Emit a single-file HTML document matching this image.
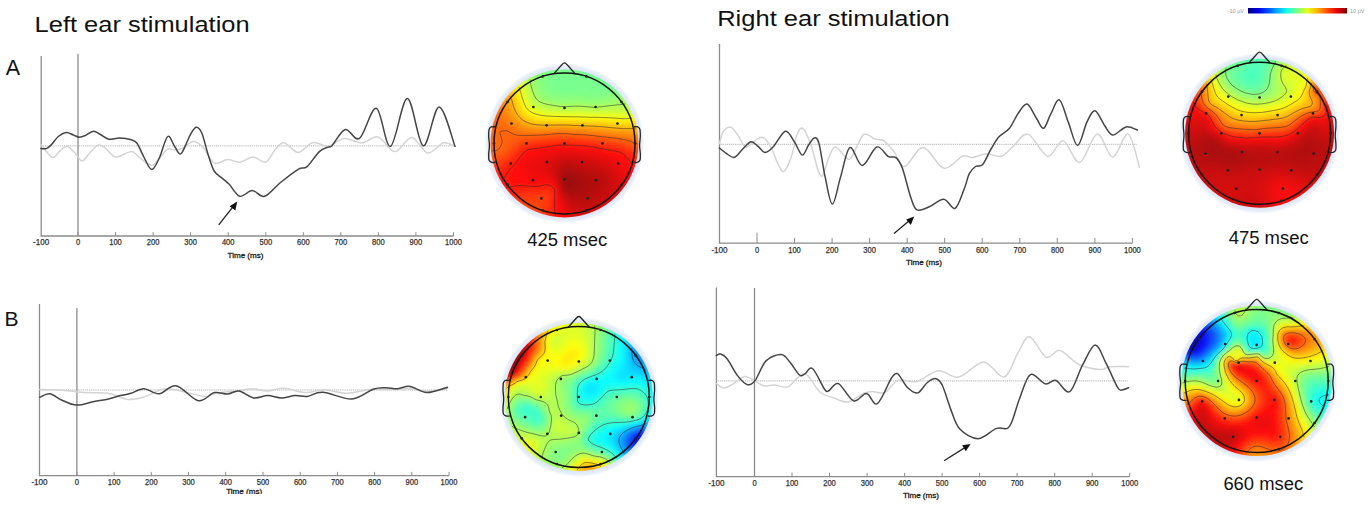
<!DOCTYPE html><html><head><meta charset="utf-8"><style>html,body{margin:0;padding:0;background:#fff;width:1371px;height:509px;overflow:hidden}svg{display:block}.c rect{width:4.6px;height:4.6px}</style></head><body>
<svg width="1371" height="509" viewBox="0 0 1371 509">
<defs><filter id="bl" x="-10%" y="-10%" width="120%" height="120%"><feGaussianBlur stdDeviation="2.2"/></filter>
<radialGradient id="halo"><stop offset="0.9" stop-color="#d9e3f6"/><stop offset="0.96" stop-color="#eaf0fa"/><stop offset="1" stop-color="#fff" stop-opacity="0"/></radialGradient>
<linearGradient id="jet" x1="0" x2="1">
<stop offset="0.00" stop-color="#00007f"/>
<stop offset="0.10" stop-color="#0000e5"/>
<stop offset="0.20" stop-color="#004cff"/>
<stop offset="0.30" stop-color="#00b2ff"/>
<stop offset="0.40" stop-color="#19ffe5"/>
<stop offset="0.50" stop-color="#7fff7f"/>
<stop offset="0.60" stop-color="#e5ff19"/>
<stop offset="0.70" stop-color="#ffb200"/>
<stop offset="0.80" stop-color="#ff4c00"/>
<stop offset="0.90" stop-color="#e50000"/>
<stop offset="1.00" stop-color="#7f0000"/>
</linearGradient>
<clipPath id="cp0"><circle cx="564.5" cy="143.4" r="74"/></clipPath>
<clipPath id="cp1"><circle cx="1259.6" cy="133.3" r="74.5"/></clipPath>
<clipPath id="cp2"><circle cx="578.8" cy="397" r="74"/></clipPath>
<clipPath id="cp3"><circle cx="1256.7" cy="381" r="75.1"/></clipPath>
</defs>
<text x="34.6" y="32.4" font-family="Liberation Sans, sans-serif" font-size="22" fill="#111" textLength="215" lengthAdjust="spacingAndGlyphs">Left ear stimulation</text>
<text x="717.2" y="25.6" font-family="Liberation Sans, sans-serif" font-size="22" fill="#111" textLength="232.5" lengthAdjust="spacingAndGlyphs">Right ear stimulation</text>
<text x="5.8" y="75.4" font-family="Liberation Sans, sans-serif" font-size="21.5" fill="#111">A</text>
<text x="4.4" y="325.6" font-family="Liberation Sans, sans-serif" font-size="21" fill="#111">B</text>
<text x="527.2" y="245.6" font-family="Liberation Sans, sans-serif" font-size="18" fill="#111" textLength="80" lengthAdjust="spacingAndGlyphs">425 msec</text>
<text x="1228.7" y="244" font-family="Liberation Sans, sans-serif" font-size="18" fill="#111" textLength="80" lengthAdjust="spacingAndGlyphs">475 msec</text>
<text x="1223.4" y="490.2" font-family="Liberation Sans, sans-serif" font-size="18" fill="#111" textLength="79.7" lengthAdjust="spacingAndGlyphs">660 msec</text>
<clipPath id="tclip"><rect x="0" y="0" width="1371" height="494"/></clipPath>
<path d="M41.2 56.0V236.0H453.5" fill="none" stroke="#8c8c8c" stroke-width="1.3"/>
<path d="M78.0 54.0V236.0" fill="none" stroke="#8c8c8c" stroke-width="1.3"/>
<path d="M78.0 236.0v-3.8M115.5 236.0v-3.8M153.1 236.0v-3.8M190.6 236.0v-3.8M228.2 236.0v-3.8M265.8 236.0v-3.8M303.3 236.0v-3.8M340.8 236.0v-3.8M378.4 236.0v-3.8M415.9 236.0v-3.8M453.5 236.0v-3.8" fill="none" stroke="#8c8c8c" stroke-width="1"/>
<path d="M41.2 145.9H455.0" fill="none" stroke="#a8a8a8" stroke-width="1" stroke-dasharray="1 0.9"/>
<text x="41.2" y="245.4" font-family="Liberation Sans, sans-serif" font-size="8.3" fill="#333" stroke="#333" stroke-width="0.25" text-anchor="middle" textLength="16.2" lengthAdjust="spacingAndGlyphs">-100</text>
<text x="78.0" y="245.4" font-family="Liberation Sans, sans-serif" font-size="8.3" fill="#333" stroke="#333" stroke-width="0.25" text-anchor="middle" textLength="4.2" lengthAdjust="spacingAndGlyphs">0</text>
<text x="115.5" y="245.4" font-family="Liberation Sans, sans-serif" font-size="8.3" fill="#333" stroke="#333" stroke-width="0.25" text-anchor="middle" textLength="12.6" lengthAdjust="spacingAndGlyphs">100</text>
<text x="153.1" y="245.4" font-family="Liberation Sans, sans-serif" font-size="8.3" fill="#333" stroke="#333" stroke-width="0.25" text-anchor="middle" textLength="12.6" lengthAdjust="spacingAndGlyphs">200</text>
<text x="190.6" y="245.4" font-family="Liberation Sans, sans-serif" font-size="8.3" fill="#333" stroke="#333" stroke-width="0.25" text-anchor="middle" textLength="12.6" lengthAdjust="spacingAndGlyphs">300</text>
<text x="228.2" y="245.4" font-family="Liberation Sans, sans-serif" font-size="8.3" fill="#333" stroke="#333" stroke-width="0.25" text-anchor="middle" textLength="12.6" lengthAdjust="spacingAndGlyphs">400</text>
<text x="265.8" y="245.4" font-family="Liberation Sans, sans-serif" font-size="8.3" fill="#333" stroke="#333" stroke-width="0.25" text-anchor="middle" textLength="12.6" lengthAdjust="spacingAndGlyphs">500</text>
<text x="303.3" y="245.4" font-family="Liberation Sans, sans-serif" font-size="8.3" fill="#333" stroke="#333" stroke-width="0.25" text-anchor="middle" textLength="12.6" lengthAdjust="spacingAndGlyphs">600</text>
<text x="340.8" y="245.4" font-family="Liberation Sans, sans-serif" font-size="8.3" fill="#333" stroke="#333" stroke-width="0.25" text-anchor="middle" textLength="12.6" lengthAdjust="spacingAndGlyphs">700</text>
<text x="378.4" y="245.4" font-family="Liberation Sans, sans-serif" font-size="8.3" fill="#333" stroke="#333" stroke-width="0.25" text-anchor="middle" textLength="12.6" lengthAdjust="spacingAndGlyphs">800</text>
<text x="415.9" y="245.4" font-family="Liberation Sans, sans-serif" font-size="8.3" fill="#333" stroke="#333" stroke-width="0.25" text-anchor="middle" textLength="12.6" lengthAdjust="spacingAndGlyphs">900</text>
<text x="453.5" y="245.4" font-family="Liberation Sans, sans-serif" font-size="8.3" fill="#333" stroke="#333" stroke-width="0.25" text-anchor="middle" textLength="16.8" lengthAdjust="spacingAndGlyphs">1000</text>
<text x="245.5" y="257.6" font-family="Liberation Sans, sans-serif" font-size="7.8" fill="#222" stroke="#222" stroke-width="0.3" text-anchor="middle" textLength="36" lengthAdjust="spacingAndGlyphs">Time (ms)</text>
<path d="M719.5 44.0V243.1H1132.4" fill="none" stroke="#8c8c8c" stroke-width="1.3"/>
<path d="M757.0 243.1v-10.5M794.5 243.1v-5.2M832.1 243.1v-5.2M869.6 243.1v-5.2M907.2 243.1v-5.2M944.7 243.1v-5.2M982.2 243.1v-5.2M1019.8 243.1v-5.2M1057.3 243.1v-5.2M1094.9 243.1v-5.2M1132.4 243.1v-5.2" fill="none" stroke="#8c8c8c" stroke-width="1"/>
<path d="M719.5 144.3H1137.5" fill="none" stroke="#a8a8a8" stroke-width="1" stroke-dasharray="1 0.9"/>
<text x="719.5" y="252.8" font-family="Liberation Sans, sans-serif" font-size="8.3" fill="#333" stroke="#333" stroke-width="0.25" text-anchor="middle" textLength="16.2" lengthAdjust="spacingAndGlyphs">-100</text>
<text x="757.0" y="252.8" font-family="Liberation Sans, sans-serif" font-size="8.3" fill="#333" stroke="#333" stroke-width="0.25" text-anchor="middle" textLength="4.2" lengthAdjust="spacingAndGlyphs">0</text>
<text x="794.5" y="252.8" font-family="Liberation Sans, sans-serif" font-size="8.3" fill="#333" stroke="#333" stroke-width="0.25" text-anchor="middle" textLength="12.6" lengthAdjust="spacingAndGlyphs">100</text>
<text x="832.1" y="252.8" font-family="Liberation Sans, sans-serif" font-size="8.3" fill="#333" stroke="#333" stroke-width="0.25" text-anchor="middle" textLength="12.6" lengthAdjust="spacingAndGlyphs">200</text>
<text x="869.6" y="252.8" font-family="Liberation Sans, sans-serif" font-size="8.3" fill="#333" stroke="#333" stroke-width="0.25" text-anchor="middle" textLength="12.6" lengthAdjust="spacingAndGlyphs">300</text>
<text x="907.2" y="252.8" font-family="Liberation Sans, sans-serif" font-size="8.3" fill="#333" stroke="#333" stroke-width="0.25" text-anchor="middle" textLength="12.6" lengthAdjust="spacingAndGlyphs">400</text>
<text x="944.7" y="252.8" font-family="Liberation Sans, sans-serif" font-size="8.3" fill="#333" stroke="#333" stroke-width="0.25" text-anchor="middle" textLength="12.6" lengthAdjust="spacingAndGlyphs">500</text>
<text x="982.2" y="252.8" font-family="Liberation Sans, sans-serif" font-size="8.3" fill="#333" stroke="#333" stroke-width="0.25" text-anchor="middle" textLength="12.6" lengthAdjust="spacingAndGlyphs">600</text>
<text x="1019.8" y="252.8" font-family="Liberation Sans, sans-serif" font-size="8.3" fill="#333" stroke="#333" stroke-width="0.25" text-anchor="middle" textLength="12.6" lengthAdjust="spacingAndGlyphs">700</text>
<text x="1057.3" y="252.8" font-family="Liberation Sans, sans-serif" font-size="8.3" fill="#333" stroke="#333" stroke-width="0.25" text-anchor="middle" textLength="12.6" lengthAdjust="spacingAndGlyphs">800</text>
<text x="1094.9" y="252.8" font-family="Liberation Sans, sans-serif" font-size="8.3" fill="#333" stroke="#333" stroke-width="0.25" text-anchor="middle" textLength="12.6" lengthAdjust="spacingAndGlyphs">900</text>
<text x="1132.4" y="252.8" font-family="Liberation Sans, sans-serif" font-size="8.3" fill="#333" stroke="#333" stroke-width="0.25" text-anchor="middle" textLength="16.8" lengthAdjust="spacingAndGlyphs">1000</text>
<text x="924.0" y="264.6" font-family="Liberation Sans, sans-serif" font-size="7.8" fill="#222" stroke="#222" stroke-width="0.3" text-anchor="middle" textLength="36" lengthAdjust="spacingAndGlyphs">Time (ms)</text>
<path d="M39.5 304.0V475.7H449.0" fill="none" stroke="#8c8c8c" stroke-width="1.3"/>
<path d="M76.9 308.3V475.7" fill="none" stroke="#8c8c8c" stroke-width="1.3"/>
<path d="M76.9 475.7v-3.8M114.1 475.7v-3.8M151.3 475.7v-3.8M188.5 475.7v-3.8M225.7 475.7v-3.8M263.0 475.7v-3.8M300.2 475.7v-3.8M337.4 475.7v-3.8M374.6 475.7v-3.8M411.8 475.7v-3.8M449.0 475.7v-3.8" fill="none" stroke="#8c8c8c" stroke-width="1"/>
<path d="M39.5 390.0H447.5" fill="none" stroke="#a8a8a8" stroke-width="1" stroke-dasharray="1 0.9"/>
<text x="39.5" y="484.7" font-family="Liberation Sans, sans-serif" font-size="8.3" fill="#333" stroke="#333" stroke-width="0.25" text-anchor="middle" textLength="16.2" lengthAdjust="spacingAndGlyphs">-100</text>
<text x="76.9" y="484.7" font-family="Liberation Sans, sans-serif" font-size="8.3" fill="#333" stroke="#333" stroke-width="0.25" text-anchor="middle" textLength="4.2" lengthAdjust="spacingAndGlyphs">0</text>
<text x="114.1" y="484.7" font-family="Liberation Sans, sans-serif" font-size="8.3" fill="#333" stroke="#333" stroke-width="0.25" text-anchor="middle" textLength="12.6" lengthAdjust="spacingAndGlyphs">100</text>
<text x="151.3" y="484.7" font-family="Liberation Sans, sans-serif" font-size="8.3" fill="#333" stroke="#333" stroke-width="0.25" text-anchor="middle" textLength="12.6" lengthAdjust="spacingAndGlyphs">200</text>
<text x="188.5" y="484.7" font-family="Liberation Sans, sans-serif" font-size="8.3" fill="#333" stroke="#333" stroke-width="0.25" text-anchor="middle" textLength="12.6" lengthAdjust="spacingAndGlyphs">300</text>
<text x="225.7" y="484.7" font-family="Liberation Sans, sans-serif" font-size="8.3" fill="#333" stroke="#333" stroke-width="0.25" text-anchor="middle" textLength="12.6" lengthAdjust="spacingAndGlyphs">400</text>
<text x="263.0" y="484.7" font-family="Liberation Sans, sans-serif" font-size="8.3" fill="#333" stroke="#333" stroke-width="0.25" text-anchor="middle" textLength="12.6" lengthAdjust="spacingAndGlyphs">500</text>
<text x="300.2" y="484.7" font-family="Liberation Sans, sans-serif" font-size="8.3" fill="#333" stroke="#333" stroke-width="0.25" text-anchor="middle" textLength="12.6" lengthAdjust="spacingAndGlyphs">600</text>
<text x="337.4" y="484.7" font-family="Liberation Sans, sans-serif" font-size="8.3" fill="#333" stroke="#333" stroke-width="0.25" text-anchor="middle" textLength="12.6" lengthAdjust="spacingAndGlyphs">700</text>
<text x="374.6" y="484.7" font-family="Liberation Sans, sans-serif" font-size="8.3" fill="#333" stroke="#333" stroke-width="0.25" text-anchor="middle" textLength="12.6" lengthAdjust="spacingAndGlyphs">800</text>
<text x="411.8" y="484.7" font-family="Liberation Sans, sans-serif" font-size="8.3" fill="#333" stroke="#333" stroke-width="0.25" text-anchor="middle" textLength="12.6" lengthAdjust="spacingAndGlyphs">900</text>
<text x="449.0" y="484.7" font-family="Liberation Sans, sans-serif" font-size="8.3" fill="#333" stroke="#333" stroke-width="0.25" text-anchor="middle" textLength="16.8" lengthAdjust="spacingAndGlyphs">1000</text>
<text x="244.2" y="494.4" font-family="Liberation Sans, sans-serif" font-size="7.8" fill="#222" stroke="#222" stroke-width="0.3" text-anchor="middle" textLength="36" lengthAdjust="spacingAndGlyphs" clip-path="url(#tclip)">Time (ms)</text>
<path d="M716.4 287.5V476.6H1129.7" fill="none" stroke="#8c8c8c" stroke-width="1.3"/>
<path d="M754.5 288.0V476.6" fill="none" stroke="#8c8c8c" stroke-width="1.3"/>
<path d="M754.5 476.6v-3.8M792.0 476.6v-3.8M829.5 476.6v-3.8M867.1 476.6v-3.8M904.6 476.6v-3.8M942.1 476.6v-3.8M979.6 476.6v-3.8M1017.1 476.6v-3.8M1054.7 476.6v-3.8M1092.2 476.6v-3.8M1129.7 476.6v-3.8" fill="none" stroke="#8c8c8c" stroke-width="1"/>
<path d="M716.4 380.9H1127.6" fill="none" stroke="#a8a8a8" stroke-width="1" stroke-dasharray="1 0.9"/>
<text x="716.4" y="486.0" font-family="Liberation Sans, sans-serif" font-size="8.3" fill="#333" stroke="#333" stroke-width="0.25" text-anchor="middle" textLength="16.2" lengthAdjust="spacingAndGlyphs">-100</text>
<text x="754.5" y="486.0" font-family="Liberation Sans, sans-serif" font-size="8.3" fill="#333" stroke="#333" stroke-width="0.25" text-anchor="middle" textLength="4.2" lengthAdjust="spacingAndGlyphs">0</text>
<text x="792.0" y="486.0" font-family="Liberation Sans, sans-serif" font-size="8.3" fill="#333" stroke="#333" stroke-width="0.25" text-anchor="middle" textLength="12.6" lengthAdjust="spacingAndGlyphs">100</text>
<text x="829.5" y="486.0" font-family="Liberation Sans, sans-serif" font-size="8.3" fill="#333" stroke="#333" stroke-width="0.25" text-anchor="middle" textLength="12.6" lengthAdjust="spacingAndGlyphs">200</text>
<text x="867.1" y="486.0" font-family="Liberation Sans, sans-serif" font-size="8.3" fill="#333" stroke="#333" stroke-width="0.25" text-anchor="middle" textLength="12.6" lengthAdjust="spacingAndGlyphs">300</text>
<text x="904.6" y="486.0" font-family="Liberation Sans, sans-serif" font-size="8.3" fill="#333" stroke="#333" stroke-width="0.25" text-anchor="middle" textLength="12.6" lengthAdjust="spacingAndGlyphs">400</text>
<text x="942.1" y="486.0" font-family="Liberation Sans, sans-serif" font-size="8.3" fill="#333" stroke="#333" stroke-width="0.25" text-anchor="middle" textLength="12.6" lengthAdjust="spacingAndGlyphs">500</text>
<text x="979.6" y="486.0" font-family="Liberation Sans, sans-serif" font-size="8.3" fill="#333" stroke="#333" stroke-width="0.25" text-anchor="middle" textLength="12.6" lengthAdjust="spacingAndGlyphs">600</text>
<text x="1017.1" y="486.0" font-family="Liberation Sans, sans-serif" font-size="8.3" fill="#333" stroke="#333" stroke-width="0.25" text-anchor="middle" textLength="12.6" lengthAdjust="spacingAndGlyphs">700</text>
<text x="1054.7" y="486.0" font-family="Liberation Sans, sans-serif" font-size="8.3" fill="#333" stroke="#333" stroke-width="0.25" text-anchor="middle" textLength="12.6" lengthAdjust="spacingAndGlyphs">800</text>
<text x="1092.2" y="486.0" font-family="Liberation Sans, sans-serif" font-size="8.3" fill="#333" stroke="#333" stroke-width="0.25" text-anchor="middle" textLength="12.6" lengthAdjust="spacingAndGlyphs">900</text>
<text x="1129.7" y="486.0" font-family="Liberation Sans, sans-serif" font-size="8.3" fill="#333" stroke="#333" stroke-width="0.25" text-anchor="middle" textLength="16.8" lengthAdjust="spacingAndGlyphs">1000</text>
<text x="921.0" y="498.0" font-family="Liberation Sans, sans-serif" font-size="7.8" fill="#222" stroke="#222" stroke-width="0.3" text-anchor="middle" textLength="36" lengthAdjust="spacingAndGlyphs">Time (ms)</text>
<path d="M218.7 224.9L234.5 204.8" stroke="#222" stroke-width="1.3"/><path d="M237.2 201.5L229.6 206.2L235.4 210.5Z" fill="#111"/>
<path d="M894 233.6L911 219.2" stroke="#222" stroke-width="1.3"/><path d="M914.2 216.4L906.2 219.6L910.8 224.9Z" fill="#111"/>
<path d="M944.1 460.8L966.8 446.4" stroke="#222" stroke-width="1.3"/><path d="M970.6 444L962.2 445.2L965.8 451.3Z" fill="#111"/>
<path d="M41 144.5C42.1 145.9 45.4 150.5 47.4 152.7C49.4 154.9 51.1 157.9 53.3 157.5C55.5 157.1 58 152.3 60.4 150.4C62.8 148.5 65 145.6 67.5 146.2C70 146.8 73.2 151.4 75.7 153.9C78.2 156.4 79.8 161.2 82.2 161C84.6 160.8 87.2 155.3 89.9 152.7C92.6 150 95.5 145.9 98.1 145.1C100.6 144.3 102.2 146 105.2 148C108.2 150 111.5 156.3 115.8 156.9C120.1 157.5 127.5 151.7 131.2 151.6C134.9 151.5 135.6 154.4 138.2 156.3C140.8 158.2 144 161.6 146.5 163C149 164.4 150.8 165.8 153 165C155.2 164.2 157.6 160.6 160 158C162.4 155.4 165.2 150.5 167.7 149.2C170.2 147.9 172.4 150.2 175 150C177.6 149.8 180 149.4 183 148C186 146.6 189.7 141.7 193 141.5C196.3 141.3 199.2 143.5 202.7 147.1C206.2 150.7 210.1 161 214.2 163.1C218.3 165.2 223.2 159.7 227.5 159.5C231.8 159.3 235.5 162.6 239.8 162.2C244.1 161.8 248.8 156.9 253.1 156.9C257.4 156.9 261.8 163.4 265.5 162.2C269.2 161 272.1 153.1 275.2 149.8C278.3 146.6 280.2 142.2 284 142.7C287.8 143.1 293.5 152.5 298.2 152.5C302.9 152.5 307.7 143.7 312.4 142.7C317.1 141.7 323.2 146 326.5 146.3C329.8 146.6 329 145.9 332 144.6C335 143.3 339.5 138.7 344.5 138.4C349.5 138.1 356.5 143 362.1 142.8C367.7 142.6 372.6 135.5 378.1 137C383.6 138.5 389.3 151.5 394.9 151.6C400.5 151.7 406.2 137.3 411.7 137.5C417.1 137.7 422.3 152 427.6 152.9C432.9 153.8 438.9 143.9 443.5 142.8C448.1 141.7 453.1 145.7 455 146.3" fill="none" stroke="#d4d4d4" stroke-width="1.5" stroke-linejoin="round" stroke-linecap="round"/>
<path d="M40.9 148.6C41.8 148.6 44.6 149.2 46.3 148.6C48 148 49 147.1 51 145.1C53 143.1 55.5 138.9 58 136.8C60.5 134.7 63.7 132.8 66.3 132.5C68.9 132.2 71.2 134.2 73.4 135C75.6 135.8 77.3 137.1 79.3 137.2C81.3 137.3 82.8 136.6 85.2 135.6C87.6 134.6 90.9 131.4 93.4 131.2C96 131 97.9 133.2 100.5 134.5C103.1 135.8 105.6 138.6 108.8 139.2C112 139.8 115.7 137.9 119.4 138C123.1 138.1 128.3 138.9 131.2 139.8C134.1 140.7 134.8 140.4 137 143.3C139.2 146.2 141.6 153.1 144.1 157.5C146.6 161.9 149.2 169.5 151.8 169.5C154.4 169.5 156.8 163 159.5 157.5C162.2 152 165.1 138.3 167.7 136.5C170.2 134.7 172.6 143.9 174.8 146.8C177 149.7 178.6 154.8 180.7 153.9C182.8 153 185.6 144.7 187.2 141.5C188.8 138.3 188.8 137.2 190.3 134.8C191.8 132.4 194.1 127.5 196 127.2C197.9 126.9 199.8 128.5 201.8 133C203.8 137.5 205.9 147.9 208 154.2C210.1 160.5 211.8 167 214.2 171C216.5 175 219.6 175.9 222.1 178.1C224.6 180.3 226.2 181.3 229.2 184.3C232.1 187.3 236 195.3 239.8 196.3C243.6 197.3 248.1 190.5 252.2 190.5C256.3 190.5 259.9 197.6 264.6 196.3C269.3 195 274.9 187 280.5 182.5C286.1 178 293.8 172 298.2 169.3C302.6 166.7 303.6 169.6 307.1 166.6C310.6 163.6 315.9 154.8 319.4 151.6C322.9 148.3 326.2 148.1 328.3 147.1C330.4 146.1 329.3 148.4 332.1 145.5C334.9 142.6 340.7 130.7 345.3 129.5C349.9 128.3 354.3 141.9 359.5 138.4C364.7 134.9 371.1 107 376.3 108.3C381.5 109.6 385.3 147.9 390.5 146.3C395.7 144.7 401.9 98.7 407.3 98.6C412.8 98.5 417.9 144.4 423.2 145.8C428.5 147.2 433.8 106.8 439.1 106.9C444.4 107 452.4 139.7 455 146.3" fill="none" stroke="#454545" stroke-width="1.5" stroke-linejoin="round" stroke-linecap="round"/>
<path d="M719.4 143.6C720.1 141.5 721.6 133.9 723.5 131.2C725.4 128.5 728.2 126.7 730.6 127.3C733 127.9 735.1 131.5 737.6 134.8C740.1 138.1 742.8 146.1 745.6 147.1C748.4 148.1 751.5 142.6 754.5 141C757.5 139.4 760.5 136.2 763.3 137.4C766.1 138.6 768.6 143.1 771.3 148C773.9 152.9 777 162.8 779.2 166.6C781.4 170.4 782.4 172.8 784.5 171C786.6 169.2 789.5 162 791.6 156C793.7 150 795 139.4 796.9 134.8C798.8 130.2 800.7 126.8 803.1 128.6C805.5 130.4 808.6 138.5 811.1 145.4C813.6 152.3 816.2 165.1 818.1 170.1C820 175.1 820.8 177.6 822.6 175.5C824.4 173.4 826.6 162.6 828.8 157.8C830.9 153.1 832.1 146.7 835.5 147C838.9 147.3 845.3 159.6 848.9 159.4C852.5 159.2 854.5 150.2 857.1 146C859.7 141.8 861.3 135.1 864.4 134C867.5 132.9 872.4 138.2 875.7 139.3C879 140.4 880.9 138.7 884 140.8C887.1 142.9 890.9 147.8 894.3 152.1C897.7 156.4 899.8 167.3 904.6 166.6C909.4 165.8 916.7 147.3 923.2 147.6C929.7 147.9 937.3 166.8 943.8 168.2C950.3 169.6 957.6 158.1 962.4 156.3C967.2 154.5 968.3 158 972.4 157.6C976.5 157.2 982 153.9 986.8 153.7C991.6 153.5 996.8 157.5 1001.3 156.2C1005.8 154.9 1009.1 149.6 1013.6 145.9C1018.1 142.2 1022.4 132.4 1028.1 134.1C1033.8 135.8 1041.8 155.1 1047.7 156.2C1053.6 157.3 1057.9 139.7 1063.2 140.7C1068.5 141.7 1074 163.5 1079.7 162.4C1085.4 161.3 1091.7 135 1097.2 134.1C1102.7 133.2 1107.6 157.2 1112.7 157.2C1117.8 157.2 1123.6 132.4 1128.1 134.1C1132.6 135.8 1137.6 161.9 1139.5 167.5" fill="none" stroke="#d4d4d4" stroke-width="1.5" stroke-linejoin="round" stroke-linecap="round"/>
<path d="M719.4 148C720.5 148.9 723.8 151.7 726.2 153.3C728.7 154.9 731.5 158 734.1 157.4C736.8 156.8 739.3 152.4 742.1 149.8C744.9 147.2 748.2 142.4 750.9 141.8C753.5 141.2 755.6 144.5 758 146.3C760.4 148.1 762.6 152.4 765.1 152.5C767.6 152.6 769.6 150.7 773 147.1C776.4 143.5 781.9 132.1 785.4 131.2C788.9 130.3 791.5 137.8 794.3 141.8C797.1 145.8 799.9 154.5 802.2 155.1C804.6 155.7 806.4 148.2 808.4 145.4C810.4 142.6 812.4 138.3 814.2 138C816 137.7 817.2 137.1 819 143.6C820.8 150.1 823 167.1 825.2 177.2C827.4 187.3 829.8 204.1 832.4 204.1C835 204.1 837.7 186.3 840.6 176.9C843.5 167.5 846.3 149.5 849.9 147.6C853.5 145.7 857.8 165.6 862.3 165.5C866.8 165.4 872.4 148.5 876.7 147C881 145.5 884.8 154.5 888.1 156.3C891.4 158.1 893.9 155.9 896.3 157.9C898.7 159.9 900.1 162 902.5 168.6C904.9 175.2 908.4 190.6 910.8 197.5C913.2 204.4 913.9 208.3 917 209.9C920.1 211.5 924.8 208.6 929.3 206.8C933.8 205 939.5 198.9 943.8 199.2C948.1 199.4 951.7 210 955.1 208.3C958.5 206.6 961.7 195 964.1 189.2C966.5 183.4 967.4 177.5 969.3 173.7C971.2 169.9 973.3 168.1 975.5 166.5C977.7 164.9 980.1 167.3 982.7 164.4C985.3 161.5 988.2 153.6 991 149C993.8 144.4 996.1 140 999.2 136.6C1002.3 133.2 1006.4 132.1 1009.5 128.3C1012.6 124.5 1014.9 118 1017.8 113.9C1020.7 109.9 1024 103.3 1027.1 104C1030.2 104.7 1033.5 114 1036.3 118C1039 122 1041.2 129 1043.6 128.3C1046 127.6 1048.2 118.6 1050.8 113.9C1053.4 109.2 1056.5 98.5 1059.4 99.9C1062.3 101.3 1065.3 114.5 1068.3 122.1C1071.3 129.7 1074.5 145.5 1077.6 145.5C1080.7 145.5 1084 127.9 1086.9 122.1C1089.8 116.3 1092.2 110.3 1095.1 110.8C1098 111.3 1101.5 121.2 1104.4 125.2C1107.3 129.2 1109.1 134.8 1112.7 135.1C1116.3 135.4 1122 127.8 1126.1 126.9C1130.2 126.1 1135.5 129.5 1137.4 130" fill="none" stroke="#454545" stroke-width="1.5" stroke-linejoin="round" stroke-linecap="round"/>
<path d="M39.8 389.5C43.5 389.6 54.2 389.8 62 390.3C69.8 390.8 78.8 392.1 86.5 392.6C94.2 393.1 101.1 392.2 108 393.3C114.9 394.4 122 398.9 127.9 399.5C133.8 400.1 137.6 398.9 143.2 397.2C148.8 395.5 156.5 390.8 161.6 389.5C166.7 388.2 166.7 388.4 173.8 389.5C181 390.6 197.6 395.8 204.5 396.4C211.4 397 209.3 394.3 215.2 393.3C221.1 392.3 233.8 391.1 240 390.3C246.2 389.5 247.7 388.6 252.3 388.7C256.9 388.8 262.2 391.1 267.6 391C273 390.9 278 388 284.4 388.3C290.8 388.6 299.2 392.4 305.8 392.6C312.4 392.9 317.3 389.7 324.2 389.8C331.1 389.9 339.5 393.4 347.2 393.3C354.9 393.2 362.5 390.1 370.2 389.5C377.9 388.9 386.2 389.6 393.1 389.5C400 389.4 405.6 388.4 411.5 388.7C417.4 389 422.4 391.3 428.4 391.3C434.4 391.3 444.3 389.1 447.5 388.7" fill="none" stroke="#d4d4d4" stroke-width="1.5" stroke-linejoin="round" stroke-linecap="round"/>
<path d="M39.8 397.2C41.5 396.6 46.1 393.3 49.8 393.8C53.5 394.3 57.5 398.3 62 400.2C66.5 402.1 71.2 404.9 76.6 405.1C82 405.3 89.2 402.3 94.2 401.4C99.2 400.5 102.1 400.5 106.4 399.5C110.7 398.5 116.1 396.6 120.2 395.6C124.3 394.6 127 394.5 131 393.3C135 392.1 139.3 388.6 144 388.7C148.7 388.8 154 394.3 159.3 393.8C164.7 393.3 169.6 384.6 176.1 385.7C182.6 386.8 191.9 399.5 198.3 400.7C204.7 401.9 209.6 393.7 214.4 392.6C219.2 391.5 223.3 394.4 227.4 394.1C231.5 393.8 234.5 390.4 238.9 391C243.3 391.6 249 397.1 253.8 397.9C258.6 398.7 263 395.6 267.6 395.6C272.2 395.6 276.7 397.9 281.3 397.9C285.9 397.9 290.8 395.9 295.1 395.6C299.5 395.4 302.8 396.9 307.4 396.4C312 395.8 315.3 391.9 322.7 392.3C330.1 392.7 343.4 399.5 351.8 399C360.2 398.5 367.6 391.1 373.2 389.2C378.8 387.3 381.4 387.8 385.5 387.7C389.6 387.6 393.6 388.9 397.7 388.7C401.8 388.5 405.1 385.8 410 386.4C414.9 387 420.6 392.5 426.8 392.6C433.1 392.7 444.1 388.1 447.5 387.2" fill="none" stroke="#454545" stroke-width="1.5" stroke-linejoin="round" stroke-linecap="round"/>
<path d="M716.3 383.6C717.6 384.3 721 388 723.9 388C726.8 388 730.2 385.5 733.6 383.6C737 381.7 741 377 744.4 376.5C747.8 376 750.9 378.8 754.1 380.4C757.4 381.9 760.5 385 763.9 385.8C767.3 386.6 770.8 384.9 774.7 385.1C778.7 385.3 783.7 388.2 787.6 386.9C791.5 385.6 795.1 379.1 798.4 377.1C801.6 375.1 803.5 372.5 807.1 375C810.7 377.5 815.8 388.5 820.1 392.3C824.4 396.1 828.3 396.1 833 397.7C837.7 399.3 843.2 402.7 848.2 402C853.2 401.3 859.3 395.1 863.3 393.4C867.2 391.7 868.3 391.8 871.9 391.6C875.5 391.4 880.6 394.2 884.9 392.3C889.2 390.4 892.6 382.2 897.9 380.4C903.2 378.6 909.9 383.1 916.6 381.5C923.3 379.9 931.2 371.4 938.2 370.7C945.2 370 951.2 378.6 958.8 377.1C966.4 375.7 976 362 983.6 362C991.2 362 998.4 378.5 1004.1 377.1C1009.8 375.7 1013.5 360.1 1017.7 353.4C1021.9 346.7 1024.8 336 1029.5 336.7C1034.2 337.4 1041 355 1046.1 357.3C1051.2 359.6 1054.5 349.2 1059.9 350.4C1065.3 351.5 1071.8 361 1078.5 364.2C1085.2 367.4 1094.8 369.1 1100.1 369.5C1105.3 369.9 1105.2 367.2 1110 366.7C1114.8 366.2 1125.5 366.7 1128.6 366.7" fill="none" stroke="#d4d4d4" stroke-width="1.5" stroke-linejoin="round" stroke-linecap="round"/>
<path d="M716.3 355.5C717 355.2 718.8 353.4 720.6 354C722.4 354.6 724.2 355.1 727.1 358.8C730 362.5 734.5 371.8 737.9 376.1C741.3 380.4 744.8 384 747.7 384.7C750.6 385.4 752.2 384.4 755.2 380.4C758.2 376.4 761.7 365.2 766 360.9C770.3 356.6 777.2 354.3 781.2 354.5C785.2 354.7 786.8 358.6 789.8 362C792.8 365.4 797 373 799.5 375C802 377 802.7 375 804.9 373.9C807.1 372.8 809.2 366 812.5 368.5C815.8 371 821.7 385.3 824.4 389C827.1 392.7 826.4 391.7 828.7 390.8C831 389.9 834.2 381.9 838.4 383.6C842.5 385.3 848.9 399.3 853.6 400.9C858.3 402.5 862.5 392.9 866.5 393.4C870.5 393.9 873.1 406.2 877.3 403.7C881.4 401.2 888.1 383.2 891.4 378.2C894.6 373.2 895.3 373.7 896.8 373.5C898.3 373.3 898.5 374.7 900.4 377.1C902.3 379.5 905.1 385.4 908 388C910.9 390.6 914.5 393.8 917.7 392.9C920.9 392 924.3 384.9 927.4 382.5C930.5 380.1 933.6 378.1 936.1 378.7C938.6 379.2 940 380.5 942.5 385.8C945 391.1 948.3 403.4 951.2 410.6C954.1 417.8 955.3 424.3 959.8 429C964.3 433.7 972.1 438.8 978.2 438.7C984.3 438.6 991.7 430.1 996.6 428.4C1001.5 426.7 1004.7 429.9 1007.4 428.4C1010.1 426.9 1010.8 424.2 1012.8 419.2C1014.8 414.2 1016.7 405.9 1019.6 398.5C1022.5 391.1 1026.1 377.1 1030.4 374.6C1034.7 372.2 1040.9 382.8 1045.2 383.8C1049.5 384.8 1051.9 379.2 1056 380.5C1060.1 381.8 1065.3 394.2 1069.7 391.7C1074.1 389.1 1078.2 373 1082.5 365.2C1086.8 357.4 1091.3 345.4 1095.2 345.1C1099.1 344.8 1102.2 356.1 1106 363.2C1109.8 370.3 1115 383.3 1117.8 387.7C1120.6 392.1 1120.9 389.7 1122.7 389.7C1124.5 389.7 1127.6 388 1128.6 387.7" fill="none" stroke="#454545" stroke-width="1.5" stroke-linejoin="round" stroke-linecap="round"/>
<circle cx="564.5" cy="143.4" r="81.1" fill="url(#halo)"/>
<g clip-path="url(#cp0)"><g filter="url(#bl)" class="c">
<path fill="#7fff89" d="M548.5 63.4h4.6v4.6h-4.6z"/>
<path fill="#7cff8c" d="M552.5 63.4h4.6v4.6h-4.6z"/>
<path fill="#7bff8d" d="M556.5 63.4h4.6v4.6h-4.6z"/>
<path fill="#7aff8f" d="M560.5 63.4h4.6v4.6h-4.6z"/>
<path fill="#79ff8f" d="M564.5 63.4h4.6v4.6h-4.6z"/>
<path fill="#78ff90" d="M568.5 63.4h4.6v4.6h-4.6z"/>
<path fill="#77ff91" d="M572.5 63.4h4.6v4.6h-4.6z"/>
<path fill="#76ff92" d="M576.5 63.4h4.6v4.6h-4.6z"/>
<path fill="#90ff78" d="M536.5 67.4h4.6v4.6h-4.6z"/>
<path fill="#88ff80" d="M540.5 67.4h4.6v4.6h-4.6z"/>
<path fill="#82ff86" d="M544.5 67.4h4.6v4.6h-4.6z"/>
<path fill="#7eff8a" d="M548.5 67.4h4.6v4.6h-4.6z"/>
<path fill="#7cff8c" d="M552.5 67.4h4.6v4.6h-4.6z"/>
<path fill="#7bff8e" d="M556.5 67.4h4.6v4.6h-4.6z"/>
<path fill="#7aff8e" d="M560.5 67.4h4.6v4.6h-4.6z"/>
<path fill="#7aff8f" d="M564.5 67.4h4.6v4.6h-4.6z"/>
<path fill="#79ff8f" d="M568.5 67.4h4.6v4.6h-4.6z"/>
<path fill="#78ff90" d="M572.5 67.4h4.6v4.6h-4.6z"/>
<path fill="#78ff91" d="M576.5 67.4h4.6v4.6h-4.6z"/>
<path fill="#77ff91" d="M580.5 67.4h4.6v4.6h-4.6z"/>
<path fill="#77ff92" d="M584.5 67.4h4.6v4.6h-4.6z"/>
<path fill="#75ff93" d="M588.5 67.4h4.6v4.6h-4.6z"/>
<path fill="#b9ff4f" d="M524.5 71.4h4.6v4.6h-4.6z"/>
<path fill="#a8ff60" d="M528.5 71.4h4.6v4.6h-4.6z"/>
<path fill="#9aff6e" d="M532.5 71.4h4.6v4.6h-4.6z"/>
<path fill="#8fff79" d="M536.5 71.4h4.6v4.6h-4.6z"/>
<path fill="#86ff82" d="M540.5 71.4h4.6v4.6h-4.6z"/>
<path fill="#81ff88" d="M544.5 71.4h4.6v4.6h-4.6z"/>
<path fill="#7dff8b" d="M548.5 71.4h4.6v4.6h-4.6z"/>
<path fill="#7bff8d" d="M552.5 71.4h4.6v4.6h-4.6z"/>
<path fill="#7aff8e" d="M556.5 71.4h4.6v4.6h-4.6z"/>
<path fill="#7aff8e" d="M560.5 71.4h4.6v4.6h-4.6z"/>
<path fill="#7aff8e" d="M564.5 71.4h4.6v4.6h-4.6z"/>
<path fill="#79ff8f" d="M568.5 71.4h4.6v4.6h-4.6z"/>
<path fill="#79ff8f" d="M572.5 71.4h4.6v4.6h-4.6z"/>
<path fill="#79ff90" d="M576.5 71.4h4.6v4.6h-4.6z"/>
<path fill="#79ff90" d="M580.5 71.4h4.6v4.6h-4.6z"/>
<path fill="#79ff90" d="M584.5 71.4h4.6v4.6h-4.6z"/>
<path fill="#78ff90" d="M588.5 71.4h4.6v4.6h-4.6z"/>
<path fill="#77ff92" d="M592.5 71.4h4.6v4.6h-4.6z"/>
<path fill="#74ff94" d="M596.5 71.4h4.6v4.6h-4.6z"/>
<path fill="#71ff98" d="M600.5 71.4h4.6v4.6h-4.6z"/>
<path fill="#d1ff37" d="M520.5 75.4h4.6v4.6h-4.6z"/>
<path fill="#bcff4c" d="M524.5 75.4h4.6v4.6h-4.6z"/>
<path fill="#a9ff5f" d="M528.5 75.4h4.6v4.6h-4.6z"/>
<path fill="#9aff6f" d="M532.5 75.4h4.6v4.6h-4.6z"/>
<path fill="#8eff7a" d="M536.5 75.4h4.6v4.6h-4.6z"/>
<path fill="#85ff83" d="M540.5 75.4h4.6v4.6h-4.6z"/>
<path fill="#7fff89" d="M544.5 75.4h4.6v4.6h-4.6z"/>
<path fill="#7cff8c" d="M548.5 75.4h4.6v4.6h-4.6z"/>
<path fill="#7aff8e" d="M552.5 75.4h4.6v4.6h-4.6z"/>
<path fill="#79ff8f" d="M556.5 75.4h4.6v4.6h-4.6z"/>
<path fill="#79ff8f" d="M560.5 75.4h4.6v4.6h-4.6z"/>
<path fill="#79ff8f" d="M564.5 75.4h4.6v4.6h-4.6z"/>
<path fill="#79ff8f" d="M568.5 75.4h4.6v4.6h-4.6z"/>
<path fill="#79ff8f" d="M572.5 75.4h4.6v4.6h-4.6z"/>
<path fill="#79ff8f" d="M576.5 75.4h4.6v4.6h-4.6z"/>
<path fill="#79ff8f" d="M580.5 75.4h4.6v4.6h-4.6z"/>
<path fill="#7aff8e" d="M584.5 75.4h4.6v4.6h-4.6z"/>
<path fill="#7aff8e" d="M588.5 75.4h4.6v4.6h-4.6z"/>
<path fill="#79ff8f" d="M592.5 75.4h4.6v4.6h-4.6z"/>
<path fill="#76ff92" d="M596.5 75.4h4.6v4.6h-4.6z"/>
<path fill="#73ff95" d="M600.5 75.4h4.6v4.6h-4.6z"/>
<path fill="#70ff98" d="M604.5 75.4h4.6v4.6h-4.6z"/>
<path fill="#fff80a" d="M512.5 79.4h4.6v4.6h-4.6z"/>
<path fill="#eeff1a" d="M516.5 79.4h4.6v4.6h-4.6z"/>
<path fill="#d7ff31" d="M520.5 79.4h4.6v4.6h-4.6z"/>
<path fill="#bfff49" d="M524.5 79.4h4.6v4.6h-4.6z"/>
<path fill="#aaff5e" d="M528.5 79.4h4.6v4.6h-4.6z"/>
<path fill="#9aff6e" d="M532.5 79.4h4.6v4.6h-4.6z"/>
<path fill="#8eff7a" d="M536.5 79.4h4.6v4.6h-4.6z"/>
<path fill="#85ff83" d="M540.5 79.4h4.6v4.6h-4.6z"/>
<path fill="#7fff89" d="M544.5 79.4h4.6v4.6h-4.6z"/>
<path fill="#7cff8d" d="M548.5 79.4h4.6v4.6h-4.6z"/>
<path fill="#7aff8f" d="M552.5 79.4h4.6v4.6h-4.6z"/>
<path fill="#79ff8f" d="M556.5 79.4h4.6v4.6h-4.6z"/>
<path fill="#79ff90" d="M560.5 79.4h4.6v4.6h-4.6z"/>
<path fill="#79ff90" d="M564.5 79.4h4.6v4.6h-4.6z"/>
<path fill="#79ff90" d="M568.5 79.4h4.6v4.6h-4.6z"/>
<path fill="#79ff90" d="M572.5 79.4h4.6v4.6h-4.6z"/>
<path fill="#79ff8f" d="M576.5 79.4h4.6v4.6h-4.6z"/>
<path fill="#79ff8f" d="M580.5 79.4h4.6v4.6h-4.6z"/>
<path fill="#7aff8e" d="M584.5 79.4h4.6v4.6h-4.6z"/>
<path fill="#7aff8e" d="M588.5 79.4h4.6v4.6h-4.6z"/>
<path fill="#79ff8f" d="M592.5 79.4h4.6v4.6h-4.6z"/>
<path fill="#77ff91" d="M596.5 79.4h4.6v4.6h-4.6z"/>
<path fill="#75ff93" d="M600.5 79.4h4.6v4.6h-4.6z"/>
<path fill="#73ff95" d="M604.5 79.4h4.6v4.6h-4.6z"/>
<path fill="#71ff97" d="M608.5 79.4h4.6v4.6h-4.6z"/>
<path fill="#70ff98" d="M612.5 79.4h4.6v4.6h-4.6z"/>
<path fill="#ffd80a" d="M508.5 83.4h4.6v4.6h-4.6z"/>
<path fill="#ffee0a" d="M512.5 83.4h4.6v4.6h-4.6z"/>
<path fill="#f8ff10" d="M516.5 83.4h4.6v4.6h-4.6z"/>
<path fill="#deff2a" d="M520.5 83.4h4.6v4.6h-4.6z"/>
<path fill="#c5ff44" d="M524.5 83.4h4.6v4.6h-4.6z"/>
<path fill="#aeff5b" d="M528.5 83.4h4.6v4.6h-4.6z"/>
<path fill="#9cff6c" d="M532.5 83.4h4.6v4.6h-4.6z"/>
<path fill="#8fff79" d="M536.5 83.4h4.6v4.6h-4.6z"/>
<path fill="#86ff82" d="M540.5 83.4h4.6v4.6h-4.6z"/>
<path fill="#80ff88" d="M544.5 83.4h4.6v4.6h-4.6z"/>
<path fill="#7cff8c" d="M548.5 83.4h4.6v4.6h-4.6z"/>
<path fill="#7aff8e" d="M552.5 83.4h4.6v4.6h-4.6z"/>
<path fill="#79ff8f" d="M556.5 83.4h4.6v4.6h-4.6z"/>
<path fill="#79ff8f" d="M560.5 83.4h4.6v4.6h-4.6z"/>
<path fill="#79ff8f" d="M564.5 83.4h4.6v4.6h-4.6z"/>
<path fill="#79ff8f" d="M568.5 83.4h4.6v4.6h-4.6z"/>
<path fill="#79ff8f" d="M572.5 83.4h4.6v4.6h-4.6z"/>
<path fill="#79ff8f" d="M576.5 83.4h4.6v4.6h-4.6z"/>
<path fill="#7aff8f" d="M580.5 83.4h4.6v4.6h-4.6z"/>
<path fill="#7aff8e" d="M584.5 83.4h4.6v4.6h-4.6z"/>
<path fill="#7aff8f" d="M588.5 83.4h4.6v4.6h-4.6z"/>
<path fill="#79ff8f" d="M592.5 83.4h4.6v4.6h-4.6z"/>
<path fill="#78ff90" d="M596.5 83.4h4.6v4.6h-4.6z"/>
<path fill="#77ff92" d="M600.5 83.4h4.6v4.6h-4.6z"/>
<path fill="#76ff92" d="M604.5 83.4h4.6v4.6h-4.6z"/>
<path fill="#75ff93" d="M608.5 83.4h4.6v4.6h-4.6z"/>
<path fill="#75ff93" d="M612.5 83.4h4.6v4.6h-4.6z"/>
<path fill="#76ff93" d="M616.5 83.4h4.6v4.6h-4.6z"/>
<path fill="#ffba0a" d="M504.5 87.4h4.6v4.6h-4.6z"/>
<path fill="#ffcd0a" d="M508.5 87.4h4.6v4.6h-4.6z"/>
<path fill="#ffe20a" d="M512.5 87.4h4.6v4.6h-4.6z"/>
<path fill="#fffb0a" d="M516.5 87.4h4.6v4.6h-4.6z"/>
<path fill="#e6ff22" d="M520.5 87.4h4.6v4.6h-4.6z"/>
<path fill="#cbff3d" d="M524.5 87.4h4.6v4.6h-4.6z"/>
<path fill="#b4ff55" d="M528.5 87.4h4.6v4.6h-4.6z"/>
<path fill="#a1ff68" d="M532.5 87.4h4.6v4.6h-4.6z"/>
<path fill="#93ff75" d="M536.5 87.4h4.6v4.6h-4.6z"/>
<path fill="#89ff7f" d="M540.5 87.4h4.6v4.6h-4.6z"/>
<path fill="#83ff85" d="M544.5 87.4h4.6v4.6h-4.6z"/>
<path fill="#7fff89" d="M548.5 87.4h4.6v4.6h-4.6z"/>
<path fill="#7dff8c" d="M552.5 87.4h4.6v4.6h-4.6z"/>
<path fill="#7bff8d" d="M556.5 87.4h4.6v4.6h-4.6z"/>
<path fill="#7bff8d" d="M560.5 87.4h4.6v4.6h-4.6z"/>
<path fill="#7bff8d" d="M564.5 87.4h4.6v4.6h-4.6z"/>
<path fill="#7bff8d" d="M568.5 87.4h4.6v4.6h-4.6z"/>
<path fill="#7bff8d" d="M572.5 87.4h4.6v4.6h-4.6z"/>
<path fill="#7bff8d" d="M576.5 87.4h4.6v4.6h-4.6z"/>
<path fill="#7bff8d" d="M580.5 87.4h4.6v4.6h-4.6z"/>
<path fill="#7bff8d" d="M584.5 87.4h4.6v4.6h-4.6z"/>
<path fill="#7aff8e" d="M588.5 87.4h4.6v4.6h-4.6z"/>
<path fill="#7aff8e" d="M592.5 87.4h4.6v4.6h-4.6z"/>
<path fill="#7aff8f" d="M596.5 87.4h4.6v4.6h-4.6z"/>
<path fill="#7aff8f" d="M600.5 87.4h4.6v4.6h-4.6z"/>
<path fill="#7aff8e" d="M604.5 87.4h4.6v4.6h-4.6z"/>
<path fill="#7bff8e" d="M608.5 87.4h4.6v4.6h-4.6z"/>
<path fill="#7bff8d" d="M612.5 87.4h4.6v4.6h-4.6z"/>
<path fill="#7cff8c" d="M616.5 87.4h4.6v4.6h-4.6z"/>
<path fill="#7eff8a" d="M620.5 87.4h4.6v4.6h-4.6z"/>
<path fill="#ffa00a" d="M500.5 91.4h4.6v4.6h-4.6z"/>
<path fill="#ffaf0a" d="M504.5 91.4h4.6v4.6h-4.6z"/>
<path fill="#ffc10a" d="M508.5 91.4h4.6v4.6h-4.6z"/>
<path fill="#ffd70a" d="M512.5 91.4h4.6v4.6h-4.6z"/>
<path fill="#fff20a" d="M516.5 91.4h4.6v4.6h-4.6z"/>
<path fill="#efff19" d="M520.5 91.4h4.6v4.6h-4.6z"/>
<path fill="#d3ff35" d="M524.5 91.4h4.6v4.6h-4.6z"/>
<path fill="#bbff4e" d="M528.5 91.4h4.6v4.6h-4.6z"/>
<path fill="#a7ff61" d="M532.5 91.4h4.6v4.6h-4.6z"/>
<path fill="#98ff70" d="M536.5 91.4h4.6v4.6h-4.6z"/>
<path fill="#8fff79" d="M540.5 91.4h4.6v4.6h-4.6z"/>
<path fill="#89ff80" d="M544.5 91.4h4.6v4.6h-4.6z"/>
<path fill="#84ff84" d="M548.5 91.4h4.6v4.6h-4.6z"/>
<path fill="#82ff87" d="M552.5 91.4h4.6v4.6h-4.6z"/>
<path fill="#80ff88" d="M556.5 91.4h4.6v4.6h-4.6z"/>
<path fill="#7fff89" d="M560.5 91.4h4.6v4.6h-4.6z"/>
<path fill="#7fff89" d="M564.5 91.4h4.6v4.6h-4.6z"/>
<path fill="#7fff89" d="M568.5 91.4h4.6v4.6h-4.6z"/>
<path fill="#7fff89" d="M572.5 91.4h4.6v4.6h-4.6z"/>
<path fill="#80ff89" d="M576.5 91.4h4.6v4.6h-4.6z"/>
<path fill="#7fff89" d="M580.5 91.4h4.6v4.6h-4.6z"/>
<path fill="#7fff8a" d="M584.5 91.4h4.6v4.6h-4.6z"/>
<path fill="#7eff8a" d="M588.5 91.4h4.6v4.6h-4.6z"/>
<path fill="#7dff8b" d="M592.5 91.4h4.6v4.6h-4.6z"/>
<path fill="#7eff8a" d="M596.5 91.4h4.6v4.6h-4.6z"/>
<path fill="#7fff89" d="M600.5 91.4h4.6v4.6h-4.6z"/>
<path fill="#80ff88" d="M604.5 91.4h4.6v4.6h-4.6z"/>
<path fill="#82ff86" d="M608.5 91.4h4.6v4.6h-4.6z"/>
<path fill="#83ff85" d="M612.5 91.4h4.6v4.6h-4.6z"/>
<path fill="#85ff83" d="M616.5 91.4h4.6v4.6h-4.6z"/>
<path fill="#87ff81" d="M620.5 91.4h4.6v4.6h-4.6z"/>
<path fill="#89ff7f" d="M624.5 91.4h4.6v4.6h-4.6z"/>
<path fill="#ff970a" d="M500.5 95.4h4.6v4.6h-4.6z"/>
<path fill="#ffa40a" d="M504.5 95.4h4.6v4.6h-4.6z"/>
<path fill="#ffb50a" d="M508.5 95.4h4.6v4.6h-4.6z"/>
<path fill="#ffcd0a" d="M512.5 95.4h4.6v4.6h-4.6z"/>
<path fill="#ffe80a" d="M516.5 95.4h4.6v4.6h-4.6z"/>
<path fill="#f8ff11" d="M520.5 95.4h4.6v4.6h-4.6z"/>
<path fill="#dcff2d" d="M524.5 95.4h4.6v4.6h-4.6z"/>
<path fill="#c3ff45" d="M528.5 95.4h4.6v4.6h-4.6z"/>
<path fill="#afff59" d="M532.5 95.4h4.6v4.6h-4.6z"/>
<path fill="#a1ff68" d="M536.5 95.4h4.6v4.6h-4.6z"/>
<path fill="#97ff71" d="M540.5 95.4h4.6v4.6h-4.6z"/>
<path fill="#91ff77" d="M544.5 95.4h4.6v4.6h-4.6z"/>
<path fill="#8dff7b" d="M548.5 95.4h4.6v4.6h-4.6z"/>
<path fill="#8aff7e" d="M552.5 95.4h4.6v4.6h-4.6z"/>
<path fill="#88ff80" d="M556.5 95.4h4.6v4.6h-4.6z"/>
<path fill="#87ff81" d="M560.5 95.4h4.6v4.6h-4.6z"/>
<path fill="#87ff82" d="M564.5 95.4h4.6v4.6h-4.6z"/>
<path fill="#87ff81" d="M568.5 95.4h4.6v4.6h-4.6z"/>
<path fill="#88ff81" d="M572.5 95.4h4.6v4.6h-4.6z"/>
<path fill="#88ff81" d="M576.5 95.4h4.6v4.6h-4.6z"/>
<path fill="#87ff81" d="M580.5 95.4h4.6v4.6h-4.6z"/>
<path fill="#86ff82" d="M584.5 95.4h4.6v4.6h-4.6z"/>
<path fill="#85ff83" d="M588.5 95.4h4.6v4.6h-4.6z"/>
<path fill="#85ff84" d="M592.5 95.4h4.6v4.6h-4.6z"/>
<path fill="#85ff83" d="M596.5 95.4h4.6v4.6h-4.6z"/>
<path fill="#87ff81" d="M600.5 95.4h4.6v4.6h-4.6z"/>
<path fill="#8aff7f" d="M604.5 95.4h4.6v4.6h-4.6z"/>
<path fill="#8cff7c" d="M608.5 95.4h4.6v4.6h-4.6z"/>
<path fill="#8eff7a" d="M612.5 95.4h4.6v4.6h-4.6z"/>
<path fill="#90ff78" d="M616.5 95.4h4.6v4.6h-4.6z"/>
<path fill="#92ff76" d="M620.5 95.4h4.6v4.6h-4.6z"/>
<path fill="#95ff73" d="M624.5 95.4h4.6v4.6h-4.6z"/>
<path fill="#ff840a" d="M496.5 99.4h4.6v4.6h-4.6z"/>
<path fill="#ff8f0a" d="M500.5 99.4h4.6v4.6h-4.6z"/>
<path fill="#ff9b0a" d="M504.5 99.4h4.6v4.6h-4.6z"/>
<path fill="#ffac0a" d="M508.5 99.4h4.6v4.6h-4.6z"/>
<path fill="#ffc40a" d="M512.5 99.4h4.6v4.6h-4.6z"/>
<path fill="#ffe00a" d="M516.5 99.4h4.6v4.6h-4.6z"/>
<path fill="#fffc0a" d="M520.5 99.4h4.6v4.6h-4.6z"/>
<path fill="#e5ff23" d="M524.5 99.4h4.6v4.6h-4.6z"/>
<path fill="#ceff3b" d="M528.5 99.4h4.6v4.6h-4.6z"/>
<path fill="#bbff4e" d="M532.5 99.4h4.6v4.6h-4.6z"/>
<path fill="#adff5b" d="M536.5 99.4h4.6v4.6h-4.6z"/>
<path fill="#a5ff64" d="M540.5 99.4h4.6v4.6h-4.6z"/>
<path fill="#9fff69" d="M544.5 99.4h4.6v4.6h-4.6z"/>
<path fill="#9bff6e" d="M548.5 99.4h4.6v4.6h-4.6z"/>
<path fill="#97ff71" d="M552.5 99.4h4.6v4.6h-4.6z"/>
<path fill="#94ff74" d="M556.5 99.4h4.6v4.6h-4.6z"/>
<path fill="#93ff75" d="M560.5 99.4h4.6v4.6h-4.6z"/>
<path fill="#93ff76" d="M564.5 99.4h4.6v4.6h-4.6z"/>
<path fill="#94ff75" d="M568.5 99.4h4.6v4.6h-4.6z"/>
<path fill="#94ff74" d="M572.5 99.4h4.6v4.6h-4.6z"/>
<path fill="#95ff74" d="M576.5 99.4h4.6v4.6h-4.6z"/>
<path fill="#94ff74" d="M580.5 99.4h4.6v4.6h-4.6z"/>
<path fill="#92ff76" d="M584.5 99.4h4.6v4.6h-4.6z"/>
<path fill="#91ff78" d="M588.5 99.4h4.6v4.6h-4.6z"/>
<path fill="#90ff78" d="M592.5 99.4h4.6v4.6h-4.6z"/>
<path fill="#91ff77" d="M596.5 99.4h4.6v4.6h-4.6z"/>
<path fill="#94ff74" d="M600.5 99.4h4.6v4.6h-4.6z"/>
<path fill="#97ff72" d="M604.5 99.4h4.6v4.6h-4.6z"/>
<path fill="#99ff6f" d="M608.5 99.4h4.6v4.6h-4.6z"/>
<path fill="#9bff6d" d="M612.5 99.4h4.6v4.6h-4.6z"/>
<path fill="#9eff6b" d="M616.5 99.4h4.6v4.6h-4.6z"/>
<path fill="#a0ff68" d="M620.5 99.4h4.6v4.6h-4.6z"/>
<path fill="#a2ff66" d="M624.5 99.4h4.6v4.6h-4.6z"/>
<path fill="#a5ff63" d="M628.5 99.4h4.6v4.6h-4.6z"/>
<path fill="#ff770a" d="M492.5 103.4h4.6v4.6h-4.6z"/>
<path fill="#ff7e0a" d="M496.5 103.4h4.6v4.6h-4.6z"/>
<path fill="#ff880a" d="M500.5 103.4h4.6v4.6h-4.6z"/>
<path fill="#ff950a" d="M504.5 103.4h4.6v4.6h-4.6z"/>
<path fill="#ffa60a" d="M508.5 103.4h4.6v4.6h-4.6z"/>
<path fill="#ffbc0a" d="M512.5 103.4h4.6v4.6h-4.6z"/>
<path fill="#ffd70a" d="M516.5 103.4h4.6v4.6h-4.6z"/>
<path fill="#fff20a" d="M520.5 103.4h4.6v4.6h-4.6z"/>
<path fill="#f1ff17" d="M524.5 103.4h4.6v4.6h-4.6z"/>
<path fill="#dbff2d" d="M528.5 103.4h4.6v4.6h-4.6z"/>
<path fill="#cbff3d" d="M532.5 103.4h4.6v4.6h-4.6z"/>
<path fill="#bfff49" d="M536.5 103.4h4.6v4.6h-4.6z"/>
<path fill="#b7ff51" d="M540.5 103.4h4.6v4.6h-4.6z"/>
<path fill="#b2ff57" d="M544.5 103.4h4.6v4.6h-4.6z"/>
<path fill="#adff5b" d="M548.5 103.4h4.6v4.6h-4.6z"/>
<path fill="#aaff5e" d="M552.5 103.4h4.6v4.6h-4.6z"/>
<path fill="#a7ff61" d="M556.5 103.4h4.6v4.6h-4.6z"/>
<path fill="#a4ff64" d="M560.5 103.4h4.6v4.6h-4.6z"/>
<path fill="#a4ff64" d="M564.5 103.4h4.6v4.6h-4.6z"/>
<path fill="#a6ff62" d="M568.5 103.4h4.6v4.6h-4.6z"/>
<path fill="#a7ff61" d="M572.5 103.4h4.6v4.6h-4.6z"/>
<path fill="#a7ff61" d="M576.5 103.4h4.6v4.6h-4.6z"/>
<path fill="#a6ff62" d="M580.5 103.4h4.6v4.6h-4.6z"/>
<path fill="#a4ff64" d="M584.5 103.4h4.6v4.6h-4.6z"/>
<path fill="#a2ff66" d="M588.5 103.4h4.6v4.6h-4.6z"/>
<path fill="#a1ff68" d="M592.5 103.4h4.6v4.6h-4.6z"/>
<path fill="#a2ff66" d="M596.5 103.4h4.6v4.6h-4.6z"/>
<path fill="#a5ff63" d="M600.5 103.4h4.6v4.6h-4.6z"/>
<path fill="#a8ff60" d="M604.5 103.4h4.6v4.6h-4.6z"/>
<path fill="#aaff5e" d="M608.5 103.4h4.6v4.6h-4.6z"/>
<path fill="#acff5c" d="M612.5 103.4h4.6v4.6h-4.6z"/>
<path fill="#aeff5a" d="M616.5 103.4h4.6v4.6h-4.6z"/>
<path fill="#b0ff59" d="M620.5 103.4h4.6v4.6h-4.6z"/>
<path fill="#b2ff56" d="M624.5 103.4h4.6v4.6h-4.6z"/>
<path fill="#b5ff53" d="M628.5 103.4h4.6v4.6h-4.6z"/>
<path fill="#b9ff50" d="M632.5 103.4h4.6v4.6h-4.6z"/>
<path fill="#ff720a" d="M492.5 107.4h4.6v4.6h-4.6z"/>
<path fill="#ff790a" d="M496.5 107.4h4.6v4.6h-4.6z"/>
<path fill="#ff820a" d="M500.5 107.4h4.6v4.6h-4.6z"/>
<path fill="#ff8f0a" d="M504.5 107.4h4.6v4.6h-4.6z"/>
<path fill="#ffa00a" d="M508.5 107.4h4.6v4.6h-4.6z"/>
<path fill="#ffb40a" d="M512.5 107.4h4.6v4.6h-4.6z"/>
<path fill="#ffcc0a" d="M516.5 107.4h4.6v4.6h-4.6z"/>
<path fill="#ffe50a" d="M520.5 107.4h4.6v4.6h-4.6z"/>
<path fill="#fffd0a" d="M524.5 107.4h4.6v4.6h-4.6z"/>
<path fill="#edff1b" d="M528.5 107.4h4.6v4.6h-4.6z"/>
<path fill="#e0ff29" d="M532.5 107.4h4.6v4.6h-4.6z"/>
<path fill="#d6ff33" d="M536.5 107.4h4.6v4.6h-4.6z"/>
<path fill="#ceff3a" d="M540.5 107.4h4.6v4.6h-4.6z"/>
<path fill="#c9ff3f" d="M544.5 107.4h4.6v4.6h-4.6z"/>
<path fill="#c6ff42" d="M548.5 107.4h4.6v4.6h-4.6z"/>
<path fill="#c3ff46" d="M552.5 107.4h4.6v4.6h-4.6z"/>
<path fill="#c0ff48" d="M556.5 107.4h4.6v4.6h-4.6z"/>
<path fill="#beff4b" d="M560.5 107.4h4.6v4.6h-4.6z"/>
<path fill="#beff4b" d="M564.5 107.4h4.6v4.6h-4.6z"/>
<path fill="#bfff4a" d="M568.5 107.4h4.6v4.6h-4.6z"/>
<path fill="#bfff49" d="M572.5 107.4h4.6v4.6h-4.6z"/>
<path fill="#bfff49" d="M576.5 107.4h4.6v4.6h-4.6z"/>
<path fill="#beff4a" d="M580.5 107.4h4.6v4.6h-4.6z"/>
<path fill="#bcff4c" d="M584.5 107.4h4.6v4.6h-4.6z"/>
<path fill="#baff4e" d="M588.5 107.4h4.6v4.6h-4.6z"/>
<path fill="#b9ff50" d="M592.5 107.4h4.6v4.6h-4.6z"/>
<path fill="#baff4e" d="M596.5 107.4h4.6v4.6h-4.6z"/>
<path fill="#bcff4c" d="M600.5 107.4h4.6v4.6h-4.6z"/>
<path fill="#beff4a" d="M604.5 107.4h4.6v4.6h-4.6z"/>
<path fill="#c0ff48" d="M608.5 107.4h4.6v4.6h-4.6z"/>
<path fill="#c1ff47" d="M612.5 107.4h4.6v4.6h-4.6z"/>
<path fill="#c1ff47" d="M616.5 107.4h4.6v4.6h-4.6z"/>
<path fill="#c2ff46" d="M620.5 107.4h4.6v4.6h-4.6z"/>
<path fill="#c4ff44" d="M624.5 107.4h4.6v4.6h-4.6z"/>
<path fill="#c7ff41" d="M628.5 107.4h4.6v4.6h-4.6z"/>
<path fill="#cbff3d" d="M632.5 107.4h4.6v4.6h-4.6z"/>
<path fill="#ff6e0a" d="M492.5 111.4h4.6v4.6h-4.6z"/>
<path fill="#ff750a" d="M496.5 111.4h4.6v4.6h-4.6z"/>
<path fill="#ff7d0a" d="M500.5 111.4h4.6v4.6h-4.6z"/>
<path fill="#ff880a" d="M504.5 111.4h4.6v4.6h-4.6z"/>
<path fill="#ff970a" d="M508.5 111.4h4.6v4.6h-4.6z"/>
<path fill="#ffaa0a" d="M512.5 111.4h4.6v4.6h-4.6z"/>
<path fill="#ffbf0a" d="M516.5 111.4h4.6v4.6h-4.6z"/>
<path fill="#ffd50a" d="M520.5 111.4h4.6v4.6h-4.6z"/>
<path fill="#ffe90a" d="M524.5 111.4h4.6v4.6h-4.6z"/>
<path fill="#fff90a" d="M528.5 111.4h4.6v4.6h-4.6z"/>
<path fill="#f8ff10" d="M532.5 111.4h4.6v4.6h-4.6z"/>
<path fill="#f0ff18" d="M536.5 111.4h4.6v4.6h-4.6z"/>
<path fill="#eaff1e" d="M540.5 111.4h4.6v4.6h-4.6z"/>
<path fill="#e6ff23" d="M544.5 111.4h4.6v4.6h-4.6z"/>
<path fill="#e3ff25" d="M548.5 111.4h4.6v4.6h-4.6z"/>
<path fill="#e0ff28" d="M552.5 111.4h4.6v4.6h-4.6z"/>
<path fill="#dfff2a" d="M556.5 111.4h4.6v4.6h-4.6z"/>
<path fill="#ddff2b" d="M560.5 111.4h4.6v4.6h-4.6z"/>
<path fill="#ddff2b" d="M564.5 111.4h4.6v4.6h-4.6z"/>
<path fill="#ddff2b" d="M568.5 111.4h4.6v4.6h-4.6z"/>
<path fill="#ddff2b" d="M572.5 111.4h4.6v4.6h-4.6z"/>
<path fill="#ddff2c" d="M576.5 111.4h4.6v4.6h-4.6z"/>
<path fill="#dcff2d" d="M580.5 111.4h4.6v4.6h-4.6z"/>
<path fill="#daff2e" d="M584.5 111.4h4.6v4.6h-4.6z"/>
<path fill="#d9ff30" d="M588.5 111.4h4.6v4.6h-4.6z"/>
<path fill="#d8ff30" d="M592.5 111.4h4.6v4.6h-4.6z"/>
<path fill="#d8ff30" d="M596.5 111.4h4.6v4.6h-4.6z"/>
<path fill="#d9ff2f" d="M600.5 111.4h4.6v4.6h-4.6z"/>
<path fill="#d9ff2f" d="M604.5 111.4h4.6v4.6h-4.6z"/>
<path fill="#d9ff2f" d="M608.5 111.4h4.6v4.6h-4.6z"/>
<path fill="#d9ff2f" d="M612.5 111.4h4.6v4.6h-4.6z"/>
<path fill="#d8ff30" d="M616.5 111.4h4.6v4.6h-4.6z"/>
<path fill="#d8ff30" d="M620.5 111.4h4.6v4.6h-4.6z"/>
<path fill="#d9ff2f" d="M624.5 111.4h4.6v4.6h-4.6z"/>
<path fill="#dcff2c" d="M628.5 111.4h4.6v4.6h-4.6z"/>
<path fill="#e0ff28" d="M632.5 111.4h4.6v4.6h-4.6z"/>
<path fill="#ff680a" d="M488.5 115.4h4.6v4.6h-4.6z"/>
<path fill="#ff6b0a" d="M492.5 115.4h4.6v4.6h-4.6z"/>
<path fill="#ff700a" d="M496.5 115.4h4.6v4.6h-4.6z"/>
<path fill="#ff770a" d="M500.5 115.4h4.6v4.6h-4.6z"/>
<path fill="#ff810a" d="M504.5 115.4h4.6v4.6h-4.6z"/>
<path fill="#ff8e0a" d="M508.5 115.4h4.6v4.6h-4.6z"/>
<path fill="#ff9e0a" d="M512.5 115.4h4.6v4.6h-4.6z"/>
<path fill="#ffaf0a" d="M516.5 115.4h4.6v4.6h-4.6z"/>
<path fill="#ffc10a" d="M520.5 115.4h4.6v4.6h-4.6z"/>
<path fill="#ffd20a" d="M524.5 115.4h4.6v4.6h-4.6z"/>
<path fill="#ffdf0a" d="M528.5 115.4h4.6v4.6h-4.6z"/>
<path fill="#ffe90a" d="M532.5 115.4h4.6v4.6h-4.6z"/>
<path fill="#fff00a" d="M536.5 115.4h4.6v4.6h-4.6z"/>
<path fill="#fff50a" d="M540.5 115.4h4.6v4.6h-4.6z"/>
<path fill="#fff80a" d="M544.5 115.4h4.6v4.6h-4.6z"/>
<path fill="#fffa0a" d="M548.5 115.4h4.6v4.6h-4.6z"/>
<path fill="#fffb0a" d="M552.5 115.4h4.6v4.6h-4.6z"/>
<path fill="#fffc0a" d="M556.5 115.4h4.6v4.6h-4.6z"/>
<path fill="#fffc0a" d="M560.5 115.4h4.6v4.6h-4.6z"/>
<path fill="#fffd0a" d="M564.5 115.4h4.6v4.6h-4.6z"/>
<path fill="#fffd0a" d="M568.5 115.4h4.6v4.6h-4.6z"/>
<path fill="#fffe0a" d="M572.5 115.4h4.6v4.6h-4.6z"/>
<path fill="#feff0a" d="M576.5 115.4h4.6v4.6h-4.6z"/>
<path fill="#fdff0b" d="M580.5 115.4h4.6v4.6h-4.6z"/>
<path fill="#fcff0d" d="M584.5 115.4h4.6v4.6h-4.6z"/>
<path fill="#fbff0d" d="M588.5 115.4h4.6v4.6h-4.6z"/>
<path fill="#faff0e" d="M592.5 115.4h4.6v4.6h-4.6z"/>
<path fill="#faff0e" d="M596.5 115.4h4.6v4.6h-4.6z"/>
<path fill="#f9ff0f" d="M600.5 115.4h4.6v4.6h-4.6z"/>
<path fill="#f8ff10" d="M604.5 115.4h4.6v4.6h-4.6z"/>
<path fill="#f6ff12" d="M608.5 115.4h4.6v4.6h-4.6z"/>
<path fill="#f5ff14" d="M612.5 115.4h4.6v4.6h-4.6z"/>
<path fill="#f3ff15" d="M616.5 115.4h4.6v4.6h-4.6z"/>
<path fill="#f1ff17" d="M620.5 115.4h4.6v4.6h-4.6z"/>
<path fill="#f1ff17" d="M624.5 115.4h4.6v4.6h-4.6z"/>
<path fill="#f4ff14" d="M628.5 115.4h4.6v4.6h-4.6z"/>
<path fill="#f8ff11" d="M632.5 115.4h4.6v4.6h-4.6z"/>
<path fill="#faff0e" d="M636.5 115.4h4.6v4.6h-4.6z"/>
<path fill="#ff660a" d="M488.5 119.4h4.6v4.6h-4.6z"/>
<path fill="#ff690a" d="M492.5 119.4h4.6v4.6h-4.6z"/>
<path fill="#ff6c0a" d="M496.5 119.4h4.6v4.6h-4.6z"/>
<path fill="#ff710a" d="M500.5 119.4h4.6v4.6h-4.6z"/>
<path fill="#ff790a" d="M504.5 119.4h4.6v4.6h-4.6z"/>
<path fill="#ff830a" d="M508.5 119.4h4.6v4.6h-4.6z"/>
<path fill="#ff900a" d="M512.5 119.4h4.6v4.6h-4.6z"/>
<path fill="#ff9e0a" d="M516.5 119.4h4.6v4.6h-4.6z"/>
<path fill="#ffad0a" d="M520.5 119.4h4.6v4.6h-4.6z"/>
<path fill="#ffba0a" d="M524.5 119.4h4.6v4.6h-4.6z"/>
<path fill="#ffc40a" d="M528.5 119.4h4.6v4.6h-4.6z"/>
<path fill="#ffcc0a" d="M532.5 119.4h4.6v4.6h-4.6z"/>
<path fill="#ffd10a" d="M536.5 119.4h4.6v4.6h-4.6z"/>
<path fill="#ffd40a" d="M540.5 119.4h4.6v4.6h-4.6z"/>
<path fill="#ffd60a" d="M544.5 119.4h4.6v4.6h-4.6z"/>
<path fill="#ffd70a" d="M548.5 119.4h4.6v4.6h-4.6z"/>
<path fill="#ffd70a" d="M552.5 119.4h4.6v4.6h-4.6z"/>
<path fill="#ffd70a" d="M556.5 119.4h4.6v4.6h-4.6z"/>
<path fill="#ffd70a" d="M560.5 119.4h4.6v4.6h-4.6z"/>
<path fill="#ffd80a" d="M564.5 119.4h4.6v4.6h-4.6z"/>
<path fill="#ffd90a" d="M568.5 119.4h4.6v4.6h-4.6z"/>
<path fill="#ffda0a" d="M572.5 119.4h4.6v4.6h-4.6z"/>
<path fill="#ffdb0a" d="M576.5 119.4h4.6v4.6h-4.6z"/>
<path fill="#ffdd0a" d="M580.5 119.4h4.6v4.6h-4.6z"/>
<path fill="#ffde0a" d="M584.5 119.4h4.6v4.6h-4.6z"/>
<path fill="#ffdf0a" d="M588.5 119.4h4.6v4.6h-4.6z"/>
<path fill="#ffdf0a" d="M592.5 119.4h4.6v4.6h-4.6z"/>
<path fill="#ffe00a" d="M596.5 119.4h4.6v4.6h-4.6z"/>
<path fill="#ffe20a" d="M600.5 119.4h4.6v4.6h-4.6z"/>
<path fill="#ffe50a" d="M604.5 119.4h4.6v4.6h-4.6z"/>
<path fill="#ffe70a" d="M608.5 119.4h4.6v4.6h-4.6z"/>
<path fill="#ffea0a" d="M612.5 119.4h4.6v4.6h-4.6z"/>
<path fill="#ffec0a" d="M616.5 119.4h4.6v4.6h-4.6z"/>
<path fill="#ffee0a" d="M620.5 119.4h4.6v4.6h-4.6z"/>
<path fill="#ffef0a" d="M624.5 119.4h4.6v4.6h-4.6z"/>
<path fill="#ffed0a" d="M628.5 119.4h4.6v4.6h-4.6z"/>
<path fill="#ffea0a" d="M632.5 119.4h4.6v4.6h-4.6z"/>
<path fill="#ffe90a" d="M636.5 119.4h4.6v4.6h-4.6z"/>
<path fill="#ff660a" d="M488.5 123.4h4.6v4.6h-4.6z"/>
<path fill="#ff670a" d="M492.5 123.4h4.6v4.6h-4.6z"/>
<path fill="#ff690a" d="M496.5 123.4h4.6v4.6h-4.6z"/>
<path fill="#ff6c0a" d="M500.5 123.4h4.6v4.6h-4.6z"/>
<path fill="#ff700a" d="M504.5 123.4h4.6v4.6h-4.6z"/>
<path fill="#ff780a" d="M508.5 123.4h4.6v4.6h-4.6z"/>
<path fill="#ff820a" d="M512.5 123.4h4.6v4.6h-4.6z"/>
<path fill="#ff8d0a" d="M516.5 123.4h4.6v4.6h-4.6z"/>
<path fill="#ff980a" d="M520.5 123.4h4.6v4.6h-4.6z"/>
<path fill="#ffa20a" d="M524.5 123.4h4.6v4.6h-4.6z"/>
<path fill="#ffa90a" d="M528.5 123.4h4.6v4.6h-4.6z"/>
<path fill="#ffae0a" d="M532.5 123.4h4.6v4.6h-4.6z"/>
<path fill="#ffb10a" d="M536.5 123.4h4.6v4.6h-4.6z"/>
<path fill="#ffb30a" d="M540.5 123.4h4.6v4.6h-4.6z"/>
<path fill="#ffb30a" d="M544.5 123.4h4.6v4.6h-4.6z"/>
<path fill="#ffb30a" d="M548.5 123.4h4.6v4.6h-4.6z"/>
<path fill="#ffb20a" d="M552.5 123.4h4.6v4.6h-4.6z"/>
<path fill="#ffb10a" d="M556.5 123.4h4.6v4.6h-4.6z"/>
<path fill="#ffb10a" d="M560.5 123.4h4.6v4.6h-4.6z"/>
<path fill="#ffb20a" d="M564.5 123.4h4.6v4.6h-4.6z"/>
<path fill="#ffb30a" d="M568.5 123.4h4.6v4.6h-4.6z"/>
<path fill="#ffb50a" d="M572.5 123.4h4.6v4.6h-4.6z"/>
<path fill="#ffb70a" d="M576.5 123.4h4.6v4.6h-4.6z"/>
<path fill="#ffb80a" d="M580.5 123.4h4.6v4.6h-4.6z"/>
<path fill="#ffba0a" d="M584.5 123.4h4.6v4.6h-4.6z"/>
<path fill="#ffbb0a" d="M588.5 123.4h4.6v4.6h-4.6z"/>
<path fill="#ffbc0a" d="M592.5 123.4h4.6v4.6h-4.6z"/>
<path fill="#ffbe0a" d="M596.5 123.4h4.6v4.6h-4.6z"/>
<path fill="#ffc00a" d="M600.5 123.4h4.6v4.6h-4.6z"/>
<path fill="#ffc30a" d="M604.5 123.4h4.6v4.6h-4.6z"/>
<path fill="#ffc70a" d="M608.5 123.4h4.6v4.6h-4.6z"/>
<path fill="#ffca0a" d="M612.5 123.4h4.6v4.6h-4.6z"/>
<path fill="#ffcc0a" d="M616.5 123.4h4.6v4.6h-4.6z"/>
<path fill="#ffce0a" d="M620.5 123.4h4.6v4.6h-4.6z"/>
<path fill="#ffce0a" d="M624.5 123.4h4.6v4.6h-4.6z"/>
<path fill="#ffcd0a" d="M628.5 123.4h4.6v4.6h-4.6z"/>
<path fill="#ffcd0a" d="M632.5 123.4h4.6v4.6h-4.6z"/>
<path fill="#ffcf0a" d="M636.5 123.4h4.6v4.6h-4.6z"/>
<path fill="#ff650a" d="M484.5 127.4h4.6v4.6h-4.6z"/>
<path fill="#ff660a" d="M488.5 127.4h4.6v4.6h-4.6z"/>
<path fill="#ff670a" d="M492.5 127.4h4.6v4.6h-4.6z"/>
<path fill="#ff670a" d="M496.5 127.4h4.6v4.6h-4.6z"/>
<path fill="#ff680a" d="M500.5 127.4h4.6v4.6h-4.6z"/>
<path fill="#ff690a" d="M504.5 127.4h4.6v4.6h-4.6z"/>
<path fill="#ff6d0a" d="M508.5 127.4h4.6v4.6h-4.6z"/>
<path fill="#ff750a" d="M512.5 127.4h4.6v4.6h-4.6z"/>
<path fill="#ff7d0a" d="M516.5 127.4h4.6v4.6h-4.6z"/>
<path fill="#ff840a" d="M520.5 127.4h4.6v4.6h-4.6z"/>
<path fill="#ff8a0a" d="M524.5 127.4h4.6v4.6h-4.6z"/>
<path fill="#ff8e0a" d="M528.5 127.4h4.6v4.6h-4.6z"/>
<path fill="#ff910a" d="M532.5 127.4h4.6v4.6h-4.6z"/>
<path fill="#ff920a" d="M536.5 127.4h4.6v4.6h-4.6z"/>
<path fill="#ff920a" d="M540.5 127.4h4.6v4.6h-4.6z"/>
<path fill="#ff910a" d="M544.5 127.4h4.6v4.6h-4.6z"/>
<path fill="#ff8f0a" d="M548.5 127.4h4.6v4.6h-4.6z"/>
<path fill="#ff8d0a" d="M552.5 127.4h4.6v4.6h-4.6z"/>
<path fill="#ff8c0a" d="M556.5 127.4h4.6v4.6h-4.6z"/>
<path fill="#ff8b0a" d="M560.5 127.4h4.6v4.6h-4.6z"/>
<path fill="#ff8d0a" d="M564.5 127.4h4.6v4.6h-4.6z"/>
<path fill="#ff8e0a" d="M568.5 127.4h4.6v4.6h-4.6z"/>
<path fill="#ff910a" d="M572.5 127.4h4.6v4.6h-4.6z"/>
<path fill="#ff920a" d="M576.5 127.4h4.6v4.6h-4.6z"/>
<path fill="#ff940a" d="M580.5 127.4h4.6v4.6h-4.6z"/>
<path fill="#ff960a" d="M584.5 127.4h4.6v4.6h-4.6z"/>
<path fill="#ff980a" d="M588.5 127.4h4.6v4.6h-4.6z"/>
<path fill="#ff9a0a" d="M592.5 127.4h4.6v4.6h-4.6z"/>
<path fill="#ff9c0a" d="M596.5 127.4h4.6v4.6h-4.6z"/>
<path fill="#ff9f0a" d="M600.5 127.4h4.6v4.6h-4.6z"/>
<path fill="#ffa30a" d="M604.5 127.4h4.6v4.6h-4.6z"/>
<path fill="#ffa60a" d="M608.5 127.4h4.6v4.6h-4.6z"/>
<path fill="#ffa90a" d="M612.5 127.4h4.6v4.6h-4.6z"/>
<path fill="#ffac0a" d="M616.5 127.4h4.6v4.6h-4.6z"/>
<path fill="#ffae0a" d="M620.5 127.4h4.6v4.6h-4.6z"/>
<path fill="#ffaf0a" d="M624.5 127.4h4.6v4.6h-4.6z"/>
<path fill="#ffaf0a" d="M628.5 127.4h4.6v4.6h-4.6z"/>
<path fill="#ffb10a" d="M632.5 127.4h4.6v4.6h-4.6z"/>
<path fill="#ffb50a" d="M636.5 127.4h4.6v4.6h-4.6z"/>
<path fill="#ffba0a" d="M640.5 127.4h4.6v4.6h-4.6z"/>
<path fill="#ff660a" d="M484.5 131.4h4.6v4.6h-4.6z"/>
<path fill="#ff680a" d="M488.5 131.4h4.6v4.6h-4.6z"/>
<path fill="#ff680a" d="M492.5 131.4h4.6v4.6h-4.6z"/>
<path fill="#ff670a" d="M496.5 131.4h4.6v4.6h-4.6z"/>
<path fill="#ff660a" d="M500.5 131.4h4.6v4.6h-4.6z"/>
<path fill="#ff650a" d="M504.5 131.4h4.6v4.6h-4.6z"/>
<path fill="#ff660a" d="M508.5 131.4h4.6v4.6h-4.6z"/>
<path fill="#ff6a0a" d="M512.5 131.4h4.6v4.6h-4.6z"/>
<path fill="#ff6e0a" d="M516.5 131.4h4.6v4.6h-4.6z"/>
<path fill="#ff710a" d="M520.5 131.4h4.6v4.6h-4.6z"/>
<path fill="#ff730a" d="M524.5 131.4h4.6v4.6h-4.6z"/>
<path fill="#ff740a" d="M528.5 131.4h4.6v4.6h-4.6z"/>
<path fill="#ff740a" d="M532.5 131.4h4.6v4.6h-4.6z"/>
<path fill="#ff730a" d="M536.5 131.4h4.6v4.6h-4.6z"/>
<path fill="#ff720a" d="M540.5 131.4h4.6v4.6h-4.6z"/>
<path fill="#ff700a" d="M544.5 131.4h4.6v4.6h-4.6z"/>
<path fill="#ff6e0a" d="M548.5 131.4h4.6v4.6h-4.6z"/>
<path fill="#ff6b0a" d="M552.5 131.4h4.6v4.6h-4.6z"/>
<path fill="#ff690a" d="M556.5 131.4h4.6v4.6h-4.6z"/>
<path fill="#ff680a" d="M560.5 131.4h4.6v4.6h-4.6z"/>
<path fill="#ff6a0a" d="M564.5 131.4h4.6v4.6h-4.6z"/>
<path fill="#ff6c0a" d="M568.5 131.4h4.6v4.6h-4.6z"/>
<path fill="#ff6e0a" d="M572.5 131.4h4.6v4.6h-4.6z"/>
<path fill="#ff700a" d="M576.5 131.4h4.6v4.6h-4.6z"/>
<path fill="#ff720a" d="M580.5 131.4h4.6v4.6h-4.6z"/>
<path fill="#ff740a" d="M584.5 131.4h4.6v4.6h-4.6z"/>
<path fill="#ff760a" d="M588.5 131.4h4.6v4.6h-4.6z"/>
<path fill="#ff790a" d="M592.5 131.4h4.6v4.6h-4.6z"/>
<path fill="#ff7d0a" d="M596.5 131.4h4.6v4.6h-4.6z"/>
<path fill="#ff800a" d="M600.5 131.4h4.6v4.6h-4.6z"/>
<path fill="#ff830a" d="M604.5 131.4h4.6v4.6h-4.6z"/>
<path fill="#ff860a" d="M608.5 131.4h4.6v4.6h-4.6z"/>
<path fill="#ff890a" d="M612.5 131.4h4.6v4.6h-4.6z"/>
<path fill="#ff8d0a" d="M616.5 131.4h4.6v4.6h-4.6z"/>
<path fill="#ff900a" d="M620.5 131.4h4.6v4.6h-4.6z"/>
<path fill="#ff920a" d="M624.5 131.4h4.6v4.6h-4.6z"/>
<path fill="#ff950a" d="M628.5 131.4h4.6v4.6h-4.6z"/>
<path fill="#ff990a" d="M632.5 131.4h4.6v4.6h-4.6z"/>
<path fill="#ff9e0a" d="M636.5 131.4h4.6v4.6h-4.6z"/>
<path fill="#ffa40a" d="M640.5 131.4h4.6v4.6h-4.6z"/>
<path fill="#ff680a" d="M484.5 135.4h4.6v4.6h-4.6z"/>
<path fill="#ff690a" d="M488.5 135.4h4.6v4.6h-4.6z"/>
<path fill="#ff690a" d="M492.5 135.4h4.6v4.6h-4.6z"/>
<path fill="#ff680a" d="M496.5 135.4h4.6v4.6h-4.6z"/>
<path fill="#ff660a" d="M500.5 135.4h4.6v4.6h-4.6z"/>
<path fill="#ff630a" d="M504.5 135.4h4.6v4.6h-4.6z"/>
<path fill="#ff610a" d="M508.5 135.4h4.6v4.6h-4.6z"/>
<path fill="#ff600a" d="M512.5 135.4h4.6v4.6h-4.6z"/>
<path fill="#ff5f0a" d="M516.5 135.4h4.6v4.6h-4.6z"/>
<path fill="#ff5e0a" d="M520.5 135.4h4.6v4.6h-4.6z"/>
<path fill="#ff5c0a" d="M524.5 135.4h4.6v4.6h-4.6z"/>
<path fill="#ff5a0a" d="M528.5 135.4h4.6v4.6h-4.6z"/>
<path fill="#ff580a" d="M532.5 135.4h4.6v4.6h-4.6z"/>
<path fill="#ff570a" d="M536.5 135.4h4.6v4.6h-4.6z"/>
<path fill="#ff550a" d="M540.5 135.4h4.6v4.6h-4.6z"/>
<path fill="#ff520a" d="M544.5 135.4h4.6v4.6h-4.6z"/>
<path fill="#ff4f0a" d="M548.5 135.4h4.6v4.6h-4.6z"/>
<path fill="#ff4c0a" d="M552.5 135.4h4.6v4.6h-4.6z"/>
<path fill="#ff4a0a" d="M556.5 135.4h4.6v4.6h-4.6z"/>
<path fill="#ff490a" d="M560.5 135.4h4.6v4.6h-4.6z"/>
<path fill="#ff4a0a" d="M564.5 135.4h4.6v4.6h-4.6z"/>
<path fill="#ff4c0a" d="M568.5 135.4h4.6v4.6h-4.6z"/>
<path fill="#ff4e0a" d="M572.5 135.4h4.6v4.6h-4.6z"/>
<path fill="#ff500a" d="M576.5 135.4h4.6v4.6h-4.6z"/>
<path fill="#ff520a" d="M580.5 135.4h4.6v4.6h-4.6z"/>
<path fill="#ff540a" d="M584.5 135.4h4.6v4.6h-4.6z"/>
<path fill="#ff570a" d="M588.5 135.4h4.6v4.6h-4.6z"/>
<path fill="#ff5a0a" d="M592.5 135.4h4.6v4.6h-4.6z"/>
<path fill="#ff5e0a" d="M596.5 135.4h4.6v4.6h-4.6z"/>
<path fill="#ff620a" d="M600.5 135.4h4.6v4.6h-4.6z"/>
<path fill="#ff650a" d="M604.5 135.4h4.6v4.6h-4.6z"/>
<path fill="#ff680a" d="M608.5 135.4h4.6v4.6h-4.6z"/>
<path fill="#ff6b0a" d="M612.5 135.4h4.6v4.6h-4.6z"/>
<path fill="#ff6f0a" d="M616.5 135.4h4.6v4.6h-4.6z"/>
<path fill="#ff730a" d="M620.5 135.4h4.6v4.6h-4.6z"/>
<path fill="#ff780a" d="M624.5 135.4h4.6v4.6h-4.6z"/>
<path fill="#ff7d0a" d="M628.5 135.4h4.6v4.6h-4.6z"/>
<path fill="#ff830a" d="M632.5 135.4h4.6v4.6h-4.6z"/>
<path fill="#ff890a" d="M636.5 135.4h4.6v4.6h-4.6z"/>
<path fill="#ff8f0a" d="M640.5 135.4h4.6v4.6h-4.6z"/>
<path fill="#ff690a" d="M484.5 139.4h4.6v4.6h-4.6z"/>
<path fill="#ff6b0a" d="M488.5 139.4h4.6v4.6h-4.6z"/>
<path fill="#ff6b0a" d="M492.5 139.4h4.6v4.6h-4.6z"/>
<path fill="#ff6a0a" d="M496.5 139.4h4.6v4.6h-4.6z"/>
<path fill="#ff660a" d="M500.5 139.4h4.6v4.6h-4.6z"/>
<path fill="#ff620a" d="M504.5 139.4h4.6v4.6h-4.6z"/>
<path fill="#ff5e0a" d="M508.5 139.4h4.6v4.6h-4.6z"/>
<path fill="#ff580a" d="M512.5 139.4h4.6v4.6h-4.6z"/>
<path fill="#ff510a" d="M516.5 139.4h4.6v4.6h-4.6z"/>
<path fill="#ff4b0a" d="M520.5 139.4h4.6v4.6h-4.6z"/>
<path fill="#ff460a" d="M524.5 139.4h4.6v4.6h-4.6z"/>
<path fill="#ff410a" d="M528.5 139.4h4.6v4.6h-4.6z"/>
<path fill="#ff3f0a" d="M532.5 139.4h4.6v4.6h-4.6z"/>
<path fill="#ff3d0a" d="M536.5 139.4h4.6v4.6h-4.6z"/>
<path fill="#ff3a0a" d="M540.5 139.4h4.6v4.6h-4.6z"/>
<path fill="#ff370a" d="M544.5 139.4h4.6v4.6h-4.6z"/>
<path fill="#ff340a" d="M548.5 139.4h4.6v4.6h-4.6z"/>
<path fill="#ff310a" d="M552.5 139.4h4.6v4.6h-4.6z"/>
<path fill="#ff2f0a" d="M556.5 139.4h4.6v4.6h-4.6z"/>
<path fill="#ff2e0a" d="M560.5 139.4h4.6v4.6h-4.6z"/>
<path fill="#ff2e0a" d="M564.5 139.4h4.6v4.6h-4.6z"/>
<path fill="#ff300a" d="M568.5 139.4h4.6v4.6h-4.6z"/>
<path fill="#ff310a" d="M572.5 139.4h4.6v4.6h-4.6z"/>
<path fill="#ff330a" d="M576.5 139.4h4.6v4.6h-4.6z"/>
<path fill="#ff340a" d="M580.5 139.4h4.6v4.6h-4.6z"/>
<path fill="#ff360a" d="M584.5 139.4h4.6v4.6h-4.6z"/>
<path fill="#ff390a" d="M588.5 139.4h4.6v4.6h-4.6z"/>
<path fill="#ff3d0a" d="M592.5 139.4h4.6v4.6h-4.6z"/>
<path fill="#ff420a" d="M596.5 139.4h4.6v4.6h-4.6z"/>
<path fill="#ff450a" d="M600.5 139.4h4.6v4.6h-4.6z"/>
<path fill="#ff490a" d="M604.5 139.4h4.6v4.6h-4.6z"/>
<path fill="#ff4c0a" d="M608.5 139.4h4.6v4.6h-4.6z"/>
<path fill="#ff4f0a" d="M612.5 139.4h4.6v4.6h-4.6z"/>
<path fill="#ff530a" d="M616.5 139.4h4.6v4.6h-4.6z"/>
<path fill="#ff590a" d="M620.5 139.4h4.6v4.6h-4.6z"/>
<path fill="#ff5f0a" d="M624.5 139.4h4.6v4.6h-4.6z"/>
<path fill="#ff670a" d="M628.5 139.4h4.6v4.6h-4.6z"/>
<path fill="#ff6e0a" d="M632.5 139.4h4.6v4.6h-4.6z"/>
<path fill="#ff750a" d="M636.5 139.4h4.6v4.6h-4.6z"/>
<path fill="#ff7c0a" d="M640.5 139.4h4.6v4.6h-4.6z"/>
<path fill="#ff680a" d="M484.5 143.4h4.6v4.6h-4.6z"/>
<path fill="#ff6b0a" d="M488.5 143.4h4.6v4.6h-4.6z"/>
<path fill="#ff6b0a" d="M492.5 143.4h4.6v4.6h-4.6z"/>
<path fill="#ff690a" d="M496.5 143.4h4.6v4.6h-4.6z"/>
<path fill="#ff650a" d="M500.5 143.4h4.6v4.6h-4.6z"/>
<path fill="#ff5f0a" d="M504.5 143.4h4.6v4.6h-4.6z"/>
<path fill="#ff580a" d="M508.5 143.4h4.6v4.6h-4.6z"/>
<path fill="#ff4f0a" d="M512.5 143.4h4.6v4.6h-4.6z"/>
<path fill="#ff430a" d="M516.5 143.4h4.6v4.6h-4.6z"/>
<path fill="#ff390a" d="M520.5 143.4h4.6v4.6h-4.6z"/>
<path fill="#ff300a" d="M524.5 143.4h4.6v4.6h-4.6z"/>
<path fill="#ff2b0a" d="M528.5 143.4h4.6v4.6h-4.6z"/>
<path fill="#ff280a" d="M532.5 143.4h4.6v4.6h-4.6z"/>
<path fill="#ff260a" d="M536.5 143.4h4.6v4.6h-4.6z"/>
<path fill="#ff230a" d="M540.5 143.4h4.6v4.6h-4.6z"/>
<path fill="#ff200a" d="M544.5 143.4h4.6v4.6h-4.6z"/>
<path fill="#ff1d0a" d="M548.5 143.4h4.6v4.6h-4.6z"/>
<path fill="#ff1a0a" d="M552.5 143.4h4.6v4.6h-4.6z"/>
<path fill="#ff170a" d="M556.5 143.4h4.6v4.6h-4.6z"/>
<path fill="#ff160a" d="M560.5 143.4h4.6v4.6h-4.6z"/>
<path fill="#ff160a" d="M564.5 143.4h4.6v4.6h-4.6z"/>
<path fill="#ff170a" d="M568.5 143.4h4.6v4.6h-4.6z"/>
<path fill="#ff180a" d="M572.5 143.4h4.6v4.6h-4.6z"/>
<path fill="#ff1a0a" d="M576.5 143.4h4.6v4.6h-4.6z"/>
<path fill="#ff1b0a" d="M580.5 143.4h4.6v4.6h-4.6z"/>
<path fill="#ff1c0a" d="M584.5 143.4h4.6v4.6h-4.6z"/>
<path fill="#ff1f0a" d="M588.5 143.4h4.6v4.6h-4.6z"/>
<path fill="#ff240a" d="M592.5 143.4h4.6v4.6h-4.6z"/>
<path fill="#ff280a" d="M596.5 143.4h4.6v4.6h-4.6z"/>
<path fill="#ff2c0a" d="M600.5 143.4h4.6v4.6h-4.6z"/>
<path fill="#ff2f0a" d="M604.5 143.4h4.6v4.6h-4.6z"/>
<path fill="#ff320a" d="M608.5 143.4h4.6v4.6h-4.6z"/>
<path fill="#ff360a" d="M612.5 143.4h4.6v4.6h-4.6z"/>
<path fill="#ff3a0a" d="M616.5 143.4h4.6v4.6h-4.6z"/>
<path fill="#ff400a" d="M620.5 143.4h4.6v4.6h-4.6z"/>
<path fill="#ff480a" d="M624.5 143.4h4.6v4.6h-4.6z"/>
<path fill="#ff510a" d="M628.5 143.4h4.6v4.6h-4.6z"/>
<path fill="#ff5a0a" d="M632.5 143.4h4.6v4.6h-4.6z"/>
<path fill="#ff620a" d="M636.5 143.4h4.6v4.6h-4.6z"/>
<path fill="#ff6b0a" d="M640.5 143.4h4.6v4.6h-4.6z"/>
<path fill="#ff650a" d="M484.5 147.4h4.6v4.6h-4.6z"/>
<path fill="#ff680a" d="M488.5 147.4h4.6v4.6h-4.6z"/>
<path fill="#ff690a" d="M492.5 147.4h4.6v4.6h-4.6z"/>
<path fill="#ff660a" d="M496.5 147.4h4.6v4.6h-4.6z"/>
<path fill="#ff600a" d="M500.5 147.4h4.6v4.6h-4.6z"/>
<path fill="#ff580a" d="M504.5 147.4h4.6v4.6h-4.6z"/>
<path fill="#ff4f0a" d="M508.5 147.4h4.6v4.6h-4.6z"/>
<path fill="#ff430a" d="M512.5 147.4h4.6v4.6h-4.6z"/>
<path fill="#ff350a" d="M516.5 147.4h4.6v4.6h-4.6z"/>
<path fill="#ff280a" d="M520.5 147.4h4.6v4.6h-4.6z"/>
<path fill="#ff1d0a" d="M524.5 147.4h4.6v4.6h-4.6z"/>
<path fill="#ff180a" d="M528.5 147.4h4.6v4.6h-4.6z"/>
<path fill="#ff150a" d="M532.5 147.4h4.6v4.6h-4.6z"/>
<path fill="#ff130a" d="M536.5 147.4h4.6v4.6h-4.6z"/>
<path fill="#ff110a" d="M540.5 147.4h4.6v4.6h-4.6z"/>
<path fill="#ff0e0a" d="M544.5 147.4h4.6v4.6h-4.6z"/>
<path fill="#ff0a0a" d="M548.5 147.4h4.6v4.6h-4.6z"/>
<path fill="#fb0a0a" d="M552.5 147.4h4.6v4.6h-4.6z"/>
<path fill="#f90a0a" d="M556.5 147.4h4.6v4.6h-4.6z"/>
<path fill="#f70a0a" d="M560.5 147.4h4.6v4.6h-4.6z"/>
<path fill="#f70a0a" d="M564.5 147.4h4.6v4.6h-4.6z"/>
<path fill="#f70a0a" d="M568.5 147.4h4.6v4.6h-4.6z"/>
<path fill="#f80a0a" d="M572.5 147.4h4.6v4.6h-4.6z"/>
<path fill="#f90a0a" d="M576.5 147.4h4.6v4.6h-4.6z"/>
<path fill="#fa0a0a" d="M580.5 147.4h4.6v4.6h-4.6z"/>
<path fill="#fc0a0a" d="M584.5 147.4h4.6v4.6h-4.6z"/>
<path fill="#ff0a0a" d="M588.5 147.4h4.6v4.6h-4.6z"/>
<path fill="#ff0e0a" d="M592.5 147.4h4.6v4.6h-4.6z"/>
<path fill="#ff120a" d="M596.5 147.4h4.6v4.6h-4.6z"/>
<path fill="#ff160a" d="M600.5 147.4h4.6v4.6h-4.6z"/>
<path fill="#ff1a0a" d="M604.5 147.4h4.6v4.6h-4.6z"/>
<path fill="#ff1d0a" d="M608.5 147.4h4.6v4.6h-4.6z"/>
<path fill="#ff200a" d="M612.5 147.4h4.6v4.6h-4.6z"/>
<path fill="#ff240a" d="M616.5 147.4h4.6v4.6h-4.6z"/>
<path fill="#ff2a0a" d="M620.5 147.4h4.6v4.6h-4.6z"/>
<path fill="#ff340a" d="M624.5 147.4h4.6v4.6h-4.6z"/>
<path fill="#ff3e0a" d="M628.5 147.4h4.6v4.6h-4.6z"/>
<path fill="#ff480a" d="M632.5 147.4h4.6v4.6h-4.6z"/>
<path fill="#ff520a" d="M636.5 147.4h4.6v4.6h-4.6z"/>
<path fill="#ff5b0a" d="M640.5 147.4h4.6v4.6h-4.6z"/>
<path fill="#ff600a" d="M484.5 151.4h4.6v4.6h-4.6z"/>
<path fill="#ff610a" d="M488.5 151.4h4.6v4.6h-4.6z"/>
<path fill="#ff610a" d="M492.5 151.4h4.6v4.6h-4.6z"/>
<path fill="#ff5d0a" d="M496.5 151.4h4.6v4.6h-4.6z"/>
<path fill="#ff560a" d="M500.5 151.4h4.6v4.6h-4.6z"/>
<path fill="#ff4d0a" d="M504.5 151.4h4.6v4.6h-4.6z"/>
<path fill="#ff420a" d="M508.5 151.4h4.6v4.6h-4.6z"/>
<path fill="#ff360a" d="M512.5 151.4h4.6v4.6h-4.6z"/>
<path fill="#ff280a" d="M516.5 151.4h4.6v4.6h-4.6z"/>
<path fill="#ff1b0a" d="M520.5 151.4h4.6v4.6h-4.6z"/>
<path fill="#ff100a" d="M524.5 151.4h4.6v4.6h-4.6z"/>
<path fill="#ff0a0a" d="M528.5 151.4h4.6v4.6h-4.6z"/>
<path fill="#fc0a0a" d="M532.5 151.4h4.6v4.6h-4.6z"/>
<path fill="#fa0a0a" d="M536.5 151.4h4.6v4.6h-4.6z"/>
<path fill="#f70a0a" d="M540.5 151.4h4.6v4.6h-4.6z"/>
<path fill="#f40a0a" d="M544.5 151.4h4.6v4.6h-4.6z"/>
<path fill="#f00a0a" d="M548.5 151.4h4.6v4.6h-4.6z"/>
<path fill="#ec0a0a" d="M552.5 151.4h4.6v4.6h-4.6z"/>
<path fill="#e90a0a" d="M556.5 151.4h4.6v4.6h-4.6z"/>
<path fill="#e60a0a" d="M560.5 151.4h4.6v4.6h-4.6z"/>
<path fill="#e50a0a" d="M564.5 151.4h4.6v4.6h-4.6z"/>
<path fill="#e60a0a" d="M568.5 151.4h4.6v4.6h-4.6z"/>
<path fill="#e70a0a" d="M572.5 151.4h4.6v4.6h-4.6z"/>
<path fill="#e80a0a" d="M576.5 151.4h4.6v4.6h-4.6z"/>
<path fill="#ea0a0a" d="M580.5 151.4h4.6v4.6h-4.6z"/>
<path fill="#eb0a0a" d="M584.5 151.4h4.6v4.6h-4.6z"/>
<path fill="#ee0a0a" d="M588.5 151.4h4.6v4.6h-4.6z"/>
<path fill="#f10a0a" d="M592.5 151.4h4.6v4.6h-4.6z"/>
<path fill="#f50a0a" d="M596.5 151.4h4.6v4.6h-4.6z"/>
<path fill="#f90a0a" d="M600.5 151.4h4.6v4.6h-4.6z"/>
<path fill="#fc0a0a" d="M604.5 151.4h4.6v4.6h-4.6z"/>
<path fill="#ff0b0a" d="M608.5 151.4h4.6v4.6h-4.6z"/>
<path fill="#ff0e0a" d="M612.5 151.4h4.6v4.6h-4.6z"/>
<path fill="#ff120a" d="M616.5 151.4h4.6v4.6h-4.6z"/>
<path fill="#ff190a" d="M620.5 151.4h4.6v4.6h-4.6z"/>
<path fill="#ff230a" d="M624.5 151.4h4.6v4.6h-4.6z"/>
<path fill="#ff2e0a" d="M628.5 151.4h4.6v4.6h-4.6z"/>
<path fill="#ff390a" d="M632.5 151.4h4.6v4.6h-4.6z"/>
<path fill="#ff430a" d="M636.5 151.4h4.6v4.6h-4.6z"/>
<path fill="#ff4d0a" d="M640.5 151.4h4.6v4.6h-4.6z"/>
<path fill="#ff580a" d="M484.5 155.4h4.6v4.6h-4.6z"/>
<path fill="#ff580a" d="M488.5 155.4h4.6v4.6h-4.6z"/>
<path fill="#ff560a" d="M492.5 155.4h4.6v4.6h-4.6z"/>
<path fill="#ff500a" d="M496.5 155.4h4.6v4.6h-4.6z"/>
<path fill="#ff490a" d="M500.5 155.4h4.6v4.6h-4.6z"/>
<path fill="#ff400a" d="M504.5 155.4h4.6v4.6h-4.6z"/>
<path fill="#ff350a" d="M508.5 155.4h4.6v4.6h-4.6z"/>
<path fill="#ff2a0a" d="M512.5 155.4h4.6v4.6h-4.6z"/>
<path fill="#ff1d0a" d="M516.5 155.4h4.6v4.6h-4.6z"/>
<path fill="#ff110a" d="M520.5 155.4h4.6v4.6h-4.6z"/>
<path fill="#fc0a0a" d="M524.5 155.4h4.6v4.6h-4.6z"/>
<path fill="#f60a0a" d="M528.5 155.4h4.6v4.6h-4.6z"/>
<path fill="#f30a0a" d="M532.5 155.4h4.6v4.6h-4.6z"/>
<path fill="#f00a0a" d="M536.5 155.4h4.6v4.6h-4.6z"/>
<path fill="#ee0a0a" d="M540.5 155.4h4.6v4.6h-4.6z"/>
<path fill="#ea0a0a" d="M544.5 155.4h4.6v4.6h-4.6z"/>
<path fill="#e60a0a" d="M548.5 155.4h4.6v4.6h-4.6z"/>
<path fill="#e00a0a" d="M552.5 155.4h4.6v4.6h-4.6z"/>
<path fill="#dc0a0a" d="M556.5 155.4h4.6v4.6h-4.6z"/>
<path fill="#d80a0a" d="M560.5 155.4h4.6v4.6h-4.6z"/>
<path fill="#d70a0a" d="M564.5 155.4h4.6v4.6h-4.6z"/>
<path fill="#d70a0a" d="M568.5 155.4h4.6v4.6h-4.6z"/>
<path fill="#d80a0a" d="M572.5 155.4h4.6v4.6h-4.6z"/>
<path fill="#da0a0a" d="M576.5 155.4h4.6v4.6h-4.6z"/>
<path fill="#dc0a0a" d="M580.5 155.4h4.6v4.6h-4.6z"/>
<path fill="#de0a0a" d="M584.5 155.4h4.6v4.6h-4.6z"/>
<path fill="#e00a0a" d="M588.5 155.4h4.6v4.6h-4.6z"/>
<path fill="#e30a0a" d="M592.5 155.4h4.6v4.6h-4.6z"/>
<path fill="#e70a0a" d="M596.5 155.4h4.6v4.6h-4.6z"/>
<path fill="#ea0a0a" d="M600.5 155.4h4.6v4.6h-4.6z"/>
<path fill="#ee0a0a" d="M604.5 155.4h4.6v4.6h-4.6z"/>
<path fill="#f20a0a" d="M608.5 155.4h4.6v4.6h-4.6z"/>
<path fill="#f60a0a" d="M612.5 155.4h4.6v4.6h-4.6z"/>
<path fill="#fb0a0a" d="M616.5 155.4h4.6v4.6h-4.6z"/>
<path fill="#ff0d0a" d="M620.5 155.4h4.6v4.6h-4.6z"/>
<path fill="#ff170a" d="M624.5 155.4h4.6v4.6h-4.6z"/>
<path fill="#ff220a" d="M628.5 155.4h4.6v4.6h-4.6z"/>
<path fill="#ff2d0a" d="M632.5 155.4h4.6v4.6h-4.6z"/>
<path fill="#ff370a" d="M636.5 155.4h4.6v4.6h-4.6z"/>
<path fill="#ff410a" d="M640.5 155.4h4.6v4.6h-4.6z"/>
<path fill="#ff4d0a" d="M488.5 159.4h4.6v4.6h-4.6z"/>
<path fill="#ff490a" d="M492.5 159.4h4.6v4.6h-4.6z"/>
<path fill="#ff430a" d="M496.5 159.4h4.6v4.6h-4.6z"/>
<path fill="#ff3c0a" d="M500.5 159.4h4.6v4.6h-4.6z"/>
<path fill="#ff330a" d="M504.5 159.4h4.6v4.6h-4.6z"/>
<path fill="#ff290a" d="M508.5 159.4h4.6v4.6h-4.6z"/>
<path fill="#ff1f0a" d="M512.5 159.4h4.6v4.6h-4.6z"/>
<path fill="#ff140a" d="M516.5 159.4h4.6v4.6h-4.6z"/>
<path fill="#ff0a0a" d="M520.5 159.4h4.6v4.6h-4.6z"/>
<path fill="#f60a0a" d="M524.5 159.4h4.6v4.6h-4.6z"/>
<path fill="#f10a0a" d="M528.5 159.4h4.6v4.6h-4.6z"/>
<path fill="#ed0a0a" d="M532.5 159.4h4.6v4.6h-4.6z"/>
<path fill="#eb0a0a" d="M536.5 159.4h4.6v4.6h-4.6z"/>
<path fill="#e90a0a" d="M540.5 159.4h4.6v4.6h-4.6z"/>
<path fill="#e40a0a" d="M544.5 159.4h4.6v4.6h-4.6z"/>
<path fill="#de0a0a" d="M548.5 159.4h4.6v4.6h-4.6z"/>
<path fill="#d80a0a" d="M552.5 159.4h4.6v4.6h-4.6z"/>
<path fill="#d10a0a" d="M556.5 159.4h4.6v4.6h-4.6z"/>
<path fill="#cc0a0a" d="M560.5 159.4h4.6v4.6h-4.6z"/>
<path fill="#ca0a0a" d="M564.5 159.4h4.6v4.6h-4.6z"/>
<path fill="#ca0a0a" d="M568.5 159.4h4.6v4.6h-4.6z"/>
<path fill="#cc0a0a" d="M572.5 159.4h4.6v4.6h-4.6z"/>
<path fill="#cf0a0a" d="M576.5 159.4h4.6v4.6h-4.6z"/>
<path fill="#d10a0a" d="M580.5 159.4h4.6v4.6h-4.6z"/>
<path fill="#d30a0a" d="M584.5 159.4h4.6v4.6h-4.6z"/>
<path fill="#d50a0a" d="M588.5 159.4h4.6v4.6h-4.6z"/>
<path fill="#d70a0a" d="M592.5 159.4h4.6v4.6h-4.6z"/>
<path fill="#db0a0a" d="M596.5 159.4h4.6v4.6h-4.6z"/>
<path fill="#df0a0a" d="M600.5 159.4h4.6v4.6h-4.6z"/>
<path fill="#e30a0a" d="M604.5 159.4h4.6v4.6h-4.6z"/>
<path fill="#e70a0a" d="M608.5 159.4h4.6v4.6h-4.6z"/>
<path fill="#ec0a0a" d="M612.5 159.4h4.6v4.6h-4.6z"/>
<path fill="#f20a0a" d="M616.5 159.4h4.6v4.6h-4.6z"/>
<path fill="#fa0a0a" d="M620.5 159.4h4.6v4.6h-4.6z"/>
<path fill="#ff0f0a" d="M624.5 159.4h4.6v4.6h-4.6z"/>
<path fill="#ff190a" d="M628.5 159.4h4.6v4.6h-4.6z"/>
<path fill="#ff230a" d="M632.5 159.4h4.6v4.6h-4.6z"/>
<path fill="#ff2d0a" d="M636.5 159.4h4.6v4.6h-4.6z"/>
<path fill="#ff430a" d="M488.5 163.4h4.6v4.6h-4.6z"/>
<path fill="#ff3e0a" d="M492.5 163.4h4.6v4.6h-4.6z"/>
<path fill="#ff380a" d="M496.5 163.4h4.6v4.6h-4.6z"/>
<path fill="#ff300a" d="M500.5 163.4h4.6v4.6h-4.6z"/>
<path fill="#ff280a" d="M504.5 163.4h4.6v4.6h-4.6z"/>
<path fill="#ff1f0a" d="M508.5 163.4h4.6v4.6h-4.6z"/>
<path fill="#ff160a" d="M512.5 163.4h4.6v4.6h-4.6z"/>
<path fill="#ff0d0a" d="M516.5 163.4h4.6v4.6h-4.6z"/>
<path fill="#fa0a0a" d="M520.5 163.4h4.6v4.6h-4.6z"/>
<path fill="#f30a0a" d="M524.5 163.4h4.6v4.6h-4.6z"/>
<path fill="#ee0a0a" d="M528.5 163.4h4.6v4.6h-4.6z"/>
<path fill="#eb0a0a" d="M532.5 163.4h4.6v4.6h-4.6z"/>
<path fill="#e90a0a" d="M536.5 163.4h4.6v4.6h-4.6z"/>
<path fill="#e60a0a" d="M540.5 163.4h4.6v4.6h-4.6z"/>
<path fill="#e20a0a" d="M544.5 163.4h4.6v4.6h-4.6z"/>
<path fill="#da0a0a" d="M548.5 163.4h4.6v4.6h-4.6z"/>
<path fill="#d20a0a" d="M552.5 163.4h4.6v4.6h-4.6z"/>
<path fill="#c90a0a" d="M556.5 163.4h4.6v4.6h-4.6z"/>
<path fill="#c20a0a" d="M560.5 163.4h4.6v4.6h-4.6z"/>
<path fill="#be0a0a" d="M564.5 163.4h4.6v4.6h-4.6z"/>
<path fill="#be0a0a" d="M568.5 163.4h4.6v4.6h-4.6z"/>
<path fill="#c10a0a" d="M572.5 163.4h4.6v4.6h-4.6z"/>
<path fill="#c50a0a" d="M576.5 163.4h4.6v4.6h-4.6z"/>
<path fill="#c70a0a" d="M580.5 163.4h4.6v4.6h-4.6z"/>
<path fill="#c90a0a" d="M584.5 163.4h4.6v4.6h-4.6z"/>
<path fill="#cb0a0a" d="M588.5 163.4h4.6v4.6h-4.6z"/>
<path fill="#cd0a0a" d="M592.5 163.4h4.6v4.6h-4.6z"/>
<path fill="#d00a0a" d="M596.5 163.4h4.6v4.6h-4.6z"/>
<path fill="#d50a0a" d="M600.5 163.4h4.6v4.6h-4.6z"/>
<path fill="#da0a0a" d="M604.5 163.4h4.6v4.6h-4.6z"/>
<path fill="#df0a0a" d="M608.5 163.4h4.6v4.6h-4.6z"/>
<path fill="#e50a0a" d="M612.5 163.4h4.6v4.6h-4.6z"/>
<path fill="#ec0a0a" d="M616.5 163.4h4.6v4.6h-4.6z"/>
<path fill="#f40a0a" d="M620.5 163.4h4.6v4.6h-4.6z"/>
<path fill="#fd0a0a" d="M624.5 163.4h4.6v4.6h-4.6z"/>
<path fill="#ff120a" d="M628.5 163.4h4.6v4.6h-4.6z"/>
<path fill="#ff1c0a" d="M632.5 163.4h4.6v4.6h-4.6z"/>
<path fill="#ff250a" d="M636.5 163.4h4.6v4.6h-4.6z"/>
<path fill="#ff390a" d="M488.5 167.4h4.6v4.6h-4.6z"/>
<path fill="#ff340a" d="M492.5 167.4h4.6v4.6h-4.6z"/>
<path fill="#ff2e0a" d="M496.5 167.4h4.6v4.6h-4.6z"/>
<path fill="#ff260a" d="M500.5 167.4h4.6v4.6h-4.6z"/>
<path fill="#ff1f0a" d="M504.5 167.4h4.6v4.6h-4.6z"/>
<path fill="#ff180a" d="M508.5 167.4h4.6v4.6h-4.6z"/>
<path fill="#ff110a" d="M512.5 167.4h4.6v4.6h-4.6z"/>
<path fill="#fe0a0a" d="M516.5 167.4h4.6v4.6h-4.6z"/>
<path fill="#f80a0a" d="M520.5 167.4h4.6v4.6h-4.6z"/>
<path fill="#f20a0a" d="M524.5 167.4h4.6v4.6h-4.6z"/>
<path fill="#ed0a0a" d="M528.5 167.4h4.6v4.6h-4.6z"/>
<path fill="#eb0a0a" d="M532.5 167.4h4.6v4.6h-4.6z"/>
<path fill="#e90a0a" d="M536.5 167.4h4.6v4.6h-4.6z"/>
<path fill="#e70a0a" d="M540.5 167.4h4.6v4.6h-4.6z"/>
<path fill="#e20a0a" d="M544.5 167.4h4.6v4.6h-4.6z"/>
<path fill="#da0a0a" d="M548.5 167.4h4.6v4.6h-4.6z"/>
<path fill="#cf0a0a" d="M552.5 167.4h4.6v4.6h-4.6z"/>
<path fill="#c30a0a" d="M556.5 167.4h4.6v4.6h-4.6z"/>
<path fill="#b80a0a" d="M560.5 167.4h4.6v4.6h-4.6z"/>
<path fill="#b20a0a" d="M564.5 167.4h4.6v4.6h-4.6z"/>
<path fill="#b20a0a" d="M568.5 167.4h4.6v4.6h-4.6z"/>
<path fill="#b60a0a" d="M572.5 167.4h4.6v4.6h-4.6z"/>
<path fill="#bb0a0a" d="M576.5 167.4h4.6v4.6h-4.6z"/>
<path fill="#be0a0a" d="M580.5 167.4h4.6v4.6h-4.6z"/>
<path fill="#c00a0a" d="M584.5 167.4h4.6v4.6h-4.6z"/>
<path fill="#c20a0a" d="M588.5 167.4h4.6v4.6h-4.6z"/>
<path fill="#c40a0a" d="M592.5 167.4h4.6v4.6h-4.6z"/>
<path fill="#c70a0a" d="M596.5 167.4h4.6v4.6h-4.6z"/>
<path fill="#cc0a0a" d="M600.5 167.4h4.6v4.6h-4.6z"/>
<path fill="#d10a0a" d="M604.5 167.4h4.6v4.6h-4.6z"/>
<path fill="#d80a0a" d="M608.5 167.4h4.6v4.6h-4.6z"/>
<path fill="#de0a0a" d="M612.5 167.4h4.6v4.6h-4.6z"/>
<path fill="#e60a0a" d="M616.5 167.4h4.6v4.6h-4.6z"/>
<path fill="#ef0a0a" d="M620.5 167.4h4.6v4.6h-4.6z"/>
<path fill="#f90a0a" d="M624.5 167.4h4.6v4.6h-4.6z"/>
<path fill="#ff0d0a" d="M628.5 167.4h4.6v4.6h-4.6z"/>
<path fill="#ff160a" d="M632.5 167.4h4.6v4.6h-4.6z"/>
<path fill="#ff1e0a" d="M636.5 167.4h4.6v4.6h-4.6z"/>
<path fill="#ff2c0a" d="M492.5 171.4h4.6v4.6h-4.6z"/>
<path fill="#ff260a" d="M496.5 171.4h4.6v4.6h-4.6z"/>
<path fill="#ff1f0a" d="M500.5 171.4h4.6v4.6h-4.6z"/>
<path fill="#ff190a" d="M504.5 171.4h4.6v4.6h-4.6z"/>
<path fill="#ff130a" d="M508.5 171.4h4.6v4.6h-4.6z"/>
<path fill="#ff0e0a" d="M512.5 171.4h4.6v4.6h-4.6z"/>
<path fill="#fd0a0a" d="M516.5 171.4h4.6v4.6h-4.6z"/>
<path fill="#f80a0a" d="M520.5 171.4h4.6v4.6h-4.6z"/>
<path fill="#f30a0a" d="M524.5 171.4h4.6v4.6h-4.6z"/>
<path fill="#ef0a0a" d="M528.5 171.4h4.6v4.6h-4.6z"/>
<path fill="#ed0a0a" d="M532.5 171.4h4.6v4.6h-4.6z"/>
<path fill="#ec0a0a" d="M536.5 171.4h4.6v4.6h-4.6z"/>
<path fill="#eb0a0a" d="M540.5 171.4h4.6v4.6h-4.6z"/>
<path fill="#e70a0a" d="M544.5 171.4h4.6v4.6h-4.6z"/>
<path fill="#de0a0a" d="M548.5 171.4h4.6v4.6h-4.6z"/>
<path fill="#d10a0a" d="M552.5 171.4h4.6v4.6h-4.6z"/>
<path fill="#c00a0a" d="M556.5 171.4h4.6v4.6h-4.6z"/>
<path fill="#b00a0a" d="M560.5 171.4h4.6v4.6h-4.6z"/>
<path fill="#a70a0a" d="M564.5 171.4h4.6v4.6h-4.6z"/>
<path fill="#a60a0a" d="M568.5 171.4h4.6v4.6h-4.6z"/>
<path fill="#ab0a0a" d="M572.5 171.4h4.6v4.6h-4.6z"/>
<path fill="#b10a0a" d="M576.5 171.4h4.6v4.6h-4.6z"/>
<path fill="#b50a0a" d="M580.5 171.4h4.6v4.6h-4.6z"/>
<path fill="#b80a0a" d="M584.5 171.4h4.6v4.6h-4.6z"/>
<path fill="#ba0a0a" d="M588.5 171.4h4.6v4.6h-4.6z"/>
<path fill="#bc0a0a" d="M592.5 171.4h4.6v4.6h-4.6z"/>
<path fill="#bf0a0a" d="M596.5 171.4h4.6v4.6h-4.6z"/>
<path fill="#c40a0a" d="M600.5 171.4h4.6v4.6h-4.6z"/>
<path fill="#ca0a0a" d="M604.5 171.4h4.6v4.6h-4.6z"/>
<path fill="#d10a0a" d="M608.5 171.4h4.6v4.6h-4.6z"/>
<path fill="#d90a0a" d="M612.5 171.4h4.6v4.6h-4.6z"/>
<path fill="#e10a0a" d="M616.5 171.4h4.6v4.6h-4.6z"/>
<path fill="#ea0a0a" d="M620.5 171.4h4.6v4.6h-4.6z"/>
<path fill="#f40a0a" d="M624.5 171.4h4.6v4.6h-4.6z"/>
<path fill="#fd0a0a" d="M628.5 171.4h4.6v4.6h-4.6z"/>
<path fill="#ff100a" d="M632.5 171.4h4.6v4.6h-4.6z"/>
<path fill="#ff260a" d="M492.5 175.4h4.6v4.6h-4.6z"/>
<path fill="#ff200a" d="M496.5 175.4h4.6v4.6h-4.6z"/>
<path fill="#ff1b0a" d="M500.5 175.4h4.6v4.6h-4.6z"/>
<path fill="#ff160a" d="M504.5 175.4h4.6v4.6h-4.6z"/>
<path fill="#ff120a" d="M508.5 175.4h4.6v4.6h-4.6z"/>
<path fill="#ff0e0a" d="M512.5 175.4h4.6v4.6h-4.6z"/>
<path fill="#ff0b0a" d="M516.5 175.4h4.6v4.6h-4.6z"/>
<path fill="#fc0a0a" d="M520.5 175.4h4.6v4.6h-4.6z"/>
<path fill="#f80a0a" d="M524.5 175.4h4.6v4.6h-4.6z"/>
<path fill="#f50a0a" d="M528.5 175.4h4.6v4.6h-4.6z"/>
<path fill="#f30a0a" d="M532.5 175.4h4.6v4.6h-4.6z"/>
<path fill="#f30a0a" d="M536.5 175.4h4.6v4.6h-4.6z"/>
<path fill="#f30a0a" d="M540.5 175.4h4.6v4.6h-4.6z"/>
<path fill="#f00a0a" d="M544.5 175.4h4.6v4.6h-4.6z"/>
<path fill="#e80a0a" d="M548.5 175.4h4.6v4.6h-4.6z"/>
<path fill="#d70a0a" d="M552.5 175.4h4.6v4.6h-4.6z"/>
<path fill="#c10a0a" d="M556.5 175.4h4.6v4.6h-4.6z"/>
<path fill="#ab0a0a" d="M560.5 175.4h4.6v4.6h-4.6z"/>
<path fill="#9d0a0a" d="M564.5 175.4h4.6v4.6h-4.6z"/>
<path fill="#9c0a0a" d="M568.5 175.4h4.6v4.6h-4.6z"/>
<path fill="#a30a0a" d="M572.5 175.4h4.6v4.6h-4.6z"/>
<path fill="#a90a0a" d="M576.5 175.4h4.6v4.6h-4.6z"/>
<path fill="#ae0a0a" d="M580.5 175.4h4.6v4.6h-4.6z"/>
<path fill="#b10a0a" d="M584.5 175.4h4.6v4.6h-4.6z"/>
<path fill="#b30a0a" d="M588.5 175.4h4.6v4.6h-4.6z"/>
<path fill="#b50a0a" d="M592.5 175.4h4.6v4.6h-4.6z"/>
<path fill="#b90a0a" d="M596.5 175.4h4.6v4.6h-4.6z"/>
<path fill="#be0a0a" d="M600.5 175.4h4.6v4.6h-4.6z"/>
<path fill="#c50a0a" d="M604.5 175.4h4.6v4.6h-4.6z"/>
<path fill="#cd0a0a" d="M608.5 175.4h4.6v4.6h-4.6z"/>
<path fill="#d50a0a" d="M612.5 175.4h4.6v4.6h-4.6z"/>
<path fill="#dd0a0a" d="M616.5 175.4h4.6v4.6h-4.6z"/>
<path fill="#e60a0a" d="M620.5 175.4h4.6v4.6h-4.6z"/>
<path fill="#ef0a0a" d="M624.5 175.4h4.6v4.6h-4.6z"/>
<path fill="#f70a0a" d="M628.5 175.4h4.6v4.6h-4.6z"/>
<path fill="#ff0b0a" d="M632.5 175.4h4.6v4.6h-4.6z"/>
<path fill="#ff220a" d="M492.5 179.4h4.6v4.6h-4.6z"/>
<path fill="#ff1d0a" d="M496.5 179.4h4.6v4.6h-4.6z"/>
<path fill="#ff180a" d="M500.5 179.4h4.6v4.6h-4.6z"/>
<path fill="#ff150a" d="M504.5 179.4h4.6v4.6h-4.6z"/>
<path fill="#ff130a" d="M508.5 179.4h4.6v4.6h-4.6z"/>
<path fill="#ff110a" d="M512.5 179.4h4.6v4.6h-4.6z"/>
<path fill="#ff100a" d="M516.5 179.4h4.6v4.6h-4.6z"/>
<path fill="#ff0e0a" d="M520.5 179.4h4.6v4.6h-4.6z"/>
<path fill="#ff0c0a" d="M524.5 179.4h4.6v4.6h-4.6z"/>
<path fill="#ff0a0a" d="M528.5 179.4h4.6v4.6h-4.6z"/>
<path fill="#fd0a0a" d="M532.5 179.4h4.6v4.6h-4.6z"/>
<path fill="#fd0a0a" d="M536.5 179.4h4.6v4.6h-4.6z"/>
<path fill="#ff0a0a" d="M540.5 179.4h4.6v4.6h-4.6z"/>
<path fill="#ff0a0a" d="M544.5 179.4h4.6v4.6h-4.6z"/>
<path fill="#f70a0a" d="M548.5 179.4h4.6v4.6h-4.6z"/>
<path fill="#e50a0a" d="M552.5 179.4h4.6v4.6h-4.6z"/>
<path fill="#c70a0a" d="M556.5 179.4h4.6v4.6h-4.6z"/>
<path fill="#aa0a0a" d="M560.5 179.4h4.6v4.6h-4.6z"/>
<path fill="#990a0a" d="M564.5 179.4h4.6v4.6h-4.6z"/>
<path fill="#990a0a" d="M568.5 179.4h4.6v4.6h-4.6z"/>
<path fill="#a00a0a" d="M572.5 179.4h4.6v4.6h-4.6z"/>
<path fill="#a60a0a" d="M576.5 179.4h4.6v4.6h-4.6z"/>
<path fill="#ab0a0a" d="M580.5 179.4h4.6v4.6h-4.6z"/>
<path fill="#ad0a0a" d="M584.5 179.4h4.6v4.6h-4.6z"/>
<path fill="#af0a0a" d="M588.5 179.4h4.6v4.6h-4.6z"/>
<path fill="#b10a0a" d="M592.5 179.4h4.6v4.6h-4.6z"/>
<path fill="#b40a0a" d="M596.5 179.4h4.6v4.6h-4.6z"/>
<path fill="#ba0a0a" d="M600.5 179.4h4.6v4.6h-4.6z"/>
<path fill="#c20a0a" d="M604.5 179.4h4.6v4.6h-4.6z"/>
<path fill="#ca0a0a" d="M608.5 179.4h4.6v4.6h-4.6z"/>
<path fill="#d20a0a" d="M612.5 179.4h4.6v4.6h-4.6z"/>
<path fill="#da0a0a" d="M616.5 179.4h4.6v4.6h-4.6z"/>
<path fill="#e20a0a" d="M620.5 179.4h4.6v4.6h-4.6z"/>
<path fill="#eb0a0a" d="M624.5 179.4h4.6v4.6h-4.6z"/>
<path fill="#f30a0a" d="M628.5 179.4h4.6v4.6h-4.6z"/>
<path fill="#fb0a0a" d="M632.5 179.4h4.6v4.6h-4.6z"/>
<path fill="#ff1c0a" d="M496.5 183.4h4.6v4.6h-4.6z"/>
<path fill="#ff180a" d="M500.5 183.4h4.6v4.6h-4.6z"/>
<path fill="#ff170a" d="M504.5 183.4h4.6v4.6h-4.6z"/>
<path fill="#ff170a" d="M508.5 183.4h4.6v4.6h-4.6z"/>
<path fill="#ff170a" d="M512.5 183.4h4.6v4.6h-4.6z"/>
<path fill="#ff180a" d="M516.5 183.4h4.6v4.6h-4.6z"/>
<path fill="#ff180a" d="M520.5 183.4h4.6v4.6h-4.6z"/>
<path fill="#ff170a" d="M524.5 183.4h4.6v4.6h-4.6z"/>
<path fill="#ff160a" d="M528.5 183.4h4.6v4.6h-4.6z"/>
<path fill="#ff150a" d="M532.5 183.4h4.6v4.6h-4.6z"/>
<path fill="#ff150a" d="M536.5 183.4h4.6v4.6h-4.6z"/>
<path fill="#ff180a" d="M540.5 183.4h4.6v4.6h-4.6z"/>
<path fill="#ff1b0a" d="M544.5 183.4h4.6v4.6h-4.6z"/>
<path fill="#ff170a" d="M548.5 183.4h4.6v4.6h-4.6z"/>
<path fill="#f80a0a" d="M552.5 183.4h4.6v4.6h-4.6z"/>
<path fill="#d20a0a" d="M556.5 183.4h4.6v4.6h-4.6z"/>
<path fill="#ae0a0a" d="M560.5 183.4h4.6v4.6h-4.6z"/>
<path fill="#9d0a0a" d="M564.5 183.4h4.6v4.6h-4.6z"/>
<path fill="#9c0a0a" d="M568.5 183.4h4.6v4.6h-4.6z"/>
<path fill="#a20a0a" d="M572.5 183.4h4.6v4.6h-4.6z"/>
<path fill="#a60a0a" d="M576.5 183.4h4.6v4.6h-4.6z"/>
<path fill="#aa0a0a" d="M580.5 183.4h4.6v4.6h-4.6z"/>
<path fill="#ac0a0a" d="M584.5 183.4h4.6v4.6h-4.6z"/>
<path fill="#ae0a0a" d="M588.5 183.4h4.6v4.6h-4.6z"/>
<path fill="#b10a0a" d="M592.5 183.4h4.6v4.6h-4.6z"/>
<path fill="#b40a0a" d="M596.5 183.4h4.6v4.6h-4.6z"/>
<path fill="#ba0a0a" d="M600.5 183.4h4.6v4.6h-4.6z"/>
<path fill="#c20a0a" d="M604.5 183.4h4.6v4.6h-4.6z"/>
<path fill="#ca0a0a" d="M608.5 183.4h4.6v4.6h-4.6z"/>
<path fill="#d10a0a" d="M612.5 183.4h4.6v4.6h-4.6z"/>
<path fill="#d80a0a" d="M616.5 183.4h4.6v4.6h-4.6z"/>
<path fill="#df0a0a" d="M620.5 183.4h4.6v4.6h-4.6z"/>
<path fill="#e70a0a" d="M624.5 183.4h4.6v4.6h-4.6z"/>
<path fill="#ef0a0a" d="M628.5 183.4h4.6v4.6h-4.6z"/>
<path fill="#ff1b0a" d="M500.5 187.4h4.6v4.6h-4.6z"/>
<path fill="#ff1a0a" d="M504.5 187.4h4.6v4.6h-4.6z"/>
<path fill="#ff1c0a" d="M508.5 187.4h4.6v4.6h-4.6z"/>
<path fill="#ff1f0a" d="M512.5 187.4h4.6v4.6h-4.6z"/>
<path fill="#ff210a" d="M516.5 187.4h4.6v4.6h-4.6z"/>
<path fill="#ff230a" d="M520.5 187.4h4.6v4.6h-4.6z"/>
<path fill="#ff230a" d="M524.5 187.4h4.6v4.6h-4.6z"/>
<path fill="#ff230a" d="M528.5 187.4h4.6v4.6h-4.6z"/>
<path fill="#ff230a" d="M532.5 187.4h4.6v4.6h-4.6z"/>
<path fill="#ff240a" d="M536.5 187.4h4.6v4.6h-4.6z"/>
<path fill="#ff280a" d="M540.5 187.4h4.6v4.6h-4.6z"/>
<path fill="#ff2b0a" d="M544.5 187.4h4.6v4.6h-4.6z"/>
<path fill="#ff280a" d="M548.5 187.4h4.6v4.6h-4.6z"/>
<path fill="#ff180a" d="M552.5 187.4h4.6v4.6h-4.6z"/>
<path fill="#de0a0a" d="M556.5 187.4h4.6v4.6h-4.6z"/>
<path fill="#b60a0a" d="M560.5 187.4h4.6v4.6h-4.6z"/>
<path fill="#a60a0a" d="M564.5 187.4h4.6v4.6h-4.6z"/>
<path fill="#a20a0a" d="M568.5 187.4h4.6v4.6h-4.6z"/>
<path fill="#a40a0a" d="M572.5 187.4h4.6v4.6h-4.6z"/>
<path fill="#a80a0a" d="M576.5 187.4h4.6v4.6h-4.6z"/>
<path fill="#ab0a0a" d="M580.5 187.4h4.6v4.6h-4.6z"/>
<path fill="#ad0a0a" d="M584.5 187.4h4.6v4.6h-4.6z"/>
<path fill="#b00a0a" d="M588.5 187.4h4.6v4.6h-4.6z"/>
<path fill="#b30a0a" d="M592.5 187.4h4.6v4.6h-4.6z"/>
<path fill="#b70a0a" d="M596.5 187.4h4.6v4.6h-4.6z"/>
<path fill="#be0a0a" d="M600.5 187.4h4.6v4.6h-4.6z"/>
<path fill="#c50a0a" d="M604.5 187.4h4.6v4.6h-4.6z"/>
<path fill="#cb0a0a" d="M608.5 187.4h4.6v4.6h-4.6z"/>
<path fill="#d20a0a" d="M612.5 187.4h4.6v4.6h-4.6z"/>
<path fill="#d80a0a" d="M616.5 187.4h4.6v4.6h-4.6z"/>
<path fill="#df0a0a" d="M620.5 187.4h4.6v4.6h-4.6z"/>
<path fill="#e60a0a" d="M624.5 187.4h4.6v4.6h-4.6z"/>
<path fill="#ff1f0a" d="M500.5 191.4h4.6v4.6h-4.6z"/>
<path fill="#ff200a" d="M504.5 191.4h4.6v4.6h-4.6z"/>
<path fill="#ff230a" d="M508.5 191.4h4.6v4.6h-4.6z"/>
<path fill="#ff270a" d="M512.5 191.4h4.6v4.6h-4.6z"/>
<path fill="#ff2b0a" d="M516.5 191.4h4.6v4.6h-4.6z"/>
<path fill="#ff2e0a" d="M520.5 191.4h4.6v4.6h-4.6z"/>
<path fill="#ff300a" d="M524.5 191.4h4.6v4.6h-4.6z"/>
<path fill="#ff300a" d="M528.5 191.4h4.6v4.6h-4.6z"/>
<path fill="#ff310a" d="M532.5 191.4h4.6v4.6h-4.6z"/>
<path fill="#ff330a" d="M536.5 191.4h4.6v4.6h-4.6z"/>
<path fill="#ff350a" d="M540.5 191.4h4.6v4.6h-4.6z"/>
<path fill="#ff350a" d="M544.5 191.4h4.6v4.6h-4.6z"/>
<path fill="#ff2e0a" d="M548.5 191.4h4.6v4.6h-4.6z"/>
<path fill="#ff1a0a" d="M552.5 191.4h4.6v4.6h-4.6z"/>
<path fill="#e90a0a" d="M556.5 191.4h4.6v4.6h-4.6z"/>
<path fill="#c60a0a" d="M560.5 191.4h4.6v4.6h-4.6z"/>
<path fill="#b30a0a" d="M564.5 191.4h4.6v4.6h-4.6z"/>
<path fill="#ac0a0a" d="M568.5 191.4h4.6v4.6h-4.6z"/>
<path fill="#aa0a0a" d="M572.5 191.4h4.6v4.6h-4.6z"/>
<path fill="#ac0a0a" d="M576.5 191.4h4.6v4.6h-4.6z"/>
<path fill="#ae0a0a" d="M580.5 191.4h4.6v4.6h-4.6z"/>
<path fill="#b00a0a" d="M584.5 191.4h4.6v4.6h-4.6z"/>
<path fill="#b30a0a" d="M588.5 191.4h4.6v4.6h-4.6z"/>
<path fill="#b70a0a" d="M592.5 191.4h4.6v4.6h-4.6z"/>
<path fill="#bc0a0a" d="M596.5 191.4h4.6v4.6h-4.6z"/>
<path fill="#c20a0a" d="M600.5 191.4h4.6v4.6h-4.6z"/>
<path fill="#c90a0a" d="M604.5 191.4h4.6v4.6h-4.6z"/>
<path fill="#ce0a0a" d="M608.5 191.4h4.6v4.6h-4.6z"/>
<path fill="#d30a0a" d="M612.5 191.4h4.6v4.6h-4.6z"/>
<path fill="#d90a0a" d="M616.5 191.4h4.6v4.6h-4.6z"/>
<path fill="#df0a0a" d="M620.5 191.4h4.6v4.6h-4.6z"/>
<path fill="#e50a0a" d="M624.5 191.4h4.6v4.6h-4.6z"/>
<path fill="#ff270a" d="M504.5 195.4h4.6v4.6h-4.6z"/>
<path fill="#ff2b0a" d="M508.5 195.4h4.6v4.6h-4.6z"/>
<path fill="#ff2f0a" d="M512.5 195.4h4.6v4.6h-4.6z"/>
<path fill="#ff340a" d="M516.5 195.4h4.6v4.6h-4.6z"/>
<path fill="#ff380a" d="M520.5 195.4h4.6v4.6h-4.6z"/>
<path fill="#ff3a0a" d="M524.5 195.4h4.6v4.6h-4.6z"/>
<path fill="#ff3b0a" d="M528.5 195.4h4.6v4.6h-4.6z"/>
<path fill="#ff3c0a" d="M532.5 195.4h4.6v4.6h-4.6z"/>
<path fill="#ff3e0a" d="M536.5 195.4h4.6v4.6h-4.6z"/>
<path fill="#ff3e0a" d="M540.5 195.4h4.6v4.6h-4.6z"/>
<path fill="#ff390a" d="M544.5 195.4h4.6v4.6h-4.6z"/>
<path fill="#ff2e0a" d="M548.5 195.4h4.6v4.6h-4.6z"/>
<path fill="#ff1a0a" d="M552.5 195.4h4.6v4.6h-4.6z"/>
<path fill="#f10a0a" d="M556.5 195.4h4.6v4.6h-4.6z"/>
<path fill="#d50a0a" d="M560.5 195.4h4.6v4.6h-4.6z"/>
<path fill="#c20a0a" d="M564.5 195.4h4.6v4.6h-4.6z"/>
<path fill="#b80a0a" d="M568.5 195.4h4.6v4.6h-4.6z"/>
<path fill="#b30a0a" d="M572.5 195.4h4.6v4.6h-4.6z"/>
<path fill="#b30a0a" d="M576.5 195.4h4.6v4.6h-4.6z"/>
<path fill="#b30a0a" d="M580.5 195.4h4.6v4.6h-4.6z"/>
<path fill="#b50a0a" d="M584.5 195.4h4.6v4.6h-4.6z"/>
<path fill="#b80a0a" d="M588.5 195.4h4.6v4.6h-4.6z"/>
<path fill="#bc0a0a" d="M592.5 195.4h4.6v4.6h-4.6z"/>
<path fill="#c10a0a" d="M596.5 195.4h4.6v4.6h-4.6z"/>
<path fill="#c70a0a" d="M600.5 195.4h4.6v4.6h-4.6z"/>
<path fill="#cc0a0a" d="M604.5 195.4h4.6v4.6h-4.6z"/>
<path fill="#d10a0a" d="M608.5 195.4h4.6v4.6h-4.6z"/>
<path fill="#d60a0a" d="M612.5 195.4h4.6v4.6h-4.6z"/>
<path fill="#da0a0a" d="M616.5 195.4h4.6v4.6h-4.6z"/>
<path fill="#df0a0a" d="M620.5 195.4h4.6v4.6h-4.6z"/>
<path fill="#ff310a" d="M508.5 199.4h4.6v4.6h-4.6z"/>
<path fill="#ff360a" d="M512.5 199.4h4.6v4.6h-4.6z"/>
<path fill="#ff3a0a" d="M516.5 199.4h4.6v4.6h-4.6z"/>
<path fill="#ff3e0a" d="M520.5 199.4h4.6v4.6h-4.6z"/>
<path fill="#ff410a" d="M524.5 199.4h4.6v4.6h-4.6z"/>
<path fill="#ff420a" d="M528.5 199.4h4.6v4.6h-4.6z"/>
<path fill="#ff430a" d="M532.5 199.4h4.6v4.6h-4.6z"/>
<path fill="#ff430a" d="M536.5 199.4h4.6v4.6h-4.6z"/>
<path fill="#ff410a" d="M540.5 199.4h4.6v4.6h-4.6z"/>
<path fill="#ff390a" d="M544.5 199.4h4.6v4.6h-4.6z"/>
<path fill="#ff2c0a" d="M548.5 199.4h4.6v4.6h-4.6z"/>
<path fill="#ff190a" d="M552.5 199.4h4.6v4.6h-4.6z"/>
<path fill="#f70a0a" d="M556.5 199.4h4.6v4.6h-4.6z"/>
<path fill="#e00a0a" d="M560.5 199.4h4.6v4.6h-4.6z"/>
<path fill="#cf0a0a" d="M564.5 199.4h4.6v4.6h-4.6z"/>
<path fill="#c40a0a" d="M568.5 199.4h4.6v4.6h-4.6z"/>
<path fill="#bd0a0a" d="M572.5 199.4h4.6v4.6h-4.6z"/>
<path fill="#bb0a0a" d="M576.5 199.4h4.6v4.6h-4.6z"/>
<path fill="#bb0a0a" d="M580.5 199.4h4.6v4.6h-4.6z"/>
<path fill="#bc0a0a" d="M584.5 199.4h4.6v4.6h-4.6z"/>
<path fill="#bf0a0a" d="M588.5 199.4h4.6v4.6h-4.6z"/>
<path fill="#c30a0a" d="M592.5 199.4h4.6v4.6h-4.6z"/>
<path fill="#c70a0a" d="M596.5 199.4h4.6v4.6h-4.6z"/>
<path fill="#cb0a0a" d="M600.5 199.4h4.6v4.6h-4.6z"/>
<path fill="#cf0a0a" d="M604.5 199.4h4.6v4.6h-4.6z"/>
<path fill="#d40a0a" d="M608.5 199.4h4.6v4.6h-4.6z"/>
<path fill="#d80a0a" d="M612.5 199.4h4.6v4.6h-4.6z"/>
<path fill="#dc0a0a" d="M616.5 199.4h4.6v4.6h-4.6z"/>
<path fill="#ff3a0a" d="M512.5 203.4h4.6v4.6h-4.6z"/>
<path fill="#ff3f0a" d="M516.5 203.4h4.6v4.6h-4.6z"/>
<path fill="#ff430a" d="M520.5 203.4h4.6v4.6h-4.6z"/>
<path fill="#ff450a" d="M524.5 203.4h4.6v4.6h-4.6z"/>
<path fill="#ff460a" d="M528.5 203.4h4.6v4.6h-4.6z"/>
<path fill="#ff460a" d="M532.5 203.4h4.6v4.6h-4.6z"/>
<path fill="#ff450a" d="M536.5 203.4h4.6v4.6h-4.6z"/>
<path fill="#ff400a" d="M540.5 203.4h4.6v4.6h-4.6z"/>
<path fill="#ff370a" d="M544.5 203.4h4.6v4.6h-4.6z"/>
<path fill="#ff2a0a" d="M548.5 203.4h4.6v4.6h-4.6z"/>
<path fill="#ff190a" d="M552.5 203.4h4.6v4.6h-4.6z"/>
<path fill="#fb0a0a" d="M556.5 203.4h4.6v4.6h-4.6z"/>
<path fill="#e90a0a" d="M560.5 203.4h4.6v4.6h-4.6z"/>
<path fill="#d90a0a" d="M564.5 203.4h4.6v4.6h-4.6z"/>
<path fill="#ce0a0a" d="M568.5 203.4h4.6v4.6h-4.6z"/>
<path fill="#c80a0a" d="M572.5 203.4h4.6v4.6h-4.6z"/>
<path fill="#c40a0a" d="M576.5 203.4h4.6v4.6h-4.6z"/>
<path fill="#c30a0a" d="M580.5 203.4h4.6v4.6h-4.6z"/>
<path fill="#c40a0a" d="M584.5 203.4h4.6v4.6h-4.6z"/>
<path fill="#c70a0a" d="M588.5 203.4h4.6v4.6h-4.6z"/>
<path fill="#ca0a0a" d="M592.5 203.4h4.6v4.6h-4.6z"/>
<path fill="#cc0a0a" d="M596.5 203.4h4.6v4.6h-4.6z"/>
<path fill="#d00a0a" d="M600.5 203.4h4.6v4.6h-4.6z"/>
<path fill="#d30a0a" d="M604.5 203.4h4.6v4.6h-4.6z"/>
<path fill="#d70a0a" d="M608.5 203.4h4.6v4.6h-4.6z"/>
<path fill="#da0a0a" d="M612.5 203.4h4.6v4.6h-4.6z"/>
<path fill="#ff450a" d="M520.5 207.4h4.6v4.6h-4.6z"/>
<path fill="#ff470a" d="M524.5 207.4h4.6v4.6h-4.6z"/>
<path fill="#ff480a" d="M528.5 207.4h4.6v4.6h-4.6z"/>
<path fill="#ff470a" d="M532.5 207.4h4.6v4.6h-4.6z"/>
<path fill="#ff440a" d="M536.5 207.4h4.6v4.6h-4.6z"/>
<path fill="#ff3e0a" d="M540.5 207.4h4.6v4.6h-4.6z"/>
<path fill="#ff350a" d="M544.5 207.4h4.6v4.6h-4.6z"/>
<path fill="#ff280a" d="M548.5 207.4h4.6v4.6h-4.6z"/>
<path fill="#ff190a" d="M552.5 207.4h4.6v4.6h-4.6z"/>
<path fill="#fe0a0a" d="M556.5 207.4h4.6v4.6h-4.6z"/>
<path fill="#ef0a0a" d="M560.5 207.4h4.6v4.6h-4.6z"/>
<path fill="#e20a0a" d="M564.5 207.4h4.6v4.6h-4.6z"/>
<path fill="#d80a0a" d="M568.5 207.4h4.6v4.6h-4.6z"/>
<path fill="#d10a0a" d="M572.5 207.4h4.6v4.6h-4.6z"/>
<path fill="#cd0a0a" d="M576.5 207.4h4.6v4.6h-4.6z"/>
<path fill="#cc0a0a" d="M580.5 207.4h4.6v4.6h-4.6z"/>
<path fill="#cc0a0a" d="M584.5 207.4h4.6v4.6h-4.6z"/>
<path fill="#cd0a0a" d="M588.5 207.4h4.6v4.6h-4.6z"/>
<path fill="#cf0a0a" d="M592.5 207.4h4.6v4.6h-4.6z"/>
<path fill="#d20a0a" d="M596.5 207.4h4.6v4.6h-4.6z"/>
<path fill="#d40a0a" d="M600.5 207.4h4.6v4.6h-4.6z"/>
<path fill="#d70a0a" d="M604.5 207.4h4.6v4.6h-4.6z"/>
<path fill="#ff470a" d="M524.5 211.4h4.6v4.6h-4.6z"/>
<path fill="#ff470a" d="M528.5 211.4h4.6v4.6h-4.6z"/>
<path fill="#ff460a" d="M532.5 211.4h4.6v4.6h-4.6z"/>
<path fill="#ff420a" d="M536.5 211.4h4.6v4.6h-4.6z"/>
<path fill="#ff3c0a" d="M540.5 211.4h4.6v4.6h-4.6z"/>
<path fill="#ff330a" d="M544.5 211.4h4.6v4.6h-4.6z"/>
<path fill="#ff270a" d="M548.5 211.4h4.6v4.6h-4.6z"/>
<path fill="#ff1a0a" d="M552.5 211.4h4.6v4.6h-4.6z"/>
<path fill="#ff0d0a" d="M556.5 211.4h4.6v4.6h-4.6z"/>
<path fill="#f50a0a" d="M560.5 211.4h4.6v4.6h-4.6z"/>
<path fill="#e90a0a" d="M564.5 211.4h4.6v4.6h-4.6z"/>
<path fill="#e00a0a" d="M568.5 211.4h4.6v4.6h-4.6z"/>
<path fill="#da0a0a" d="M572.5 211.4h4.6v4.6h-4.6z"/>
<path fill="#d50a0a" d="M576.5 211.4h4.6v4.6h-4.6z"/>
<path fill="#d30a0a" d="M580.5 211.4h4.6v4.6h-4.6z"/>
<path fill="#d30a0a" d="M584.5 211.4h4.6v4.6h-4.6z"/>
<path fill="#d30a0a" d="M588.5 211.4h4.6v4.6h-4.6z"/>
<path fill="#d50a0a" d="M592.5 211.4h4.6v4.6h-4.6z"/>
<path fill="#d60a0a" d="M596.5 211.4h4.6v4.6h-4.6z"/>
<path fill="#d80a0a" d="M600.5 211.4h4.6v4.6h-4.6z"/>
<path fill="#ff400a" d="M536.5 215.4h4.6v4.6h-4.6z"/>
<path fill="#ff3a0a" d="M540.5 215.4h4.6v4.6h-4.6z"/>
<path fill="#ff310a" d="M544.5 215.4h4.6v4.6h-4.6z"/>
<path fill="#ff270a" d="M548.5 215.4h4.6v4.6h-4.6z"/>
<path fill="#ff1b0a" d="M552.5 215.4h4.6v4.6h-4.6z"/>
<path fill="#ff100a" d="M556.5 215.4h4.6v4.6h-4.6z"/>
<path fill="#fa0a0a" d="M560.5 215.4h4.6v4.6h-4.6z"/>
<path fill="#f00a0a" d="M564.5 215.4h4.6v4.6h-4.6z"/>
<path fill="#e70a0a" d="M568.5 215.4h4.6v4.6h-4.6z"/>
<path fill="#e10a0a" d="M572.5 215.4h4.6v4.6h-4.6z"/>
<path fill="#dd0a0a" d="M576.5 215.4h4.6v4.6h-4.6z"/>
<path fill="#da0a0a" d="M580.5 215.4h4.6v4.6h-4.6z"/>
<path fill="#d90a0a" d="M584.5 215.4h4.6v4.6h-4.6z"/>
<path fill="#d90a0a" d="M588.5 215.4h4.6v4.6h-4.6z"/>
<path fill="#ff270a" d="M548.5 219.4h4.6v4.6h-4.6z"/>
<path fill="#ff1d0a" d="M552.5 219.4h4.6v4.6h-4.6z"/>
<path fill="#ff130a" d="M556.5 219.4h4.6v4.6h-4.6z"/>
<path fill="#fe0a0a" d="M560.5 219.4h4.6v4.6h-4.6z"/>
<path fill="#f50a0a" d="M564.5 219.4h4.6v4.6h-4.6z"/>
<path fill="#ed0a0a" d="M568.5 219.4h4.6v4.6h-4.6z"/>
<path fill="#e80a0a" d="M572.5 219.4h4.6v4.6h-4.6z"/>
<path fill="#e30a0a" d="M576.5 219.4h4.6v4.6h-4.6z"/>
</g></g>
<path d="M530.1 79.6 530.3 80.9 530.4 82.3 530.7 84.2 531.1 86 531.4 87 531.9 88.8 532.2 89.7 532.8 91.6 533.2 92.5 533.9 94.4 534.3 95.3 534.9 96.5 535.8 98.1 536.5 99 537.3 99.9 538.4 100.8 539.5 101.6 540.4 102.1 541.8 102.7 543.2 103.2 544.4 103.6 546 104 547.8 104.5 548.8 104.7 550.6 105 552.5 105.3 553.4 105.5 555.2 105.7 557.1 106 558.9 106.3 560 106.4 561.7 106.6 563.6 106.7 565.4 106.7 567.3 106.6 569.1 106.5 570.3 106.4 571.9 106.3 573.8 106.2 575.6 106.2 577.5 106.2 579.3 106.2 581.2 106.3 583 106.4 583.9 106.5 585.8 106.6 587.6 106.8 589.5 107 591.3 107.2 592.9 107.3 594.1 107.4 596 107.3 596.9 107.3 598.7 107 600.6 106.8 602.4 106.6 603.8 106.4 605.2 106.2 607.1 106 608.9 105.8 610.8 105.6 611.7 105.5 613.5 105.3 615.4 105.1 617.2 104.9 619.1 104.7 620.9 104.5 621.9 104.4 623.7 104.2 625.6 103.9M518.8 87 519.2 87.9 519.8 89.7 520.1 90.7 520.7 92.5 521 93.5 521.6 95.3 521.9 96.5 522.4 98.1 522.9 99.5 523.3 100.8 523.8 102.3 524.3 103.6 524.7 104.6 525.6 106.4 526.1 107.3 526.7 108.2 527.5 109.2 528.4 110.1 529.6 111 531 111.9 532.1 112.5 533 113 534.9 113.7 535.8 114.1 537.7 114.6 538.6 114.8 540.4 115.2 542.3 115.5 543.4 115.6 545.1 115.8 546.9 116 548.8 116.1 550.6 116.2 552.5 116.3 554.3 116.4 556.2 116.5 558 116.5 559.9 116.6 560.8 116.6 562.6 116.6 564.5 116.6 566.4 116.7 568.2 116.7 570.1 116.7 571.9 116.8 573.8 116.8 575.6 116.8 577.5 116.9 579.3 116.9 581.2 117 583 117 584.9 117.1 586.7 117.2 588.6 117.2 590.4 117.3 592.3 117.3 594.1 117.3 596 117.3 597.8 117.4 599.7 117.4 601.5 117.5 602.6 117.5 604.3 117.5 606.1 117.6 608 117.7 609.8 117.8 611.7 117.9 613.5 118 615.4 118.1 617.2 118.3 619.1 118.4 620 118.5 621.9 118.6 623.7 118.7 625.6 118.7 627.4 118.6 629.2 118.4 630.2 118.3 632 118M509.8 96.2 510.3 97.1 510.8 98.1 511.6 99.9 512 100.8 512.5 102.7 512.8 103.6 513.3 105.5 513.6 106.5 514.2 108.2 514.6 109.2 515.4 111 515.8 111.9 516.4 112.9 517.3 114.4 518.2 115.6 519 116.6 519.8 117.5 520.8 118.4 521.9 119.3 522.9 120.1 523.8 120.7 524.7 121.3 526.4 122.1 527.5 122.6 528.7 123 530.3 123.6 531.9 124 533 124.2 534.9 124.5 536.7 124.8 538 124.9 539.5 125 541.4 125.1 543.2 125.2 545.1 125.2 546.9 125.2 548.8 125.2 550.6 125.1 552.5 125.1 554.3 125.1 556.2 125 558 125 559.9 125 561.7 125 563.6 125 565.4 125 567.3 125.1 569.1 125.2 571 125.2 572.8 125.3 574.7 125.4 576.5 125.5 578.4 125.6 580.2 125.7 582.1 125.7 583.9 125.8 584.9 125.8 586.7 125.9 588.6 126 590.4 126.1 592.3 126.1 594.1 126.2 596 126.3 597.8 126.4 599.7 126.5 601.5 126.6 602.6 126.7 604.3 126.9 606.1 127.1 608 127.3 609.8 127.5 611.7 127.7 612.6 127.8 614.5 127.9 616.3 128.1 618.2 128.2 620 128.4 621.9 128.5 623.7 128.6 625.3 128.6 626.5 128.6 628.3 128.6 630.2 128.6 632 128.6 633.9 128.8 635.7 129M493.3 127 493.3 128.1M492.3 150.6 494.2 150.8 496 150.5 497.4 149.9 498.5 149 499.4 148 500.1 147.1 500.7 146.2 501.5 144.3 501.8 143.4 502.1 141.5 501.9 139.7 501.6 138.2 501.1 136.9 500.7 135.6 500.1 134.1 500 132.3 500.8 131.4 502.5 130.9 504.4 130.8 506.2 130.9 508.1 131.3 509 131.8 509.9 132.3 511.3 133.2 512.7 133.9 513.6 134.3 515.5 134.8 516.7 135.1 518.2 135.3 520.1 135.5 521.9 135.6 523.8 135.6 525.6 135.6 527.5 135.5 529.3 135.4 531.2 135.4 533 135.3 534.9 135.3 536.7 135.2 538.6 135.1 540 135.1 541.4 135 543.2 134.9 545.1 134.8 546.9 134.6 548.8 134.5 550.6 134.3 552.3 134.1 553.4 134 555.2 133.9 557.1 133.7 558.9 133.6 560.8 133.6 562.6 133.6 564.5 133.6 566.4 133.7 568.2 133.8 570.1 134 571.9 134.1 573 134.1 574.7 134.3 576.5 134.4 578.4 134.5 580.2 134.6 582.1 134.7 583.9 134.8 585.8 135 587.3 135.1 588.6 135.2 590.4 135.3 592.3 135.5 594.1 135.7 596 136 596.9 136.1 598.7 136.3 600.6 136.5 602.4 136.7 604.3 136.9 605.2 137 607.1 137.2 608.9 137.4 610.8 137.6 612.6 137.8 613.5 137.9 615.4 138.1 617.2 138.4 619.1 138.6 620 138.8 621.9 139.1 623.7 139.5 624.8 139.7 626.5 140.1 628.3 140.6 629.3 140.9 631 141.5 632 141.9 633.6 142.5 634.8 142.9 636 143.4 637.6 144.1M502.5 181.5 502.9 180.4 503.4 179.2 504.2 177.6 504.7 176.7 505.3 175.8 506.2 174.3 507.1 173 507.8 172.1 508.5 171.2 509.3 170.2 510.1 169.3 511 168.4 511.8 167.5 512.7 166.4 513.6 165.4 514.5 164.3 515.5 163.2 516.4 162 517.2 161 517.9 160.1 518.6 159.1 519.3 158.2 520.1 157.2 521 156 521.9 154.9 522.9 153.8 523.8 152.8 524.7 151.9 525.6 151.1 526.6 150.5 528 149.9 529.3 149.5 531.2 149.1 532.1 148.9 534 148.7 535.8 148.4 537.7 148.2 539.3 148 540.4 147.9 542.3 147.6 544.1 147.4 545.8 147.1 546.9 146.9 548.8 146.6 550.6 146.3 551.5 146.1 553.4 145.8 555.2 145.5 557.1 145.3 558 145.3 559.9 145.1 561.7 145.1 563.6 145 565.4 145 567.3 145.1 569.1 145.1 571 145.2 572 145.3 573.8 145.3 575.6 145.4 577.5 145.5 579.3 145.6 581.2 145.7 583 145.8 584.9 145.9 586.7 146.1 587.8 146.2 589.5 146.4 591.3 146.7 593.2 147.1 594.1 147.3 596 147.7 597.7 148 598.7 148.2 600.6 148.6 602.4 148.9 603.4 149.1 605.2 149.4 607.1 149.7 608.1 149.9 609.8 150.2 611.7 150.5 613.5 150.8 614.5 150.9 616.3 151.3 618.2 151.7 619.1 152 620.9 152.7 621.9 153.2 622.8 153.8 623.8 154.5 624.9 155.4 625.9 156.4 626.9 157.3 627.7 158.2 628.5 159.1 629.3 160.1 630.2 161.3 631.1 162.5 632 163.8 632.6 164.7 633.2 165.6M555.3 215.6 555.1 214.6 554.9 212.8 554.7 210.9 554.6 209.1 554.6 207.2 554.7 205.4 554.7 203.5 554.7 201.7 554.7 199.8 554.7 198 554.7 196.1 554.7 194.3 554.7 192.4 554.6 190.6 554.3 189.3 553.4 187.9 552.5 187 551.5 186.3 550.6 185.8 548.8 185.1 547.8 184.9 546 184.8 544.3 185 543.2 185.3 541.4 185.8 540.4 186.1 538.6 186.4 536.7 186.5 534.9 186.5 533 186.4 531.2 186.3 529.3 186.1 527.5 186 526.6 185.9 524.7 185.8 522.9 185.7 521 185.6 519.2 185.7 517.3 185.8 515.5 185.9 514.5 186.1 512.7 186.4 510.8 186.8 509.9 187 508.1 187.4 506.2 187.7" fill="none" stroke="rgba(50,40,40,0.6)" stroke-width="0.9" clip-path="url(#cp0)"/>
<circle cx="564.5" cy="143.4" r="70.5" fill="none" stroke="#111" stroke-width="1.5"/>
<path d="M553.9 73.6 L562.4 64.1 Q564.5 61.6 566.6 64.1 L575.1 73.6" fill="none" stroke="#222" stroke-width="1.4" stroke-linejoin="round"/>
<path d="M495.1 126.8C494.4 126.8 492.2 126.4 491.2 126.8C490.2 127.2 489.5 127.7 489.1 129.3C488.7 130.9 488.7 133.6 488.7 136.3C488.8 139.1 489.4 142.6 489.4 145.5C489.4 148.5 488.8 151.5 488.7 154C488.7 156.4 488.5 158.9 489.1 160.3C489.6 161.7 490.8 162.1 491.9 162.4C492.9 162.8 494.8 162.4 495.4 162.4" fill="none" stroke="#222" stroke-width="1.3"/>
<path d="M633.9 126.8C634.6 126.8 636.8 126.4 637.8 126.8C638.8 127.2 639.5 127.7 639.9 129.3C640.3 130.9 640.3 133.6 640.3 136.3C640.2 139.1 639.6 142.6 639.6 145.5C639.6 148.5 640.2 151.5 640.3 154C640.3 156.4 640.5 158.9 639.9 160.3C639.4 161.7 638.2 162.1 637.1 162.4C636.1 162.8 634.2 162.4 633.6 162.4" fill="none" stroke="#222" stroke-width="1.3"/>
<circle cx="542.7" cy="76.4" r="1.35" fill="#222"/>
<circle cx="586.3" cy="76.4" r="1.35" fill="#222"/>
<circle cx="507.5" cy="102" r="1.35" fill="#222"/>
<circle cx="621.5" cy="102" r="1.35" fill="#222"/>
<circle cx="494" cy="143.4" r="1.35" fill="#222"/>
<circle cx="635" cy="143.4" r="1.35" fill="#222"/>
<circle cx="507.5" cy="184.8" r="1.35" fill="#222"/>
<circle cx="621.5" cy="184.8" r="1.35" fill="#222"/>
<circle cx="542.7" cy="210.4" r="1.35" fill="#222"/>
<circle cx="586.3" cy="210.4" r="1.35" fill="#222"/>
<circle cx="595.6" cy="107" r="1.35" fill="#222"/>
<circle cx="533.4" cy="107" r="1.35" fill="#222"/>
<circle cx="617.5" cy="123.6" r="1.35" fill="#222"/>
<circle cx="511.5" cy="123.6" r="1.35" fill="#222"/>
<circle cx="582.4" cy="125.3" r="1.35" fill="#222"/>
<circle cx="546.6" cy="125.3" r="1.35" fill="#222"/>
<circle cx="602.5" cy="143.4" r="1.35" fill="#222"/>
<circle cx="526.5" cy="143.4" r="1.35" fill="#222"/>
<circle cx="618.2" cy="163.6" r="1.35" fill="#222"/>
<circle cx="510.8" cy="163.6" r="1.35" fill="#222"/>
<circle cx="582.1" cy="162.1" r="1.35" fill="#222"/>
<circle cx="546.9" cy="162.1" r="1.35" fill="#222"/>
<circle cx="596" cy="180.2" r="1.35" fill="#222"/>
<circle cx="533" cy="180.2" r="1.35" fill="#222"/>
<circle cx="587.6" cy="198.4" r="1.35" fill="#222"/>
<circle cx="541.4" cy="198.4" r="1.35" fill="#222"/>
<circle cx="564.5" cy="107.9" r="1.35" fill="#222"/>
<circle cx="564.5" cy="143.4" r="1.35" fill="#222"/>
<circle cx="564.5" cy="179.3" r="1.35" fill="#222"/>
<circle cx="1259.6" cy="133.3" r="81.6" fill="url(#halo)"/>
<g clip-path="url(#cp1)"><g filter="url(#bl)" class="c">
<path fill="#6dff9b" d="M1239.6 53.3h4.6v4.6h-4.6z"/>
<path fill="#66ffa2" d="M1243.6 53.3h4.6v4.6h-4.6z"/>
<path fill="#5fffa9" d="M1247.6 53.3h4.6v4.6h-4.6z"/>
<path fill="#5affae" d="M1251.6 53.3h4.6v4.6h-4.6z"/>
<path fill="#58ffb0" d="M1255.6 53.3h4.6v4.6h-4.6z"/>
<path fill="#59ffaf" d="M1259.6 53.3h4.6v4.6h-4.6z"/>
<path fill="#5effaa" d="M1263.6 53.3h4.6v4.6h-4.6z"/>
<path fill="#67ffa1" d="M1267.6 53.3h4.6v4.6h-4.6z"/>
<path fill="#74ff94" d="M1271.6 53.3h4.6v4.6h-4.6z"/>
<path fill="#85ff83" d="M1275.6 53.3h4.6v4.6h-4.6z"/>
<path fill="#85ff83" d="M1227.6 57.3h4.6v4.6h-4.6z"/>
<path fill="#7aff8e" d="M1231.6 57.3h4.6v4.6h-4.6z"/>
<path fill="#72ff96" d="M1235.6 57.3h4.6v4.6h-4.6z"/>
<path fill="#6bff9d" d="M1239.6 57.3h4.6v4.6h-4.6z"/>
<path fill="#64ffa5" d="M1243.6 57.3h4.6v4.6h-4.6z"/>
<path fill="#5cffac" d="M1247.6 57.3h4.6v4.6h-4.6z"/>
<path fill="#57ffb1" d="M1251.6 57.3h4.6v4.6h-4.6z"/>
<path fill="#55ffb3" d="M1255.6 57.3h4.6v4.6h-4.6z"/>
<path fill="#57ffb1" d="M1259.6 57.3h4.6v4.6h-4.6z"/>
<path fill="#5dffab" d="M1263.6 57.3h4.6v4.6h-4.6z"/>
<path fill="#68ffa0" d="M1267.6 57.3h4.6v4.6h-4.6z"/>
<path fill="#77ff91" d="M1271.6 57.3h4.6v4.6h-4.6z"/>
<path fill="#8cff7c" d="M1275.6 57.3h4.6v4.6h-4.6z"/>
<path fill="#a1ff67" d="M1279.6 57.3h4.6v4.6h-4.6z"/>
<path fill="#b1ff57" d="M1283.6 57.3h4.6v4.6h-4.6z"/>
<path fill="#bdff4b" d="M1287.6 57.3h4.6v4.6h-4.6z"/>
<path fill="#a3ff66" d="M1219.6 61.3h4.6v4.6h-4.6z"/>
<path fill="#8eff7b" d="M1223.6 61.3h4.6v4.6h-4.6z"/>
<path fill="#7fff89" d="M1227.6 61.3h4.6v4.6h-4.6z"/>
<path fill="#75ff93" d="M1231.6 61.3h4.6v4.6h-4.6z"/>
<path fill="#6fff99" d="M1235.6 61.3h4.6v4.6h-4.6z"/>
<path fill="#69ff9f" d="M1239.6 61.3h4.6v4.6h-4.6z"/>
<path fill="#61ffa7" d="M1243.6 61.3h4.6v4.6h-4.6z"/>
<path fill="#59ffb0" d="M1247.6 61.3h4.6v4.6h-4.6z"/>
<path fill="#54ffb5" d="M1251.6 61.3h4.6v4.6h-4.6z"/>
<path fill="#53ffb6" d="M1255.6 61.3h4.6v4.6h-4.6z"/>
<path fill="#56ffb2" d="M1259.6 61.3h4.6v4.6h-4.6z"/>
<path fill="#5fffaa" d="M1263.6 61.3h4.6v4.6h-4.6z"/>
<path fill="#6bff9d" d="M1267.6 61.3h4.6v4.6h-4.6z"/>
<path fill="#7dff8b" d="M1271.6 61.3h4.6v4.6h-4.6z"/>
<path fill="#97ff71" d="M1275.6 61.3h4.6v4.6h-4.6z"/>
<path fill="#afff59" d="M1279.6 61.3h4.6v4.6h-4.6z"/>
<path fill="#bfff49" d="M1283.6 61.3h4.6v4.6h-4.6z"/>
<path fill="#c8ff40" d="M1287.6 61.3h4.6v4.6h-4.6z"/>
<path fill="#cfff3a" d="M1291.6 61.3h4.6v4.6h-4.6z"/>
<path fill="#d5ff33" d="M1295.6 61.3h4.6v4.6h-4.6z"/>
<path fill="#bbff4d" d="M1215.6 65.3h4.6v4.6h-4.6z"/>
<path fill="#9eff6a" d="M1219.6 65.3h4.6v4.6h-4.6z"/>
<path fill="#88ff81" d="M1223.6 65.3h4.6v4.6h-4.6z"/>
<path fill="#79ff8f" d="M1227.6 65.3h4.6v4.6h-4.6z"/>
<path fill="#70ff98" d="M1231.6 65.3h4.6v4.6h-4.6z"/>
<path fill="#6aff9e" d="M1235.6 65.3h4.6v4.6h-4.6z"/>
<path fill="#64ffa4" d="M1239.6 65.3h4.6v4.6h-4.6z"/>
<path fill="#5cffad" d="M1243.6 65.3h4.6v4.6h-4.6z"/>
<path fill="#54ffb4" d="M1247.6 65.3h4.6v4.6h-4.6z"/>
<path fill="#50ffb9" d="M1251.6 65.3h4.6v4.6h-4.6z"/>
<path fill="#50ffb8" d="M1255.6 65.3h4.6v4.6h-4.6z"/>
<path fill="#57ffb2" d="M1259.6 65.3h4.6v4.6h-4.6z"/>
<path fill="#62ffa6" d="M1263.6 65.3h4.6v4.6h-4.6z"/>
<path fill="#73ff96" d="M1267.6 65.3h4.6v4.6h-4.6z"/>
<path fill="#8aff7e" d="M1271.6 65.3h4.6v4.6h-4.6z"/>
<path fill="#a9ff60" d="M1275.6 65.3h4.6v4.6h-4.6z"/>
<path fill="#c0ff48" d="M1279.6 65.3h4.6v4.6h-4.6z"/>
<path fill="#cdff3b" d="M1283.6 65.3h4.6v4.6h-4.6z"/>
<path fill="#d4ff34" d="M1287.6 65.3h4.6v4.6h-4.6z"/>
<path fill="#d7ff32" d="M1291.6 65.3h4.6v4.6h-4.6z"/>
<path fill="#d9ff2f" d="M1295.6 65.3h4.6v4.6h-4.6z"/>
<path fill="#e1ff28" d="M1299.6 65.3h4.6v4.6h-4.6z"/>
<path fill="#fff30a" d="M1207.6 69.3h4.6v4.6h-4.6z"/>
<path fill="#e1ff27" d="M1211.6 69.3h4.6v4.6h-4.6z"/>
<path fill="#baff4e" d="M1215.6 69.3h4.6v4.6h-4.6z"/>
<path fill="#9bff6d" d="M1219.6 69.3h4.6v4.6h-4.6z"/>
<path fill="#84ff84" d="M1223.6 69.3h4.6v4.6h-4.6z"/>
<path fill="#75ff93" d="M1227.6 69.3h4.6v4.6h-4.6z"/>
<path fill="#6bff9d" d="M1231.6 69.3h4.6v4.6h-4.6z"/>
<path fill="#64ffa5" d="M1235.6 69.3h4.6v4.6h-4.6z"/>
<path fill="#5dffab" d="M1239.6 69.3h4.6v4.6h-4.6z"/>
<path fill="#55ffb3" d="M1243.6 69.3h4.6v4.6h-4.6z"/>
<path fill="#4effba" d="M1247.6 69.3h4.6v4.6h-4.6z"/>
<path fill="#4cffbd" d="M1251.6 69.3h4.6v4.6h-4.6z"/>
<path fill="#4fffb9" d="M1255.6 69.3h4.6v4.6h-4.6z"/>
<path fill="#58ffb1" d="M1259.6 69.3h4.6v4.6h-4.6z"/>
<path fill="#66ffa2" d="M1263.6 69.3h4.6v4.6h-4.6z"/>
<path fill="#7bff8e" d="M1267.6 69.3h4.6v4.6h-4.6z"/>
<path fill="#95ff73" d="M1271.6 69.3h4.6v4.6h-4.6z"/>
<path fill="#b3ff55" d="M1275.6 69.3h4.6v4.6h-4.6z"/>
<path fill="#caff3e" d="M1279.6 69.3h4.6v4.6h-4.6z"/>
<path fill="#d8ff30" d="M1283.6 69.3h4.6v4.6h-4.6z"/>
<path fill="#deff2a" d="M1287.6 69.3h4.6v4.6h-4.6z"/>
<path fill="#deff2a" d="M1291.6 69.3h4.6v4.6h-4.6z"/>
<path fill="#ddff2b" d="M1295.6 69.3h4.6v4.6h-4.6z"/>
<path fill="#e2ff26" d="M1299.6 69.3h4.6v4.6h-4.6z"/>
<path fill="#f4ff14" d="M1303.6 69.3h4.6v4.6h-4.6z"/>
<path fill="#ffeb0a" d="M1307.6 69.3h4.6v4.6h-4.6z"/>
<path fill="#ffc10a" d="M1203.6 73.3h4.6v4.6h-4.6z"/>
<path fill="#ffeb0a" d="M1207.6 73.3h4.6v4.6h-4.6z"/>
<path fill="#e4ff24" d="M1211.6 73.3h4.6v4.6h-4.6z"/>
<path fill="#bcff4d" d="M1215.6 73.3h4.6v4.6h-4.6z"/>
<path fill="#9dff6b" d="M1219.6 73.3h4.6v4.6h-4.6z"/>
<path fill="#86ff82" d="M1223.6 73.3h4.6v4.6h-4.6z"/>
<path fill="#75ff93" d="M1227.6 73.3h4.6v4.6h-4.6z"/>
<path fill="#6aff9f" d="M1231.6 73.3h4.6v4.6h-4.6z"/>
<path fill="#61ffa8" d="M1235.6 73.3h4.6v4.6h-4.6z"/>
<path fill="#59ffb0" d="M1239.6 73.3h4.6v4.6h-4.6z"/>
<path fill="#51ffb7" d="M1243.6 73.3h4.6v4.6h-4.6z"/>
<path fill="#4bffbd" d="M1247.6 73.3h4.6v4.6h-4.6z"/>
<path fill="#4affbe" d="M1251.6 73.3h4.6v4.6h-4.6z"/>
<path fill="#4fffba" d="M1255.6 73.3h4.6v4.6h-4.6z"/>
<path fill="#59ffaf" d="M1259.6 73.3h4.6v4.6h-4.6z"/>
<path fill="#6aff9e" d="M1263.6 73.3h4.6v4.6h-4.6z"/>
<path fill="#80ff88" d="M1267.6 73.3h4.6v4.6h-4.6z"/>
<path fill="#9aff6e" d="M1271.6 73.3h4.6v4.6h-4.6z"/>
<path fill="#b6ff53" d="M1275.6 73.3h4.6v4.6h-4.6z"/>
<path fill="#cdff3b" d="M1279.6 73.3h4.6v4.6h-4.6z"/>
<path fill="#deff2a" d="M1283.6 73.3h4.6v4.6h-4.6z"/>
<path fill="#e5ff23" d="M1287.6 73.3h4.6v4.6h-4.6z"/>
<path fill="#e3ff25" d="M1291.6 73.3h4.6v4.6h-4.6z"/>
<path fill="#e1ff27" d="M1295.6 73.3h4.6v4.6h-4.6z"/>
<path fill="#e7ff21" d="M1299.6 73.3h4.6v4.6h-4.6z"/>
<path fill="#faff0e" d="M1303.6 73.3h4.6v4.6h-4.6z"/>
<path fill="#ffe20a" d="M1307.6 73.3h4.6v4.6h-4.6z"/>
<path fill="#ffba0a" d="M1311.6 73.3h4.6v4.6h-4.6z"/>
<path fill="#ff8e0a" d="M1199.6 77.3h4.6v4.6h-4.6z"/>
<path fill="#ffb40a" d="M1203.6 77.3h4.6v4.6h-4.6z"/>
<path fill="#ffe00a" d="M1207.6 77.3h4.6v4.6h-4.6z"/>
<path fill="#efff19" d="M1211.6 77.3h4.6v4.6h-4.6z"/>
<path fill="#c6ff42" d="M1215.6 77.3h4.6v4.6h-4.6z"/>
<path fill="#a6ff62" d="M1219.6 77.3h4.6v4.6h-4.6z"/>
<path fill="#8eff7a" d="M1223.6 77.3h4.6v4.6h-4.6z"/>
<path fill="#7bff8d" d="M1227.6 77.3h4.6v4.6h-4.6z"/>
<path fill="#6dff9b" d="M1231.6 77.3h4.6v4.6h-4.6z"/>
<path fill="#63ffa5" d="M1235.6 77.3h4.6v4.6h-4.6z"/>
<path fill="#5affae" d="M1239.6 77.3h4.6v4.6h-4.6z"/>
<path fill="#52ffb6" d="M1243.6 77.3h4.6v4.6h-4.6z"/>
<path fill="#4dffbb" d="M1247.6 77.3h4.6v4.6h-4.6z"/>
<path fill="#4cffbc" d="M1251.6 77.3h4.6v4.6h-4.6z"/>
<path fill="#51ffb7" d="M1255.6 77.3h4.6v4.6h-4.6z"/>
<path fill="#5dffac" d="M1259.6 77.3h4.6v4.6h-4.6z"/>
<path fill="#6eff9b" d="M1263.6 77.3h4.6v4.6h-4.6z"/>
<path fill="#83ff85" d="M1267.6 77.3h4.6v4.6h-4.6z"/>
<path fill="#9bff6d" d="M1271.6 77.3h4.6v4.6h-4.6z"/>
<path fill="#b4ff54" d="M1275.6 77.3h4.6v4.6h-4.6z"/>
<path fill="#cbff3e" d="M1279.6 77.3h4.6v4.6h-4.6z"/>
<path fill="#dcff2c" d="M1283.6 77.3h4.6v4.6h-4.6z"/>
<path fill="#e4ff24" d="M1287.6 77.3h4.6v4.6h-4.6z"/>
<path fill="#e3ff25" d="M1291.6 77.3h4.6v4.6h-4.6z"/>
<path fill="#e3ff25" d="M1295.6 77.3h4.6v4.6h-4.6z"/>
<path fill="#ebff1d" d="M1299.6 77.3h4.6v4.6h-4.6z"/>
<path fill="#fffd0a" d="M1303.6 77.3h4.6v4.6h-4.6z"/>
<path fill="#ffd70a" d="M1307.6 77.3h4.6v4.6h-4.6z"/>
<path fill="#ffa80a" d="M1311.6 77.3h4.6v4.6h-4.6z"/>
<path fill="#ff7d0a" d="M1315.6 77.3h4.6v4.6h-4.6z"/>
<path fill="#ff5e0a" d="M1195.6 81.3h4.6v4.6h-4.6z"/>
<path fill="#ff7f0a" d="M1199.6 81.3h4.6v4.6h-4.6z"/>
<path fill="#ffa60a" d="M1203.6 81.3h4.6v4.6h-4.6z"/>
<path fill="#ffd10a" d="M1207.6 81.3h4.6v4.6h-4.6z"/>
<path fill="#feff0a" d="M1211.6 81.3h4.6v4.6h-4.6z"/>
<path fill="#d6ff32" d="M1215.6 81.3h4.6v4.6h-4.6z"/>
<path fill="#b6ff52" d="M1219.6 81.3h4.6v4.6h-4.6z"/>
<path fill="#9cff6c" d="M1223.6 81.3h4.6v4.6h-4.6z"/>
<path fill="#88ff81" d="M1227.6 81.3h4.6v4.6h-4.6z"/>
<path fill="#77ff91" d="M1231.6 81.3h4.6v4.6h-4.6z"/>
<path fill="#6bff9d" d="M1235.6 81.3h4.6v4.6h-4.6z"/>
<path fill="#62ffa7" d="M1239.6 81.3h4.6v4.6h-4.6z"/>
<path fill="#5affae" d="M1243.6 81.3h4.6v4.6h-4.6z"/>
<path fill="#55ffb3" d="M1247.6 81.3h4.6v4.6h-4.6z"/>
<path fill="#54ffb4" d="M1251.6 81.3h4.6v4.6h-4.6z"/>
<path fill="#58ffb0" d="M1255.6 81.3h4.6v4.6h-4.6z"/>
<path fill="#63ffa6" d="M1259.6 81.3h4.6v4.6h-4.6z"/>
<path fill="#73ff96" d="M1263.6 81.3h4.6v4.6h-4.6z"/>
<path fill="#86ff82" d="M1267.6 81.3h4.6v4.6h-4.6z"/>
<path fill="#9bff6d" d="M1271.6 81.3h4.6v4.6h-4.6z"/>
<path fill="#b0ff58" d="M1275.6 81.3h4.6v4.6h-4.6z"/>
<path fill="#c3ff45" d="M1279.6 81.3h4.6v4.6h-4.6z"/>
<path fill="#d3ff36" d="M1283.6 81.3h4.6v4.6h-4.6z"/>
<path fill="#dcff2d" d="M1287.6 81.3h4.6v4.6h-4.6z"/>
<path fill="#e0ff29" d="M1291.6 81.3h4.6v4.6h-4.6z"/>
<path fill="#e4ff25" d="M1295.6 81.3h4.6v4.6h-4.6z"/>
<path fill="#eeff1a" d="M1299.6 81.3h4.6v4.6h-4.6z"/>
<path fill="#fff80a" d="M1303.6 81.3h4.6v4.6h-4.6z"/>
<path fill="#ffcc0a" d="M1307.6 81.3h4.6v4.6h-4.6z"/>
<path fill="#ff900a" d="M1311.6 81.3h4.6v4.6h-4.6z"/>
<path fill="#ff640a" d="M1315.6 81.3h4.6v4.6h-4.6z"/>
<path fill="#ff470a" d="M1319.6 81.3h4.6v4.6h-4.6z"/>
<path fill="#ff510a" d="M1195.6 85.3h4.6v4.6h-4.6z"/>
<path fill="#ff740a" d="M1199.6 85.3h4.6v4.6h-4.6z"/>
<path fill="#ff9c0a" d="M1203.6 85.3h4.6v4.6h-4.6z"/>
<path fill="#ffc60a" d="M1207.6 85.3h4.6v4.6h-4.6z"/>
<path fill="#fff10a" d="M1211.6 85.3h4.6v4.6h-4.6z"/>
<path fill="#e7ff21" d="M1215.6 85.3h4.6v4.6h-4.6z"/>
<path fill="#c9ff3f" d="M1219.6 85.3h4.6v4.6h-4.6z"/>
<path fill="#b0ff59" d="M1223.6 85.3h4.6v4.6h-4.6z"/>
<path fill="#9aff6e" d="M1227.6 85.3h4.6v4.6h-4.6z"/>
<path fill="#89ff80" d="M1231.6 85.3h4.6v4.6h-4.6z"/>
<path fill="#7bff8d" d="M1235.6 85.3h4.6v4.6h-4.6z"/>
<path fill="#70ff98" d="M1239.6 85.3h4.6v4.6h-4.6z"/>
<path fill="#68ffa1" d="M1243.6 85.3h4.6v4.6h-4.6z"/>
<path fill="#62ffa6" d="M1247.6 85.3h4.6v4.6h-4.6z"/>
<path fill="#61ffa7" d="M1251.6 85.3h4.6v4.6h-4.6z"/>
<path fill="#64ffa4" d="M1255.6 85.3h4.6v4.6h-4.6z"/>
<path fill="#6dff9b" d="M1259.6 85.3h4.6v4.6h-4.6z"/>
<path fill="#7bff8d" d="M1263.6 85.3h4.6v4.6h-4.6z"/>
<path fill="#8bff7d" d="M1267.6 85.3h4.6v4.6h-4.6z"/>
<path fill="#9cff6c" d="M1271.6 85.3h4.6v4.6h-4.6z"/>
<path fill="#adff5b" d="M1275.6 85.3h4.6v4.6h-4.6z"/>
<path fill="#bcff4c" d="M1279.6 85.3h4.6v4.6h-4.6z"/>
<path fill="#c9ff3f" d="M1283.6 85.3h4.6v4.6h-4.6z"/>
<path fill="#d4ff34" d="M1287.6 85.3h4.6v4.6h-4.6z"/>
<path fill="#ddff2c" d="M1291.6 85.3h4.6v4.6h-4.6z"/>
<path fill="#e6ff22" d="M1295.6 85.3h4.6v4.6h-4.6z"/>
<path fill="#f5ff14" d="M1299.6 85.3h4.6v4.6h-4.6z"/>
<path fill="#ffef0a" d="M1303.6 85.3h4.6v4.6h-4.6z"/>
<path fill="#ffbd0a" d="M1307.6 85.3h4.6v4.6h-4.6z"/>
<path fill="#ff710a" d="M1311.6 85.3h4.6v4.6h-4.6z"/>
<path fill="#ff4f0a" d="M1315.6 85.3h4.6v4.6h-4.6z"/>
<path fill="#ff3b0a" d="M1319.6 85.3h4.6v4.6h-4.6z"/>
<path fill="#ff2d0a" d="M1191.6 89.3h4.6v4.6h-4.6z"/>
<path fill="#ff490a" d="M1195.6 89.3h4.6v4.6h-4.6z"/>
<path fill="#ff6c0a" d="M1199.6 89.3h4.6v4.6h-4.6z"/>
<path fill="#ff960a" d="M1203.6 89.3h4.6v4.6h-4.6z"/>
<path fill="#ffc00a" d="M1207.6 89.3h4.6v4.6h-4.6z"/>
<path fill="#ffe60a" d="M1211.6 89.3h4.6v4.6h-4.6z"/>
<path fill="#f7ff11" d="M1215.6 89.3h4.6v4.6h-4.6z"/>
<path fill="#ddff2b" d="M1219.6 89.3h4.6v4.6h-4.6z"/>
<path fill="#c6ff42" d="M1223.6 89.3h4.6v4.6h-4.6z"/>
<path fill="#b2ff57" d="M1227.6 89.3h4.6v4.6h-4.6z"/>
<path fill="#9fff69" d="M1231.6 89.3h4.6v4.6h-4.6z"/>
<path fill="#91ff78" d="M1235.6 89.3h4.6v4.6h-4.6z"/>
<path fill="#84ff84" d="M1239.6 89.3h4.6v4.6h-4.6z"/>
<path fill="#7bff8d" d="M1243.6 89.3h4.6v4.6h-4.6z"/>
<path fill="#75ff93" d="M1247.6 89.3h4.6v4.6h-4.6z"/>
<path fill="#73ff95" d="M1251.6 89.3h4.6v4.6h-4.6z"/>
<path fill="#75ff93" d="M1255.6 89.3h4.6v4.6h-4.6z"/>
<path fill="#7cff8c" d="M1259.6 89.3h4.6v4.6h-4.6z"/>
<path fill="#87ff81" d="M1263.6 89.3h4.6v4.6h-4.6z"/>
<path fill="#94ff75" d="M1267.6 89.3h4.6v4.6h-4.6z"/>
<path fill="#a1ff67" d="M1271.6 89.3h4.6v4.6h-4.6z"/>
<path fill="#afff5a" d="M1275.6 89.3h4.6v4.6h-4.6z"/>
<path fill="#bbff4d" d="M1279.6 89.3h4.6v4.6h-4.6z"/>
<path fill="#c6ff42" d="M1283.6 89.3h4.6v4.6h-4.6z"/>
<path fill="#d2ff36" d="M1287.6 89.3h4.6v4.6h-4.6z"/>
<path fill="#dfff29" d="M1291.6 89.3h4.6v4.6h-4.6z"/>
<path fill="#edff1b" d="M1295.6 89.3h4.6v4.6h-4.6z"/>
<path fill="#fffd0a" d="M1299.6 89.3h4.6v4.6h-4.6z"/>
<path fill="#ffdd0a" d="M1303.6 89.3h4.6v4.6h-4.6z"/>
<path fill="#ffa60a" d="M1307.6 89.3h4.6v4.6h-4.6z"/>
<path fill="#ff6a0a" d="M1311.6 89.3h4.6v4.6h-4.6z"/>
<path fill="#ff520a" d="M1315.6 89.3h4.6v4.6h-4.6z"/>
<path fill="#ff3f0a" d="M1319.6 89.3h4.6v4.6h-4.6z"/>
<path fill="#ff270a" d="M1323.6 89.3h4.6v4.6h-4.6z"/>
<path fill="#ff110a" d="M1187.6 93.3h4.6v4.6h-4.6z"/>
<path fill="#ff270a" d="M1191.6 93.3h4.6v4.6h-4.6z"/>
<path fill="#ff430a" d="M1195.6 93.3h4.6v4.6h-4.6z"/>
<path fill="#ff680a" d="M1199.6 93.3h4.6v4.6h-4.6z"/>
<path fill="#ff930a" d="M1203.6 93.3h4.6v4.6h-4.6z"/>
<path fill="#ffbc0a" d="M1207.6 93.3h4.6v4.6h-4.6z"/>
<path fill="#ffdd0a" d="M1211.6 93.3h4.6v4.6h-4.6z"/>
<path fill="#fff60a" d="M1215.6 93.3h4.6v4.6h-4.6z"/>
<path fill="#f2ff17" d="M1219.6 93.3h4.6v4.6h-4.6z"/>
<path fill="#deff2a" d="M1223.6 93.3h4.6v4.6h-4.6z"/>
<path fill="#cbff3e" d="M1227.6 93.3h4.6v4.6h-4.6z"/>
<path fill="#b9ff4f" d="M1231.6 93.3h4.6v4.6h-4.6z"/>
<path fill="#aaff5e" d="M1235.6 93.3h4.6v4.6h-4.6z"/>
<path fill="#9eff6a" d="M1239.6 93.3h4.6v4.6h-4.6z"/>
<path fill="#94ff74" d="M1243.6 93.3h4.6v4.6h-4.6z"/>
<path fill="#8dff7b" d="M1247.6 93.3h4.6v4.6h-4.6z"/>
<path fill="#8aff7e" d="M1251.6 93.3h4.6v4.6h-4.6z"/>
<path fill="#8bff7d" d="M1255.6 93.3h4.6v4.6h-4.6z"/>
<path fill="#90ff78" d="M1259.6 93.3h4.6v4.6h-4.6z"/>
<path fill="#98ff70" d="M1263.6 93.3h4.6v4.6h-4.6z"/>
<path fill="#a1ff67" d="M1267.6 93.3h4.6v4.6h-4.6z"/>
<path fill="#acff5c" d="M1271.6 93.3h4.6v4.6h-4.6z"/>
<path fill="#b7ff51" d="M1275.6 93.3h4.6v4.6h-4.6z"/>
<path fill="#c2ff46" d="M1279.6 93.3h4.6v4.6h-4.6z"/>
<path fill="#cdff3b" d="M1283.6 93.3h4.6v4.6h-4.6z"/>
<path fill="#dbff2d" d="M1287.6 93.3h4.6v4.6h-4.6z"/>
<path fill="#eaff1f" d="M1291.6 93.3h4.6v4.6h-4.6z"/>
<path fill="#f9ff0f" d="M1295.6 93.3h4.6v4.6h-4.6z"/>
<path fill="#fff00a" d="M1299.6 93.3h4.6v4.6h-4.6z"/>
<path fill="#ffd40a" d="M1303.6 93.3h4.6v4.6h-4.6z"/>
<path fill="#ffac0a" d="M1307.6 93.3h4.6v4.6h-4.6z"/>
<path fill="#ff860a" d="M1311.6 93.3h4.6v4.6h-4.6z"/>
<path fill="#ff6e0a" d="M1315.6 93.3h4.6v4.6h-4.6z"/>
<path fill="#ff4f0a" d="M1319.6 93.3h4.6v4.6h-4.6z"/>
<path fill="#ff2c0a" d="M1323.6 93.3h4.6v4.6h-4.6z"/>
<path fill="#ff0e0a" d="M1327.6 93.3h4.6v4.6h-4.6z"/>
<path fill="#ff0b0a" d="M1187.6 97.3h4.6v4.6h-4.6z"/>
<path fill="#ff200a" d="M1191.6 97.3h4.6v4.6h-4.6z"/>
<path fill="#ff3c0a" d="M1195.6 97.3h4.6v4.6h-4.6z"/>
<path fill="#ff620a" d="M1199.6 97.3h4.6v4.6h-4.6z"/>
<path fill="#ff8d0a" d="M1203.6 97.3h4.6v4.6h-4.6z"/>
<path fill="#ffb70a" d="M1207.6 97.3h4.6v4.6h-4.6z"/>
<path fill="#ffd30a" d="M1211.6 97.3h4.6v4.6h-4.6z"/>
<path fill="#ffe50a" d="M1215.6 97.3h4.6v4.6h-4.6z"/>
<path fill="#fff50a" d="M1219.6 97.3h4.6v4.6h-4.6z"/>
<path fill="#f6ff12" d="M1223.6 97.3h4.6v4.6h-4.6z"/>
<path fill="#e4ff24" d="M1227.6 97.3h4.6v4.6h-4.6z"/>
<path fill="#d4ff34" d="M1231.6 97.3h4.6v4.6h-4.6z"/>
<path fill="#c6ff42" d="M1235.6 97.3h4.6v4.6h-4.6z"/>
<path fill="#baff4e" d="M1239.6 97.3h4.6v4.6h-4.6z"/>
<path fill="#b0ff58" d="M1243.6 97.3h4.6v4.6h-4.6z"/>
<path fill="#a9ff5f" d="M1247.6 97.3h4.6v4.6h-4.6z"/>
<path fill="#a5ff63" d="M1251.6 97.3h4.6v4.6h-4.6z"/>
<path fill="#a5ff63" d="M1255.6 97.3h4.6v4.6h-4.6z"/>
<path fill="#a8ff60" d="M1259.6 97.3h4.6v4.6h-4.6z"/>
<path fill="#aeff5a" d="M1263.6 97.3h4.6v4.6h-4.6z"/>
<path fill="#b5ff53" d="M1267.6 97.3h4.6v4.6h-4.6z"/>
<path fill="#bdff4b" d="M1271.6 97.3h4.6v4.6h-4.6z"/>
<path fill="#c7ff41" d="M1275.6 97.3h4.6v4.6h-4.6z"/>
<path fill="#d2ff36" d="M1279.6 97.3h4.6v4.6h-4.6z"/>
<path fill="#deff2a" d="M1283.6 97.3h4.6v4.6h-4.6z"/>
<path fill="#ecff1c" d="M1287.6 97.3h4.6v4.6h-4.6z"/>
<path fill="#fbff0d" d="M1291.6 97.3h4.6v4.6h-4.6z"/>
<path fill="#fff40a" d="M1295.6 97.3h4.6v4.6h-4.6z"/>
<path fill="#ffe40a" d="M1299.6 97.3h4.6v4.6h-4.6z"/>
<path fill="#ffd00a" d="M1303.6 97.3h4.6v4.6h-4.6z"/>
<path fill="#ffb70a" d="M1307.6 97.3h4.6v4.6h-4.6z"/>
<path fill="#ff9c0a" d="M1311.6 97.3h4.6v4.6h-4.6z"/>
<path fill="#ff7f0a" d="M1315.6 97.3h4.6v4.6h-4.6z"/>
<path fill="#ff580a" d="M1319.6 97.3h4.6v4.6h-4.6z"/>
<path fill="#ff2d0a" d="M1323.6 97.3h4.6v4.6h-4.6z"/>
<path fill="#ff0c0a" d="M1327.6 97.3h4.6v4.6h-4.6z"/>
<path fill="#eb0a0a" d="M1183.6 101.3h4.6v4.6h-4.6z"/>
<path fill="#f90a0a" d="M1187.6 101.3h4.6v4.6h-4.6z"/>
<path fill="#ff170a" d="M1191.6 101.3h4.6v4.6h-4.6z"/>
<path fill="#ff300a" d="M1195.6 101.3h4.6v4.6h-4.6z"/>
<path fill="#ff530a" d="M1199.6 101.3h4.6v4.6h-4.6z"/>
<path fill="#ff7d0a" d="M1203.6 101.3h4.6v4.6h-4.6z"/>
<path fill="#ffa80a" d="M1207.6 101.3h4.6v4.6h-4.6z"/>
<path fill="#ffc00a" d="M1211.6 101.3h4.6v4.6h-4.6z"/>
<path fill="#ffcf0a" d="M1215.6 101.3h4.6v4.6h-4.6z"/>
<path fill="#ffde0a" d="M1219.6 101.3h4.6v4.6h-4.6z"/>
<path fill="#ffee0a" d="M1223.6 101.3h4.6v4.6h-4.6z"/>
<path fill="#feff0a" d="M1227.6 101.3h4.6v4.6h-4.6z"/>
<path fill="#efff1a" d="M1231.6 101.3h4.6v4.6h-4.6z"/>
<path fill="#e1ff27" d="M1235.6 101.3h4.6v4.6h-4.6z"/>
<path fill="#d7ff32" d="M1239.6 101.3h4.6v4.6h-4.6z"/>
<path fill="#cdff3b" d="M1243.6 101.3h4.6v4.6h-4.6z"/>
<path fill="#c6ff42" d="M1247.6 101.3h4.6v4.6h-4.6z"/>
<path fill="#c2ff46" d="M1251.6 101.3h4.6v4.6h-4.6z"/>
<path fill="#c2ff46" d="M1255.6 101.3h4.6v4.6h-4.6z"/>
<path fill="#c4ff44" d="M1259.6 101.3h4.6v4.6h-4.6z"/>
<path fill="#c9ff3f" d="M1263.6 101.3h4.6v4.6h-4.6z"/>
<path fill="#cfff39" d="M1267.6 101.3h4.6v4.6h-4.6z"/>
<path fill="#d6ff33" d="M1271.6 101.3h4.6v4.6h-4.6z"/>
<path fill="#deff2a" d="M1275.6 101.3h4.6v4.6h-4.6z"/>
<path fill="#e8ff20" d="M1279.6 101.3h4.6v4.6h-4.6z"/>
<path fill="#f4ff14" d="M1283.6 101.3h4.6v4.6h-4.6z"/>
<path fill="#fffb0a" d="M1287.6 101.3h4.6v4.6h-4.6z"/>
<path fill="#ffec0a" d="M1291.6 101.3h4.6v4.6h-4.6z"/>
<path fill="#ffdf0a" d="M1295.6 101.3h4.6v4.6h-4.6z"/>
<path fill="#ffd30a" d="M1299.6 101.3h4.6v4.6h-4.6z"/>
<path fill="#ffc60a" d="M1303.6 101.3h4.6v4.6h-4.6z"/>
<path fill="#ffb90a" d="M1307.6 101.3h4.6v4.6h-4.6z"/>
<path fill="#ffa30a" d="M1311.6 101.3h4.6v4.6h-4.6z"/>
<path fill="#ff840a" d="M1315.6 101.3h4.6v4.6h-4.6z"/>
<path fill="#ff570a" d="M1319.6 101.3h4.6v4.6h-4.6z"/>
<path fill="#ff280a" d="M1323.6 101.3h4.6v4.6h-4.6z"/>
<path fill="#fd0a0a" d="M1327.6 101.3h4.6v4.6h-4.6z"/>
<path fill="#e40a0a" d="M1331.6 101.3h4.6v4.6h-4.6z"/>
<path fill="#e70a0a" d="M1183.6 105.3h4.6v4.6h-4.6z"/>
<path fill="#f30a0a" d="M1187.6 105.3h4.6v4.6h-4.6z"/>
<path fill="#ff0c0a" d="M1191.6 105.3h4.6v4.6h-4.6z"/>
<path fill="#ff1e0a" d="M1195.6 105.3h4.6v4.6h-4.6z"/>
<path fill="#ff380a" d="M1199.6 105.3h4.6v4.6h-4.6z"/>
<path fill="#ff5a0a" d="M1203.6 105.3h4.6v4.6h-4.6z"/>
<path fill="#ff7f0a" d="M1207.6 105.3h4.6v4.6h-4.6z"/>
<path fill="#ff9c0a" d="M1211.6 105.3h4.6v4.6h-4.6z"/>
<path fill="#ffb20a" d="M1215.6 105.3h4.6v4.6h-4.6z"/>
<path fill="#ffc40a" d="M1219.6 105.3h4.6v4.6h-4.6z"/>
<path fill="#ffd50a" d="M1223.6 105.3h4.6v4.6h-4.6z"/>
<path fill="#ffe50a" d="M1227.6 105.3h4.6v4.6h-4.6z"/>
<path fill="#fff40a" d="M1231.6 105.3h4.6v4.6h-4.6z"/>
<path fill="#fcff0c" d="M1235.6 105.3h4.6v4.6h-4.6z"/>
<path fill="#f2ff16" d="M1239.6 105.3h4.6v4.6h-4.6z"/>
<path fill="#eaff1e" d="M1243.6 105.3h4.6v4.6h-4.6z"/>
<path fill="#e5ff24" d="M1247.6 105.3h4.6v4.6h-4.6z"/>
<path fill="#e2ff26" d="M1251.6 105.3h4.6v4.6h-4.6z"/>
<path fill="#e1ff27" d="M1255.6 105.3h4.6v4.6h-4.6z"/>
<path fill="#e4ff24" d="M1259.6 105.3h4.6v4.6h-4.6z"/>
<path fill="#e8ff20" d="M1263.6 105.3h4.6v4.6h-4.6z"/>
<path fill="#eeff1a" d="M1267.6 105.3h4.6v4.6h-4.6z"/>
<path fill="#f4ff14" d="M1271.6 105.3h4.6v4.6h-4.6z"/>
<path fill="#fbff0e" d="M1275.6 105.3h4.6v4.6h-4.6z"/>
<path fill="#fffa0a" d="M1279.6 105.3h4.6v4.6h-4.6z"/>
<path fill="#ffef0a" d="M1283.6 105.3h4.6v4.6h-4.6z"/>
<path fill="#ffe20a" d="M1287.6 105.3h4.6v4.6h-4.6z"/>
<path fill="#ffd30a" d="M1291.6 105.3h4.6v4.6h-4.6z"/>
<path fill="#ffc50a" d="M1295.6 105.3h4.6v4.6h-4.6z"/>
<path fill="#ffb90a" d="M1299.6 105.3h4.6v4.6h-4.6z"/>
<path fill="#ffae0a" d="M1303.6 105.3h4.6v4.6h-4.6z"/>
<path fill="#ffa60a" d="M1307.6 105.3h4.6v4.6h-4.6z"/>
<path fill="#ff960a" d="M1311.6 105.3h4.6v4.6h-4.6z"/>
<path fill="#ff7e0a" d="M1315.6 105.3h4.6v4.6h-4.6z"/>
<path fill="#ff560a" d="M1319.6 105.3h4.6v4.6h-4.6z"/>
<path fill="#ff280a" d="M1323.6 105.3h4.6v4.6h-4.6z"/>
<path fill="#fb0a0a" d="M1327.6 105.3h4.6v4.6h-4.6z"/>
<path fill="#e30a0a" d="M1331.6 105.3h4.6v4.6h-4.6z"/>
<path fill="#e40a0a" d="M1183.6 109.3h4.6v4.6h-4.6z"/>
<path fill="#ed0a0a" d="M1187.6 109.3h4.6v4.6h-4.6z"/>
<path fill="#f50a0a" d="M1191.6 109.3h4.6v4.6h-4.6z"/>
<path fill="#ff0a0a" d="M1195.6 109.3h4.6v4.6h-4.6z"/>
<path fill="#ff180a" d="M1199.6 109.3h4.6v4.6h-4.6z"/>
<path fill="#ff2d0a" d="M1203.6 109.3h4.6v4.6h-4.6z"/>
<path fill="#ff4e0a" d="M1207.6 109.3h4.6v4.6h-4.6z"/>
<path fill="#ff720a" d="M1211.6 109.3h4.6v4.6h-4.6z"/>
<path fill="#ff900a" d="M1215.6 109.3h4.6v4.6h-4.6z"/>
<path fill="#ffa70a" d="M1219.6 109.3h4.6v4.6h-4.6z"/>
<path fill="#ffba0a" d="M1223.6 109.3h4.6v4.6h-4.6z"/>
<path fill="#ffcb0a" d="M1227.6 109.3h4.6v4.6h-4.6z"/>
<path fill="#ffda0a" d="M1231.6 109.3h4.6v4.6h-4.6z"/>
<path fill="#ffe60a" d="M1235.6 109.3h4.6v4.6h-4.6z"/>
<path fill="#ffef0a" d="M1239.6 109.3h4.6v4.6h-4.6z"/>
<path fill="#fff60a" d="M1243.6 109.3h4.6v4.6h-4.6z"/>
<path fill="#fffa0a" d="M1247.6 109.3h4.6v4.6h-4.6z"/>
<path fill="#fffb0a" d="M1251.6 109.3h4.6v4.6h-4.6z"/>
<path fill="#fffb0a" d="M1255.6 109.3h4.6v4.6h-4.6z"/>
<path fill="#fff90a" d="M1259.6 109.3h4.6v4.6h-4.6z"/>
<path fill="#fff40a" d="M1263.6 109.3h4.6v4.6h-4.6z"/>
<path fill="#ffef0a" d="M1267.6 109.3h4.6v4.6h-4.6z"/>
<path fill="#ffe90a" d="M1271.6 109.3h4.6v4.6h-4.6z"/>
<path fill="#ffe40a" d="M1275.6 109.3h4.6v4.6h-4.6z"/>
<path fill="#ffdd0a" d="M1279.6 109.3h4.6v4.6h-4.6z"/>
<path fill="#ffd30a" d="M1283.6 109.3h4.6v4.6h-4.6z"/>
<path fill="#ffc60a" d="M1287.6 109.3h4.6v4.6h-4.6z"/>
<path fill="#ffb70a" d="M1291.6 109.3h4.6v4.6h-4.6z"/>
<path fill="#ffa60a" d="M1295.6 109.3h4.6v4.6h-4.6z"/>
<path fill="#ff950a" d="M1299.6 109.3h4.6v4.6h-4.6z"/>
<path fill="#ff850a" d="M1303.6 109.3h4.6v4.6h-4.6z"/>
<path fill="#ff780a" d="M1307.6 109.3h4.6v4.6h-4.6z"/>
<path fill="#ff6d0a" d="M1311.6 109.3h4.6v4.6h-4.6z"/>
<path fill="#ff650a" d="M1315.6 109.3h4.6v4.6h-4.6z"/>
<path fill="#ff4a0a" d="M1319.6 109.3h4.6v4.6h-4.6z"/>
<path fill="#ff240a" d="M1323.6 109.3h4.6v4.6h-4.6z"/>
<path fill="#f90a0a" d="M1327.6 109.3h4.6v4.6h-4.6z"/>
<path fill="#e10a0a" d="M1331.6 109.3h4.6v4.6h-4.6z"/>
<path fill="#da0a0a" d="M1179.6 113.3h4.6v4.6h-4.6z"/>
<path fill="#e10a0a" d="M1183.6 113.3h4.6v4.6h-4.6z"/>
<path fill="#e80a0a" d="M1187.6 113.3h4.6v4.6h-4.6z"/>
<path fill="#ec0a0a" d="M1191.6 113.3h4.6v4.6h-4.6z"/>
<path fill="#ed0a0a" d="M1195.6 113.3h4.6v4.6h-4.6z"/>
<path fill="#f00a0a" d="M1199.6 113.3h4.6v4.6h-4.6z"/>
<path fill="#fa0a0a" d="M1203.6 113.3h4.6v4.6h-4.6z"/>
<path fill="#ff240a" d="M1207.6 113.3h4.6v4.6h-4.6z"/>
<path fill="#ff4c0a" d="M1211.6 113.3h4.6v4.6h-4.6z"/>
<path fill="#ff700a" d="M1215.6 113.3h4.6v4.6h-4.6z"/>
<path fill="#ff8e0a" d="M1219.6 113.3h4.6v4.6h-4.6z"/>
<path fill="#ffa20a" d="M1223.6 113.3h4.6v4.6h-4.6z"/>
<path fill="#ffb20a" d="M1227.6 113.3h4.6v4.6h-4.6z"/>
<path fill="#ffc00a" d="M1231.6 113.3h4.6v4.6h-4.6z"/>
<path fill="#ffcb0a" d="M1235.6 113.3h4.6v4.6h-4.6z"/>
<path fill="#ffd30a" d="M1239.6 113.3h4.6v4.6h-4.6z"/>
<path fill="#ffd80a" d="M1243.6 113.3h4.6v4.6h-4.6z"/>
<path fill="#ffdb0a" d="M1247.6 113.3h4.6v4.6h-4.6z"/>
<path fill="#ffdb0a" d="M1251.6 113.3h4.6v4.6h-4.6z"/>
<path fill="#ffda0a" d="M1255.6 113.3h4.6v4.6h-4.6z"/>
<path fill="#ffd80a" d="M1259.6 113.3h4.6v4.6h-4.6z"/>
<path fill="#ffd40a" d="M1263.6 113.3h4.6v4.6h-4.6z"/>
<path fill="#ffcf0a" d="M1267.6 113.3h4.6v4.6h-4.6z"/>
<path fill="#ffcb0a" d="M1271.6 113.3h4.6v4.6h-4.6z"/>
<path fill="#ffc60a" d="M1275.6 113.3h4.6v4.6h-4.6z"/>
<path fill="#ffc00a" d="M1279.6 113.3h4.6v4.6h-4.6z"/>
<path fill="#ffb70a" d="M1283.6 113.3h4.6v4.6h-4.6z"/>
<path fill="#ffaa0a" d="M1287.6 113.3h4.6v4.6h-4.6z"/>
<path fill="#ff980a" d="M1291.6 113.3h4.6v4.6h-4.6z"/>
<path fill="#ff830a" d="M1295.6 113.3h4.6v4.6h-4.6z"/>
<path fill="#ff6c0a" d="M1299.6 113.3h4.6v4.6h-4.6z"/>
<path fill="#ff540a" d="M1303.6 113.3h4.6v4.6h-4.6z"/>
<path fill="#ff3e0a" d="M1307.6 113.3h4.6v4.6h-4.6z"/>
<path fill="#ff320a" d="M1311.6 113.3h4.6v4.6h-4.6z"/>
<path fill="#ff320a" d="M1315.6 113.3h4.6v4.6h-4.6z"/>
<path fill="#ff290a" d="M1319.6 113.3h4.6v4.6h-4.6z"/>
<path fill="#ff130a" d="M1323.6 113.3h4.6v4.6h-4.6z"/>
<path fill="#f10a0a" d="M1327.6 113.3h4.6v4.6h-4.6z"/>
<path fill="#de0a0a" d="M1331.6 113.3h4.6v4.6h-4.6z"/>
<path fill="#cd0a0a" d="M1335.6 113.3h4.6v4.6h-4.6z"/>
<path fill="#d80a0a" d="M1179.6 117.3h4.6v4.6h-4.6z"/>
<path fill="#de0a0a" d="M1183.6 117.3h4.6v4.6h-4.6z"/>
<path fill="#e40a0a" d="M1187.6 117.3h4.6v4.6h-4.6z"/>
<path fill="#e50a0a" d="M1191.6 117.3h4.6v4.6h-4.6z"/>
<path fill="#e10a0a" d="M1195.6 117.3h4.6v4.6h-4.6z"/>
<path fill="#e00a0a" d="M1199.6 117.3h4.6v4.6h-4.6z"/>
<path fill="#e70a0a" d="M1203.6 117.3h4.6v4.6h-4.6z"/>
<path fill="#ff0c0a" d="M1207.6 117.3h4.6v4.6h-4.6z"/>
<path fill="#ff310a" d="M1211.6 117.3h4.6v4.6h-4.6z"/>
<path fill="#ff580a" d="M1215.6 117.3h4.6v4.6h-4.6z"/>
<path fill="#ff790a" d="M1219.6 117.3h4.6v4.6h-4.6z"/>
<path fill="#ff8f0a" d="M1223.6 117.3h4.6v4.6h-4.6z"/>
<path fill="#ff9d0a" d="M1227.6 117.3h4.6v4.6h-4.6z"/>
<path fill="#ffa80a" d="M1231.6 117.3h4.6v4.6h-4.6z"/>
<path fill="#ffb00a" d="M1235.6 117.3h4.6v4.6h-4.6z"/>
<path fill="#ffb60a" d="M1239.6 117.3h4.6v4.6h-4.6z"/>
<path fill="#ffba0a" d="M1243.6 117.3h4.6v4.6h-4.6z"/>
<path fill="#ffbc0a" d="M1247.6 117.3h4.6v4.6h-4.6z"/>
<path fill="#ffbc0a" d="M1251.6 117.3h4.6v4.6h-4.6z"/>
<path fill="#ffba0a" d="M1255.6 117.3h4.6v4.6h-4.6z"/>
<path fill="#ffb70a" d="M1259.6 117.3h4.6v4.6h-4.6z"/>
<path fill="#ffb40a" d="M1263.6 117.3h4.6v4.6h-4.6z"/>
<path fill="#ffb00a" d="M1267.6 117.3h4.6v4.6h-4.6z"/>
<path fill="#ffac0a" d="M1271.6 117.3h4.6v4.6h-4.6z"/>
<path fill="#ffa90a" d="M1275.6 117.3h4.6v4.6h-4.6z"/>
<path fill="#ffa40a" d="M1279.6 117.3h4.6v4.6h-4.6z"/>
<path fill="#ff9c0a" d="M1283.6 117.3h4.6v4.6h-4.6z"/>
<path fill="#ff8e0a" d="M1287.6 117.3h4.6v4.6h-4.6z"/>
<path fill="#ff7a0a" d="M1291.6 117.3h4.6v4.6h-4.6z"/>
<path fill="#ff610a" d="M1295.6 117.3h4.6v4.6h-4.6z"/>
<path fill="#ff450a" d="M1299.6 117.3h4.6v4.6h-4.6z"/>
<path fill="#ff290a" d="M1303.6 117.3h4.6v4.6h-4.6z"/>
<path fill="#ff100a" d="M1307.6 117.3h4.6v4.6h-4.6z"/>
<path fill="#f60a0a" d="M1311.6 117.3h4.6v4.6h-4.6z"/>
<path fill="#fb0a0a" d="M1315.6 117.3h4.6v4.6h-4.6z"/>
<path fill="#fc0a0a" d="M1319.6 117.3h4.6v4.6h-4.6z"/>
<path fill="#f40a0a" d="M1323.6 117.3h4.6v4.6h-4.6z"/>
<path fill="#e70a0a" d="M1327.6 117.3h4.6v4.6h-4.6z"/>
<path fill="#d90a0a" d="M1331.6 117.3h4.6v4.6h-4.6z"/>
<path fill="#cc0a0a" d="M1335.6 117.3h4.6v4.6h-4.6z"/>
<path fill="#d50a0a" d="M1179.6 121.3h4.6v4.6h-4.6z"/>
<path fill="#da0a0a" d="M1183.6 121.3h4.6v4.6h-4.6z"/>
<path fill="#de0a0a" d="M1187.6 121.3h4.6v4.6h-4.6z"/>
<path fill="#de0a0a" d="M1191.6 121.3h4.6v4.6h-4.6z"/>
<path fill="#da0a0a" d="M1195.6 121.3h4.6v4.6h-4.6z"/>
<path fill="#d80a0a" d="M1199.6 121.3h4.6v4.6h-4.6z"/>
<path fill="#de0a0a" d="M1203.6 121.3h4.6v4.6h-4.6z"/>
<path fill="#f20a0a" d="M1207.6 121.3h4.6v4.6h-4.6z"/>
<path fill="#ff1d0a" d="M1211.6 121.3h4.6v4.6h-4.6z"/>
<path fill="#ff420a" d="M1215.6 121.3h4.6v4.6h-4.6z"/>
<path fill="#ff660a" d="M1219.6 121.3h4.6v4.6h-4.6z"/>
<path fill="#ff7d0a" d="M1223.6 121.3h4.6v4.6h-4.6z"/>
<path fill="#ff870a" d="M1227.6 121.3h4.6v4.6h-4.6z"/>
<path fill="#ff8e0a" d="M1231.6 121.3h4.6v4.6h-4.6z"/>
<path fill="#ff930a" d="M1235.6 121.3h4.6v4.6h-4.6z"/>
<path fill="#ff970a" d="M1239.6 121.3h4.6v4.6h-4.6z"/>
<path fill="#ff9a0a" d="M1243.6 121.3h4.6v4.6h-4.6z"/>
<path fill="#ff9c0a" d="M1247.6 121.3h4.6v4.6h-4.6z"/>
<path fill="#ff9c0a" d="M1251.6 121.3h4.6v4.6h-4.6z"/>
<path fill="#ff9a0a" d="M1255.6 121.3h4.6v4.6h-4.6z"/>
<path fill="#ff970a" d="M1259.6 121.3h4.6v4.6h-4.6z"/>
<path fill="#ff930a" d="M1263.6 121.3h4.6v4.6h-4.6z"/>
<path fill="#ff8f0a" d="M1267.6 121.3h4.6v4.6h-4.6z"/>
<path fill="#ff8d0a" d="M1271.6 121.3h4.6v4.6h-4.6z"/>
<path fill="#ff8a0a" d="M1275.6 121.3h4.6v4.6h-4.6z"/>
<path fill="#ff860a" d="M1279.6 121.3h4.6v4.6h-4.6z"/>
<path fill="#ff800a" d="M1283.6 121.3h4.6v4.6h-4.6z"/>
<path fill="#ff720a" d="M1287.6 121.3h4.6v4.6h-4.6z"/>
<path fill="#ff5c0a" d="M1291.6 121.3h4.6v4.6h-4.6z"/>
<path fill="#ff410a" d="M1295.6 121.3h4.6v4.6h-4.6z"/>
<path fill="#ff240a" d="M1299.6 121.3h4.6v4.6h-4.6z"/>
<path fill="#ff0a0a" d="M1303.6 121.3h4.6v4.6h-4.6z"/>
<path fill="#e90a0a" d="M1307.6 121.3h4.6v4.6h-4.6z"/>
<path fill="#e00a0a" d="M1311.6 121.3h4.6v4.6h-4.6z"/>
<path fill="#e20a0a" d="M1315.6 121.3h4.6v4.6h-4.6z"/>
<path fill="#e70a0a" d="M1319.6 121.3h4.6v4.6h-4.6z"/>
<path fill="#e60a0a" d="M1323.6 121.3h4.6v4.6h-4.6z"/>
<path fill="#e00a0a" d="M1327.6 121.3h4.6v4.6h-4.6z"/>
<path fill="#d60a0a" d="M1331.6 121.3h4.6v4.6h-4.6z"/>
<path fill="#ca0a0a" d="M1335.6 121.3h4.6v4.6h-4.6z"/>
<path fill="#d10a0a" d="M1179.6 125.3h4.6v4.6h-4.6z"/>
<path fill="#d50a0a" d="M1183.6 125.3h4.6v4.6h-4.6z"/>
<path fill="#d80a0a" d="M1187.6 125.3h4.6v4.6h-4.6z"/>
<path fill="#d70a0a" d="M1191.6 125.3h4.6v4.6h-4.6z"/>
<path fill="#d40a0a" d="M1195.6 125.3h4.6v4.6h-4.6z"/>
<path fill="#d10a0a" d="M1199.6 125.3h4.6v4.6h-4.6z"/>
<path fill="#d50a0a" d="M1203.6 125.3h4.6v4.6h-4.6z"/>
<path fill="#e30a0a" d="M1207.6 125.3h4.6v4.6h-4.6z"/>
<path fill="#fc0a0a" d="M1211.6 125.3h4.6v4.6h-4.6z"/>
<path fill="#ff270a" d="M1215.6 125.3h4.6v4.6h-4.6z"/>
<path fill="#ff490a" d="M1219.6 125.3h4.6v4.6h-4.6z"/>
<path fill="#ff5f0a" d="M1223.6 125.3h4.6v4.6h-4.6z"/>
<path fill="#ff690a" d="M1227.6 125.3h4.6v4.6h-4.6z"/>
<path fill="#ff6f0a" d="M1231.6 125.3h4.6v4.6h-4.6z"/>
<path fill="#ff730a" d="M1235.6 125.3h4.6v4.6h-4.6z"/>
<path fill="#ff760a" d="M1239.6 125.3h4.6v4.6h-4.6z"/>
<path fill="#ff790a" d="M1243.6 125.3h4.6v4.6h-4.6z"/>
<path fill="#ff7b0a" d="M1247.6 125.3h4.6v4.6h-4.6z"/>
<path fill="#ff7c0a" d="M1251.6 125.3h4.6v4.6h-4.6z"/>
<path fill="#ff7a0a" d="M1255.6 125.3h4.6v4.6h-4.6z"/>
<path fill="#ff750a" d="M1259.6 125.3h4.6v4.6h-4.6z"/>
<path fill="#ff700a" d="M1263.6 125.3h4.6v4.6h-4.6z"/>
<path fill="#ff6d0a" d="M1267.6 125.3h4.6v4.6h-4.6z"/>
<path fill="#ff6b0a" d="M1271.6 125.3h4.6v4.6h-4.6z"/>
<path fill="#ff690a" d="M1275.6 125.3h4.6v4.6h-4.6z"/>
<path fill="#ff660a" d="M1279.6 125.3h4.6v4.6h-4.6z"/>
<path fill="#ff600a" d="M1283.6 125.3h4.6v4.6h-4.6z"/>
<path fill="#ff530a" d="M1287.6 125.3h4.6v4.6h-4.6z"/>
<path fill="#ff3d0a" d="M1291.6 125.3h4.6v4.6h-4.6z"/>
<path fill="#ff230a" d="M1295.6 125.3h4.6v4.6h-4.6z"/>
<path fill="#fe0a0a" d="M1299.6 125.3h4.6v4.6h-4.6z"/>
<path fill="#e80a0a" d="M1303.6 125.3h4.6v4.6h-4.6z"/>
<path fill="#d80a0a" d="M1307.6 125.3h4.6v4.6h-4.6z"/>
<path fill="#d20a0a" d="M1311.6 125.3h4.6v4.6h-4.6z"/>
<path fill="#d50a0a" d="M1315.6 125.3h4.6v4.6h-4.6z"/>
<path fill="#dc0a0a" d="M1319.6 125.3h4.6v4.6h-4.6z"/>
<path fill="#df0a0a" d="M1323.6 125.3h4.6v4.6h-4.6z"/>
<path fill="#db0a0a" d="M1327.6 125.3h4.6v4.6h-4.6z"/>
<path fill="#d30a0a" d="M1331.6 125.3h4.6v4.6h-4.6z"/>
<path fill="#c90a0a" d="M1335.6 125.3h4.6v4.6h-4.6z"/>
<path fill="#cd0a0a" d="M1179.6 129.3h4.6v4.6h-4.6z"/>
<path fill="#d00a0a" d="M1183.6 129.3h4.6v4.6h-4.6z"/>
<path fill="#d10a0a" d="M1187.6 129.3h4.6v4.6h-4.6z"/>
<path fill="#d10a0a" d="M1191.6 129.3h4.6v4.6h-4.6z"/>
<path fill="#cd0a0a" d="M1195.6 129.3h4.6v4.6h-4.6z"/>
<path fill="#ca0a0a" d="M1199.6 129.3h4.6v4.6h-4.6z"/>
<path fill="#ca0a0a" d="M1203.6 129.3h4.6v4.6h-4.6z"/>
<path fill="#d20a0a" d="M1207.6 129.3h4.6v4.6h-4.6z"/>
<path fill="#e20a0a" d="M1211.6 129.3h4.6v4.6h-4.6z"/>
<path fill="#fa0a0a" d="M1215.6 129.3h4.6v4.6h-4.6z"/>
<path fill="#ff200a" d="M1219.6 129.3h4.6v4.6h-4.6z"/>
<path fill="#ff360a" d="M1223.6 129.3h4.6v4.6h-4.6z"/>
<path fill="#ff430a" d="M1227.6 129.3h4.6v4.6h-4.6z"/>
<path fill="#ff4b0a" d="M1231.6 129.3h4.6v4.6h-4.6z"/>
<path fill="#ff4f0a" d="M1235.6 129.3h4.6v4.6h-4.6z"/>
<path fill="#ff520a" d="M1239.6 129.3h4.6v4.6h-4.6z"/>
<path fill="#ff550a" d="M1243.6 129.3h4.6v4.6h-4.6z"/>
<path fill="#ff570a" d="M1247.6 129.3h4.6v4.6h-4.6z"/>
<path fill="#ff580a" d="M1251.6 129.3h4.6v4.6h-4.6z"/>
<path fill="#ff550a" d="M1255.6 129.3h4.6v4.6h-4.6z"/>
<path fill="#ff500a" d="M1259.6 129.3h4.6v4.6h-4.6z"/>
<path fill="#ff4c0a" d="M1263.6 129.3h4.6v4.6h-4.6z"/>
<path fill="#ff4a0a" d="M1267.6 129.3h4.6v4.6h-4.6z"/>
<path fill="#ff490a" d="M1271.6 129.3h4.6v4.6h-4.6z"/>
<path fill="#ff470a" d="M1275.6 129.3h4.6v4.6h-4.6z"/>
<path fill="#ff440a" d="M1279.6 129.3h4.6v4.6h-4.6z"/>
<path fill="#ff3d0a" d="M1283.6 129.3h4.6v4.6h-4.6z"/>
<path fill="#ff300a" d="M1287.6 129.3h4.6v4.6h-4.6z"/>
<path fill="#ff1d0a" d="M1291.6 129.3h4.6v4.6h-4.6z"/>
<path fill="#fb0a0a" d="M1295.6 129.3h4.6v4.6h-4.6z"/>
<path fill="#e60a0a" d="M1299.6 129.3h4.6v4.6h-4.6z"/>
<path fill="#d50a0a" d="M1303.6 129.3h4.6v4.6h-4.6z"/>
<path fill="#cb0a0a" d="M1307.6 129.3h4.6v4.6h-4.6z"/>
<path fill="#c90a0a" d="M1311.6 129.3h4.6v4.6h-4.6z"/>
<path fill="#cd0a0a" d="M1315.6 129.3h4.6v4.6h-4.6z"/>
<path fill="#d40a0a" d="M1319.6 129.3h4.6v4.6h-4.6z"/>
<path fill="#d90a0a" d="M1323.6 129.3h4.6v4.6h-4.6z"/>
<path fill="#d60a0a" d="M1327.6 129.3h4.6v4.6h-4.6z"/>
<path fill="#cf0a0a" d="M1331.6 129.3h4.6v4.6h-4.6z"/>
<path fill="#c70a0a" d="M1335.6 129.3h4.6v4.6h-4.6z"/>
<path fill="#c80a0a" d="M1179.6 133.3h4.6v4.6h-4.6z"/>
<path fill="#ca0a0a" d="M1183.6 133.3h4.6v4.6h-4.6z"/>
<path fill="#ca0a0a" d="M1187.6 133.3h4.6v4.6h-4.6z"/>
<path fill="#c90a0a" d="M1191.6 133.3h4.6v4.6h-4.6z"/>
<path fill="#c50a0a" d="M1195.6 133.3h4.6v4.6h-4.6z"/>
<path fill="#c10a0a" d="M1199.6 133.3h4.6v4.6h-4.6z"/>
<path fill="#bf0a0a" d="M1203.6 133.3h4.6v4.6h-4.6z"/>
<path fill="#c10a0a" d="M1207.6 133.3h4.6v4.6h-4.6z"/>
<path fill="#c90a0a" d="M1211.6 133.3h4.6v4.6h-4.6z"/>
<path fill="#d70a0a" d="M1215.6 133.3h4.6v4.6h-4.6z"/>
<path fill="#ee0a0a" d="M1219.6 133.3h4.6v4.6h-4.6z"/>
<path fill="#ff0e0a" d="M1223.6 133.3h4.6v4.6h-4.6z"/>
<path fill="#ff1c0a" d="M1227.6 133.3h4.6v4.6h-4.6z"/>
<path fill="#ff250a" d="M1231.6 133.3h4.6v4.6h-4.6z"/>
<path fill="#ff2a0a" d="M1235.6 133.3h4.6v4.6h-4.6z"/>
<path fill="#ff2e0a" d="M1239.6 133.3h4.6v4.6h-4.6z"/>
<path fill="#ff300a" d="M1243.6 133.3h4.6v4.6h-4.6z"/>
<path fill="#ff310a" d="M1247.6 133.3h4.6v4.6h-4.6z"/>
<path fill="#ff300a" d="M1251.6 133.3h4.6v4.6h-4.6z"/>
<path fill="#ff2c0a" d="M1255.6 133.3h4.6v4.6h-4.6z"/>
<path fill="#ff290a" d="M1259.6 133.3h4.6v4.6h-4.6z"/>
<path fill="#ff270a" d="M1263.6 133.3h4.6v4.6h-4.6z"/>
<path fill="#ff270a" d="M1267.6 133.3h4.6v4.6h-4.6z"/>
<path fill="#ff260a" d="M1271.6 133.3h4.6v4.6h-4.6z"/>
<path fill="#ff250a" d="M1275.6 133.3h4.6v4.6h-4.6z"/>
<path fill="#ff220a" d="M1279.6 133.3h4.6v4.6h-4.6z"/>
<path fill="#ff1b0a" d="M1283.6 133.3h4.6v4.6h-4.6z"/>
<path fill="#ff100a" d="M1287.6 133.3h4.6v4.6h-4.6z"/>
<path fill="#f50a0a" d="M1291.6 133.3h4.6v4.6h-4.6z"/>
<path fill="#e30a0a" d="M1295.6 133.3h4.6v4.6h-4.6z"/>
<path fill="#d10a0a" d="M1299.6 133.3h4.6v4.6h-4.6z"/>
<path fill="#c60a0a" d="M1303.6 133.3h4.6v4.6h-4.6z"/>
<path fill="#c10a0a" d="M1307.6 133.3h4.6v4.6h-4.6z"/>
<path fill="#c10a0a" d="M1311.6 133.3h4.6v4.6h-4.6z"/>
<path fill="#c60a0a" d="M1315.6 133.3h4.6v4.6h-4.6z"/>
<path fill="#cc0a0a" d="M1319.6 133.3h4.6v4.6h-4.6z"/>
<path fill="#d00a0a" d="M1323.6 133.3h4.6v4.6h-4.6z"/>
<path fill="#cf0a0a" d="M1327.6 133.3h4.6v4.6h-4.6z"/>
<path fill="#cb0a0a" d="M1331.6 133.3h4.6v4.6h-4.6z"/>
<path fill="#c40a0a" d="M1335.6 133.3h4.6v4.6h-4.6z"/>
<path fill="#c40a0a" d="M1179.6 137.3h4.6v4.6h-4.6z"/>
<path fill="#c50a0a" d="M1183.6 137.3h4.6v4.6h-4.6z"/>
<path fill="#c40a0a" d="M1187.6 137.3h4.6v4.6h-4.6z"/>
<path fill="#c20a0a" d="M1191.6 137.3h4.6v4.6h-4.6z"/>
<path fill="#be0a0a" d="M1195.6 137.3h4.6v4.6h-4.6z"/>
<path fill="#b90a0a" d="M1199.6 137.3h4.6v4.6h-4.6z"/>
<path fill="#b60a0a" d="M1203.6 137.3h4.6v4.6h-4.6z"/>
<path fill="#b50a0a" d="M1207.6 137.3h4.6v4.6h-4.6z"/>
<path fill="#b70a0a" d="M1211.6 137.3h4.6v4.6h-4.6z"/>
<path fill="#c00a0a" d="M1215.6 137.3h4.6v4.6h-4.6z"/>
<path fill="#d00a0a" d="M1219.6 137.3h4.6v4.6h-4.6z"/>
<path fill="#e10a0a" d="M1223.6 137.3h4.6v4.6h-4.6z"/>
<path fill="#ee0a0a" d="M1227.6 137.3h4.6v4.6h-4.6z"/>
<path fill="#f60a0a" d="M1231.6 137.3h4.6v4.6h-4.6z"/>
<path fill="#fc0a0a" d="M1235.6 137.3h4.6v4.6h-4.6z"/>
<path fill="#ff0a0a" d="M1239.6 137.3h4.6v4.6h-4.6z"/>
<path fill="#ff0c0a" d="M1243.6 137.3h4.6v4.6h-4.6z"/>
<path fill="#ff0d0a" d="M1247.6 137.3h4.6v4.6h-4.6z"/>
<path fill="#ff0a0a" d="M1251.6 137.3h4.6v4.6h-4.6z"/>
<path fill="#fb0a0a" d="M1255.6 137.3h4.6v4.6h-4.6z"/>
<path fill="#f90a0a" d="M1259.6 137.3h4.6v4.6h-4.6z"/>
<path fill="#fa0a0a" d="M1263.6 137.3h4.6v4.6h-4.6z"/>
<path fill="#fc0a0a" d="M1267.6 137.3h4.6v4.6h-4.6z"/>
<path fill="#fc0a0a" d="M1271.6 137.3h4.6v4.6h-4.6z"/>
<path fill="#fb0a0a" d="M1275.6 137.3h4.6v4.6h-4.6z"/>
<path fill="#f80a0a" d="M1279.6 137.3h4.6v4.6h-4.6z"/>
<path fill="#f20a0a" d="M1283.6 137.3h4.6v4.6h-4.6z"/>
<path fill="#e90a0a" d="M1287.6 137.3h4.6v4.6h-4.6z"/>
<path fill="#dd0a0a" d="M1291.6 137.3h4.6v4.6h-4.6z"/>
<path fill="#cf0a0a" d="M1295.6 137.3h4.6v4.6h-4.6z"/>
<path fill="#c30a0a" d="M1299.6 137.3h4.6v4.6h-4.6z"/>
<path fill="#bc0a0a" d="M1303.6 137.3h4.6v4.6h-4.6z"/>
<path fill="#ba0a0a" d="M1307.6 137.3h4.6v4.6h-4.6z"/>
<path fill="#bb0a0a" d="M1311.6 137.3h4.6v4.6h-4.6z"/>
<path fill="#c00a0a" d="M1315.6 137.3h4.6v4.6h-4.6z"/>
<path fill="#c50a0a" d="M1319.6 137.3h4.6v4.6h-4.6z"/>
<path fill="#c80a0a" d="M1323.6 137.3h4.6v4.6h-4.6z"/>
<path fill="#c90a0a" d="M1327.6 137.3h4.6v4.6h-4.6z"/>
<path fill="#c60a0a" d="M1331.6 137.3h4.6v4.6h-4.6z"/>
<path fill="#c10a0a" d="M1335.6 137.3h4.6v4.6h-4.6z"/>
<path fill="#c00a0a" d="M1179.6 141.3h4.6v4.6h-4.6z"/>
<path fill="#c00a0a" d="M1183.6 141.3h4.6v4.6h-4.6z"/>
<path fill="#bf0a0a" d="M1187.6 141.3h4.6v4.6h-4.6z"/>
<path fill="#bd0a0a" d="M1191.6 141.3h4.6v4.6h-4.6z"/>
<path fill="#b90a0a" d="M1195.6 141.3h4.6v4.6h-4.6z"/>
<path fill="#b40a0a" d="M1199.6 141.3h4.6v4.6h-4.6z"/>
<path fill="#b00a0a" d="M1203.6 141.3h4.6v4.6h-4.6z"/>
<path fill="#ae0a0a" d="M1207.6 141.3h4.6v4.6h-4.6z"/>
<path fill="#ae0a0a" d="M1211.6 141.3h4.6v4.6h-4.6z"/>
<path fill="#b30a0a" d="M1215.6 141.3h4.6v4.6h-4.6z"/>
<path fill="#bd0a0a" d="M1219.6 141.3h4.6v4.6h-4.6z"/>
<path fill="#c80a0a" d="M1223.6 141.3h4.6v4.6h-4.6z"/>
<path fill="#d10a0a" d="M1227.6 141.3h4.6v4.6h-4.6z"/>
<path fill="#d80a0a" d="M1231.6 141.3h4.6v4.6h-4.6z"/>
<path fill="#dd0a0a" d="M1235.6 141.3h4.6v4.6h-4.6z"/>
<path fill="#e00a0a" d="M1239.6 141.3h4.6v4.6h-4.6z"/>
<path fill="#e20a0a" d="M1243.6 141.3h4.6v4.6h-4.6z"/>
<path fill="#e30a0a" d="M1247.6 141.3h4.6v4.6h-4.6z"/>
<path fill="#e10a0a" d="M1251.6 141.3h4.6v4.6h-4.6z"/>
<path fill="#de0a0a" d="M1255.6 141.3h4.6v4.6h-4.6z"/>
<path fill="#de0a0a" d="M1259.6 141.3h4.6v4.6h-4.6z"/>
<path fill="#df0a0a" d="M1263.6 141.3h4.6v4.6h-4.6z"/>
<path fill="#e10a0a" d="M1267.6 141.3h4.6v4.6h-4.6z"/>
<path fill="#e20a0a" d="M1271.6 141.3h4.6v4.6h-4.6z"/>
<path fill="#e10a0a" d="M1275.6 141.3h4.6v4.6h-4.6z"/>
<path fill="#df0a0a" d="M1279.6 141.3h4.6v4.6h-4.6z"/>
<path fill="#da0a0a" d="M1283.6 141.3h4.6v4.6h-4.6z"/>
<path fill="#d40a0a" d="M1287.6 141.3h4.6v4.6h-4.6z"/>
<path fill="#cb0a0a" d="M1291.6 141.3h4.6v4.6h-4.6z"/>
<path fill="#c20a0a" d="M1295.6 141.3h4.6v4.6h-4.6z"/>
<path fill="#ba0a0a" d="M1299.6 141.3h4.6v4.6h-4.6z"/>
<path fill="#b60a0a" d="M1303.6 141.3h4.6v4.6h-4.6z"/>
<path fill="#b50a0a" d="M1307.6 141.3h4.6v4.6h-4.6z"/>
<path fill="#b80a0a" d="M1311.6 141.3h4.6v4.6h-4.6z"/>
<path fill="#bb0a0a" d="M1315.6 141.3h4.6v4.6h-4.6z"/>
<path fill="#bf0a0a" d="M1319.6 141.3h4.6v4.6h-4.6z"/>
<path fill="#c20a0a" d="M1323.6 141.3h4.6v4.6h-4.6z"/>
<path fill="#c30a0a" d="M1327.6 141.3h4.6v4.6h-4.6z"/>
<path fill="#c10a0a" d="M1331.6 141.3h4.6v4.6h-4.6z"/>
<path fill="#bd0a0a" d="M1335.6 141.3h4.6v4.6h-4.6z"/>
<path fill="#be0a0a" d="M1179.6 145.3h4.6v4.6h-4.6z"/>
<path fill="#bd0a0a" d="M1183.6 145.3h4.6v4.6h-4.6z"/>
<path fill="#bc0a0a" d="M1187.6 145.3h4.6v4.6h-4.6z"/>
<path fill="#ba0a0a" d="M1191.6 145.3h4.6v4.6h-4.6z"/>
<path fill="#b60a0a" d="M1195.6 145.3h4.6v4.6h-4.6z"/>
<path fill="#b20a0a" d="M1199.6 145.3h4.6v4.6h-4.6z"/>
<path fill="#ae0a0a" d="M1203.6 145.3h4.6v4.6h-4.6z"/>
<path fill="#ab0a0a" d="M1207.6 145.3h4.6v4.6h-4.6z"/>
<path fill="#aa0a0a" d="M1211.6 145.3h4.6v4.6h-4.6z"/>
<path fill="#ad0a0a" d="M1215.6 145.3h4.6v4.6h-4.6z"/>
<path fill="#b20a0a" d="M1219.6 145.3h4.6v4.6h-4.6z"/>
<path fill="#b80a0a" d="M1223.6 145.3h4.6v4.6h-4.6z"/>
<path fill="#be0a0a" d="M1227.6 145.3h4.6v4.6h-4.6z"/>
<path fill="#c10a0a" d="M1231.6 145.3h4.6v4.6h-4.6z"/>
<path fill="#c40a0a" d="M1235.6 145.3h4.6v4.6h-4.6z"/>
<path fill="#c80a0a" d="M1239.6 145.3h4.6v4.6h-4.6z"/>
<path fill="#cb0a0a" d="M1243.6 145.3h4.6v4.6h-4.6z"/>
<path fill="#cc0a0a" d="M1247.6 145.3h4.6v4.6h-4.6z"/>
<path fill="#cc0a0a" d="M1251.6 145.3h4.6v4.6h-4.6z"/>
<path fill="#cb0a0a" d="M1255.6 145.3h4.6v4.6h-4.6z"/>
<path fill="#cb0a0a" d="M1259.6 145.3h4.6v4.6h-4.6z"/>
<path fill="#cc0a0a" d="M1263.6 145.3h4.6v4.6h-4.6z"/>
<path fill="#ce0a0a" d="M1267.6 145.3h4.6v4.6h-4.6z"/>
<path fill="#ce0a0a" d="M1271.6 145.3h4.6v4.6h-4.6z"/>
<path fill="#cd0a0a" d="M1275.6 145.3h4.6v4.6h-4.6z"/>
<path fill="#cb0a0a" d="M1279.6 145.3h4.6v4.6h-4.6z"/>
<path fill="#c80a0a" d="M1283.6 145.3h4.6v4.6h-4.6z"/>
<path fill="#c40a0a" d="M1287.6 145.3h4.6v4.6h-4.6z"/>
<path fill="#bf0a0a" d="M1291.6 145.3h4.6v4.6h-4.6z"/>
<path fill="#ba0a0a" d="M1295.6 145.3h4.6v4.6h-4.6z"/>
<path fill="#b50a0a" d="M1299.6 145.3h4.6v4.6h-4.6z"/>
<path fill="#b30a0a" d="M1303.6 145.3h4.6v4.6h-4.6z"/>
<path fill="#b30a0a" d="M1307.6 145.3h4.6v4.6h-4.6z"/>
<path fill="#b60a0a" d="M1311.6 145.3h4.6v4.6h-4.6z"/>
<path fill="#b90a0a" d="M1315.6 145.3h4.6v4.6h-4.6z"/>
<path fill="#bc0a0a" d="M1319.6 145.3h4.6v4.6h-4.6z"/>
<path fill="#be0a0a" d="M1323.6 145.3h4.6v4.6h-4.6z"/>
<path fill="#bf0a0a" d="M1327.6 145.3h4.6v4.6h-4.6z"/>
<path fill="#be0a0a" d="M1331.6 145.3h4.6v4.6h-4.6z"/>
<path fill="#bb0a0a" d="M1335.6 145.3h4.6v4.6h-4.6z"/>
<path fill="#bc0a0a" d="M1179.6 149.3h4.6v4.6h-4.6z"/>
<path fill="#bc0a0a" d="M1183.6 149.3h4.6v4.6h-4.6z"/>
<path fill="#bb0a0a" d="M1187.6 149.3h4.6v4.6h-4.6z"/>
<path fill="#b80a0a" d="M1191.6 149.3h4.6v4.6h-4.6z"/>
<path fill="#b50a0a" d="M1195.6 149.3h4.6v4.6h-4.6z"/>
<path fill="#b20a0a" d="M1199.6 149.3h4.6v4.6h-4.6z"/>
<path fill="#af0a0a" d="M1203.6 149.3h4.6v4.6h-4.6z"/>
<path fill="#ac0a0a" d="M1207.6 149.3h4.6v4.6h-4.6z"/>
<path fill="#aa0a0a" d="M1211.6 149.3h4.6v4.6h-4.6z"/>
<path fill="#ab0a0a" d="M1215.6 149.3h4.6v4.6h-4.6z"/>
<path fill="#ad0a0a" d="M1219.6 149.3h4.6v4.6h-4.6z"/>
<path fill="#af0a0a" d="M1223.6 149.3h4.6v4.6h-4.6z"/>
<path fill="#b20a0a" d="M1227.6 149.3h4.6v4.6h-4.6z"/>
<path fill="#b30a0a" d="M1231.6 149.3h4.6v4.6h-4.6z"/>
<path fill="#b40a0a" d="M1235.6 149.3h4.6v4.6h-4.6z"/>
<path fill="#b80a0a" d="M1239.6 149.3h4.6v4.6h-4.6z"/>
<path fill="#bb0a0a" d="M1243.6 149.3h4.6v4.6h-4.6z"/>
<path fill="#be0a0a" d="M1247.6 149.3h4.6v4.6h-4.6z"/>
<path fill="#bf0a0a" d="M1251.6 149.3h4.6v4.6h-4.6z"/>
<path fill="#bf0a0a" d="M1255.6 149.3h4.6v4.6h-4.6z"/>
<path fill="#c00a0a" d="M1259.6 149.3h4.6v4.6h-4.6z"/>
<path fill="#c10a0a" d="M1263.6 149.3h4.6v4.6h-4.6z"/>
<path fill="#c10a0a" d="M1267.6 149.3h4.6v4.6h-4.6z"/>
<path fill="#c10a0a" d="M1271.6 149.3h4.6v4.6h-4.6z"/>
<path fill="#c00a0a" d="M1275.6 149.3h4.6v4.6h-4.6z"/>
<path fill="#be0a0a" d="M1279.6 149.3h4.6v4.6h-4.6z"/>
<path fill="#bd0a0a" d="M1283.6 149.3h4.6v4.6h-4.6z"/>
<path fill="#bb0a0a" d="M1287.6 149.3h4.6v4.6h-4.6z"/>
<path fill="#b80a0a" d="M1291.6 149.3h4.6v4.6h-4.6z"/>
<path fill="#b50a0a" d="M1295.6 149.3h4.6v4.6h-4.6z"/>
<path fill="#b30a0a" d="M1299.6 149.3h4.6v4.6h-4.6z"/>
<path fill="#b20a0a" d="M1303.6 149.3h4.6v4.6h-4.6z"/>
<path fill="#b30a0a" d="M1307.6 149.3h4.6v4.6h-4.6z"/>
<path fill="#b50a0a" d="M1311.6 149.3h4.6v4.6h-4.6z"/>
<path fill="#b80a0a" d="M1315.6 149.3h4.6v4.6h-4.6z"/>
<path fill="#ba0a0a" d="M1319.6 149.3h4.6v4.6h-4.6z"/>
<path fill="#bc0a0a" d="M1323.6 149.3h4.6v4.6h-4.6z"/>
<path fill="#bd0a0a" d="M1327.6 149.3h4.6v4.6h-4.6z"/>
<path fill="#bb0a0a" d="M1331.6 149.3h4.6v4.6h-4.6z"/>
<path fill="#b90a0a" d="M1335.6 149.3h4.6v4.6h-4.6z"/>
<path fill="#bb0a0a" d="M1183.6 153.3h4.6v4.6h-4.6z"/>
<path fill="#bb0a0a" d="M1187.6 153.3h4.6v4.6h-4.6z"/>
<path fill="#b90a0a" d="M1191.6 153.3h4.6v4.6h-4.6z"/>
<path fill="#b70a0a" d="M1195.6 153.3h4.6v4.6h-4.6z"/>
<path fill="#b40a0a" d="M1199.6 153.3h4.6v4.6h-4.6z"/>
<path fill="#b10a0a" d="M1203.6 153.3h4.6v4.6h-4.6z"/>
<path fill="#af0a0a" d="M1207.6 153.3h4.6v4.6h-4.6z"/>
<path fill="#ad0a0a" d="M1211.6 153.3h4.6v4.6h-4.6z"/>
<path fill="#ac0a0a" d="M1215.6 153.3h4.6v4.6h-4.6z"/>
<path fill="#ac0a0a" d="M1219.6 153.3h4.6v4.6h-4.6z"/>
<path fill="#ad0a0a" d="M1223.6 153.3h4.6v4.6h-4.6z"/>
<path fill="#ad0a0a" d="M1227.6 153.3h4.6v4.6h-4.6z"/>
<path fill="#ae0a0a" d="M1231.6 153.3h4.6v4.6h-4.6z"/>
<path fill="#af0a0a" d="M1235.6 153.3h4.6v4.6h-4.6z"/>
<path fill="#b10a0a" d="M1239.6 153.3h4.6v4.6h-4.6z"/>
<path fill="#b40a0a" d="M1243.6 153.3h4.6v4.6h-4.6z"/>
<path fill="#b70a0a" d="M1247.6 153.3h4.6v4.6h-4.6z"/>
<path fill="#b80a0a" d="M1251.6 153.3h4.6v4.6h-4.6z"/>
<path fill="#b90a0a" d="M1255.6 153.3h4.6v4.6h-4.6z"/>
<path fill="#ba0a0a" d="M1259.6 153.3h4.6v4.6h-4.6z"/>
<path fill="#bb0a0a" d="M1263.6 153.3h4.6v4.6h-4.6z"/>
<path fill="#bc0a0a" d="M1267.6 153.3h4.6v4.6h-4.6z"/>
<path fill="#bb0a0a" d="M1271.6 153.3h4.6v4.6h-4.6z"/>
<path fill="#bb0a0a" d="M1275.6 153.3h4.6v4.6h-4.6z"/>
<path fill="#b90a0a" d="M1279.6 153.3h4.6v4.6h-4.6z"/>
<path fill="#b90a0a" d="M1283.6 153.3h4.6v4.6h-4.6z"/>
<path fill="#b70a0a" d="M1287.6 153.3h4.6v4.6h-4.6z"/>
<path fill="#b60a0a" d="M1291.6 153.3h4.6v4.6h-4.6z"/>
<path fill="#b40a0a" d="M1295.6 153.3h4.6v4.6h-4.6z"/>
<path fill="#b30a0a" d="M1299.6 153.3h4.6v4.6h-4.6z"/>
<path fill="#b30a0a" d="M1303.6 153.3h4.6v4.6h-4.6z"/>
<path fill="#b40a0a" d="M1307.6 153.3h4.6v4.6h-4.6z"/>
<path fill="#b60a0a" d="M1311.6 153.3h4.6v4.6h-4.6z"/>
<path fill="#b80a0a" d="M1315.6 153.3h4.6v4.6h-4.6z"/>
<path fill="#ba0a0a" d="M1319.6 153.3h4.6v4.6h-4.6z"/>
<path fill="#bb0a0a" d="M1323.6 153.3h4.6v4.6h-4.6z"/>
<path fill="#bb0a0a" d="M1327.6 153.3h4.6v4.6h-4.6z"/>
<path fill="#ba0a0a" d="M1331.6 153.3h4.6v4.6h-4.6z"/>
<path fill="#bc0a0a" d="M1183.6 157.3h4.6v4.6h-4.6z"/>
<path fill="#bc0a0a" d="M1187.6 157.3h4.6v4.6h-4.6z"/>
<path fill="#bb0a0a" d="M1191.6 157.3h4.6v4.6h-4.6z"/>
<path fill="#ba0a0a" d="M1195.6 157.3h4.6v4.6h-4.6z"/>
<path fill="#b80a0a" d="M1199.6 157.3h4.6v4.6h-4.6z"/>
<path fill="#b60a0a" d="M1203.6 157.3h4.6v4.6h-4.6z"/>
<path fill="#b40a0a" d="M1207.6 157.3h4.6v4.6h-4.6z"/>
<path fill="#b20a0a" d="M1211.6 157.3h4.6v4.6h-4.6z"/>
<path fill="#b10a0a" d="M1215.6 157.3h4.6v4.6h-4.6z"/>
<path fill="#b00a0a" d="M1219.6 157.3h4.6v4.6h-4.6z"/>
<path fill="#af0a0a" d="M1223.6 157.3h4.6v4.6h-4.6z"/>
<path fill="#af0a0a" d="M1227.6 157.3h4.6v4.6h-4.6z"/>
<path fill="#af0a0a" d="M1231.6 157.3h4.6v4.6h-4.6z"/>
<path fill="#b00a0a" d="M1235.6 157.3h4.6v4.6h-4.6z"/>
<path fill="#b20a0a" d="M1239.6 157.3h4.6v4.6h-4.6z"/>
<path fill="#b40a0a" d="M1243.6 157.3h4.6v4.6h-4.6z"/>
<path fill="#b60a0a" d="M1247.6 157.3h4.6v4.6h-4.6z"/>
<path fill="#b80a0a" d="M1251.6 157.3h4.6v4.6h-4.6z"/>
<path fill="#b90a0a" d="M1255.6 157.3h4.6v4.6h-4.6z"/>
<path fill="#ba0a0a" d="M1259.6 157.3h4.6v4.6h-4.6z"/>
<path fill="#bb0a0a" d="M1263.6 157.3h4.6v4.6h-4.6z"/>
<path fill="#bb0a0a" d="M1267.6 157.3h4.6v4.6h-4.6z"/>
<path fill="#bb0a0a" d="M1271.6 157.3h4.6v4.6h-4.6z"/>
<path fill="#bb0a0a" d="M1275.6 157.3h4.6v4.6h-4.6z"/>
<path fill="#ba0a0a" d="M1279.6 157.3h4.6v4.6h-4.6z"/>
<path fill="#b90a0a" d="M1283.6 157.3h4.6v4.6h-4.6z"/>
<path fill="#b80a0a" d="M1287.6 157.3h4.6v4.6h-4.6z"/>
<path fill="#b70a0a" d="M1291.6 157.3h4.6v4.6h-4.6z"/>
<path fill="#b60a0a" d="M1295.6 157.3h4.6v4.6h-4.6z"/>
<path fill="#b60a0a" d="M1299.6 157.3h4.6v4.6h-4.6z"/>
<path fill="#b60a0a" d="M1303.6 157.3h4.6v4.6h-4.6z"/>
<path fill="#b70a0a" d="M1307.6 157.3h4.6v4.6h-4.6z"/>
<path fill="#b80a0a" d="M1311.6 157.3h4.6v4.6h-4.6z"/>
<path fill="#ba0a0a" d="M1315.6 157.3h4.6v4.6h-4.6z"/>
<path fill="#bb0a0a" d="M1319.6 157.3h4.6v4.6h-4.6z"/>
<path fill="#bc0a0a" d="M1323.6 157.3h4.6v4.6h-4.6z"/>
<path fill="#bb0a0a" d="M1327.6 157.3h4.6v4.6h-4.6z"/>
<path fill="#ba0a0a" d="M1331.6 157.3h4.6v4.6h-4.6z"/>
<path fill="#bd0a0a" d="M1183.6 161.3h4.6v4.6h-4.6z"/>
<path fill="#bd0a0a" d="M1187.6 161.3h4.6v4.6h-4.6z"/>
<path fill="#bd0a0a" d="M1191.6 161.3h4.6v4.6h-4.6z"/>
<path fill="#bd0a0a" d="M1195.6 161.3h4.6v4.6h-4.6z"/>
<path fill="#bc0a0a" d="M1199.6 161.3h4.6v4.6h-4.6z"/>
<path fill="#bb0a0a" d="M1203.6 161.3h4.6v4.6h-4.6z"/>
<path fill="#ba0a0a" d="M1207.6 161.3h4.6v4.6h-4.6z"/>
<path fill="#b90a0a" d="M1211.6 161.3h4.6v4.6h-4.6z"/>
<path fill="#b80a0a" d="M1215.6 161.3h4.6v4.6h-4.6z"/>
<path fill="#b60a0a" d="M1219.6 161.3h4.6v4.6h-4.6z"/>
<path fill="#b50a0a" d="M1223.6 161.3h4.6v4.6h-4.6z"/>
<path fill="#b40a0a" d="M1227.6 161.3h4.6v4.6h-4.6z"/>
<path fill="#b40a0a" d="M1231.6 161.3h4.6v4.6h-4.6z"/>
<path fill="#b50a0a" d="M1235.6 161.3h4.6v4.6h-4.6z"/>
<path fill="#b60a0a" d="M1239.6 161.3h4.6v4.6h-4.6z"/>
<path fill="#b80a0a" d="M1243.6 161.3h4.6v4.6h-4.6z"/>
<path fill="#ba0a0a" d="M1247.6 161.3h4.6v4.6h-4.6z"/>
<path fill="#bb0a0a" d="M1251.6 161.3h4.6v4.6h-4.6z"/>
<path fill="#bc0a0a" d="M1255.6 161.3h4.6v4.6h-4.6z"/>
<path fill="#bd0a0a" d="M1259.6 161.3h4.6v4.6h-4.6z"/>
<path fill="#be0a0a" d="M1263.6 161.3h4.6v4.6h-4.6z"/>
<path fill="#bf0a0a" d="M1267.6 161.3h4.6v4.6h-4.6z"/>
<path fill="#c00a0a" d="M1271.6 161.3h4.6v4.6h-4.6z"/>
<path fill="#c00a0a" d="M1275.6 161.3h4.6v4.6h-4.6z"/>
<path fill="#bf0a0a" d="M1279.6 161.3h4.6v4.6h-4.6z"/>
<path fill="#be0a0a" d="M1283.6 161.3h4.6v4.6h-4.6z"/>
<path fill="#bd0a0a" d="M1287.6 161.3h4.6v4.6h-4.6z"/>
<path fill="#bc0a0a" d="M1291.6 161.3h4.6v4.6h-4.6z"/>
<path fill="#bb0a0a" d="M1295.6 161.3h4.6v4.6h-4.6z"/>
<path fill="#ba0a0a" d="M1299.6 161.3h4.6v4.6h-4.6z"/>
<path fill="#ba0a0a" d="M1303.6 161.3h4.6v4.6h-4.6z"/>
<path fill="#bb0a0a" d="M1307.6 161.3h4.6v4.6h-4.6z"/>
<path fill="#bc0a0a" d="M1311.6 161.3h4.6v4.6h-4.6z"/>
<path fill="#bd0a0a" d="M1315.6 161.3h4.6v4.6h-4.6z"/>
<path fill="#be0a0a" d="M1319.6 161.3h4.6v4.6h-4.6z"/>
<path fill="#bd0a0a" d="M1323.6 161.3h4.6v4.6h-4.6z"/>
<path fill="#bc0a0a" d="M1327.6 161.3h4.6v4.6h-4.6z"/>
<path fill="#bb0a0a" d="M1331.6 161.3h4.6v4.6h-4.6z"/>
<path fill="#c00a0a" d="M1187.6 165.3h4.6v4.6h-4.6z"/>
<path fill="#c00a0a" d="M1191.6 165.3h4.6v4.6h-4.6z"/>
<path fill="#c10a0a" d="M1195.6 165.3h4.6v4.6h-4.6z"/>
<path fill="#c10a0a" d="M1199.6 165.3h4.6v4.6h-4.6z"/>
<path fill="#c10a0a" d="M1203.6 165.3h4.6v4.6h-4.6z"/>
<path fill="#c00a0a" d="M1207.6 165.3h4.6v4.6h-4.6z"/>
<path fill="#c00a0a" d="M1211.6 165.3h4.6v4.6h-4.6z"/>
<path fill="#bf0a0a" d="M1215.6 165.3h4.6v4.6h-4.6z"/>
<path fill="#be0a0a" d="M1219.6 165.3h4.6v4.6h-4.6z"/>
<path fill="#bc0a0a" d="M1223.6 165.3h4.6v4.6h-4.6z"/>
<path fill="#bb0a0a" d="M1227.6 165.3h4.6v4.6h-4.6z"/>
<path fill="#bb0a0a" d="M1231.6 165.3h4.6v4.6h-4.6z"/>
<path fill="#bc0a0a" d="M1235.6 165.3h4.6v4.6h-4.6z"/>
<path fill="#be0a0a" d="M1239.6 165.3h4.6v4.6h-4.6z"/>
<path fill="#bf0a0a" d="M1243.6 165.3h4.6v4.6h-4.6z"/>
<path fill="#c00a0a" d="M1247.6 165.3h4.6v4.6h-4.6z"/>
<path fill="#c10a0a" d="M1251.6 165.3h4.6v4.6h-4.6z"/>
<path fill="#c20a0a" d="M1255.6 165.3h4.6v4.6h-4.6z"/>
<path fill="#c30a0a" d="M1259.6 165.3h4.6v4.6h-4.6z"/>
<path fill="#c40a0a" d="M1263.6 165.3h4.6v4.6h-4.6z"/>
<path fill="#c60a0a" d="M1267.6 165.3h4.6v4.6h-4.6z"/>
<path fill="#c70a0a" d="M1271.6 165.3h4.6v4.6h-4.6z"/>
<path fill="#c70a0a" d="M1275.6 165.3h4.6v4.6h-4.6z"/>
<path fill="#c70a0a" d="M1279.6 165.3h4.6v4.6h-4.6z"/>
<path fill="#c60a0a" d="M1283.6 165.3h4.6v4.6h-4.6z"/>
<path fill="#c50a0a" d="M1287.6 165.3h4.6v4.6h-4.6z"/>
<path fill="#c30a0a" d="M1291.6 165.3h4.6v4.6h-4.6z"/>
<path fill="#c10a0a" d="M1295.6 165.3h4.6v4.6h-4.6z"/>
<path fill="#c00a0a" d="M1299.6 165.3h4.6v4.6h-4.6z"/>
<path fill="#bf0a0a" d="M1303.6 165.3h4.6v4.6h-4.6z"/>
<path fill="#c00a0a" d="M1307.6 165.3h4.6v4.6h-4.6z"/>
<path fill="#c00a0a" d="M1311.6 165.3h4.6v4.6h-4.6z"/>
<path fill="#c00a0a" d="M1315.6 165.3h4.6v4.6h-4.6z"/>
<path fill="#c00a0a" d="M1319.6 165.3h4.6v4.6h-4.6z"/>
<path fill="#bf0a0a" d="M1323.6 165.3h4.6v4.6h-4.6z"/>
<path fill="#be0a0a" d="M1327.6 165.3h4.6v4.6h-4.6z"/>
<path fill="#c20a0a" d="M1187.6 169.3h4.6v4.6h-4.6z"/>
<path fill="#c30a0a" d="M1191.6 169.3h4.6v4.6h-4.6z"/>
<path fill="#c40a0a" d="M1195.6 169.3h4.6v4.6h-4.6z"/>
<path fill="#c50a0a" d="M1199.6 169.3h4.6v4.6h-4.6z"/>
<path fill="#c60a0a" d="M1203.6 169.3h4.6v4.6h-4.6z"/>
<path fill="#c60a0a" d="M1207.6 169.3h4.6v4.6h-4.6z"/>
<path fill="#c70a0a" d="M1211.6 169.3h4.6v4.6h-4.6z"/>
<path fill="#c70a0a" d="M1215.6 169.3h4.6v4.6h-4.6z"/>
<path fill="#c50a0a" d="M1219.6 169.3h4.6v4.6h-4.6z"/>
<path fill="#c30a0a" d="M1223.6 169.3h4.6v4.6h-4.6z"/>
<path fill="#c20a0a" d="M1227.6 169.3h4.6v4.6h-4.6z"/>
<path fill="#c20a0a" d="M1231.6 169.3h4.6v4.6h-4.6z"/>
<path fill="#c30a0a" d="M1235.6 169.3h4.6v4.6h-4.6z"/>
<path fill="#c50a0a" d="M1239.6 169.3h4.6v4.6h-4.6z"/>
<path fill="#c70a0a" d="M1243.6 169.3h4.6v4.6h-4.6z"/>
<path fill="#c70a0a" d="M1247.6 169.3h4.6v4.6h-4.6z"/>
<path fill="#c70a0a" d="M1251.6 169.3h4.6v4.6h-4.6z"/>
<path fill="#c80a0a" d="M1255.6 169.3h4.6v4.6h-4.6z"/>
<path fill="#c90a0a" d="M1259.6 169.3h4.6v4.6h-4.6z"/>
<path fill="#cb0a0a" d="M1263.6 169.3h4.6v4.6h-4.6z"/>
<path fill="#ce0a0a" d="M1267.6 169.3h4.6v4.6h-4.6z"/>
<path fill="#d00a0a" d="M1271.6 169.3h4.6v4.6h-4.6z"/>
<path fill="#d10a0a" d="M1275.6 169.3h4.6v4.6h-4.6z"/>
<path fill="#d00a0a" d="M1279.6 169.3h4.6v4.6h-4.6z"/>
<path fill="#cf0a0a" d="M1283.6 169.3h4.6v4.6h-4.6z"/>
<path fill="#ce0a0a" d="M1287.6 169.3h4.6v4.6h-4.6z"/>
<path fill="#cb0a0a" d="M1291.6 169.3h4.6v4.6h-4.6z"/>
<path fill="#c90a0a" d="M1295.6 169.3h4.6v4.6h-4.6z"/>
<path fill="#c70a0a" d="M1299.6 169.3h4.6v4.6h-4.6z"/>
<path fill="#c60a0a" d="M1303.6 169.3h4.6v4.6h-4.6z"/>
<path fill="#c50a0a" d="M1307.6 169.3h4.6v4.6h-4.6z"/>
<path fill="#c50a0a" d="M1311.6 169.3h4.6v4.6h-4.6z"/>
<path fill="#c40a0a" d="M1315.6 169.3h4.6v4.6h-4.6z"/>
<path fill="#c30a0a" d="M1319.6 169.3h4.6v4.6h-4.6z"/>
<path fill="#c20a0a" d="M1323.6 169.3h4.6v4.6h-4.6z"/>
<path fill="#c00a0a" d="M1327.6 169.3h4.6v4.6h-4.6z"/>
<path fill="#c50a0a" d="M1191.6 173.3h4.6v4.6h-4.6z"/>
<path fill="#c70a0a" d="M1195.6 173.3h4.6v4.6h-4.6z"/>
<path fill="#c80a0a" d="M1199.6 173.3h4.6v4.6h-4.6z"/>
<path fill="#ca0a0a" d="M1203.6 173.3h4.6v4.6h-4.6z"/>
<path fill="#cb0a0a" d="M1207.6 173.3h4.6v4.6h-4.6z"/>
<path fill="#cc0a0a" d="M1211.6 173.3h4.6v4.6h-4.6z"/>
<path fill="#cc0a0a" d="M1215.6 173.3h4.6v4.6h-4.6z"/>
<path fill="#cb0a0a" d="M1219.6 173.3h4.6v4.6h-4.6z"/>
<path fill="#c90a0a" d="M1223.6 173.3h4.6v4.6h-4.6z"/>
<path fill="#c90a0a" d="M1227.6 173.3h4.6v4.6h-4.6z"/>
<path fill="#c90a0a" d="M1231.6 173.3h4.6v4.6h-4.6z"/>
<path fill="#c90a0a" d="M1235.6 173.3h4.6v4.6h-4.6z"/>
<path fill="#cb0a0a" d="M1239.6 173.3h4.6v4.6h-4.6z"/>
<path fill="#cc0a0a" d="M1243.6 173.3h4.6v4.6h-4.6z"/>
<path fill="#cc0a0a" d="M1247.6 173.3h4.6v4.6h-4.6z"/>
<path fill="#cd0a0a" d="M1251.6 173.3h4.6v4.6h-4.6z"/>
<path fill="#ce0a0a" d="M1255.6 173.3h4.6v4.6h-4.6z"/>
<path fill="#d00a0a" d="M1259.6 173.3h4.6v4.6h-4.6z"/>
<path fill="#d30a0a" d="M1263.6 173.3h4.6v4.6h-4.6z"/>
<path fill="#d60a0a" d="M1267.6 173.3h4.6v4.6h-4.6z"/>
<path fill="#d90a0a" d="M1271.6 173.3h4.6v4.6h-4.6z"/>
<path fill="#da0a0a" d="M1275.6 173.3h4.6v4.6h-4.6z"/>
<path fill="#db0a0a" d="M1279.6 173.3h4.6v4.6h-4.6z"/>
<path fill="#da0a0a" d="M1283.6 173.3h4.6v4.6h-4.6z"/>
<path fill="#d70a0a" d="M1287.6 173.3h4.6v4.6h-4.6z"/>
<path fill="#d50a0a" d="M1291.6 173.3h4.6v4.6h-4.6z"/>
<path fill="#d20a0a" d="M1295.6 173.3h4.6v4.6h-4.6z"/>
<path fill="#cf0a0a" d="M1299.6 173.3h4.6v4.6h-4.6z"/>
<path fill="#cd0a0a" d="M1303.6 173.3h4.6v4.6h-4.6z"/>
<path fill="#cb0a0a" d="M1307.6 173.3h4.6v4.6h-4.6z"/>
<path fill="#ca0a0a" d="M1311.6 173.3h4.6v4.6h-4.6z"/>
<path fill="#c80a0a" d="M1315.6 173.3h4.6v4.6h-4.6z"/>
<path fill="#c70a0a" d="M1319.6 173.3h4.6v4.6h-4.6z"/>
<path fill="#c50a0a" d="M1323.6 173.3h4.6v4.6h-4.6z"/>
<path fill="#c90a0a" d="M1195.6 177.3h4.6v4.6h-4.6z"/>
<path fill="#cb0a0a" d="M1199.6 177.3h4.6v4.6h-4.6z"/>
<path fill="#cd0a0a" d="M1203.6 177.3h4.6v4.6h-4.6z"/>
<path fill="#ce0a0a" d="M1207.6 177.3h4.6v4.6h-4.6z"/>
<path fill="#cf0a0a" d="M1211.6 177.3h4.6v4.6h-4.6z"/>
<path fill="#cf0a0a" d="M1215.6 177.3h4.6v4.6h-4.6z"/>
<path fill="#cf0a0a" d="M1219.6 177.3h4.6v4.6h-4.6z"/>
<path fill="#ce0a0a" d="M1223.6 177.3h4.6v4.6h-4.6z"/>
<path fill="#cd0a0a" d="M1227.6 177.3h4.6v4.6h-4.6z"/>
<path fill="#cd0a0a" d="M1231.6 177.3h4.6v4.6h-4.6z"/>
<path fill="#ce0a0a" d="M1235.6 177.3h4.6v4.6h-4.6z"/>
<path fill="#cf0a0a" d="M1239.6 177.3h4.6v4.6h-4.6z"/>
<path fill="#cf0a0a" d="M1243.6 177.3h4.6v4.6h-4.6z"/>
<path fill="#d00a0a" d="M1247.6 177.3h4.6v4.6h-4.6z"/>
<path fill="#d10a0a" d="M1251.6 177.3h4.6v4.6h-4.6z"/>
<path fill="#d20a0a" d="M1255.6 177.3h4.6v4.6h-4.6z"/>
<path fill="#d50a0a" d="M1259.6 177.3h4.6v4.6h-4.6z"/>
<path fill="#d90a0a" d="M1263.6 177.3h4.6v4.6h-4.6z"/>
<path fill="#dd0a0a" d="M1267.6 177.3h4.6v4.6h-4.6z"/>
<path fill="#e10a0a" d="M1271.6 177.3h4.6v4.6h-4.6z"/>
<path fill="#e40a0a" d="M1275.6 177.3h4.6v4.6h-4.6z"/>
<path fill="#e50a0a" d="M1279.6 177.3h4.6v4.6h-4.6z"/>
<path fill="#e40a0a" d="M1283.6 177.3h4.6v4.6h-4.6z"/>
<path fill="#e10a0a" d="M1287.6 177.3h4.6v4.6h-4.6z"/>
<path fill="#de0a0a" d="M1291.6 177.3h4.6v4.6h-4.6z"/>
<path fill="#da0a0a" d="M1295.6 177.3h4.6v4.6h-4.6z"/>
<path fill="#d70a0a" d="M1299.6 177.3h4.6v4.6h-4.6z"/>
<path fill="#d40a0a" d="M1303.6 177.3h4.6v4.6h-4.6z"/>
<path fill="#d10a0a" d="M1307.6 177.3h4.6v4.6h-4.6z"/>
<path fill="#cf0a0a" d="M1311.6 177.3h4.6v4.6h-4.6z"/>
<path fill="#cd0a0a" d="M1315.6 177.3h4.6v4.6h-4.6z"/>
<path fill="#cb0a0a" d="M1319.6 177.3h4.6v4.6h-4.6z"/>
<path fill="#cb0a0a" d="M1195.6 181.3h4.6v4.6h-4.6z"/>
<path fill="#cd0a0a" d="M1199.6 181.3h4.6v4.6h-4.6z"/>
<path fill="#cf0a0a" d="M1203.6 181.3h4.6v4.6h-4.6z"/>
<path fill="#d00a0a" d="M1207.6 181.3h4.6v4.6h-4.6z"/>
<path fill="#d10a0a" d="M1211.6 181.3h4.6v4.6h-4.6z"/>
<path fill="#d20a0a" d="M1215.6 181.3h4.6v4.6h-4.6z"/>
<path fill="#d10a0a" d="M1219.6 181.3h4.6v4.6h-4.6z"/>
<path fill="#d10a0a" d="M1223.6 181.3h4.6v4.6h-4.6z"/>
<path fill="#d10a0a" d="M1227.6 181.3h4.6v4.6h-4.6z"/>
<path fill="#d00a0a" d="M1231.6 181.3h4.6v4.6h-4.6z"/>
<path fill="#d00a0a" d="M1235.6 181.3h4.6v4.6h-4.6z"/>
<path fill="#d10a0a" d="M1239.6 181.3h4.6v4.6h-4.6z"/>
<path fill="#d10a0a" d="M1243.6 181.3h4.6v4.6h-4.6z"/>
<path fill="#d20a0a" d="M1247.6 181.3h4.6v4.6h-4.6z"/>
<path fill="#d30a0a" d="M1251.6 181.3h4.6v4.6h-4.6z"/>
<path fill="#d50a0a" d="M1255.6 181.3h4.6v4.6h-4.6z"/>
<path fill="#d80a0a" d="M1259.6 181.3h4.6v4.6h-4.6z"/>
<path fill="#dd0a0a" d="M1263.6 181.3h4.6v4.6h-4.6z"/>
<path fill="#e30a0a" d="M1267.6 181.3h4.6v4.6h-4.6z"/>
<path fill="#e80a0a" d="M1271.6 181.3h4.6v4.6h-4.6z"/>
<path fill="#ec0a0a" d="M1275.6 181.3h4.6v4.6h-4.6z"/>
<path fill="#ee0a0a" d="M1279.6 181.3h4.6v4.6h-4.6z"/>
<path fill="#ed0a0a" d="M1283.6 181.3h4.6v4.6h-4.6z"/>
<path fill="#eb0a0a" d="M1287.6 181.3h4.6v4.6h-4.6z"/>
<path fill="#e70a0a" d="M1291.6 181.3h4.6v4.6h-4.6z"/>
<path fill="#e30a0a" d="M1295.6 181.3h4.6v4.6h-4.6z"/>
<path fill="#df0a0a" d="M1299.6 181.3h4.6v4.6h-4.6z"/>
<path fill="#db0a0a" d="M1303.6 181.3h4.6v4.6h-4.6z"/>
<path fill="#d70a0a" d="M1307.6 181.3h4.6v4.6h-4.6z"/>
<path fill="#d40a0a" d="M1311.6 181.3h4.6v4.6h-4.6z"/>
<path fill="#d10a0a" d="M1315.6 181.3h4.6v4.6h-4.6z"/>
<path fill="#ce0a0a" d="M1319.6 181.3h4.6v4.6h-4.6z"/>
<path fill="#ce0a0a" d="M1199.6 185.3h4.6v4.6h-4.6z"/>
<path fill="#d00a0a" d="M1203.6 185.3h4.6v4.6h-4.6z"/>
<path fill="#d10a0a" d="M1207.6 185.3h4.6v4.6h-4.6z"/>
<path fill="#d20a0a" d="M1211.6 185.3h4.6v4.6h-4.6z"/>
<path fill="#d30a0a" d="M1215.6 185.3h4.6v4.6h-4.6z"/>
<path fill="#d30a0a" d="M1219.6 185.3h4.6v4.6h-4.6z"/>
<path fill="#d30a0a" d="M1223.6 185.3h4.6v4.6h-4.6z"/>
<path fill="#d20a0a" d="M1227.6 185.3h4.6v4.6h-4.6z"/>
<path fill="#d20a0a" d="M1231.6 185.3h4.6v4.6h-4.6z"/>
<path fill="#d20a0a" d="M1235.6 185.3h4.6v4.6h-4.6z"/>
<path fill="#d20a0a" d="M1239.6 185.3h4.6v4.6h-4.6z"/>
<path fill="#d20a0a" d="M1243.6 185.3h4.6v4.6h-4.6z"/>
<path fill="#d20a0a" d="M1247.6 185.3h4.6v4.6h-4.6z"/>
<path fill="#d30a0a" d="M1251.6 185.3h4.6v4.6h-4.6z"/>
<path fill="#d60a0a" d="M1255.6 185.3h4.6v4.6h-4.6z"/>
<path fill="#da0a0a" d="M1259.6 185.3h4.6v4.6h-4.6z"/>
<path fill="#e00a0a" d="M1263.6 185.3h4.6v4.6h-4.6z"/>
<path fill="#e60a0a" d="M1267.6 185.3h4.6v4.6h-4.6z"/>
<path fill="#ed0a0a" d="M1271.6 185.3h4.6v4.6h-4.6z"/>
<path fill="#f30a0a" d="M1275.6 185.3h4.6v4.6h-4.6z"/>
<path fill="#f60a0a" d="M1279.6 185.3h4.6v4.6h-4.6z"/>
<path fill="#f50a0a" d="M1283.6 185.3h4.6v4.6h-4.6z"/>
<path fill="#f20a0a" d="M1287.6 185.3h4.6v4.6h-4.6z"/>
<path fill="#ee0a0a" d="M1291.6 185.3h4.6v4.6h-4.6z"/>
<path fill="#ea0a0a" d="M1295.6 185.3h4.6v4.6h-4.6z"/>
<path fill="#e50a0a" d="M1299.6 185.3h4.6v4.6h-4.6z"/>
<path fill="#e10a0a" d="M1303.6 185.3h4.6v4.6h-4.6z"/>
<path fill="#dd0a0a" d="M1307.6 185.3h4.6v4.6h-4.6z"/>
<path fill="#d90a0a" d="M1311.6 185.3h4.6v4.6h-4.6z"/>
<path fill="#d60a0a" d="M1315.6 185.3h4.6v4.6h-4.6z"/>
<path fill="#d10a0a" d="M1203.6 189.3h4.6v4.6h-4.6z"/>
<path fill="#d20a0a" d="M1207.6 189.3h4.6v4.6h-4.6z"/>
<path fill="#d30a0a" d="M1211.6 189.3h4.6v4.6h-4.6z"/>
<path fill="#d40a0a" d="M1215.6 189.3h4.6v4.6h-4.6z"/>
<path fill="#d40a0a" d="M1219.6 189.3h4.6v4.6h-4.6z"/>
<path fill="#d40a0a" d="M1223.6 189.3h4.6v4.6h-4.6z"/>
<path fill="#d30a0a" d="M1227.6 189.3h4.6v4.6h-4.6z"/>
<path fill="#d30a0a" d="M1231.6 189.3h4.6v4.6h-4.6z"/>
<path fill="#d30a0a" d="M1235.6 189.3h4.6v4.6h-4.6z"/>
<path fill="#d20a0a" d="M1239.6 189.3h4.6v4.6h-4.6z"/>
<path fill="#d20a0a" d="M1243.6 189.3h4.6v4.6h-4.6z"/>
<path fill="#d20a0a" d="M1247.6 189.3h4.6v4.6h-4.6z"/>
<path fill="#d30a0a" d="M1251.6 189.3h4.6v4.6h-4.6z"/>
<path fill="#d50a0a" d="M1255.6 189.3h4.6v4.6h-4.6z"/>
<path fill="#da0a0a" d="M1259.6 189.3h4.6v4.6h-4.6z"/>
<path fill="#e00a0a" d="M1263.6 189.3h4.6v4.6h-4.6z"/>
<path fill="#e80a0a" d="M1267.6 189.3h4.6v4.6h-4.6z"/>
<path fill="#f00a0a" d="M1271.6 189.3h4.6v4.6h-4.6z"/>
<path fill="#f60a0a" d="M1275.6 189.3h4.6v4.6h-4.6z"/>
<path fill="#fa0a0a" d="M1279.6 189.3h4.6v4.6h-4.6z"/>
<path fill="#fa0a0a" d="M1283.6 189.3h4.6v4.6h-4.6z"/>
<path fill="#f70a0a" d="M1287.6 189.3h4.6v4.6h-4.6z"/>
<path fill="#f30a0a" d="M1291.6 189.3h4.6v4.6h-4.6z"/>
<path fill="#ef0a0a" d="M1295.6 189.3h4.6v4.6h-4.6z"/>
<path fill="#ea0a0a" d="M1299.6 189.3h4.6v4.6h-4.6z"/>
<path fill="#e60a0a" d="M1303.6 189.3h4.6v4.6h-4.6z"/>
<path fill="#e10a0a" d="M1307.6 189.3h4.6v4.6h-4.6z"/>
<path fill="#dd0a0a" d="M1311.6 189.3h4.6v4.6h-4.6z"/>
<path fill="#d20a0a" d="M1207.6 193.3h4.6v4.6h-4.6z"/>
<path fill="#d30a0a" d="M1211.6 193.3h4.6v4.6h-4.6z"/>
<path fill="#d40a0a" d="M1215.6 193.3h4.6v4.6h-4.6z"/>
<path fill="#d40a0a" d="M1219.6 193.3h4.6v4.6h-4.6z"/>
<path fill="#d40a0a" d="M1223.6 193.3h4.6v4.6h-4.6z"/>
<path fill="#d30a0a" d="M1227.6 193.3h4.6v4.6h-4.6z"/>
<path fill="#d30a0a" d="M1231.6 193.3h4.6v4.6h-4.6z"/>
<path fill="#d20a0a" d="M1235.6 193.3h4.6v4.6h-4.6z"/>
<path fill="#d20a0a" d="M1239.6 193.3h4.6v4.6h-4.6z"/>
<path fill="#d10a0a" d="M1243.6 193.3h4.6v4.6h-4.6z"/>
<path fill="#d10a0a" d="M1247.6 193.3h4.6v4.6h-4.6z"/>
<path fill="#d10a0a" d="M1251.6 193.3h4.6v4.6h-4.6z"/>
<path fill="#d40a0a" d="M1255.6 193.3h4.6v4.6h-4.6z"/>
<path fill="#d80a0a" d="M1259.6 193.3h4.6v4.6h-4.6z"/>
<path fill="#df0a0a" d="M1263.6 193.3h4.6v4.6h-4.6z"/>
<path fill="#e70a0a" d="M1267.6 193.3h4.6v4.6h-4.6z"/>
<path fill="#ef0a0a" d="M1271.6 193.3h4.6v4.6h-4.6z"/>
<path fill="#f60a0a" d="M1275.6 193.3h4.6v4.6h-4.6z"/>
<path fill="#fa0a0a" d="M1279.6 193.3h4.6v4.6h-4.6z"/>
<path fill="#fb0a0a" d="M1283.6 193.3h4.6v4.6h-4.6z"/>
<path fill="#f90a0a" d="M1287.6 193.3h4.6v4.6h-4.6z"/>
<path fill="#f60a0a" d="M1291.6 193.3h4.6v4.6h-4.6z"/>
<path fill="#f20a0a" d="M1295.6 193.3h4.6v4.6h-4.6z"/>
<path fill="#ee0a0a" d="M1299.6 193.3h4.6v4.6h-4.6z"/>
<path fill="#e90a0a" d="M1303.6 193.3h4.6v4.6h-4.6z"/>
<path fill="#e50a0a" d="M1307.6 193.3h4.6v4.6h-4.6z"/>
<path fill="#d30a0a" d="M1215.6 197.3h4.6v4.6h-4.6z"/>
<path fill="#d30a0a" d="M1219.6 197.3h4.6v4.6h-4.6z"/>
<path fill="#d30a0a" d="M1223.6 197.3h4.6v4.6h-4.6z"/>
<path fill="#d30a0a" d="M1227.6 197.3h4.6v4.6h-4.6z"/>
<path fill="#d20a0a" d="M1231.6 197.3h4.6v4.6h-4.6z"/>
<path fill="#d20a0a" d="M1235.6 197.3h4.6v4.6h-4.6z"/>
<path fill="#d10a0a" d="M1239.6 197.3h4.6v4.6h-4.6z"/>
<path fill="#d00a0a" d="M1243.6 197.3h4.6v4.6h-4.6z"/>
<path fill="#cf0a0a" d="M1247.6 197.3h4.6v4.6h-4.6z"/>
<path fill="#d00a0a" d="M1251.6 197.3h4.6v4.6h-4.6z"/>
<path fill="#d10a0a" d="M1255.6 197.3h4.6v4.6h-4.6z"/>
<path fill="#d60a0a" d="M1259.6 197.3h4.6v4.6h-4.6z"/>
<path fill="#dd0a0a" d="M1263.6 197.3h4.6v4.6h-4.6z"/>
<path fill="#e60a0a" d="M1267.6 197.3h4.6v4.6h-4.6z"/>
<path fill="#ed0a0a" d="M1271.6 197.3h4.6v4.6h-4.6z"/>
<path fill="#f40a0a" d="M1275.6 197.3h4.6v4.6h-4.6z"/>
<path fill="#f80a0a" d="M1279.6 197.3h4.6v4.6h-4.6z"/>
<path fill="#fa0a0a" d="M1283.6 197.3h4.6v4.6h-4.6z"/>
<path fill="#f90a0a" d="M1287.6 197.3h4.6v4.6h-4.6z"/>
<path fill="#f70a0a" d="M1291.6 197.3h4.6v4.6h-4.6z"/>
<path fill="#f40a0a" d="M1295.6 197.3h4.6v4.6h-4.6z"/>
<path fill="#f00a0a" d="M1299.6 197.3h4.6v4.6h-4.6z"/>
<path fill="#d30a0a" d="M1219.6 201.3h4.6v4.6h-4.6z"/>
<path fill="#d30a0a" d="M1223.6 201.3h4.6v4.6h-4.6z"/>
<path fill="#d20a0a" d="M1227.6 201.3h4.6v4.6h-4.6z"/>
<path fill="#d20a0a" d="M1231.6 201.3h4.6v4.6h-4.6z"/>
<path fill="#d10a0a" d="M1235.6 201.3h4.6v4.6h-4.6z"/>
<path fill="#d00a0a" d="M1239.6 201.3h4.6v4.6h-4.6z"/>
<path fill="#cf0a0a" d="M1243.6 201.3h4.6v4.6h-4.6z"/>
<path fill="#cf0a0a" d="M1247.6 201.3h4.6v4.6h-4.6z"/>
<path fill="#cf0a0a" d="M1251.6 201.3h4.6v4.6h-4.6z"/>
<path fill="#d10a0a" d="M1255.6 201.3h4.6v4.6h-4.6z"/>
<path fill="#d50a0a" d="M1259.6 201.3h4.6v4.6h-4.6z"/>
<path fill="#dc0a0a" d="M1263.6 201.3h4.6v4.6h-4.6z"/>
<path fill="#e40a0a" d="M1267.6 201.3h4.6v4.6h-4.6z"/>
<path fill="#eb0a0a" d="M1271.6 201.3h4.6v4.6h-4.6z"/>
<path fill="#f10a0a" d="M1275.6 201.3h4.6v4.6h-4.6z"/>
<path fill="#f60a0a" d="M1279.6 201.3h4.6v4.6h-4.6z"/>
<path fill="#f80a0a" d="M1283.6 201.3h4.6v4.6h-4.6z"/>
<path fill="#f80a0a" d="M1287.6 201.3h4.6v4.6h-4.6z"/>
<path fill="#f70a0a" d="M1291.6 201.3h4.6v4.6h-4.6z"/>
<path fill="#f40a0a" d="M1295.6 201.3h4.6v4.6h-4.6z"/>
<path fill="#d10a0a" d="M1227.6 205.3h4.6v4.6h-4.6z"/>
<path fill="#d10a0a" d="M1231.6 205.3h4.6v4.6h-4.6z"/>
<path fill="#d00a0a" d="M1235.6 205.3h4.6v4.6h-4.6z"/>
<path fill="#cf0a0a" d="M1239.6 205.3h4.6v4.6h-4.6z"/>
<path fill="#cf0a0a" d="M1243.6 205.3h4.6v4.6h-4.6z"/>
<path fill="#cf0a0a" d="M1247.6 205.3h4.6v4.6h-4.6z"/>
<path fill="#cf0a0a" d="M1251.6 205.3h4.6v4.6h-4.6z"/>
<path fill="#d10a0a" d="M1255.6 205.3h4.6v4.6h-4.6z"/>
<path fill="#d60a0a" d="M1259.6 205.3h4.6v4.6h-4.6z"/>
<path fill="#db0a0a" d="M1263.6 205.3h4.6v4.6h-4.6z"/>
<path fill="#e20a0a" d="M1267.6 205.3h4.6v4.6h-4.6z"/>
<path fill="#e90a0a" d="M1271.6 205.3h4.6v4.6h-4.6z"/>
<path fill="#ef0a0a" d="M1275.6 205.3h4.6v4.6h-4.6z"/>
<path fill="#f30a0a" d="M1279.6 205.3h4.6v4.6h-4.6z"/>
<path fill="#f50a0a" d="M1283.6 205.3h4.6v4.6h-4.6z"/>
<path fill="#f60a0a" d="M1287.6 205.3h4.6v4.6h-4.6z"/>
<path fill="#cf0a0a" d="M1239.6 209.3h4.6v4.6h-4.6z"/>
<path fill="#cf0a0a" d="M1243.6 209.3h4.6v4.6h-4.6z"/>
<path fill="#cf0a0a" d="M1247.6 209.3h4.6v4.6h-4.6z"/>
<path fill="#d00a0a" d="M1251.6 209.3h4.6v4.6h-4.6z"/>
<path fill="#d20a0a" d="M1255.6 209.3h4.6v4.6h-4.6z"/>
<path fill="#d60a0a" d="M1259.6 209.3h4.6v4.6h-4.6z"/>
<path fill="#db0a0a" d="M1263.6 209.3h4.6v4.6h-4.6z"/>
<path fill="#e10a0a" d="M1267.6 209.3h4.6v4.6h-4.6z"/>
<path fill="#e70a0a" d="M1271.6 209.3h4.6v4.6h-4.6z"/>
<path fill="#ec0a0a" d="M1275.6 209.3h4.6v4.6h-4.6z"/>
</g></g>
<path d="M1226.2 68.1 1225.9 69 1225.6 70.9 1225.6 72.7 1225.8 74.6 1226.1 75.5 1226.7 77.4 1227.1 78.3 1227.9 79.8 1228.7 81.1 1229.4 82 1230.1 83 1230.9 83.9 1231.8 84.8 1232.8 85.8 1234 86.7 1235.3 87.6 1236.3 88.3 1237.2 88.9 1238.3 89.5 1240 90.4 1241 90.9 1241.9 91.4 1243.8 92.2 1244.7 92.6 1246.6 93.2 1247.5 93.4 1249.3 93.8 1251.2 94.1 1252.1 94.3 1254 94.4 1255.9 94.3 1257.5 94.2 1258.7 93.9 1260.5 93.4 1261.5 93.1 1263.1 92.3 1264.3 91.6 1265.2 90.8 1266.1 90 1267.1 88.8 1267.8 87.6 1268.2 86.7 1268.9 84.8 1269.1 83.9 1269.5 82 1269.7 80.2 1269.9 78.7 1270 77.4 1270.2 75.5 1270.5 73.7 1270.8 72.6 1271.3 70.9 1271.7 69.6 1272.4 68.1 1272.8 67.1 1273.6 65.8 1274.4 64.3 1274.8 63.4 1275.4 61.5M1216.1 74.6 1216.4 76.5 1216.7 77.8 1217.3 79.3 1217.7 80.2 1218.5 82 1219 83 1219.5 83.9 1220.5 85.5 1221.2 86.7 1221.9 87.6 1222.6 88.6 1223.4 89.5 1224.3 90.4 1225.2 91.4 1226.3 92.3 1227.4 93.2 1228.5 94.2 1229.8 95.1 1230.7 95.8 1231.6 96.4 1232.6 97 1234.1 97.9 1235.4 98.6 1236.3 99.1 1237.7 99.8 1239.1 100.3 1240 100.7 1241.9 101.4 1242.8 101.7 1244.7 102.4 1245.6 102.7 1247.5 103.2 1248.9 103.5 1250.3 103.7 1252.1 104 1254 104.1 1255.9 104.2 1257.7 104.2 1259.6 104 1261.5 103.9 1263.3 103.6 1264.3 103.5 1266.1 103.1 1268 102.8 1269 102.5 1270.8 102.1 1272.6 101.7 1273.6 101.4 1275.4 100.7 1276.4 100.2 1277.4 99.8 1279.1 98.8 1280.1 98.2 1281 97.6 1282 96.9 1283.1 96 1284.2 95.1 1285.1 94.2 1285.8 93.2 1286.6 91.4 1286.4 89.5 1285.7 87.8 1285 86.7 1284.4 85.8 1283.8 84.8 1282.9 83.4 1282.2 82 1281.8 81.1 1281.2 79.3 1281 78.3 1280.8 76.5 1280.7 74.6 1280.9 72.7 1281.1 71.8 1281.8 69.9 1282.4 69 1283.2 68.1 1284.2 67.1 1285.3 66.2 1286.6 65.3M1211 79.3 1211.2 80.2 1211.8 82 1212.2 83 1212.8 84.8 1213.1 85.8 1213.6 87.6 1213.9 88.7 1214.5 90.4 1214.9 91.6 1215.5 93.2 1215.9 94.2 1216.7 95.7 1217.6 97 1218.5 97.9 1219.5 98.7 1220.5 99.4 1221.4 100.1 1222.3 100.8 1223.5 101.6 1224.8 102.5 1226.1 103.4 1227 104 1227.9 104.6 1229.1 105.3 1230.7 106.3 1231.6 106.8 1232.6 107.4 1234 108.1 1235.4 108.8 1236.3 109.3 1238 110 1239.1 110.4 1240.7 110.9 1241.9 111.3 1243.8 111.7 1244.7 111.9 1246.6 112.2 1248.4 112.5 1250.3 112.6 1252.1 112.7 1254 112.7 1255.9 112.7 1257.7 112.6 1259.6 112.5 1261.5 112.4 1263.3 112.2 1265.2 111.9 1266.1 111.8 1268 111.5 1269.9 111.1 1270.8 110.9 1272.6 110.6 1274.5 110.3 1276.3 110 1277.3 109.8 1279.2 109.4 1280.4 109.1 1282 108.6 1283.3 108.1 1284.8 107.5 1285.7 107.1 1287.4 106.3 1288.5 105.7 1289.4 105.2 1290.8 104.4 1292.2 103.5 1293.1 102.9 1294.1 102.3 1295.2 101.6 1296.7 100.7 1297.8 99.9 1298.7 99.2 1299.7 98.3 1300.6 97.1 1301.3 96 1301.8 95.1 1302.5 93.7 1303.1 92.3 1303.5 91.4 1304.3 89.6 1304.8 88.6 1305.3 87.6 1306 85.8 1306.3 84.8 1306.6 83 1306.9 81.1 1307.1 79.6 1307.4 78.3M1206.3 83.9 1206.5 84.8 1207 86.7 1207.3 88.6 1207.4 89.5 1207.6 91.4 1207.8 93.2 1207.9 95.1 1208.1 97 1208.3 98.8 1208.5 99.8 1209.1 101.6 1209.5 102.5 1210.2 103.5 1211.3 104.4 1212.8 105.3 1213.9 106 1214.9 106.5 1216.2 107.2 1217.7 108.1 1218.6 108.7 1219.5 109.3 1220.5 110 1221.8 110.9 1223.1 111.9 1224.2 112.7 1225.1 113.4 1226.1 114.1 1227 114.7 1228.3 115.6 1229.6 116.5 1230.7 117.3 1231.6 117.8 1232.8 118.4 1234.4 119 1235.4 119.3 1237.2 119.9 1239 120.3 1240 120.4 1241.9 120.7 1243.8 121 1245.6 121.2 1246.6 121.2 1248.4 121.4 1250.3 121.4 1252.1 121.4 1254 121.4 1255.9 121.3 1257 121.2 1258.7 121.1 1260.5 120.9 1262.4 120.7 1264.3 120.5 1266.1 120.3 1267.1 120.2 1268.9 120 1270.8 119.7 1272.6 119.5 1274.5 119.3 1275.4 119.2 1277.3 119 1279.2 118.7 1281 118.4 1282 118.2 1283.8 117.7 1284.8 117.4 1286.6 116.6 1287.6 116.2 1288.7 115.6 1290.4 114.7 1291.3 114.2 1292.2 113.6 1293.6 112.8 1295 112 1295.9 111.5 1297 110.9 1298.7 110.1 1299.7 109.7 1301.1 109.1 1302.5 108.6 1303.9 108.1 1305.3 107.7 1307.1 107.3 1308.1 107 1309.9 106.5 1310.9 106 1311.8 104.9 1312.3 103.5 1312.2 101.6 1311.8 100.4 1311.1 98.8 1310.7 97.9 1309.9 96.1 1309.6 95.1 1309.3 93.2 1309.3 91.4 1309.7 89.5 1310 88.6 1310.7 86.7 1311 85.8 1311.6 83.9 1311.9 83M1200.9 90.4 1201 91.4 1201.3 93.2 1201.4 95.1 1201.6 97 1201.8 98.1 1202.2 99.8 1202.8 101.5 1203.2 102.5 1203.7 103.5 1204.6 104.9 1205.6 106 1206.5 106.9 1207.4 107.7 1208.3 108.4 1209.3 109.1 1210.6 110 1211.8 110.9 1213 111.9 1213.9 112.7 1214.9 113.6 1215.8 114.5 1216.7 115.6 1217.4 116.5 1218.1 117.5 1218.7 118.4 1219.5 119.7 1220.4 121.2 1221 122.1 1221.6 123 1222.3 124.1 1223.3 125.1 1224.2 125.8 1226.1 126.6 1227 126.9 1228.8 127.4 1230.4 127.7 1231.6 127.9 1233.5 128.2 1235.4 128.4 1237.2 128.6 1238.2 128.7 1240 128.9 1241.9 129.1 1243.8 129.2 1245.6 129.4 1247.5 129.5 1249 129.6 1250.3 129.6 1252.1 129.7 1254 129.7 1255.9 129.6 1256.8 129.5 1258.7 129.3 1260.5 129 1262.4 128.7 1263.3 128.6 1265.2 128.4 1267.1 128.2 1268.9 128.1 1270.8 128 1272.6 127.9 1274.5 127.8 1275.5 127.7 1277.3 127.6 1279.2 127.5 1281 127.3 1282.9 127 1284.3 126.8 1285.7 126.5 1287.6 125.9 1288.5 125.5 1289.6 124.9 1290.9 124 1292.1 123 1293.1 122.2 1294.1 121.4 1295 120.6 1295.9 119.9 1296.9 119.1 1297.8 118.4 1299.1 117.5 1300.5 116.5 1301.5 115.9 1302.5 115.3 1303.7 114.7 1305.3 113.9 1306.2 113.6 1308.1 112.9 1309 112.7 1310.9 112.2 1312.7 111.9 1313.6 111.8 1315.5 111.5 1317.4 111.2 1318.3 110.8 1319.4 110 1320.1 108.1 1320.2 107.2 1320.3 105.3 1320.3 103.5 1320.3 101.6 1320.3 99.8 1320.2 98.8 1319.7 97 1319.2 96 1318.3 94.9 1317.3 94.2 1315.9 93.2 1314.8 92.3 1314 91.4 1313.5 90.4 1313.6 88.6 1314.2 87.6 1314.9 86.7M1193.4 102.3 1194 103.5 1194.5 104.4 1195.3 105.8 1196.2 107 1197.2 108.1 1198.1 108.9 1199 109.6 1200 110.3 1201.1 110.9 1202.8 111.8 1203.7 112.2 1204.8 112.8 1206.5 113.7 1207.4 114.4 1208.3 115.3 1209.3 116.5 1209.9 117.5 1210.5 118.4 1211.1 119.6 1212 121.2 1212.5 122.1 1213 123.1 1213.9 124.7 1214.7 125.8 1215.4 126.8 1216.2 127.7 1217.1 128.6 1218.1 129.6 1219.3 130.5 1220.5 131.3 1221.4 132 1222.3 132.5 1223.7 133.3 1225.1 134 1226.1 134.4 1227.9 135.1 1228.8 135.4 1230.7 136 1231.6 136.2 1233.5 136.6 1235.4 137 1236.3 137.1 1238.2 137.3 1240 137.5 1241.9 137.7 1243.8 137.8 1245.6 137.9 1247.5 138 1249.3 137.9 1251.2 137.9 1253.1 137.8 1254.9 137.6 1256.8 137.4 1258.7 137.2 1260.5 137.1 1261.5 137 1263.3 137 1265.2 137 1267.1 137 1268.9 137 1269.9 137 1271.7 137.1 1273.6 137 1274.5 137 1276.4 137 1278.2 136.9 1280.1 136.7 1282 136.4 1283.8 136.1 1284.8 135.9 1286.6 135.4 1287.6 135.1 1289.4 134.3 1290.4 133.9 1291.4 133.3 1292.9 132.4 1294.1 131.6 1295 130.9 1295.9 130.1 1296.9 129.4 1297.8 128.5 1298.7 127.7 1299.7 126.8 1300.7 125.8 1301.7 124.9 1302.6 124 1303.6 123 1304.6 122.1 1305.7 121.2 1306.9 120.3 1308.1 119.4 1309 118.8 1309.9 118.2 1311.5 117.5 1312.7 117.1 1314.6 117.1 1316.4 117.3 1318 117.5 1319.2 117.5 1320.2 117.4 1322 117 1323.1 116.5 1324.4 115.6 1325.3 114.7 1325.9 113.7 1326.7 112 1327 110.9 1327.2 109.1 1327.3 107.2 1327.2 105.3" fill="none" stroke="rgba(50,40,40,0.6)" stroke-width="0.9" clip-path="url(#cp1)"/>
<circle cx="1259.6" cy="133.3" r="71" fill="none" stroke="#111" stroke-width="1.5"/>
<path d="M1248.9 63 L1257.5 53.4 Q1259.6 50.9 1261.7 53.4 L1270.2 63" fill="none" stroke="#222" stroke-width="1.4" stroke-linejoin="round"/>
<path d="M1189.7 116.6C1189 116.6 1186.8 116.2 1185.8 116.6C1184.8 117 1184 117.5 1183.6 119.1C1183.2 120.7 1183.2 123.5 1183.3 126.2C1183.3 128.9 1184 132.5 1184 135.4C1184 138.4 1183.3 141.5 1183.3 144C1183.2 146.4 1183.1 148.9 1183.6 150.3C1184.2 151.8 1185.4 152.1 1186.5 152.5C1187.5 152.8 1189.4 152.5 1190 152.5" fill="none" stroke="#222" stroke-width="1.3"/>
<path d="M1329.5 116.6C1330.2 116.6 1332.4 116.2 1333.4 116.6C1334.4 117 1335.2 117.5 1335.6 119.1C1336 120.7 1336 123.5 1335.9 126.2C1335.9 128.9 1335.2 132.5 1335.2 135.4C1335.2 138.4 1335.9 141.5 1335.9 144C1336 146.4 1336.1 148.9 1335.6 150.3C1335 151.8 1333.8 152.1 1332.7 152.5C1331.7 152.8 1329.8 152.5 1329.2 152.5" fill="none" stroke="#222" stroke-width="1.3"/>
<circle cx="1237.7" cy="65.8" r="1.35" fill="#222"/>
<circle cx="1281.5" cy="65.8" r="1.35" fill="#222"/>
<circle cx="1202.2" cy="91.6" r="1.35" fill="#222"/>
<circle cx="1317" cy="91.6" r="1.35" fill="#222"/>
<circle cx="1188.6" cy="133.3" r="1.35" fill="#222"/>
<circle cx="1330.6" cy="133.3" r="1.35" fill="#222"/>
<circle cx="1202.2" cy="175" r="1.35" fill="#222"/>
<circle cx="1317" cy="175" r="1.35" fill="#222"/>
<circle cx="1237.7" cy="200.8" r="1.35" fill="#222"/>
<circle cx="1281.5" cy="200.8" r="1.35" fill="#222"/>
<circle cx="1290.9" cy="96.6" r="1.35" fill="#222"/>
<circle cx="1228.3" cy="96.6" r="1.35" fill="#222"/>
<circle cx="1313" cy="113.4" r="1.35" fill="#222"/>
<circle cx="1206.2" cy="113.4" r="1.35" fill="#222"/>
<circle cx="1277.6" cy="115.1" r="1.35" fill="#222"/>
<circle cx="1241.6" cy="115.1" r="1.35" fill="#222"/>
<circle cx="1297.9" cy="133.3" r="1.35" fill="#222"/>
<circle cx="1221.3" cy="133.3" r="1.35" fill="#222"/>
<circle cx="1313.7" cy="153.6" r="1.35" fill="#222"/>
<circle cx="1205.5" cy="153.6" r="1.35" fill="#222"/>
<circle cx="1277.3" cy="152.1" r="1.35" fill="#222"/>
<circle cx="1241.9" cy="152.1" r="1.35" fill="#222"/>
<circle cx="1291.3" cy="170.4" r="1.35" fill="#222"/>
<circle cx="1227.9" cy="170.4" r="1.35" fill="#222"/>
<circle cx="1282.9" cy="188.7" r="1.35" fill="#222"/>
<circle cx="1236.3" cy="188.7" r="1.35" fill="#222"/>
<circle cx="1259.6" cy="97.5" r="1.35" fill="#222"/>
<circle cx="1259.6" cy="133.3" r="1.35" fill="#222"/>
<circle cx="1259.6" cy="169.5" r="1.35" fill="#222"/>
<circle cx="578.8" cy="397" r="81.1" fill="url(#halo)"/>
<g clip-path="url(#cp2)"><g filter="url(#bl)" class="c">
<path fill="#faff0e" d="M562.8 317h4.6v4.6h-4.6z"/>
<path fill="#f0ff18" d="M566.8 317h4.6v4.6h-4.6z"/>
<path fill="#e8ff21" d="M570.8 317h4.6v4.6h-4.6z"/>
<path fill="#dfff29" d="M574.8 317h4.6v4.6h-4.6z"/>
<path fill="#d6ff32" d="M578.8 317h4.6v4.6h-4.6z"/>
<path fill="#cbff3d" d="M582.8 317h4.6v4.6h-4.6z"/>
<path fill="#beff4a" d="M586.8 317h4.6v4.6h-4.6z"/>
<path fill="#afff5a" d="M590.8 317h4.6v4.6h-4.6z"/>
<path fill="#ffdf0a" d="M550.8 321h4.6v4.6h-4.6z"/>
<path fill="#fff40a" d="M554.8 321h4.6v4.6h-4.6z"/>
<path fill="#fbff0e" d="M558.8 321h4.6v4.6h-4.6z"/>
<path fill="#f1ff17" d="M562.8 321h4.6v4.6h-4.6z"/>
<path fill="#eaff1e" d="M566.8 321h4.6v4.6h-4.6z"/>
<path fill="#e4ff24" d="M570.8 321h4.6v4.6h-4.6z"/>
<path fill="#deff2a" d="M574.8 321h4.6v4.6h-4.6z"/>
<path fill="#d6ff32" d="M578.8 321h4.6v4.6h-4.6z"/>
<path fill="#ccff3c" d="M582.8 321h4.6v4.6h-4.6z"/>
<path fill="#c0ff48" d="M586.8 321h4.6v4.6h-4.6z"/>
<path fill="#b1ff57" d="M590.8 321h4.6v4.6h-4.6z"/>
<path fill="#9fff69" d="M594.8 321h4.6v4.6h-4.6z"/>
<path fill="#8bff7d" d="M598.8 321h4.6v4.6h-4.6z"/>
<path fill="#75ff93" d="M602.8 321h4.6v4.6h-4.6z"/>
<path fill="#ff880a" d="M538.8 325h4.6v4.6h-4.6z"/>
<path fill="#ffb00a" d="M542.8 325h4.6v4.6h-4.6z"/>
<path fill="#ffd40a" d="M546.8 325h4.6v4.6h-4.6z"/>
<path fill="#ffef0a" d="M550.8 325h4.6v4.6h-4.6z"/>
<path fill="#faff0e" d="M554.8 325h4.6v4.6h-4.6z"/>
<path fill="#efff19" d="M558.8 325h4.6v4.6h-4.6z"/>
<path fill="#e8ff20" d="M562.8 325h4.6v4.6h-4.6z"/>
<path fill="#e5ff23" d="M566.8 325h4.6v4.6h-4.6z"/>
<path fill="#e2ff26" d="M570.8 325h4.6v4.6h-4.6z"/>
<path fill="#deff2a" d="M574.8 325h4.6v4.6h-4.6z"/>
<path fill="#d8ff30" d="M578.8 325h4.6v4.6h-4.6z"/>
<path fill="#cfff3a" d="M582.8 325h4.6v4.6h-4.6z"/>
<path fill="#c3ff46" d="M586.8 325h4.6v4.6h-4.6z"/>
<path fill="#b3ff55" d="M590.8 325h4.6v4.6h-4.6z"/>
<path fill="#a1ff67" d="M594.8 325h4.6v4.6h-4.6z"/>
<path fill="#8cff7c" d="M598.8 325h4.6v4.6h-4.6z"/>
<path fill="#75ff93" d="M602.8 325h4.6v4.6h-4.6z"/>
<path fill="#5effab" d="M606.8 325h4.6v4.6h-4.6z"/>
<path fill="#45ffc3" d="M610.8 325h4.6v4.6h-4.6z"/>
<path fill="#2cffdc" d="M614.8 325h4.6v4.6h-4.6z"/>
<path fill="#ff630a" d="M534.8 329h4.6v4.6h-4.6z"/>
<path fill="#ff910a" d="M538.8 329h4.6v4.6h-4.6z"/>
<path fill="#ffbd0a" d="M542.8 329h4.6v4.6h-4.6z"/>
<path fill="#ffe40a" d="M546.8 329h4.6v4.6h-4.6z"/>
<path fill="#fdff0b" d="M550.8 329h4.6v4.6h-4.6z"/>
<path fill="#ecff1c" d="M554.8 329h4.6v4.6h-4.6z"/>
<path fill="#e4ff24" d="M558.8 329h4.6v4.6h-4.6z"/>
<path fill="#e2ff26" d="M562.8 329h4.6v4.6h-4.6z"/>
<path fill="#e2ff26" d="M566.8 329h4.6v4.6h-4.6z"/>
<path fill="#e2ff26" d="M570.8 329h4.6v4.6h-4.6z"/>
<path fill="#e0ff28" d="M574.8 329h4.6v4.6h-4.6z"/>
<path fill="#dbff2d" d="M578.8 329h4.6v4.6h-4.6z"/>
<path fill="#d2ff37" d="M582.8 329h4.6v4.6h-4.6z"/>
<path fill="#c5ff43" d="M586.8 329h4.6v4.6h-4.6z"/>
<path fill="#b5ff53" d="M590.8 329h4.6v4.6h-4.6z"/>
<path fill="#a2ff66" d="M594.8 329h4.6v4.6h-4.6z"/>
<path fill="#8cff7d" d="M598.8 329h4.6v4.6h-4.6z"/>
<path fill="#74ff94" d="M602.8 329h4.6v4.6h-4.6z"/>
<path fill="#5dffac" d="M606.8 329h4.6v4.6h-4.6z"/>
<path fill="#44ffc4" d="M610.8 329h4.6v4.6h-4.6z"/>
<path fill="#2bffdd" d="M614.8 329h4.6v4.6h-4.6z"/>
<path fill="#12fff7" d="M618.8 329h4.6v4.6h-4.6z"/>
<path fill="#f60a0a" d="M526.8 333h4.6v4.6h-4.6z"/>
<path fill="#ff350a" d="M530.8 333h4.6v4.6h-4.6z"/>
<path fill="#ff680a" d="M534.8 333h4.6v4.6h-4.6z"/>
<path fill="#ff990a" d="M538.8 333h4.6v4.6h-4.6z"/>
<path fill="#ffc80a" d="M542.8 333h4.6v4.6h-4.6z"/>
<path fill="#fff50a" d="M546.8 333h4.6v4.6h-4.6z"/>
<path fill="#ebff1d" d="M550.8 333h4.6v4.6h-4.6z"/>
<path fill="#deff2a" d="M554.8 333h4.6v4.6h-4.6z"/>
<path fill="#dcff2c" d="M558.8 333h4.6v4.6h-4.6z"/>
<path fill="#deff2a" d="M562.8 333h4.6v4.6h-4.6z"/>
<path fill="#e2ff26" d="M566.8 333h4.6v4.6h-4.6z"/>
<path fill="#e5ff23" d="M570.8 333h4.6v4.6h-4.6z"/>
<path fill="#e4ff24" d="M574.8 333h4.6v4.6h-4.6z"/>
<path fill="#dfff29" d="M578.8 333h4.6v4.6h-4.6z"/>
<path fill="#d5ff33" d="M582.8 333h4.6v4.6h-4.6z"/>
<path fill="#c7ff41" d="M586.8 333h4.6v4.6h-4.6z"/>
<path fill="#b6ff53" d="M590.8 333h4.6v4.6h-4.6z"/>
<path fill="#a1ff67" d="M594.8 333h4.6v4.6h-4.6z"/>
<path fill="#8aff7e" d="M598.8 333h4.6v4.6h-4.6z"/>
<path fill="#72ff96" d="M602.8 333h4.6v4.6h-4.6z"/>
<path fill="#5bffad" d="M606.8 333h4.6v4.6h-4.6z"/>
<path fill="#43ffc6" d="M610.8 333h4.6v4.6h-4.6z"/>
<path fill="#2affde" d="M614.8 333h4.6v4.6h-4.6z"/>
<path fill="#10fff8" d="M618.8 333h4.6v4.6h-4.6z"/>
<path fill="#0aeaff" d="M622.8 333h4.6v4.6h-4.6z"/>
<path fill="#0ad0ff" d="M626.8 333h4.6v4.6h-4.6z"/>
<path fill="#c20a0a" d="M522.8 337h4.6v4.6h-4.6z"/>
<path fill="#f30a0a" d="M526.8 337h4.6v4.6h-4.6z"/>
<path fill="#ff340a" d="M530.8 337h4.6v4.6h-4.6z"/>
<path fill="#ff6b0a" d="M534.8 337h4.6v4.6h-4.6z"/>
<path fill="#ff9d0a" d="M538.8 337h4.6v4.6h-4.6z"/>
<path fill="#ffd20a" d="M542.8 337h4.6v4.6h-4.6z"/>
<path fill="#f4ff14" d="M546.8 337h4.6v4.6h-4.6z"/>
<path fill="#dbff2d" d="M550.8 337h4.6v4.6h-4.6z"/>
<path fill="#d5ff33" d="M554.8 337h4.6v4.6h-4.6z"/>
<path fill="#d8ff30" d="M558.8 337h4.6v4.6h-4.6z"/>
<path fill="#dfff29" d="M562.8 337h4.6v4.6h-4.6z"/>
<path fill="#e7ff22" d="M566.8 337h4.6v4.6h-4.6z"/>
<path fill="#ebff1d" d="M570.8 337h4.6v4.6h-4.6z"/>
<path fill="#ebff1d" d="M574.8 337h4.6v4.6h-4.6z"/>
<path fill="#e5ff23" d="M578.8 337h4.6v4.6h-4.6z"/>
<path fill="#daff2e" d="M582.8 337h4.6v4.6h-4.6z"/>
<path fill="#caff3e" d="M586.8 337h4.6v4.6h-4.6z"/>
<path fill="#b6ff53" d="M590.8 337h4.6v4.6h-4.6z"/>
<path fill="#9fff69" d="M594.8 337h4.6v4.6h-4.6z"/>
<path fill="#87ff81" d="M598.8 337h4.6v4.6h-4.6z"/>
<path fill="#6fff99" d="M602.8 337h4.6v4.6h-4.6z"/>
<path fill="#58ffb0" d="M606.8 337h4.6v4.6h-4.6z"/>
<path fill="#41ffc8" d="M610.8 337h4.6v4.6h-4.6z"/>
<path fill="#28ffe0" d="M614.8 337h4.6v4.6h-4.6z"/>
<path fill="#0efffa" d="M618.8 337h4.6v4.6h-4.6z"/>
<path fill="#0ae9ff" d="M622.8 337h4.6v4.6h-4.6z"/>
<path fill="#0aceff" d="M626.8 337h4.6v4.6h-4.6z"/>
<path fill="#0ab4ff" d="M630.8 337h4.6v4.6h-4.6z"/>
<path fill="#950a0a" d="M518.8 341h4.6v4.6h-4.6z"/>
<path fill="#bf0a0a" d="M522.8 341h4.6v4.6h-4.6z"/>
<path fill="#ee0a0a" d="M526.8 341h4.6v4.6h-4.6z"/>
<path fill="#ff2e0a" d="M530.8 341h4.6v4.6h-4.6z"/>
<path fill="#ff630a" d="M534.8 341h4.6v4.6h-4.6z"/>
<path fill="#ff990a" d="M538.8 341h4.6v4.6h-4.6z"/>
<path fill="#ffdb0a" d="M542.8 341h4.6v4.6h-4.6z"/>
<path fill="#eaff1e" d="M546.8 341h4.6v4.6h-4.6z"/>
<path fill="#d6ff32" d="M550.8 341h4.6v4.6h-4.6z"/>
<path fill="#d5ff34" d="M554.8 341h4.6v4.6h-4.6z"/>
<path fill="#dcff2d" d="M558.8 341h4.6v4.6h-4.6z"/>
<path fill="#e6ff23" d="M562.8 341h4.6v4.6h-4.6z"/>
<path fill="#efff19" d="M566.8 341h4.6v4.6h-4.6z"/>
<path fill="#f5ff14" d="M570.8 341h4.6v4.6h-4.6z"/>
<path fill="#f4ff14" d="M574.8 341h4.6v4.6h-4.6z"/>
<path fill="#edff1b" d="M578.8 341h4.6v4.6h-4.6z"/>
<path fill="#e0ff28" d="M582.8 341h4.6v4.6h-4.6z"/>
<path fill="#cdff3b" d="M586.8 341h4.6v4.6h-4.6z"/>
<path fill="#b6ff52" d="M590.8 341h4.6v4.6h-4.6z"/>
<path fill="#9dff6b" d="M594.8 341h4.6v4.6h-4.6z"/>
<path fill="#84ff85" d="M598.8 341h4.6v4.6h-4.6z"/>
<path fill="#6cff9c" d="M602.8 341h4.6v4.6h-4.6z"/>
<path fill="#56ffb3" d="M606.8 341h4.6v4.6h-4.6z"/>
<path fill="#3effca" d="M610.8 341h4.6v4.6h-4.6z"/>
<path fill="#26ffe2" d="M614.8 341h4.6v4.6h-4.6z"/>
<path fill="#0dfffb" d="M618.8 341h4.6v4.6h-4.6z"/>
<path fill="#0ae7ff" d="M622.8 341h4.6v4.6h-4.6z"/>
<path fill="#0accff" d="M626.8 341h4.6v4.6h-4.6z"/>
<path fill="#0ab2ff" d="M630.8 341h4.6v4.6h-4.6z"/>
<path fill="#0a9aff" d="M634.8 341h4.6v4.6h-4.6z"/>
<path fill="#840a0a" d="M514.8 345h4.6v4.6h-4.6z"/>
<path fill="#990a0a" d="M518.8 345h4.6v4.6h-4.6z"/>
<path fill="#c10a0a" d="M522.8 345h4.6v4.6h-4.6z"/>
<path fill="#ef0a0a" d="M526.8 345h4.6v4.6h-4.6z"/>
<path fill="#ff2d0a" d="M530.8 345h4.6v4.6h-4.6z"/>
<path fill="#ff5e0a" d="M534.8 345h4.6v4.6h-4.6z"/>
<path fill="#ff950a" d="M538.8 345h4.6v4.6h-4.6z"/>
<path fill="#ffd60a" d="M542.8 345h4.6v4.6h-4.6z"/>
<path fill="#f6ff13" d="M546.8 345h4.6v4.6h-4.6z"/>
<path fill="#e0ff28" d="M550.8 345h4.6v4.6h-4.6z"/>
<path fill="#deff2a" d="M554.8 345h4.6v4.6h-4.6z"/>
<path fill="#e5ff23" d="M558.8 345h4.6v4.6h-4.6z"/>
<path fill="#f0ff18" d="M562.8 345h4.6v4.6h-4.6z"/>
<path fill="#fbff0e" d="M566.8 345h4.6v4.6h-4.6z"/>
<path fill="#fffd0a" d="M570.8 345h4.6v4.6h-4.6z"/>
<path fill="#fffe0a" d="M574.8 345h4.6v4.6h-4.6z"/>
<path fill="#f6ff12" d="M578.8 345h4.6v4.6h-4.6z"/>
<path fill="#e6ff23" d="M582.8 345h4.6v4.6h-4.6z"/>
<path fill="#d0ff39" d="M586.8 345h4.6v4.6h-4.6z"/>
<path fill="#b6ff52" d="M590.8 345h4.6v4.6h-4.6z"/>
<path fill="#9cff6c" d="M594.8 345h4.6v4.6h-4.6z"/>
<path fill="#82ff86" d="M598.8 345h4.6v4.6h-4.6z"/>
<path fill="#6aff9e" d="M602.8 345h4.6v4.6h-4.6z"/>
<path fill="#53ffb5" d="M606.8 345h4.6v4.6h-4.6z"/>
<path fill="#3cffcc" d="M610.8 345h4.6v4.6h-4.6z"/>
<path fill="#25ffe3" d="M614.8 345h4.6v4.6h-4.6z"/>
<path fill="#0cfffc" d="M618.8 345h4.6v4.6h-4.6z"/>
<path fill="#0ae6ff" d="M622.8 345h4.6v4.6h-4.6z"/>
<path fill="#0acbff" d="M626.8 345h4.6v4.6h-4.6z"/>
<path fill="#0ab0ff" d="M630.8 345h4.6v4.6h-4.6z"/>
<path fill="#0a98ff" d="M634.8 345h4.6v4.6h-4.6z"/>
<path fill="#0a83ff" d="M638.8 345h4.6v4.6h-4.6z"/>
<path fill="#840a0a" d="M514.8 349h4.6v4.6h-4.6z"/>
<path fill="#a40a0a" d="M518.8 349h4.6v4.6h-4.6z"/>
<path fill="#cd0a0a" d="M522.8 349h4.6v4.6h-4.6z"/>
<path fill="#fd0a0a" d="M526.8 349h4.6v4.6h-4.6z"/>
<path fill="#ff3f0a" d="M530.8 349h4.6v4.6h-4.6z"/>
<path fill="#ff750a" d="M534.8 349h4.6v4.6h-4.6z"/>
<path fill="#ffa90a" d="M538.8 349h4.6v4.6h-4.6z"/>
<path fill="#ffdc0a" d="M542.8 349h4.6v4.6h-4.6z"/>
<path fill="#fdff0b" d="M546.8 349h4.6v4.6h-4.6z"/>
<path fill="#ecff1c" d="M550.8 349h4.6v4.6h-4.6z"/>
<path fill="#ebff1d" d="M554.8 349h4.6v4.6h-4.6z"/>
<path fill="#f3ff15" d="M558.8 349h4.6v4.6h-4.6z"/>
<path fill="#fdff0b" d="M562.8 349h4.6v4.6h-4.6z"/>
<path fill="#fff60a" d="M566.8 349h4.6v4.6h-4.6z"/>
<path fill="#fff10a" d="M570.8 349h4.6v4.6h-4.6z"/>
<path fill="#fff40a" d="M574.8 349h4.6v4.6h-4.6z"/>
<path fill="#fdff0b" d="M578.8 349h4.6v4.6h-4.6z"/>
<path fill="#eaff1e" d="M582.8 349h4.6v4.6h-4.6z"/>
<path fill="#d2ff37" d="M586.8 349h4.6v4.6h-4.6z"/>
<path fill="#b6ff52" d="M590.8 349h4.6v4.6h-4.6z"/>
<path fill="#9bff6e" d="M594.8 349h4.6v4.6h-4.6z"/>
<path fill="#80ff88" d="M598.8 349h4.6v4.6h-4.6z"/>
<path fill="#68ffa0" d="M602.8 349h4.6v4.6h-4.6z"/>
<path fill="#50ffb8" d="M606.8 349h4.6v4.6h-4.6z"/>
<path fill="#3affce" d="M610.8 349h4.6v4.6h-4.6z"/>
<path fill="#23ffe5" d="M614.8 349h4.6v4.6h-4.6z"/>
<path fill="#0cfffc" d="M618.8 349h4.6v4.6h-4.6z"/>
<path fill="#0ae7ff" d="M622.8 349h4.6v4.6h-4.6z"/>
<path fill="#0acbff" d="M626.8 349h4.6v4.6h-4.6z"/>
<path fill="#0aafff" d="M630.8 349h4.6v4.6h-4.6z"/>
<path fill="#0a97ff" d="M634.8 349h4.6v4.6h-4.6z"/>
<path fill="#0a84ff" d="M638.8 349h4.6v4.6h-4.6z"/>
<path fill="#840a0a" d="M510.8 353h4.6v4.6h-4.6z"/>
<path fill="#8d0a0a" d="M514.8 353h4.6v4.6h-4.6z"/>
<path fill="#b50a0a" d="M518.8 353h4.6v4.6h-4.6z"/>
<path fill="#e00a0a" d="M522.8 353h4.6v4.6h-4.6z"/>
<path fill="#ff200a" d="M526.8 353h4.6v4.6h-4.6z"/>
<path fill="#ff5f0a" d="M530.8 353h4.6v4.6h-4.6z"/>
<path fill="#ff9e0a" d="M534.8 353h4.6v4.6h-4.6z"/>
<path fill="#ffcc0a" d="M538.8 353h4.6v4.6h-4.6z"/>
<path fill="#ffec0a" d="M542.8 353h4.6v4.6h-4.6z"/>
<path fill="#fdff0b" d="M546.8 353h4.6v4.6h-4.6z"/>
<path fill="#f5ff13" d="M550.8 353h4.6v4.6h-4.6z"/>
<path fill="#f7ff11" d="M554.8 353h4.6v4.6h-4.6z"/>
<path fill="#fffe0a" d="M558.8 353h4.6v4.6h-4.6z"/>
<path fill="#fff40a" d="M562.8 353h4.6v4.6h-4.6z"/>
<path fill="#ffed0a" d="M566.8 353h4.6v4.6h-4.6z"/>
<path fill="#ffeb0a" d="M570.8 353h4.6v4.6h-4.6z"/>
<path fill="#fff10a" d="M574.8 353h4.6v4.6h-4.6z"/>
<path fill="#feff0a" d="M578.8 353h4.6v4.6h-4.6z"/>
<path fill="#e9ff1f" d="M582.8 353h4.6v4.6h-4.6z"/>
<path fill="#d1ff38" d="M586.8 353h4.6v4.6h-4.6z"/>
<path fill="#b5ff54" d="M590.8 353h4.6v4.6h-4.6z"/>
<path fill="#98ff70" d="M594.8 353h4.6v4.6h-4.6z"/>
<path fill="#7dff8b" d="M598.8 353h4.6v4.6h-4.6z"/>
<path fill="#63ffa5" d="M602.8 353h4.6v4.6h-4.6z"/>
<path fill="#4cffbc" d="M606.8 353h4.6v4.6h-4.6z"/>
<path fill="#36ffd2" d="M610.8 353h4.6v4.6h-4.6z"/>
<path fill="#21ffe7" d="M614.8 353h4.6v4.6h-4.6z"/>
<path fill="#0cfffc" d="M618.8 353h4.6v4.6h-4.6z"/>
<path fill="#0aeaff" d="M622.8 353h4.6v4.6h-4.6z"/>
<path fill="#0aceff" d="M626.8 353h4.6v4.6h-4.6z"/>
<path fill="#0ab0ff" d="M630.8 353h4.6v4.6h-4.6z"/>
<path fill="#0a97ff" d="M634.8 353h4.6v4.6h-4.6z"/>
<path fill="#0a88ff" d="M638.8 353h4.6v4.6h-4.6z"/>
<path fill="#0a7bff" d="M642.8 353h4.6v4.6h-4.6z"/>
<path fill="#840a0a" d="M506.8 357h4.6v4.6h-4.6z"/>
<path fill="#840a0a" d="M510.8 357h4.6v4.6h-4.6z"/>
<path fill="#9e0a0a" d="M514.8 357h4.6v4.6h-4.6z"/>
<path fill="#ca0a0a" d="M518.8 357h4.6v4.6h-4.6z"/>
<path fill="#f60a0a" d="M522.8 357h4.6v4.6h-4.6z"/>
<path fill="#ff380a" d="M526.8 357h4.6v4.6h-4.6z"/>
<path fill="#ff820a" d="M530.8 357h4.6v4.6h-4.6z"/>
<path fill="#ffcb0a" d="M534.8 357h4.6v4.6h-4.6z"/>
<path fill="#ffee0a" d="M538.8 357h4.6v4.6h-4.6z"/>
<path fill="#fffe0a" d="M542.8 357h4.6v4.6h-4.6z"/>
<path fill="#f9ff0f" d="M546.8 357h4.6v4.6h-4.6z"/>
<path fill="#f9ff10" d="M550.8 357h4.6v4.6h-4.6z"/>
<path fill="#feff0a" d="M554.8 357h4.6v4.6h-4.6z"/>
<path fill="#fff50a" d="M558.8 357h4.6v4.6h-4.6z"/>
<path fill="#ffed0a" d="M562.8 357h4.6v4.6h-4.6z"/>
<path fill="#ffea0a" d="M566.8 357h4.6v4.6h-4.6z"/>
<path fill="#ffee0a" d="M570.8 357h4.6v4.6h-4.6z"/>
<path fill="#fff80a" d="M574.8 357h4.6v4.6h-4.6z"/>
<path fill="#f6ff12" d="M578.8 357h4.6v4.6h-4.6z"/>
<path fill="#e2ff26" d="M582.8 357h4.6v4.6h-4.6z"/>
<path fill="#caff3e" d="M586.8 357h4.6v4.6h-4.6z"/>
<path fill="#afff5a" d="M590.8 357h4.6v4.6h-4.6z"/>
<path fill="#91ff77" d="M594.8 357h4.6v4.6h-4.6z"/>
<path fill="#75ff93" d="M598.8 357h4.6v4.6h-4.6z"/>
<path fill="#5bffad" d="M602.8 357h4.6v4.6h-4.6z"/>
<path fill="#44ffc4" d="M606.8 357h4.6v4.6h-4.6z"/>
<path fill="#2fffd9" d="M610.8 357h4.6v4.6h-4.6z"/>
<path fill="#1cffec" d="M614.8 357h4.6v4.6h-4.6z"/>
<path fill="#0afffe" d="M618.8 357h4.6v4.6h-4.6z"/>
<path fill="#0aecff" d="M622.8 357h4.6v4.6h-4.6z"/>
<path fill="#0ad2ff" d="M626.8 357h4.6v4.6h-4.6z"/>
<path fill="#0ab5ff" d="M630.8 357h4.6v4.6h-4.6z"/>
<path fill="#0a9eff" d="M634.8 357h4.6v4.6h-4.6z"/>
<path fill="#0a91ff" d="M638.8 357h4.6v4.6h-4.6z"/>
<path fill="#0a86ff" d="M642.8 357h4.6v4.6h-4.6z"/>
<path fill="#0a7bff" d="M646.8 357h4.6v4.6h-4.6z"/>
<path fill="#840a0a" d="M506.8 361h4.6v4.6h-4.6z"/>
<path fill="#880a0a" d="M510.8 361h4.6v4.6h-4.6z"/>
<path fill="#b00a0a" d="M514.8 361h4.6v4.6h-4.6z"/>
<path fill="#df0a0a" d="M518.8 361h4.6v4.6h-4.6z"/>
<path fill="#ff1f0a" d="M522.8 361h4.6v4.6h-4.6z"/>
<path fill="#ff580a" d="M526.8 361h4.6v4.6h-4.6z"/>
<path fill="#ffa30a" d="M530.8 361h4.6v4.6h-4.6z"/>
<path fill="#ffe40a" d="M534.8 361h4.6v4.6h-4.6z"/>
<path fill="#fcff0d" d="M538.8 361h4.6v4.6h-4.6z"/>
<path fill="#f5ff13" d="M542.8 361h4.6v4.6h-4.6z"/>
<path fill="#f5ff13" d="M546.8 361h4.6v4.6h-4.6z"/>
<path fill="#f8ff10" d="M550.8 361h4.6v4.6h-4.6z"/>
<path fill="#fffe0a" d="M554.8 361h4.6v4.6h-4.6z"/>
<path fill="#fff40a" d="M558.8 361h4.6v4.6h-4.6z"/>
<path fill="#ffee0a" d="M562.8 361h4.6v4.6h-4.6z"/>
<path fill="#fff00a" d="M566.8 361h4.6v4.6h-4.6z"/>
<path fill="#fffa0a" d="M570.8 361h4.6v4.6h-4.6z"/>
<path fill="#f5ff13" d="M574.8 361h4.6v4.6h-4.6z"/>
<path fill="#e4ff25" d="M578.8 361h4.6v4.6h-4.6z"/>
<path fill="#d0ff38" d="M582.8 361h4.6v4.6h-4.6z"/>
<path fill="#bbff4d" d="M586.8 361h4.6v4.6h-4.6z"/>
<path fill="#a1ff68" d="M590.8 361h4.6v4.6h-4.6z"/>
<path fill="#83ff85" d="M594.8 361h4.6v4.6h-4.6z"/>
<path fill="#68ffa0" d="M598.8 361h4.6v4.6h-4.6z"/>
<path fill="#4fffb9" d="M602.8 361h4.6v4.6h-4.6z"/>
<path fill="#39ffcf" d="M606.8 361h4.6v4.6h-4.6z"/>
<path fill="#26ffe3" d="M610.8 361h4.6v4.6h-4.6z"/>
<path fill="#14fff4" d="M614.8 361h4.6v4.6h-4.6z"/>
<path fill="#0af9ff" d="M618.8 361h4.6v4.6h-4.6z"/>
<path fill="#0ae9ff" d="M622.8 361h4.6v4.6h-4.6z"/>
<path fill="#0ad4ff" d="M626.8 361h4.6v4.6h-4.6z"/>
<path fill="#0abeff" d="M630.8 361h4.6v4.6h-4.6z"/>
<path fill="#0aadff" d="M634.8 361h4.6v4.6h-4.6z"/>
<path fill="#0aa1ff" d="M638.8 361h4.6v4.6h-4.6z"/>
<path fill="#0a96ff" d="M642.8 361h4.6v4.6h-4.6z"/>
<path fill="#0a8bff" d="M646.8 361h4.6v4.6h-4.6z"/>
<path fill="#840a0a" d="M506.8 365h4.6v4.6h-4.6z"/>
<path fill="#9b0a0a" d="M510.8 365h4.6v4.6h-4.6z"/>
<path fill="#c30a0a" d="M514.8 365h4.6v4.6h-4.6z"/>
<path fill="#fc0a0a" d="M518.8 365h4.6v4.6h-4.6z"/>
<path fill="#ff480a" d="M522.8 365h4.6v4.6h-4.6z"/>
<path fill="#ff8c0a" d="M526.8 365h4.6v4.6h-4.6z"/>
<path fill="#ffca0a" d="M530.8 365h4.6v4.6h-4.6z"/>
<path fill="#fff60a" d="M534.8 365h4.6v4.6h-4.6z"/>
<path fill="#f3ff15" d="M538.8 365h4.6v4.6h-4.6z"/>
<path fill="#f0ff18" d="M542.8 365h4.6v4.6h-4.6z"/>
<path fill="#f1ff17" d="M546.8 365h4.6v4.6h-4.6z"/>
<path fill="#f1ff17" d="M550.8 365h4.6v4.6h-4.6z"/>
<path fill="#f5ff13" d="M554.8 365h4.6v4.6h-4.6z"/>
<path fill="#fdff0b" d="M558.8 365h4.6v4.6h-4.6z"/>
<path fill="#fffa0a" d="M562.8 365h4.6v4.6h-4.6z"/>
<path fill="#fbff0e" d="M566.8 365h4.6v4.6h-4.6z"/>
<path fill="#ebff1d" d="M570.8 365h4.6v4.6h-4.6z"/>
<path fill="#daff2f" d="M574.8 365h4.6v4.6h-4.6z"/>
<path fill="#c7ff41" d="M578.8 365h4.6v4.6h-4.6z"/>
<path fill="#b3ff55" d="M582.8 365h4.6v4.6h-4.6z"/>
<path fill="#9fff69" d="M586.8 365h4.6v4.6h-4.6z"/>
<path fill="#87ff81" d="M590.8 365h4.6v4.6h-4.6z"/>
<path fill="#6dff9b" d="M594.8 365h4.6v4.6h-4.6z"/>
<path fill="#54ffb4" d="M598.8 365h4.6v4.6h-4.6z"/>
<path fill="#3fffca" d="M602.8 365h4.6v4.6h-4.6z"/>
<path fill="#2bffdd" d="M606.8 365h4.6v4.6h-4.6z"/>
<path fill="#19ffef" d="M610.8 365h4.6v4.6h-4.6z"/>
<path fill="#0afeff" d="M614.8 365h4.6v4.6h-4.6z"/>
<path fill="#0af0ff" d="M618.8 365h4.6v4.6h-4.6z"/>
<path fill="#0ae3ff" d="M622.8 365h4.6v4.6h-4.6z"/>
<path fill="#0ad6ff" d="M626.8 365h4.6v4.6h-4.6z"/>
<path fill="#0ac8ff" d="M630.8 365h4.6v4.6h-4.6z"/>
<path fill="#0abdff" d="M634.8 365h4.6v4.6h-4.6z"/>
<path fill="#0ab3ff" d="M638.8 365h4.6v4.6h-4.6z"/>
<path fill="#0aaaff" d="M642.8 365h4.6v4.6h-4.6z"/>
<path fill="#0a9eff" d="M646.8 365h4.6v4.6h-4.6z"/>
<path fill="#8d0a0a" d="M502.8 369h4.6v4.6h-4.6z"/>
<path fill="#990a0a" d="M506.8 369h4.6v4.6h-4.6z"/>
<path fill="#ae0a0a" d="M510.8 369h4.6v4.6h-4.6z"/>
<path fill="#da0a0a" d="M514.8 369h4.6v4.6h-4.6z"/>
<path fill="#ff2b0a" d="M518.8 369h4.6v4.6h-4.6z"/>
<path fill="#ff760a" d="M522.8 369h4.6v4.6h-4.6z"/>
<path fill="#ffbd0a" d="M526.8 369h4.6v4.6h-4.6z"/>
<path fill="#ffef0a" d="M530.8 369h4.6v4.6h-4.6z"/>
<path fill="#f5ff13" d="M534.8 369h4.6v4.6h-4.6z"/>
<path fill="#ebff1e" d="M538.8 369h4.6v4.6h-4.6z"/>
<path fill="#e9ff1f" d="M542.8 369h4.6v4.6h-4.6z"/>
<path fill="#e8ff20" d="M546.8 369h4.6v4.6h-4.6z"/>
<path fill="#e3ff25" d="M550.8 369h4.6v4.6h-4.6z"/>
<path fill="#deff2a" d="M554.8 369h4.6v4.6h-4.6z"/>
<path fill="#ddff2b" d="M558.8 369h4.6v4.6h-4.6z"/>
<path fill="#deff2a" d="M562.8 369h4.6v4.6h-4.6z"/>
<path fill="#d6ff32" d="M566.8 369h4.6v4.6h-4.6z"/>
<path fill="#c7ff41" d="M570.8 369h4.6v4.6h-4.6z"/>
<path fill="#b5ff53" d="M574.8 369h4.6v4.6h-4.6z"/>
<path fill="#a1ff67" d="M578.8 369h4.6v4.6h-4.6z"/>
<path fill="#8dff7c" d="M582.8 369h4.6v4.6h-4.6z"/>
<path fill="#79ff90" d="M586.8 369h4.6v4.6h-4.6z"/>
<path fill="#64ffa4" d="M590.8 369h4.6v4.6h-4.6z"/>
<path fill="#50ffb8" d="M594.8 369h4.6v4.6h-4.6z"/>
<path fill="#3dffcb" d="M598.8 369h4.6v4.6h-4.6z"/>
<path fill="#2cffdc" d="M602.8 369h4.6v4.6h-4.6z"/>
<path fill="#1cffec" d="M606.8 369h4.6v4.6h-4.6z"/>
<path fill="#0dfffb" d="M610.8 369h4.6v4.6h-4.6z"/>
<path fill="#0af3ff" d="M614.8 369h4.6v4.6h-4.6z"/>
<path fill="#0ae8ff" d="M618.8 369h4.6v4.6h-4.6z"/>
<path fill="#0adfff" d="M622.8 369h4.6v4.6h-4.6z"/>
<path fill="#0ad9ff" d="M626.8 369h4.6v4.6h-4.6z"/>
<path fill="#0ad3ff" d="M630.8 369h4.6v4.6h-4.6z"/>
<path fill="#0acdff" d="M634.8 369h4.6v4.6h-4.6z"/>
<path fill="#0ac7ff" d="M638.8 369h4.6v4.6h-4.6z"/>
<path fill="#0abfff" d="M642.8 369h4.6v4.6h-4.6z"/>
<path fill="#0ab2ff" d="M646.8 369h4.6v4.6h-4.6z"/>
<path fill="#0aa3ff" d="M650.8 369h4.6v4.6h-4.6z"/>
<path fill="#c20a0a" d="M502.8 373h4.6v4.6h-4.6z"/>
<path fill="#cc0a0a" d="M506.8 373h4.6v4.6h-4.6z"/>
<path fill="#db0a0a" d="M510.8 373h4.6v4.6h-4.6z"/>
<path fill="#ff140a" d="M514.8 373h4.6v4.6h-4.6z"/>
<path fill="#ff640a" d="M518.8 373h4.6v4.6h-4.6z"/>
<path fill="#ffa90a" d="M522.8 373h4.6v4.6h-4.6z"/>
<path fill="#ffe00a" d="M526.8 373h4.6v4.6h-4.6z"/>
<path fill="#faff0e" d="M530.8 373h4.6v4.6h-4.6z"/>
<path fill="#eaff1e" d="M534.8 373h4.6v4.6h-4.6z"/>
<path fill="#e4ff24" d="M538.8 373h4.6v4.6h-4.6z"/>
<path fill="#e1ff28" d="M542.8 373h4.6v4.6h-4.6z"/>
<path fill="#dbff2e" d="M546.8 373h4.6v4.6h-4.6z"/>
<path fill="#d0ff38" d="M550.8 373h4.6v4.6h-4.6z"/>
<path fill="#c3ff45" d="M554.8 373h4.6v4.6h-4.6z"/>
<path fill="#b6ff52" d="M558.8 373h4.6v4.6h-4.6z"/>
<path fill="#aeff5a" d="M562.8 373h4.6v4.6h-4.6z"/>
<path fill="#abff5d" d="M566.8 373h4.6v4.6h-4.6z"/>
<path fill="#9fff69" d="M570.8 373h4.6v4.6h-4.6z"/>
<path fill="#8dff7b" d="M574.8 373h4.6v4.6h-4.6z"/>
<path fill="#77ff91" d="M578.8 373h4.6v4.6h-4.6z"/>
<path fill="#62ffa6" d="M582.8 373h4.6v4.6h-4.6z"/>
<path fill="#4effba" d="M586.8 373h4.6v4.6h-4.6z"/>
<path fill="#3effca" d="M590.8 373h4.6v4.6h-4.6z"/>
<path fill="#31ffd8" d="M594.8 373h4.6v4.6h-4.6z"/>
<path fill="#25ffe3" d="M598.8 373h4.6v4.6h-4.6z"/>
<path fill="#1bffed" d="M602.8 373h4.6v4.6h-4.6z"/>
<path fill="#11fff8" d="M606.8 373h4.6v4.6h-4.6z"/>
<path fill="#0af9ff" d="M610.8 373h4.6v4.6h-4.6z"/>
<path fill="#0aedff" d="M614.8 373h4.6v4.6h-4.6z"/>
<path fill="#0ae3ff" d="M618.8 373h4.6v4.6h-4.6z"/>
<path fill="#0adfff" d="M622.8 373h4.6v4.6h-4.6z"/>
<path fill="#0adfff" d="M626.8 373h4.6v4.6h-4.6z"/>
<path fill="#0ae0ff" d="M630.8 373h4.6v4.6h-4.6z"/>
<path fill="#0adeff" d="M634.8 373h4.6v4.6h-4.6z"/>
<path fill="#0adaff" d="M638.8 373h4.6v4.6h-4.6z"/>
<path fill="#0ad2ff" d="M642.8 373h4.6v4.6h-4.6z"/>
<path fill="#0ac5ff" d="M646.8 373h4.6v4.6h-4.6z"/>
<path fill="#0ab5ff" d="M650.8 373h4.6v4.6h-4.6z"/>
<path fill="#ff170a" d="M502.8 377h4.6v4.6h-4.6z"/>
<path fill="#ff2b0a" d="M506.8 377h4.6v4.6h-4.6z"/>
<path fill="#ff4a0a" d="M510.8 377h4.6v4.6h-4.6z"/>
<path fill="#ff870a" d="M514.8 377h4.6v4.6h-4.6z"/>
<path fill="#ffbb0a" d="M518.8 377h4.6v4.6h-4.6z"/>
<path fill="#ffe10a" d="M522.8 377h4.6v4.6h-4.6z"/>
<path fill="#fffd0a" d="M526.8 377h4.6v4.6h-4.6z"/>
<path fill="#eeff1a" d="M530.8 377h4.6v4.6h-4.6z"/>
<path fill="#e6ff22" d="M534.8 377h4.6v4.6h-4.6z"/>
<path fill="#e2ff26" d="M538.8 377h4.6v4.6h-4.6z"/>
<path fill="#dcff2c" d="M542.8 377h4.6v4.6h-4.6z"/>
<path fill="#d1ff37" d="M546.8 377h4.6v4.6h-4.6z"/>
<path fill="#c1ff47" d="M550.8 377h4.6v4.6h-4.6z"/>
<path fill="#b0ff59" d="M554.8 377h4.6v4.6h-4.6z"/>
<path fill="#9fff69" d="M558.8 377h4.6v4.6h-4.6z"/>
<path fill="#93ff75" d="M562.8 377h4.6v4.6h-4.6z"/>
<path fill="#8bff7d" d="M566.8 377h4.6v4.6h-4.6z"/>
<path fill="#7dff8b" d="M570.8 377h4.6v4.6h-4.6z"/>
<path fill="#68ffa0" d="M574.8 377h4.6v4.6h-4.6z"/>
<path fill="#50ffb8" d="M578.8 377h4.6v4.6h-4.6z"/>
<path fill="#38ffd0" d="M582.8 377h4.6v4.6h-4.6z"/>
<path fill="#26ffe2" d="M586.8 377h4.6v4.6h-4.6z"/>
<path fill="#1affee" d="M590.8 377h4.6v4.6h-4.6z"/>
<path fill="#14fff4" d="M594.8 377h4.6v4.6h-4.6z"/>
<path fill="#11fff7" d="M598.8 377h4.6v4.6h-4.6z"/>
<path fill="#10fff8" d="M602.8 377h4.6v4.6h-4.6z"/>
<path fill="#0cfffc" d="M606.8 377h4.6v4.6h-4.6z"/>
<path fill="#0af9ff" d="M610.8 377h4.6v4.6h-4.6z"/>
<path fill="#0aefff" d="M614.8 377h4.6v4.6h-4.6z"/>
<path fill="#0ae6ff" d="M618.8 377h4.6v4.6h-4.6z"/>
<path fill="#0ae8ff" d="M622.8 377h4.6v4.6h-4.6z"/>
<path fill="#0aedff" d="M626.8 377h4.6v4.6h-4.6z"/>
<path fill="#0af0ff" d="M630.8 377h4.6v4.6h-4.6z"/>
<path fill="#0af1ff" d="M634.8 377h4.6v4.6h-4.6z"/>
<path fill="#0aedff" d="M638.8 377h4.6v4.6h-4.6z"/>
<path fill="#0ae5ff" d="M642.8 377h4.6v4.6h-4.6z"/>
<path fill="#0ad8ff" d="M646.8 377h4.6v4.6h-4.6z"/>
<path fill="#0ac6ff" d="M650.8 377h4.6v4.6h-4.6z"/>
<path fill="#ff480a" d="M498.8 381h4.6v4.6h-4.6z"/>
<path fill="#ff6c0a" d="M502.8 381h4.6v4.6h-4.6z"/>
<path fill="#ff8f0a" d="M506.8 381h4.6v4.6h-4.6z"/>
<path fill="#ffb60a" d="M510.8 381h4.6v4.6h-4.6z"/>
<path fill="#fff40a" d="M514.8 381h4.6v4.6h-4.6z"/>
<path fill="#f4ff14" d="M518.8 381h4.6v4.6h-4.6z"/>
<path fill="#ecff1c" d="M522.8 381h4.6v4.6h-4.6z"/>
<path fill="#e7ff21" d="M526.8 381h4.6v4.6h-4.6z"/>
<path fill="#e5ff24" d="M530.8 381h4.6v4.6h-4.6z"/>
<path fill="#e5ff23" d="M534.8 381h4.6v4.6h-4.6z"/>
<path fill="#e4ff25" d="M538.8 381h4.6v4.6h-4.6z"/>
<path fill="#dbff2d" d="M542.8 381h4.6v4.6h-4.6z"/>
<path fill="#ccff3c" d="M546.8 381h4.6v4.6h-4.6z"/>
<path fill="#baff4e" d="M550.8 381h4.6v4.6h-4.6z"/>
<path fill="#a7ff61" d="M554.8 381h4.6v4.6h-4.6z"/>
<path fill="#97ff71" d="M558.8 381h4.6v4.6h-4.6z"/>
<path fill="#89ff7f" d="M562.8 381h4.6v4.6h-4.6z"/>
<path fill="#7bff8d" d="M566.8 381h4.6v4.6h-4.6z"/>
<path fill="#68ffa1" d="M570.8 381h4.6v4.6h-4.6z"/>
<path fill="#4effba" d="M574.8 381h4.6v4.6h-4.6z"/>
<path fill="#30ffd8" d="M578.8 381h4.6v4.6h-4.6z"/>
<path fill="#15fff3" d="M582.8 381h4.6v4.6h-4.6z"/>
<path fill="#0af9ff" d="M586.8 381h4.6v4.6h-4.6z"/>
<path fill="#0af2ff" d="M590.8 381h4.6v4.6h-4.6z"/>
<path fill="#0af3ff" d="M594.8 381h4.6v4.6h-4.6z"/>
<path fill="#0afaff" d="M598.8 381h4.6v4.6h-4.6z"/>
<path fill="#0dfffb" d="M602.8 381h4.6v4.6h-4.6z"/>
<path fill="#11fff7" d="M606.8 381h4.6v4.6h-4.6z"/>
<path fill="#0ffff9" d="M610.8 381h4.6v4.6h-4.6z"/>
<path fill="#0afeff" d="M614.8 381h4.6v4.6h-4.6z"/>
<path fill="#0afaff" d="M618.8 381h4.6v4.6h-4.6z"/>
<path fill="#0afcff" d="M622.8 381h4.6v4.6h-4.6z"/>
<path fill="#0dfffb" d="M626.8 381h4.6v4.6h-4.6z"/>
<path fill="#11fff7" d="M630.8 381h4.6v4.6h-4.6z"/>
<path fill="#12fff6" d="M634.8 381h4.6v4.6h-4.6z"/>
<path fill="#0dfffb" d="M638.8 381h4.6v4.6h-4.6z"/>
<path fill="#0af8ff" d="M642.8 381h4.6v4.6h-4.6z"/>
<path fill="#0ae9ff" d="M646.8 381h4.6v4.6h-4.6z"/>
<path fill="#0ad6ff" d="M650.8 381h4.6v4.6h-4.6z"/>
<path fill="#0ac0ff" d="M654.8 381h4.6v4.6h-4.6z"/>
<path fill="#ff870a" d="M498.8 385h4.6v4.6h-4.6z"/>
<path fill="#ffb40a" d="M502.8 385h4.6v4.6h-4.6z"/>
<path fill="#ffe40a" d="M506.8 385h4.6v4.6h-4.6z"/>
<path fill="#f6ff12" d="M510.8 385h4.6v4.6h-4.6z"/>
<path fill="#d8ff30" d="M514.8 385h4.6v4.6h-4.6z"/>
<path fill="#cdff3b" d="M518.8 385h4.6v4.6h-4.6z"/>
<path fill="#d0ff38" d="M522.8 385h4.6v4.6h-4.6z"/>
<path fill="#d6ff32" d="M526.8 385h4.6v4.6h-4.6z"/>
<path fill="#ddff2b" d="M530.8 385h4.6v4.6h-4.6z"/>
<path fill="#e4ff25" d="M534.8 385h4.6v4.6h-4.6z"/>
<path fill="#e5ff23" d="M538.8 385h4.6v4.6h-4.6z"/>
<path fill="#dbff2d" d="M542.8 385h4.6v4.6h-4.6z"/>
<path fill="#caff3e" d="M546.8 385h4.6v4.6h-4.6z"/>
<path fill="#b7ff51" d="M550.8 385h4.6v4.6h-4.6z"/>
<path fill="#a6ff62" d="M554.8 385h4.6v4.6h-4.6z"/>
<path fill="#97ff71" d="M558.8 385h4.6v4.6h-4.6z"/>
<path fill="#89ff7f" d="M562.8 385h4.6v4.6h-4.6z"/>
<path fill="#77ff91" d="M566.8 385h4.6v4.6h-4.6z"/>
<path fill="#5effaa" d="M570.8 385h4.6v4.6h-4.6z"/>
<path fill="#3fffc9" d="M574.8 385h4.6v4.6h-4.6z"/>
<path fill="#1effeb" d="M578.8 385h4.6v4.6h-4.6z"/>
<path fill="#0af5ff" d="M582.8 385h4.6v4.6h-4.6z"/>
<path fill="#0ae6ff" d="M586.8 385h4.6v4.6h-4.6z"/>
<path fill="#0ae2ff" d="M590.8 385h4.6v4.6h-4.6z"/>
<path fill="#0ae8ff" d="M594.8 385h4.6v4.6h-4.6z"/>
<path fill="#0af9ff" d="M598.8 385h4.6v4.6h-4.6z"/>
<path fill="#16fff3" d="M602.8 385h4.6v4.6h-4.6z"/>
<path fill="#21ffe8" d="M606.8 385h4.6v4.6h-4.6z"/>
<path fill="#23ffe5" d="M610.8 385h4.6v4.6h-4.6z"/>
<path fill="#22ffe6" d="M614.8 385h4.6v4.6h-4.6z"/>
<path fill="#21ffe7" d="M618.8 385h4.6v4.6h-4.6z"/>
<path fill="#24ffe4" d="M622.8 385h4.6v4.6h-4.6z"/>
<path fill="#29ffe0" d="M626.8 385h4.6v4.6h-4.6z"/>
<path fill="#2cffdd" d="M630.8 385h4.6v4.6h-4.6z"/>
<path fill="#2affde" d="M634.8 385h4.6v4.6h-4.6z"/>
<path fill="#24ffe5" d="M638.8 385h4.6v4.6h-4.6z"/>
<path fill="#17fff1" d="M642.8 385h4.6v4.6h-4.6z"/>
<path fill="#0afbff" d="M646.8 385h4.6v4.6h-4.6z"/>
<path fill="#0ae5ff" d="M650.8 385h4.6v4.6h-4.6z"/>
<path fill="#0acdff" d="M654.8 385h4.6v4.6h-4.6z"/>
<path fill="#ffb60a" d="M498.8 389h4.6v4.6h-4.6z"/>
<path fill="#ffe30a" d="M502.8 389h4.6v4.6h-4.6z"/>
<path fill="#f0ff18" d="M506.8 389h4.6v4.6h-4.6z"/>
<path fill="#d0ff39" d="M510.8 389h4.6v4.6h-4.6z"/>
<path fill="#bdff4b" d="M514.8 389h4.6v4.6h-4.6z"/>
<path fill="#baff4e" d="M518.8 389h4.6v4.6h-4.6z"/>
<path fill="#c1ff48" d="M522.8 389h4.6v4.6h-4.6z"/>
<path fill="#c9ff3f" d="M526.8 389h4.6v4.6h-4.6z"/>
<path fill="#d3ff35" d="M530.8 389h4.6v4.6h-4.6z"/>
<path fill="#dcff2c" d="M534.8 389h4.6v4.6h-4.6z"/>
<path fill="#deff2a" d="M538.8 389h4.6v4.6h-4.6z"/>
<path fill="#d6ff32" d="M542.8 389h4.6v4.6h-4.6z"/>
<path fill="#c7ff41" d="M546.8 389h4.6v4.6h-4.6z"/>
<path fill="#b6ff52" d="M550.8 389h4.6v4.6h-4.6z"/>
<path fill="#a7ff61" d="M554.8 389h4.6v4.6h-4.6z"/>
<path fill="#9bff6d" d="M558.8 389h4.6v4.6h-4.6z"/>
<path fill="#8fff7a" d="M562.8 389h4.6v4.6h-4.6z"/>
<path fill="#7cff8c" d="M566.8 389h4.6v4.6h-4.6z"/>
<path fill="#5effaa" d="M570.8 389h4.6v4.6h-4.6z"/>
<path fill="#3bffcd" d="M574.8 389h4.6v4.6h-4.6z"/>
<path fill="#18fff0" d="M578.8 389h4.6v4.6h-4.6z"/>
<path fill="#0af2ff" d="M582.8 389h4.6v4.6h-4.6z"/>
<path fill="#0ae5ff" d="M586.8 389h4.6v4.6h-4.6z"/>
<path fill="#0ae5ff" d="M590.8 389h4.6v4.6h-4.6z"/>
<path fill="#0aefff" d="M594.8 389h4.6v4.6h-4.6z"/>
<path fill="#10fff8" d="M598.8 389h4.6v4.6h-4.6z"/>
<path fill="#27ffe2" d="M602.8 389h4.6v4.6h-4.6z"/>
<path fill="#36ffd2" d="M606.8 389h4.6v4.6h-4.6z"/>
<path fill="#3bffcd" d="M610.8 389h4.6v4.6h-4.6z"/>
<path fill="#3dffcb" d="M614.8 389h4.6v4.6h-4.6z"/>
<path fill="#3fffc9" d="M618.8 389h4.6v4.6h-4.6z"/>
<path fill="#43ffc5" d="M622.8 389h4.6v4.6h-4.6z"/>
<path fill="#46ffc2" d="M626.8 389h4.6v4.6h-4.6z"/>
<path fill="#47ffc1" d="M630.8 389h4.6v4.6h-4.6z"/>
<path fill="#43ffc5" d="M634.8 389h4.6v4.6h-4.6z"/>
<path fill="#3affcf" d="M638.8 389h4.6v4.6h-4.6z"/>
<path fill="#2affde" d="M642.8 389h4.6v4.6h-4.6z"/>
<path fill="#16fff2" d="M646.8 389h4.6v4.6h-4.6z"/>
<path fill="#0af3ff" d="M650.8 389h4.6v4.6h-4.6z"/>
<path fill="#0ad8ff" d="M654.8 389h4.6v4.6h-4.6z"/>
<path fill="#ffd80a" d="M498.8 393h4.6v4.6h-4.6z"/>
<path fill="#fdff0b" d="M502.8 393h4.6v4.6h-4.6z"/>
<path fill="#d8ff30" d="M506.8 393h4.6v4.6h-4.6z"/>
<path fill="#baff4e" d="M510.8 393h4.6v4.6h-4.6z"/>
<path fill="#a9ff60" d="M514.8 393h4.6v4.6h-4.6z"/>
<path fill="#a7ff61" d="M518.8 393h4.6v4.6h-4.6z"/>
<path fill="#afff5a" d="M522.8 393h4.6v4.6h-4.6z"/>
<path fill="#b4ff54" d="M526.8 393h4.6v4.6h-4.6z"/>
<path fill="#c1ff47" d="M530.8 393h4.6v4.6h-4.6z"/>
<path fill="#cdff3b" d="M534.8 393h4.6v4.6h-4.6z"/>
<path fill="#d0ff38" d="M538.8 393h4.6v4.6h-4.6z"/>
<path fill="#ccff3d" d="M542.8 393h4.6v4.6h-4.6z"/>
<path fill="#c2ff46" d="M546.8 393h4.6v4.6h-4.6z"/>
<path fill="#b5ff53" d="M550.8 393h4.6v4.6h-4.6z"/>
<path fill="#a9ff60" d="M554.8 393h4.6v4.6h-4.6z"/>
<path fill="#9fff69" d="M558.8 393h4.6v4.6h-4.6z"/>
<path fill="#95ff74" d="M562.8 393h4.6v4.6h-4.6z"/>
<path fill="#83ff85" d="M566.8 393h4.6v4.6h-4.6z"/>
<path fill="#61ffa8" d="M570.8 393h4.6v4.6h-4.6z"/>
<path fill="#3bffce" d="M574.8 393h4.6v4.6h-4.6z"/>
<path fill="#1affee" d="M578.8 393h4.6v4.6h-4.6z"/>
<path fill="#0afaff" d="M582.8 393h4.6v4.6h-4.6z"/>
<path fill="#0af2ff" d="M586.8 393h4.6v4.6h-4.6z"/>
<path fill="#0af5ff" d="M590.8 393h4.6v4.6h-4.6z"/>
<path fill="#0ffffa" d="M594.8 393h4.6v4.6h-4.6z"/>
<path fill="#24ffe4" d="M598.8 393h4.6v4.6h-4.6z"/>
<path fill="#39ffcf" d="M602.8 393h4.6v4.6h-4.6z"/>
<path fill="#49ffc0" d="M606.8 393h4.6v4.6h-4.6z"/>
<path fill="#51ffb7" d="M610.8 393h4.6v4.6h-4.6z"/>
<path fill="#56ffb2" d="M614.8 393h4.6v4.6h-4.6z"/>
<path fill="#5bffad" d="M618.8 393h4.6v4.6h-4.6z"/>
<path fill="#60ffa8" d="M622.8 393h4.6v4.6h-4.6z"/>
<path fill="#63ffa5" d="M626.8 393h4.6v4.6h-4.6z"/>
<path fill="#62ffa6" d="M630.8 393h4.6v4.6h-4.6z"/>
<path fill="#5bffad" d="M634.8 393h4.6v4.6h-4.6z"/>
<path fill="#4effba" d="M638.8 393h4.6v4.6h-4.6z"/>
<path fill="#3bffcd" d="M642.8 393h4.6v4.6h-4.6z"/>
<path fill="#23ffe5" d="M646.8 393h4.6v4.6h-4.6z"/>
<path fill="#0afdff" d="M650.8 393h4.6v4.6h-4.6z"/>
<path fill="#0adfff" d="M654.8 393h4.6v4.6h-4.6z"/>
<path fill="#fff00a" d="M498.8 397h4.6v4.6h-4.6z"/>
<path fill="#e7ff21" d="M502.8 397h4.6v4.6h-4.6z"/>
<path fill="#c5ff43" d="M506.8 397h4.6v4.6h-4.6z"/>
<path fill="#a6ff62" d="M510.8 397h4.6v4.6h-4.6z"/>
<path fill="#90ff78" d="M514.8 397h4.6v4.6h-4.6z"/>
<path fill="#86ff82" d="M518.8 397h4.6v4.6h-4.6z"/>
<path fill="#86ff83" d="M522.8 397h4.6v4.6h-4.6z"/>
<path fill="#8eff7a" d="M526.8 397h4.6v4.6h-4.6z"/>
<path fill="#a2ff67" d="M530.8 397h4.6v4.6h-4.6z"/>
<path fill="#b4ff54" d="M534.8 397h4.6v4.6h-4.6z"/>
<path fill="#baff4e" d="M538.8 397h4.6v4.6h-4.6z"/>
<path fill="#bcff4c" d="M542.8 397h4.6v4.6h-4.6z"/>
<path fill="#bbff4d" d="M546.8 397h4.6v4.6h-4.6z"/>
<path fill="#b4ff54" d="M550.8 397h4.6v4.6h-4.6z"/>
<path fill="#abff5d" d="M554.8 397h4.6v4.6h-4.6z"/>
<path fill="#a1ff67" d="M558.8 397h4.6v4.6h-4.6z"/>
<path fill="#95ff73" d="M562.8 397h4.6v4.6h-4.6z"/>
<path fill="#80ff88" d="M566.8 397h4.6v4.6h-4.6z"/>
<path fill="#5fffa9" d="M570.8 397h4.6v4.6h-4.6z"/>
<path fill="#3bffce" d="M574.8 397h4.6v4.6h-4.6z"/>
<path fill="#21ffe8" d="M578.8 397h4.6v4.6h-4.6z"/>
<path fill="#13fff5" d="M582.8 397h4.6v4.6h-4.6z"/>
<path fill="#10fff8" d="M586.8 397h4.6v4.6h-4.6z"/>
<path fill="#16fff2" d="M590.8 397h4.6v4.6h-4.6z"/>
<path fill="#25ffe3" d="M594.8 397h4.6v4.6h-4.6z"/>
<path fill="#38ffd0" d="M598.8 397h4.6v4.6h-4.6z"/>
<path fill="#4affbe" d="M602.8 397h4.6v4.6h-4.6z"/>
<path fill="#58ffb0" d="M606.8 397h4.6v4.6h-4.6z"/>
<path fill="#62ffa6" d="M610.8 397h4.6v4.6h-4.6z"/>
<path fill="#6aff9e" d="M614.8 397h4.6v4.6h-4.6z"/>
<path fill="#72ff96" d="M618.8 397h4.6v4.6h-4.6z"/>
<path fill="#78ff90" d="M622.8 397h4.6v4.6h-4.6z"/>
<path fill="#7cff8c" d="M626.8 397h4.6v4.6h-4.6z"/>
<path fill="#7aff8e" d="M630.8 397h4.6v4.6h-4.6z"/>
<path fill="#71ff97" d="M634.8 397h4.6v4.6h-4.6z"/>
<path fill="#60ffa8" d="M638.8 397h4.6v4.6h-4.6z"/>
<path fill="#49ffbf" d="M642.8 397h4.6v4.6h-4.6z"/>
<path fill="#2dffdb" d="M646.8 397h4.6v4.6h-4.6z"/>
<path fill="#0efffa" d="M650.8 397h4.6v4.6h-4.6z"/>
<path fill="#0ae3ff" d="M654.8 397h4.6v4.6h-4.6z"/>
<path fill="#f9ff0f" d="M498.8 401h4.6v4.6h-4.6z"/>
<path fill="#d6ff33" d="M502.8 401h4.6v4.6h-4.6z"/>
<path fill="#b4ff54" d="M506.8 401h4.6v4.6h-4.6z"/>
<path fill="#92ff77" d="M510.8 401h4.6v4.6h-4.6z"/>
<path fill="#74ff94" d="M514.8 401h4.6v4.6h-4.6z"/>
<path fill="#60ffa8" d="M518.8 401h4.6v4.6h-4.6z"/>
<path fill="#56ffb3" d="M522.8 401h4.6v4.6h-4.6z"/>
<path fill="#5fffa9" d="M526.8 401h4.6v4.6h-4.6z"/>
<path fill="#74ff94" d="M530.8 401h4.6v4.6h-4.6z"/>
<path fill="#88ff80" d="M534.8 401h4.6v4.6h-4.6z"/>
<path fill="#99ff6f" d="M538.8 401h4.6v4.6h-4.6z"/>
<path fill="#a9ff5f" d="M542.8 401h4.6v4.6h-4.6z"/>
<path fill="#b3ff55" d="M546.8 401h4.6v4.6h-4.6z"/>
<path fill="#b4ff54" d="M550.8 401h4.6v4.6h-4.6z"/>
<path fill="#adff5b" d="M554.8 401h4.6v4.6h-4.6z"/>
<path fill="#a2ff66" d="M558.8 401h4.6v4.6h-4.6z"/>
<path fill="#93ff75" d="M562.8 401h4.6v4.6h-4.6z"/>
<path fill="#7dff8b" d="M566.8 401h4.6v4.6h-4.6z"/>
<path fill="#60ffa8" d="M570.8 401h4.6v4.6h-4.6z"/>
<path fill="#41ffc8" d="M574.8 401h4.6v4.6h-4.6z"/>
<path fill="#2fffd9" d="M578.8 401h4.6v4.6h-4.6z"/>
<path fill="#29ffdf" d="M582.8 401h4.6v4.6h-4.6z"/>
<path fill="#29ffe0" d="M586.8 401h4.6v4.6h-4.6z"/>
<path fill="#2fffd9" d="M590.8 401h4.6v4.6h-4.6z"/>
<path fill="#3affce" d="M594.8 401h4.6v4.6h-4.6z"/>
<path fill="#49ffc0" d="M598.8 401h4.6v4.6h-4.6z"/>
<path fill="#57ffb2" d="M602.8 401h4.6v4.6h-4.6z"/>
<path fill="#63ffa5" d="M606.8 401h4.6v4.6h-4.6z"/>
<path fill="#6eff9b" d="M610.8 401h4.6v4.6h-4.6z"/>
<path fill="#78ff90" d="M614.8 401h4.6v4.6h-4.6z"/>
<path fill="#82ff87" d="M618.8 401h4.6v4.6h-4.6z"/>
<path fill="#8aff7e" d="M622.8 401h4.6v4.6h-4.6z"/>
<path fill="#8fff79" d="M626.8 401h4.6v4.6h-4.6z"/>
<path fill="#8dff7b" d="M630.8 401h4.6v4.6h-4.6z"/>
<path fill="#82ff86" d="M634.8 401h4.6v4.6h-4.6z"/>
<path fill="#6dff9b" d="M638.8 401h4.6v4.6h-4.6z"/>
<path fill="#51ffb7" d="M642.8 401h4.6v4.6h-4.6z"/>
<path fill="#31ffd7" d="M646.8 401h4.6v4.6h-4.6z"/>
<path fill="#0ffff9" d="M650.8 401h4.6v4.6h-4.6z"/>
<path fill="#0ae1ff" d="M654.8 401h4.6v4.6h-4.6z"/>
<path fill="#e9ff1f" d="M498.8 405h4.6v4.6h-4.6z"/>
<path fill="#c6ff42" d="M502.8 405h4.6v4.6h-4.6z"/>
<path fill="#a3ff65" d="M506.8 405h4.6v4.6h-4.6z"/>
<path fill="#80ff88" d="M510.8 405h4.6v4.6h-4.6z"/>
<path fill="#5fffa9" d="M514.8 405h4.6v4.6h-4.6z"/>
<path fill="#48ffc0" d="M518.8 405h4.6v4.6h-4.6z"/>
<path fill="#3dffcb" d="M522.8 405h4.6v4.6h-4.6z"/>
<path fill="#42ffc7" d="M526.8 405h4.6v4.6h-4.6z"/>
<path fill="#4dffbb" d="M530.8 405h4.6v4.6h-4.6z"/>
<path fill="#5bffad" d="M534.8 405h4.6v4.6h-4.6z"/>
<path fill="#76ff92" d="M538.8 405h4.6v4.6h-4.6z"/>
<path fill="#95ff74" d="M542.8 405h4.6v4.6h-4.6z"/>
<path fill="#adff5b" d="M546.8 405h4.6v4.6h-4.6z"/>
<path fill="#b5ff53" d="M550.8 405h4.6v4.6h-4.6z"/>
<path fill="#b0ff58" d="M554.8 405h4.6v4.6h-4.6z"/>
<path fill="#a4ff64" d="M558.8 405h4.6v4.6h-4.6z"/>
<path fill="#95ff73" d="M562.8 405h4.6v4.6h-4.6z"/>
<path fill="#81ff87" d="M566.8 405h4.6v4.6h-4.6z"/>
<path fill="#6bff9e" d="M570.8 405h4.6v4.6h-4.6z"/>
<path fill="#56ffb2" d="M574.8 405h4.6v4.6h-4.6z"/>
<path fill="#4affbe" d="M578.8 405h4.6v4.6h-4.6z"/>
<path fill="#47ffc1" d="M582.8 405h4.6v4.6h-4.6z"/>
<path fill="#47ffc2" d="M586.8 405h4.6v4.6h-4.6z"/>
<path fill="#49ffbf" d="M590.8 405h4.6v4.6h-4.6z"/>
<path fill="#4effba" d="M594.8 405h4.6v4.6h-4.6z"/>
<path fill="#56ffb3" d="M598.8 405h4.6v4.6h-4.6z"/>
<path fill="#5fffaa" d="M602.8 405h4.6v4.6h-4.6z"/>
<path fill="#68ffa0" d="M606.8 405h4.6v4.6h-4.6z"/>
<path fill="#72ff96" d="M610.8 405h4.6v4.6h-4.6z"/>
<path fill="#7dff8c" d="M614.8 405h4.6v4.6h-4.6z"/>
<path fill="#88ff80" d="M618.8 405h4.6v4.6h-4.6z"/>
<path fill="#94ff75" d="M622.8 405h4.6v4.6h-4.6z"/>
<path fill="#9bff6d" d="M626.8 405h4.6v4.6h-4.6z"/>
<path fill="#99ff6f" d="M630.8 405h4.6v4.6h-4.6z"/>
<path fill="#8cff7d" d="M634.8 405h4.6v4.6h-4.6z"/>
<path fill="#73ff95" d="M638.8 405h4.6v4.6h-4.6z"/>
<path fill="#53ffb5" d="M642.8 405h4.6v4.6h-4.6z"/>
<path fill="#2fffda" d="M646.8 405h4.6v4.6h-4.6z"/>
<path fill="#0afffe" d="M650.8 405h4.6v4.6h-4.6z"/>
<path fill="#0adaff" d="M654.8 405h4.6v4.6h-4.6z"/>
<path fill="#dfff2a" d="M498.8 409h4.6v4.6h-4.6z"/>
<path fill="#bcff4c" d="M502.8 409h4.6v4.6h-4.6z"/>
<path fill="#99ff6f" d="M506.8 409h4.6v4.6h-4.6z"/>
<path fill="#77ff91" d="M510.8 409h4.6v4.6h-4.6z"/>
<path fill="#57ffb1" d="M514.8 409h4.6v4.6h-4.6z"/>
<path fill="#43ffc5" d="M518.8 409h4.6v4.6h-4.6z"/>
<path fill="#3dffcb" d="M522.8 409h4.6v4.6h-4.6z"/>
<path fill="#3dffcb" d="M526.8 409h4.6v4.6h-4.6z"/>
<path fill="#3dffcb" d="M530.8 409h4.6v4.6h-4.6z"/>
<path fill="#45ffc3" d="M534.8 409h4.6v4.6h-4.6z"/>
<path fill="#5dffab" d="M538.8 409h4.6v4.6h-4.6z"/>
<path fill="#82ff86" d="M542.8 409h4.6v4.6h-4.6z"/>
<path fill="#a8ff60" d="M546.8 409h4.6v4.6h-4.6z"/>
<path fill="#b7ff51" d="M550.8 409h4.6v4.6h-4.6z"/>
<path fill="#b5ff53" d="M554.8 409h4.6v4.6h-4.6z"/>
<path fill="#aaff5e" d="M558.8 409h4.6v4.6h-4.6z"/>
<path fill="#9bff6d" d="M562.8 409h4.6v4.6h-4.6z"/>
<path fill="#8bff7d" d="M566.8 409h4.6v4.6h-4.6z"/>
<path fill="#7cff8c" d="M570.8 409h4.6v4.6h-4.6z"/>
<path fill="#70ff98" d="M574.8 409h4.6v4.6h-4.6z"/>
<path fill="#6aff9e" d="M578.8 409h4.6v4.6h-4.6z"/>
<path fill="#68ffa0" d="M582.8 409h4.6v4.6h-4.6z"/>
<path fill="#66ffa2" d="M586.8 409h4.6v4.6h-4.6z"/>
<path fill="#61ffa7" d="M590.8 409h4.6v4.6h-4.6z"/>
<path fill="#5effab" d="M594.8 409h4.6v4.6h-4.6z"/>
<path fill="#5effab" d="M598.8 409h4.6v4.6h-4.6z"/>
<path fill="#61ffa7" d="M602.8 409h4.6v4.6h-4.6z"/>
<path fill="#67ffa2" d="M606.8 409h4.6v4.6h-4.6z"/>
<path fill="#6eff9a" d="M610.8 409h4.6v4.6h-4.6z"/>
<path fill="#78ff90" d="M614.8 409h4.6v4.6h-4.6z"/>
<path fill="#84ff85" d="M618.8 409h4.6v4.6h-4.6z"/>
<path fill="#91ff77" d="M622.8 409h4.6v4.6h-4.6z"/>
<path fill="#9bff6d" d="M626.8 409h4.6v4.6h-4.6z"/>
<path fill="#9aff6e" d="M630.8 409h4.6v4.6h-4.6z"/>
<path fill="#8aff7f" d="M634.8 409h4.6v4.6h-4.6z"/>
<path fill="#6eff9a" d="M638.8 409h4.6v4.6h-4.6z"/>
<path fill="#4bffbd" d="M642.8 409h4.6v4.6h-4.6z"/>
<path fill="#24ffe4" d="M646.8 409h4.6v4.6h-4.6z"/>
<path fill="#0af1ff" d="M650.8 409h4.6v4.6h-4.6z"/>
<path fill="#0acbff" d="M654.8 409h4.6v4.6h-4.6z"/>
<path fill="#b9ff4f" d="M502.8 413h4.6v4.6h-4.6z"/>
<path fill="#99ff6f" d="M506.8 413h4.6v4.6h-4.6z"/>
<path fill="#7aff8e" d="M510.8 413h4.6v4.6h-4.6z"/>
<path fill="#60ffa8" d="M514.8 413h4.6v4.6h-4.6z"/>
<path fill="#50ffb8" d="M518.8 413h4.6v4.6h-4.6z"/>
<path fill="#4bffbd" d="M522.8 413h4.6v4.6h-4.6z"/>
<path fill="#48ffc1" d="M526.8 413h4.6v4.6h-4.6z"/>
<path fill="#3effca" d="M530.8 413h4.6v4.6h-4.6z"/>
<path fill="#3dffcc" d="M534.8 413h4.6v4.6h-4.6z"/>
<path fill="#4bffbd" d="M538.8 413h4.6v4.6h-4.6z"/>
<path fill="#6dff9b" d="M542.8 413h4.6v4.6h-4.6z"/>
<path fill="#9aff6e" d="M546.8 413h4.6v4.6h-4.6z"/>
<path fill="#b5ff53" d="M550.8 413h4.6v4.6h-4.6z"/>
<path fill="#baff4e" d="M554.8 413h4.6v4.6h-4.6z"/>
<path fill="#b2ff56" d="M558.8 413h4.6v4.6h-4.6z"/>
<path fill="#a4ff64" d="M562.8 413h4.6v4.6h-4.6z"/>
<path fill="#98ff70" d="M566.8 413h4.6v4.6h-4.6z"/>
<path fill="#8fff79" d="M570.8 413h4.6v4.6h-4.6z"/>
<path fill="#88ff80" d="M574.8 413h4.6v4.6h-4.6z"/>
<path fill="#84ff84" d="M578.8 413h4.6v4.6h-4.6z"/>
<path fill="#83ff85" d="M582.8 413h4.6v4.6h-4.6z"/>
<path fill="#7dff8b" d="M586.8 413h4.6v4.6h-4.6z"/>
<path fill="#70ff98" d="M590.8 413h4.6v4.6h-4.6z"/>
<path fill="#65ffa3" d="M594.8 413h4.6v4.6h-4.6z"/>
<path fill="#5effaa" d="M598.8 413h4.6v4.6h-4.6z"/>
<path fill="#5cffac" d="M602.8 413h4.6v4.6h-4.6z"/>
<path fill="#5effab" d="M606.8 413h4.6v4.6h-4.6z"/>
<path fill="#62ffa6" d="M610.8 413h4.6v4.6h-4.6z"/>
<path fill="#6aff9f" d="M614.8 413h4.6v4.6h-4.6z"/>
<path fill="#73ff95" d="M618.8 413h4.6v4.6h-4.6z"/>
<path fill="#7eff8a" d="M622.8 413h4.6v4.6h-4.6z"/>
<path fill="#88ff80" d="M626.8 413h4.6v4.6h-4.6z"/>
<path fill="#87ff81" d="M630.8 413h4.6v4.6h-4.6z"/>
<path fill="#75ff94" d="M634.8 413h4.6v4.6h-4.6z"/>
<path fill="#5affaf" d="M638.8 413h4.6v4.6h-4.6z"/>
<path fill="#36ffd3" d="M642.8 413h4.6v4.6h-4.6z"/>
<path fill="#0dfffb" d="M646.8 413h4.6v4.6h-4.6z"/>
<path fill="#0adaff" d="M650.8 413h4.6v4.6h-4.6z"/>
<path fill="#bcff4c" d="M502.8 417h4.6v4.6h-4.6z"/>
<path fill="#a0ff68" d="M506.8 417h4.6v4.6h-4.6z"/>
<path fill="#87ff81" d="M510.8 417h4.6v4.6h-4.6z"/>
<path fill="#73ff95" d="M514.8 417h4.6v4.6h-4.6z"/>
<path fill="#65ffa3" d="M518.8 417h4.6v4.6h-4.6z"/>
<path fill="#5cffad" d="M522.8 417h4.6v4.6h-4.6z"/>
<path fill="#52ffb6" d="M526.8 417h4.6v4.6h-4.6z"/>
<path fill="#46ffc2" d="M530.8 417h4.6v4.6h-4.6z"/>
<path fill="#3fffc9" d="M534.8 417h4.6v4.6h-4.6z"/>
<path fill="#46ffc2" d="M538.8 417h4.6v4.6h-4.6z"/>
<path fill="#62ffa6" d="M542.8 417h4.6v4.6h-4.6z"/>
<path fill="#92ff77" d="M546.8 417h4.6v4.6h-4.6z"/>
<path fill="#b5ff54" d="M550.8 417h4.6v4.6h-4.6z"/>
<path fill="#c2ff46" d="M554.8 417h4.6v4.6h-4.6z"/>
<path fill="#beff4a" d="M558.8 417h4.6v4.6h-4.6z"/>
<path fill="#b2ff56" d="M562.8 417h4.6v4.6h-4.6z"/>
<path fill="#a8ff60" d="M566.8 417h4.6v4.6h-4.6z"/>
<path fill="#a1ff68" d="M570.8 417h4.6v4.6h-4.6z"/>
<path fill="#9aff6e" d="M574.8 417h4.6v4.6h-4.6z"/>
<path fill="#95ff74" d="M578.8 417h4.6v4.6h-4.6z"/>
<path fill="#8eff7a" d="M582.8 417h4.6v4.6h-4.6z"/>
<path fill="#82ff86" d="M586.8 417h4.6v4.6h-4.6z"/>
<path fill="#71ff97" d="M590.8 417h4.6v4.6h-4.6z"/>
<path fill="#61ffa7" d="M594.8 417h4.6v4.6h-4.6z"/>
<path fill="#56ffb2" d="M598.8 417h4.6v4.6h-4.6z"/>
<path fill="#50ffb9" d="M602.8 417h4.6v4.6h-4.6z"/>
<path fill="#4dffbb" d="M606.8 417h4.6v4.6h-4.6z"/>
<path fill="#4effba" d="M610.8 417h4.6v4.6h-4.6z"/>
<path fill="#51ffb7" d="M614.8 417h4.6v4.6h-4.6z"/>
<path fill="#56ffb2" d="M618.8 417h4.6v4.6h-4.6z"/>
<path fill="#5bffad" d="M622.8 417h4.6v4.6h-4.6z"/>
<path fill="#5dffab" d="M626.8 417h4.6v4.6h-4.6z"/>
<path fill="#57ffb1" d="M630.8 417h4.6v4.6h-4.6z"/>
<path fill="#46ffc2" d="M634.8 417h4.6v4.6h-4.6z"/>
<path fill="#2fffd9" d="M638.8 417h4.6v4.6h-4.6z"/>
<path fill="#0dfffb" d="M642.8 417h4.6v4.6h-4.6z"/>
<path fill="#0adcff" d="M646.8 417h4.6v4.6h-4.6z"/>
<path fill="#0ab8ff" d="M650.8 417h4.6v4.6h-4.6z"/>
<path fill="#c4ff45" d="M502.8 421h4.6v4.6h-4.6z"/>
<path fill="#adff5b" d="M506.8 421h4.6v4.6h-4.6z"/>
<path fill="#99ff6f" d="M510.8 421h4.6v4.6h-4.6z"/>
<path fill="#8aff7e" d="M514.8 421h4.6v4.6h-4.6z"/>
<path fill="#7dff8b" d="M518.8 421h4.6v4.6h-4.6z"/>
<path fill="#71ff97" d="M522.8 421h4.6v4.6h-4.6z"/>
<path fill="#64ffa4" d="M526.8 421h4.6v4.6h-4.6z"/>
<path fill="#57ffb1" d="M530.8 421h4.6v4.6h-4.6z"/>
<path fill="#4fffb9" d="M534.8 421h4.6v4.6h-4.6z"/>
<path fill="#56ffb2" d="M538.8 421h4.6v4.6h-4.6z"/>
<path fill="#6fff99" d="M542.8 421h4.6v4.6h-4.6z"/>
<path fill="#96ff73" d="M546.8 421h4.6v4.6h-4.6z"/>
<path fill="#b8ff50" d="M550.8 421h4.6v4.6h-4.6z"/>
<path fill="#ccff3c" d="M554.8 421h4.6v4.6h-4.6z"/>
<path fill="#ccff3c" d="M558.8 421h4.6v4.6h-4.6z"/>
<path fill="#c2ff46" d="M562.8 421h4.6v4.6h-4.6z"/>
<path fill="#b8ff50" d="M566.8 421h4.6v4.6h-4.6z"/>
<path fill="#b0ff58" d="M570.8 421h4.6v4.6h-4.6z"/>
<path fill="#a7ff61" d="M574.8 421h4.6v4.6h-4.6z"/>
<path fill="#9cff6c" d="M578.8 421h4.6v4.6h-4.6z"/>
<path fill="#8dff7b" d="M582.8 421h4.6v4.6h-4.6z"/>
<path fill="#7aff8e" d="M586.8 421h4.6v4.6h-4.6z"/>
<path fill="#65ffa3" d="M590.8 421h4.6v4.6h-4.6z"/>
<path fill="#53ffb5" d="M594.8 421h4.6v4.6h-4.6z"/>
<path fill="#46ffc2" d="M598.8 421h4.6v4.6h-4.6z"/>
<path fill="#3dffcb" d="M602.8 421h4.6v4.6h-4.6z"/>
<path fill="#37ffd1" d="M606.8 421h4.6v4.6h-4.6z"/>
<path fill="#34ffd4" d="M610.8 421h4.6v4.6h-4.6z"/>
<path fill="#32ffd7" d="M614.8 421h4.6v4.6h-4.6z"/>
<path fill="#2fffd9" d="M618.8 421h4.6v4.6h-4.6z"/>
<path fill="#2bffdd" d="M622.8 421h4.6v4.6h-4.6z"/>
<path fill="#23ffe6" d="M626.8 421h4.6v4.6h-4.6z"/>
<path fill="#15fff3" d="M630.8 421h4.6v4.6h-4.6z"/>
<path fill="#0af8ff" d="M634.8 421h4.6v4.6h-4.6z"/>
<path fill="#0ae2ff" d="M638.8 421h4.6v4.6h-4.6z"/>
<path fill="#0ac7ff" d="M642.8 421h4.6v4.6h-4.6z"/>
<path fill="#0aa9ff" d="M646.8 421h4.6v4.6h-4.6z"/>
<path fill="#0a8cff" d="M650.8 421h4.6v4.6h-4.6z"/>
<path fill="#bbff4d" d="M506.8 425h4.6v4.6h-4.6z"/>
<path fill="#acff5c" d="M510.8 425h4.6v4.6h-4.6z"/>
<path fill="#a1ff67" d="M514.8 425h4.6v4.6h-4.6z"/>
<path fill="#97ff71" d="M518.8 425h4.6v4.6h-4.6z"/>
<path fill="#8bff7d" d="M522.8 425h4.6v4.6h-4.6z"/>
<path fill="#7fff8a" d="M526.8 425h4.6v4.6h-4.6z"/>
<path fill="#73ff96" d="M530.8 425h4.6v4.6h-4.6z"/>
<path fill="#6cff9c" d="M534.8 425h4.6v4.6h-4.6z"/>
<path fill="#71ff97" d="M538.8 425h4.6v4.6h-4.6z"/>
<path fill="#84ff84" d="M542.8 425h4.6v4.6h-4.6z"/>
<path fill="#9fff69" d="M546.8 425h4.6v4.6h-4.6z"/>
<path fill="#bbff4d" d="M550.8 425h4.6v4.6h-4.6z"/>
<path fill="#ceff3a" d="M554.8 425h4.6v4.6h-4.6z"/>
<path fill="#d1ff37" d="M558.8 425h4.6v4.6h-4.6z"/>
<path fill="#caff3e" d="M562.8 425h4.6v4.6h-4.6z"/>
<path fill="#c2ff46" d="M566.8 425h4.6v4.6h-4.6z"/>
<path fill="#bbff4e" d="M570.8 425h4.6v4.6h-4.6z"/>
<path fill="#afff59" d="M574.8 425h4.6v4.6h-4.6z"/>
<path fill="#9eff6a" d="M578.8 425h4.6v4.6h-4.6z"/>
<path fill="#85ff83" d="M582.8 425h4.6v4.6h-4.6z"/>
<path fill="#6bff9e" d="M586.8 425h4.6v4.6h-4.6z"/>
<path fill="#53ffb6" d="M590.8 425h4.6v4.6h-4.6z"/>
<path fill="#3fffc9" d="M594.8 425h4.6v4.6h-4.6z"/>
<path fill="#31ffd7" d="M598.8 425h4.6v4.6h-4.6z"/>
<path fill="#27ffe1" d="M602.8 425h4.6v4.6h-4.6z"/>
<path fill="#1fffe9" d="M606.8 425h4.6v4.6h-4.6z"/>
<path fill="#18fff1" d="M610.8 425h4.6v4.6h-4.6z"/>
<path fill="#10fff9" d="M614.8 425h4.6v4.6h-4.6z"/>
<path fill="#0afaff" d="M618.8 425h4.6v4.6h-4.6z"/>
<path fill="#0aebff" d="M622.8 425h4.6v4.6h-4.6z"/>
<path fill="#0ad8ff" d="M626.8 425h4.6v4.6h-4.6z"/>
<path fill="#0ac2ff" d="M630.8 425h4.6v4.6h-4.6z"/>
<path fill="#0aabff" d="M634.8 425h4.6v4.6h-4.6z"/>
<path fill="#0a97ff" d="M638.8 425h4.6v4.6h-4.6z"/>
<path fill="#0a84ff" d="M642.8 425h4.6v4.6h-4.6z"/>
<path fill="#0a70ff" d="M646.8 425h4.6v4.6h-4.6z"/>
<path fill="#c9ff3f" d="M506.8 429h4.6v4.6h-4.6z"/>
<path fill="#bdff4b" d="M510.8 429h4.6v4.6h-4.6z"/>
<path fill="#b6ff52" d="M514.8 429h4.6v4.6h-4.6z"/>
<path fill="#afff59" d="M518.8 429h4.6v4.6h-4.6z"/>
<path fill="#a7ff61" d="M522.8 429h4.6v4.6h-4.6z"/>
<path fill="#9eff6b" d="M526.8 429h4.6v4.6h-4.6z"/>
<path fill="#94ff74" d="M530.8 429h4.6v4.6h-4.6z"/>
<path fill="#8eff7a" d="M534.8 429h4.6v4.6h-4.6z"/>
<path fill="#8eff7a" d="M538.8 429h4.6v4.6h-4.6z"/>
<path fill="#98ff70" d="M542.8 429h4.6v4.6h-4.6z"/>
<path fill="#a8ff60" d="M546.8 429h4.6v4.6h-4.6z"/>
<path fill="#baff4e" d="M550.8 429h4.6v4.6h-4.6z"/>
<path fill="#c7ff41" d="M554.8 429h4.6v4.6h-4.6z"/>
<path fill="#cbff3e" d="M558.8 429h4.6v4.6h-4.6z"/>
<path fill="#c8ff40" d="M562.8 429h4.6v4.6h-4.6z"/>
<path fill="#c3ff45" d="M566.8 429h4.6v4.6h-4.6z"/>
<path fill="#beff4a" d="M570.8 429h4.6v4.6h-4.6z"/>
<path fill="#b4ff54" d="M574.8 429h4.6v4.6h-4.6z"/>
<path fill="#9dff6b" d="M578.8 429h4.6v4.6h-4.6z"/>
<path fill="#79ff8f" d="M582.8 429h4.6v4.6h-4.6z"/>
<path fill="#57ffb2" d="M586.8 429h4.6v4.6h-4.6z"/>
<path fill="#3dffcb" d="M590.8 429h4.6v4.6h-4.6z"/>
<path fill="#2bffde" d="M594.8 429h4.6v4.6h-4.6z"/>
<path fill="#1effeb" d="M598.8 429h4.6v4.6h-4.6z"/>
<path fill="#13fff5" d="M602.8 429h4.6v4.6h-4.6z"/>
<path fill="#0afeff" d="M606.8 429h4.6v4.6h-4.6z"/>
<path fill="#0af3ff" d="M610.8 429h4.6v4.6h-4.6z"/>
<path fill="#0ae5ff" d="M614.8 429h4.6v4.6h-4.6z"/>
<path fill="#0ad3ff" d="M618.8 429h4.6v4.6h-4.6z"/>
<path fill="#0abcff" d="M622.8 429h4.6v4.6h-4.6z"/>
<path fill="#0a9eff" d="M626.8 429h4.6v4.6h-4.6z"/>
<path fill="#0a7dff" d="M630.8 429h4.6v4.6h-4.6z"/>
<path fill="#0a5fff" d="M634.8 429h4.6v4.6h-4.6z"/>
<path fill="#0a4eff" d="M638.8 429h4.6v4.6h-4.6z"/>
<path fill="#0a43ff" d="M642.8 429h4.6v4.6h-4.6z"/>
<path fill="#0a38ff" d="M646.8 429h4.6v4.6h-4.6z"/>
<path fill="#d5ff33" d="M506.8 433h4.6v4.6h-4.6z"/>
<path fill="#cbff3d" d="M510.8 433h4.6v4.6h-4.6z"/>
<path fill="#c5ff43" d="M514.8 433h4.6v4.6h-4.6z"/>
<path fill="#c2ff46" d="M518.8 433h4.6v4.6h-4.6z"/>
<path fill="#c0ff48" d="M522.8 433h4.6v4.6h-4.6z"/>
<path fill="#bdff4c" d="M526.8 433h4.6v4.6h-4.6z"/>
<path fill="#b6ff52" d="M530.8 433h4.6v4.6h-4.6z"/>
<path fill="#adff5b" d="M534.8 433h4.6v4.6h-4.6z"/>
<path fill="#a8ff60" d="M538.8 433h4.6v4.6h-4.6z"/>
<path fill="#a8ff60" d="M542.8 433h4.6v4.6h-4.6z"/>
<path fill="#aeff5a" d="M546.8 433h4.6v4.6h-4.6z"/>
<path fill="#b5ff53" d="M550.8 433h4.6v4.6h-4.6z"/>
<path fill="#bbff4d" d="M554.8 433h4.6v4.6h-4.6z"/>
<path fill="#bdff4b" d="M558.8 433h4.6v4.6h-4.6z"/>
<path fill="#bbff4d" d="M562.8 433h4.6v4.6h-4.6z"/>
<path fill="#b9ff4f" d="M566.8 433h4.6v4.6h-4.6z"/>
<path fill="#b5ff53" d="M570.8 433h4.6v4.6h-4.6z"/>
<path fill="#adff5b" d="M574.8 433h4.6v4.6h-4.6z"/>
<path fill="#93ff76" d="M578.8 433h4.6v4.6h-4.6z"/>
<path fill="#67ffa1" d="M582.8 433h4.6v4.6h-4.6z"/>
<path fill="#40ffc8" d="M586.8 433h4.6v4.6h-4.6z"/>
<path fill="#29ffdf" d="M590.8 433h4.6v4.6h-4.6z"/>
<path fill="#1bffed" d="M594.8 433h4.6v4.6h-4.6z"/>
<path fill="#10fff8" d="M598.8 433h4.6v4.6h-4.6z"/>
<path fill="#0afaff" d="M602.8 433h4.6v4.6h-4.6z"/>
<path fill="#0aeeff" d="M606.8 433h4.6v4.6h-4.6z"/>
<path fill="#0ae0ff" d="M610.8 433h4.6v4.6h-4.6z"/>
<path fill="#0aceff" d="M614.8 433h4.6v4.6h-4.6z"/>
<path fill="#0ab7ff" d="M618.8 433h4.6v4.6h-4.6z"/>
<path fill="#0a98ff" d="M622.8 433h4.6v4.6h-4.6z"/>
<path fill="#0a72ff" d="M626.8 433h4.6v4.6h-4.6z"/>
<path fill="#0a47ff" d="M630.8 433h4.6v4.6h-4.6z"/>
<path fill="#0a22ff" d="M634.8 433h4.6v4.6h-4.6z"/>
<path fill="#0a14ff" d="M638.8 433h4.6v4.6h-4.6z"/>
<path fill="#0a0fff" d="M642.8 433h4.6v4.6h-4.6z"/>
<path fill="#0a0aff" d="M646.8 433h4.6v4.6h-4.6z"/>
<path fill="#d7ff31" d="M510.8 437h4.6v4.6h-4.6z"/>
<path fill="#d2ff36" d="M514.8 437h4.6v4.6h-4.6z"/>
<path fill="#d3ff35" d="M518.8 437h4.6v4.6h-4.6z"/>
<path fill="#d6ff32" d="M522.8 437h4.6v4.6h-4.6z"/>
<path fill="#d8ff30" d="M526.8 437h4.6v4.6h-4.6z"/>
<path fill="#d2ff36" d="M530.8 437h4.6v4.6h-4.6z"/>
<path fill="#c6ff43" d="M534.8 437h4.6v4.6h-4.6z"/>
<path fill="#b9ff4f" d="M538.8 437h4.6v4.6h-4.6z"/>
<path fill="#b1ff57" d="M542.8 437h4.6v4.6h-4.6z"/>
<path fill="#aeff5b" d="M546.8 437h4.6v4.6h-4.6z"/>
<path fill="#adff5b" d="M550.8 437h4.6v4.6h-4.6z"/>
<path fill="#adff5c" d="M554.8 437h4.6v4.6h-4.6z"/>
<path fill="#acff5d" d="M558.8 437h4.6v4.6h-4.6z"/>
<path fill="#a9ff5f" d="M562.8 437h4.6v4.6h-4.6z"/>
<path fill="#a6ff62" d="M566.8 437h4.6v4.6h-4.6z"/>
<path fill="#a2ff66" d="M570.8 437h4.6v4.6h-4.6z"/>
<path fill="#99ff6f" d="M574.8 437h4.6v4.6h-4.6z"/>
<path fill="#81ff88" d="M578.8 437h4.6v4.6h-4.6z"/>
<path fill="#58ffb0" d="M582.8 437h4.6v4.6h-4.6z"/>
<path fill="#32ffd6" d="M586.8 437h4.6v4.6h-4.6z"/>
<path fill="#22ffe6" d="M590.8 437h4.6v4.6h-4.6z"/>
<path fill="#17fff1" d="M594.8 437h4.6v4.6h-4.6z"/>
<path fill="#0dfffb" d="M598.8 437h4.6v4.6h-4.6z"/>
<path fill="#0af7ff" d="M602.8 437h4.6v4.6h-4.6z"/>
<path fill="#0aeaff" d="M606.8 437h4.6v4.6h-4.6z"/>
<path fill="#0ad9ff" d="M610.8 437h4.6v4.6h-4.6z"/>
<path fill="#0ac4ff" d="M614.8 437h4.6v4.6h-4.6z"/>
<path fill="#0aa8ff" d="M618.8 437h4.6v4.6h-4.6z"/>
<path fill="#0a84ff" d="M622.8 437h4.6v4.6h-4.6z"/>
<path fill="#0a5bff" d="M626.8 437h4.6v4.6h-4.6z"/>
<path fill="#0a2dff" d="M630.8 437h4.6v4.6h-4.6z"/>
<path fill="#0a0afc" d="M634.8 437h4.6v4.6h-4.6z"/>
<path fill="#0a0aea" d="M638.8 437h4.6v4.6h-4.6z"/>
<path fill="#0a0ae3" d="M642.8 437h4.6v4.6h-4.6z"/>
<path fill="#e0ff28" d="M514.8 441h4.6v4.6h-4.6z"/>
<path fill="#e2ff26" d="M518.8 441h4.6v4.6h-4.6z"/>
<path fill="#e6ff22" d="M522.8 441h4.6v4.6h-4.6z"/>
<path fill="#e9ff1f" d="M526.8 441h4.6v4.6h-4.6z"/>
<path fill="#e3ff25" d="M530.8 441h4.6v4.6h-4.6z"/>
<path fill="#d3ff36" d="M534.8 441h4.6v4.6h-4.6z"/>
<path fill="#c1ff47" d="M538.8 441h4.6v4.6h-4.6z"/>
<path fill="#b3ff55" d="M542.8 441h4.6v4.6h-4.6z"/>
<path fill="#a9ff60" d="M546.8 441h4.6v4.6h-4.6z"/>
<path fill="#a2ff67" d="M550.8 441h4.6v4.6h-4.6z"/>
<path fill="#9dff6b" d="M554.8 441h4.6v4.6h-4.6z"/>
<path fill="#99ff6f" d="M558.8 441h4.6v4.6h-4.6z"/>
<path fill="#96ff72" d="M562.8 441h4.6v4.6h-4.6z"/>
<path fill="#92ff76" d="M566.8 441h4.6v4.6h-4.6z"/>
<path fill="#8fff79" d="M570.8 441h4.6v4.6h-4.6z"/>
<path fill="#8aff7e" d="M574.8 441h4.6v4.6h-4.6z"/>
<path fill="#7bff8d" d="M578.8 441h4.6v4.6h-4.6z"/>
<path fill="#61ffa8" d="M582.8 441h4.6v4.6h-4.6z"/>
<path fill="#43ffc5" d="M586.8 441h4.6v4.6h-4.6z"/>
<path fill="#30ffd8" d="M590.8 441h4.6v4.6h-4.6z"/>
<path fill="#24ffe5" d="M594.8 441h4.6v4.6h-4.6z"/>
<path fill="#19ffef" d="M598.8 441h4.6v4.6h-4.6z"/>
<path fill="#0dfffb" d="M602.8 441h4.6v4.6h-4.6z"/>
<path fill="#0af3ff" d="M606.8 441h4.6v4.6h-4.6z"/>
<path fill="#0ae0ff" d="M610.8 441h4.6v4.6h-4.6z"/>
<path fill="#0ac7ff" d="M614.8 441h4.6v4.6h-4.6z"/>
<path fill="#0aa7ff" d="M618.8 441h4.6v4.6h-4.6z"/>
<path fill="#0a81ff" d="M622.8 441h4.6v4.6h-4.6z"/>
<path fill="#0a55ff" d="M626.8 441h4.6v4.6h-4.6z"/>
<path fill="#0a29ff" d="M630.8 441h4.6v4.6h-4.6z"/>
<path fill="#0a0afa" d="M634.8 441h4.6v4.6h-4.6z"/>
<path fill="#0a0ae2" d="M638.8 441h4.6v4.6h-4.6z"/>
<path fill="#edff1b" d="M514.8 445h4.6v4.6h-4.6z"/>
<path fill="#edff1c" d="M518.8 445h4.6v4.6h-4.6z"/>
<path fill="#eeff1a" d="M522.8 445h4.6v4.6h-4.6z"/>
<path fill="#edff1c" d="M526.8 445h4.6v4.6h-4.6z"/>
<path fill="#e4ff24" d="M530.8 445h4.6v4.6h-4.6z"/>
<path fill="#d3ff35" d="M534.8 445h4.6v4.6h-4.6z"/>
<path fill="#c0ff48" d="M538.8 445h4.6v4.6h-4.6z"/>
<path fill="#aeff5a" d="M542.8 445h4.6v4.6h-4.6z"/>
<path fill="#a0ff68" d="M546.8 445h4.6v4.6h-4.6z"/>
<path fill="#96ff73" d="M550.8 445h4.6v4.6h-4.6z"/>
<path fill="#8fff7a" d="M554.8 445h4.6v4.6h-4.6z"/>
<path fill="#8aff7e" d="M558.8 445h4.6v4.6h-4.6z"/>
<path fill="#87ff81" d="M562.8 445h4.6v4.6h-4.6z"/>
<path fill="#85ff84" d="M566.8 445h4.6v4.6h-4.6z"/>
<path fill="#85ff83" d="M570.8 445h4.6v4.6h-4.6z"/>
<path fill="#88ff80" d="M574.8 445h4.6v4.6h-4.6z"/>
<path fill="#85ff84" d="M578.8 445h4.6v4.6h-4.6z"/>
<path fill="#79ff8f" d="M582.8 445h4.6v4.6h-4.6z"/>
<path fill="#63ffa5" d="M586.8 445h4.6v4.6h-4.6z"/>
<path fill="#4effba" d="M590.8 445h4.6v4.6h-4.6z"/>
<path fill="#3fffc9" d="M594.8 445h4.6v4.6h-4.6z"/>
<path fill="#33ffd5" d="M598.8 445h4.6v4.6h-4.6z"/>
<path fill="#26ffe2" d="M602.8 445h4.6v4.6h-4.6z"/>
<path fill="#14fff4" d="M606.8 445h4.6v4.6h-4.6z"/>
<path fill="#0af2ff" d="M610.8 445h4.6v4.6h-4.6z"/>
<path fill="#0ad6ff" d="M614.8 445h4.6v4.6h-4.6z"/>
<path fill="#0ab4ff" d="M618.8 445h4.6v4.6h-4.6z"/>
<path fill="#0a8bff" d="M622.8 445h4.6v4.6h-4.6z"/>
<path fill="#0a5fff" d="M626.8 445h4.6v4.6h-4.6z"/>
<path fill="#0a34ff" d="M630.8 445h4.6v4.6h-4.6z"/>
<path fill="#0a0fff" d="M634.8 445h4.6v4.6h-4.6z"/>
<path fill="#0a0ae9" d="M638.8 445h4.6v4.6h-4.6z"/>
<path fill="#f3ff15" d="M518.8 449h4.6v4.6h-4.6z"/>
<path fill="#f0ff18" d="M522.8 449h4.6v4.6h-4.6z"/>
<path fill="#eaff1e" d="M526.8 449h4.6v4.6h-4.6z"/>
<path fill="#dfff2a" d="M530.8 449h4.6v4.6h-4.6z"/>
<path fill="#cdff3b" d="M534.8 449h4.6v4.6h-4.6z"/>
<path fill="#baff4f" d="M538.8 449h4.6v4.6h-4.6z"/>
<path fill="#a7ff61" d="M542.8 449h4.6v4.6h-4.6z"/>
<path fill="#98ff70" d="M546.8 449h4.6v4.6h-4.6z"/>
<path fill="#8cff7d" d="M550.8 449h4.6v4.6h-4.6z"/>
<path fill="#84ff84" d="M554.8 449h4.6v4.6h-4.6z"/>
<path fill="#81ff87" d="M558.8 449h4.6v4.6h-4.6z"/>
<path fill="#81ff88" d="M562.8 449h4.6v4.6h-4.6z"/>
<path fill="#83ff85" d="M566.8 449h4.6v4.6h-4.6z"/>
<path fill="#8aff7e" d="M570.8 449h4.6v4.6h-4.6z"/>
<path fill="#93ff75" d="M574.8 449h4.6v4.6h-4.6z"/>
<path fill="#99ff6f" d="M578.8 449h4.6v4.6h-4.6z"/>
<path fill="#96ff72" d="M582.8 449h4.6v4.6h-4.6z"/>
<path fill="#87ff81" d="M586.8 449h4.6v4.6h-4.6z"/>
<path fill="#74ff94" d="M590.8 449h4.6v4.6h-4.6z"/>
<path fill="#65ffa3" d="M594.8 449h4.6v4.6h-4.6z"/>
<path fill="#5affae" d="M598.8 449h4.6v4.6h-4.6z"/>
<path fill="#4bffbd" d="M602.8 449h4.6v4.6h-4.6z"/>
<path fill="#35ffd3" d="M606.8 449h4.6v4.6h-4.6z"/>
<path fill="#1affee" d="M610.8 449h4.6v4.6h-4.6z"/>
<path fill="#0aefff" d="M614.8 449h4.6v4.6h-4.6z"/>
<path fill="#0ac9ff" d="M618.8 449h4.6v4.6h-4.6z"/>
<path fill="#0a9fff" d="M622.8 449h4.6v4.6h-4.6z"/>
<path fill="#0a72ff" d="M626.8 449h4.6v4.6h-4.6z"/>
<path fill="#0a47ff" d="M630.8 449h4.6v4.6h-4.6z"/>
<path fill="#0a21ff" d="M634.8 449h4.6v4.6h-4.6z"/>
<path fill="#f0ff18" d="M522.8 453h4.6v4.6h-4.6z"/>
<path fill="#e7ff21" d="M526.8 453h4.6v4.6h-4.6z"/>
<path fill="#d9ff2f" d="M530.8 453h4.6v4.6h-4.6z"/>
<path fill="#c7ff41" d="M534.8 453h4.6v4.6h-4.6z"/>
<path fill="#b3ff55" d="M538.8 453h4.6v4.6h-4.6z"/>
<path fill="#a1ff67" d="M542.8 453h4.6v4.6h-4.6z"/>
<path fill="#93ff75" d="M546.8 453h4.6v4.6h-4.6z"/>
<path fill="#87ff81" d="M550.8 453h4.6v4.6h-4.6z"/>
<path fill="#81ff88" d="M554.8 453h4.6v4.6h-4.6z"/>
<path fill="#7fff89" d="M558.8 453h4.6v4.6h-4.6z"/>
<path fill="#83ff85" d="M562.8 453h4.6v4.6h-4.6z"/>
<path fill="#8cff7d" d="M566.8 453h4.6v4.6h-4.6z"/>
<path fill="#99ff6f" d="M570.8 453h4.6v4.6h-4.6z"/>
<path fill="#aaff5e" d="M574.8 453h4.6v4.6h-4.6z"/>
<path fill="#b9ff4f" d="M578.8 453h4.6v4.6h-4.6z"/>
<path fill="#beff4a" d="M582.8 453h4.6v4.6h-4.6z"/>
<path fill="#b4ff54" d="M586.8 453h4.6v4.6h-4.6z"/>
<path fill="#a2ff66" d="M590.8 453h4.6v4.6h-4.6z"/>
<path fill="#96ff72" d="M594.8 453h4.6v4.6h-4.6z"/>
<path fill="#8dff7b" d="M598.8 453h4.6v4.6h-4.6z"/>
<path fill="#7bff8d" d="M602.8 453h4.6v4.6h-4.6z"/>
<path fill="#60ffa8" d="M606.8 453h4.6v4.6h-4.6z"/>
<path fill="#3fffc9" d="M610.8 453h4.6v4.6h-4.6z"/>
<path fill="#1affee" d="M614.8 453h4.6v4.6h-4.6z"/>
<path fill="#0ae5ff" d="M618.8 453h4.6v4.6h-4.6z"/>
<path fill="#0ab9ff" d="M622.8 453h4.6v4.6h-4.6z"/>
<path fill="#0a8bff" d="M626.8 453h4.6v4.6h-4.6z"/>
<path fill="#0a60ff" d="M630.8 453h4.6v4.6h-4.6z"/>
<path fill="#e5ff23" d="M526.8 457h4.6v4.6h-4.6z"/>
<path fill="#d6ff32" d="M530.8 457h4.6v4.6h-4.6z"/>
<path fill="#c4ff44" d="M534.8 457h4.6v4.6h-4.6z"/>
<path fill="#b2ff57" d="M538.8 457h4.6v4.6h-4.6z"/>
<path fill="#a1ff67" d="M542.8 457h4.6v4.6h-4.6z"/>
<path fill="#94ff74" d="M546.8 457h4.6v4.6h-4.6z"/>
<path fill="#8aff7e" d="M550.8 457h4.6v4.6h-4.6z"/>
<path fill="#85ff83" d="M554.8 457h4.6v4.6h-4.6z"/>
<path fill="#85ff83" d="M558.8 457h4.6v4.6h-4.6z"/>
<path fill="#8cff7c" d="M562.8 457h4.6v4.6h-4.6z"/>
<path fill="#9bff6e" d="M566.8 457h4.6v4.6h-4.6z"/>
<path fill="#b0ff58" d="M570.8 457h4.6v4.6h-4.6z"/>
<path fill="#caff3e" d="M574.8 457h4.6v4.6h-4.6z"/>
<path fill="#e2ff26" d="M578.8 457h4.6v4.6h-4.6z"/>
<path fill="#f0ff18" d="M582.8 457h4.6v4.6h-4.6z"/>
<path fill="#edff1b" d="M586.8 457h4.6v4.6h-4.6z"/>
<path fill="#dfff29" d="M590.8 457h4.6v4.6h-4.6z"/>
<path fill="#d5ff33" d="M594.8 457h4.6v4.6h-4.6z"/>
<path fill="#c9ff3f" d="M598.8 457h4.6v4.6h-4.6z"/>
<path fill="#b0ff58" d="M602.8 457h4.6v4.6h-4.6z"/>
<path fill="#8fff7a" d="M606.8 457h4.6v4.6h-4.6z"/>
<path fill="#68ffa1" d="M610.8 457h4.6v4.6h-4.6z"/>
<path fill="#3dffcb" d="M614.8 457h4.6v4.6h-4.6z"/>
<path fill="#10fff8" d="M618.8 457h4.6v4.6h-4.6z"/>
<path fill="#0ad6ff" d="M622.8 457h4.6v4.6h-4.6z"/>
<path fill="#0aa8ff" d="M626.8 457h4.6v4.6h-4.6z"/>
<path fill="#c6ff42" d="M534.8 461h4.6v4.6h-4.6z"/>
<path fill="#b6ff52" d="M538.8 461h4.6v4.6h-4.6z"/>
<path fill="#a7ff61" d="M542.8 461h4.6v4.6h-4.6z"/>
<path fill="#9bff6d" d="M546.8 461h4.6v4.6h-4.6z"/>
<path fill="#93ff75" d="M550.8 461h4.6v4.6h-4.6z"/>
<path fill="#90ff79" d="M554.8 461h4.6v4.6h-4.6z"/>
<path fill="#91ff77" d="M558.8 461h4.6v4.6h-4.6z"/>
<path fill="#9aff6e" d="M562.8 461h4.6v4.6h-4.6z"/>
<path fill="#afff5a" d="M566.8 461h4.6v4.6h-4.6z"/>
<path fill="#cbff3d" d="M570.8 461h4.6v4.6h-4.6z"/>
<path fill="#ecff1c" d="M574.8 461h4.6v4.6h-4.6z"/>
<path fill="#fff00a" d="M578.8 461h4.6v4.6h-4.6z"/>
<path fill="#ffd90a" d="M582.8 461h4.6v4.6h-4.6z"/>
<path fill="#ffd60a" d="M586.8 461h4.6v4.6h-4.6z"/>
<path fill="#ffe10a" d="M590.8 461h4.6v4.6h-4.6z"/>
<path fill="#ffeb0a" d="M594.8 461h4.6v4.6h-4.6z"/>
<path fill="#fffc0a" d="M598.8 461h4.6v4.6h-4.6z"/>
<path fill="#e1ff27" d="M602.8 461h4.6v4.6h-4.6z"/>
<path fill="#baff4e" d="M606.8 461h4.6v4.6h-4.6z"/>
<path fill="#8fff79" d="M610.8 461h4.6v4.6h-4.6z"/>
<path fill="#61ffa7" d="M614.8 461h4.6v4.6h-4.6z"/>
<path fill="#31ffd7" d="M618.8 461h4.6v4.6h-4.6z"/>
<path fill="#beff4a" d="M538.8 465h4.6v4.6h-4.6z"/>
<path fill="#b2ff57" d="M542.8 465h4.6v4.6h-4.6z"/>
<path fill="#a8ff60" d="M546.8 465h4.6v4.6h-4.6z"/>
<path fill="#a2ff66" d="M550.8 465h4.6v4.6h-4.6z"/>
<path fill="#a0ff68" d="M554.8 465h4.6v4.6h-4.6z"/>
<path fill="#a4ff64" d="M558.8 465h4.6v4.6h-4.6z"/>
<path fill="#b0ff58" d="M562.8 465h4.6v4.6h-4.6z"/>
<path fill="#c7ff41" d="M566.8 465h4.6v4.6h-4.6z"/>
<path fill="#e7ff21" d="M570.8 465h4.6v4.6h-4.6z"/>
<path fill="#fff20a" d="M574.8 465h4.6v4.6h-4.6z"/>
<path fill="#ffcf0a" d="M578.8 465h4.6v4.6h-4.6z"/>
<path fill="#ffb60a" d="M582.8 465h4.6v4.6h-4.6z"/>
<path fill="#ffaf0a" d="M586.8 465h4.6v4.6h-4.6z"/>
<path fill="#ffb50a" d="M590.8 465h4.6v4.6h-4.6z"/>
<path fill="#ffc20a" d="M594.8 465h4.6v4.6h-4.6z"/>
<path fill="#ffd70a" d="M598.8 465h4.6v4.6h-4.6z"/>
<path fill="#fff70a" d="M602.8 465h4.6v4.6h-4.6z"/>
<path fill="#deff2a" d="M606.8 465h4.6v4.6h-4.6z"/>
<path fill="#b1ff57" d="M610.8 465h4.6v4.6h-4.6z"/>
<path fill="#81ff87" d="M614.8 465h4.6v4.6h-4.6z"/>
<path fill="#b5ff53" d="M550.8 469h4.6v4.6h-4.6z"/>
<path fill="#b6ff52" d="M554.8 469h4.6v4.6h-4.6z"/>
<path fill="#bdff4b" d="M558.8 469h4.6v4.6h-4.6z"/>
<path fill="#cbff3d" d="M562.8 469h4.6v4.6h-4.6z"/>
<path fill="#e3ff25" d="M566.8 469h4.6v4.6h-4.6z"/>
<path fill="#fffb0a" d="M570.8 469h4.6v4.6h-4.6z"/>
<path fill="#ffd90a" d="M574.8 469h4.6v4.6h-4.6z"/>
<path fill="#ffb90a" d="M578.8 469h4.6v4.6h-4.6z"/>
<path fill="#ffa20a" d="M582.8 469h4.6v4.6h-4.6z"/>
<path fill="#ff980a" d="M586.8 469h4.6v4.6h-4.6z"/>
<path fill="#ff9b0a" d="M590.8 469h4.6v4.6h-4.6z"/>
<path fill="#ffa70a" d="M594.8 469h4.6v4.6h-4.6z"/>
<path fill="#ffbe0a" d="M598.8 469h4.6v4.6h-4.6z"/>
<path fill="#ffdd0a" d="M602.8 469h4.6v4.6h-4.6z"/>
<path fill="#e7ff21" d="M562.8 473h4.6v4.6h-4.6z"/>
<path fill="#feff0a" d="M566.8 473h4.6v4.6h-4.6z"/>
<path fill="#ffe20a" d="M570.8 473h4.6v4.6h-4.6z"/>
<path fill="#ffc40a" d="M574.8 473h4.6v4.6h-4.6z"/>
<path fill="#ffa90a" d="M578.8 473h4.6v4.6h-4.6z"/>
<path fill="#ff940a" d="M582.8 473h4.6v4.6h-4.6z"/>
<path fill="#ff8b0a" d="M586.8 473h4.6v4.6h-4.6z"/>
<path fill="#ff8c0a" d="M590.8 473h4.6v4.6h-4.6z"/>
</g></g>
<path d="M632 348 631.9 349.8 631.9 351.7 631.9 353.5 632.1 355.4 632.3 357.2 632.5 358.1 633.1 360 633.5 360.9 634.3 362.4 635.2 363.6 636.2 364.6 637.1 365.3 638 365.9 639 366.5 640.8 367.4 641.7 367.8 643 368.3 644.5 369 645.4 369.5M646.3 423.4 645.4 423.8 643.6 424.5 642.6 424.8 640.8 425.4 639.7 425.7 638 426.1 636.3 426.6 635.2 426.9 633.4 427.5 632.5 427.8 630.8 428.5 629.7 428.9 628.7 429.4 626.9 430.3 626 430.9 625.1 431.5 624.1 432.2 622.9 433.1 621.9 434 621.1 434.9 620.4 435.9 619.5 437.5 619.1 438.6 618.9 440.5 619 442.3 619.5 444.1 619.9 445.1 620.4 446.4 621.1 447.9 621.6 448.8 622.3 450.1 623.1 451.6 623.6 452.5 624.2 453.4M614.9 334.1 614.9 335 614.8 336.9 614.6 338.7 614.5 340.6 614.3 342.4 614.1 344.3 614 346.1 613.9 347 613.8 348.9 613.6 350.7 613.3 352.6 613 354.1 612.8 355.4 612.2 357.2 611.9 358.1 611.2 359.8 610.7 360.9 610.2 361.8 609.3 363.2 608.4 364.6 607.7 365.5 607 366.5 606.2 367.4 605.4 368.3 604.5 369.2 603.5 370.2 602.4 371.1 601.1 372 600.1 372.7 599.2 373.2 597.8 373.9 596.4 374.5 595.5 374.9 593.6 375.6 592.7 375.9 590.8 376.6 589.9 377 588.4 377.6 587.1 378.1 586.2 378.5 584.5 379.4 583.4 380.1 582.5 380.8 581.6 381.5 580.7 382.4 579.7 383.4 578.8 384.9 578.3 385.9 577.9 387.2 577.6 388.7 577.4 390.5 577.4 392.4 577.3 394.2 577.3 396.1 577.4 397.9 577.5 399.8 577.8 401.6 578.3 402.6 579.3 403.5 580.7 404.1 581.6 404.4 583.4 404.7 585.3 404.9 587.1 404.9 589 404.8 590.8 404.6 591.8 404.4 593.6 403.8 594.5 403.4 596.1 402.6 597.3 401.7 598.2 401 599.2 400.1 600.1 399.2 601 398.2 601.9 397.2 602.9 396.3 603.8 395.3 604.7 394.3 605.6 393.3 606.6 392.4 607.5 391.7 608.4 391.1 610.1 390.5 611.2 390.3 613 390.1 614.9 390 616.7 389.9 618.6 389.8 620.4 389.7 622.1 389.6 623.2 389.5 625.1 389.3 626.9 389 628.8 388.8 629.9 388.7 631.5 388.5 633.4 388.5 635.2 388.6 636.2 388.7 638 389.1 639.4 389.6 640.8 390.3 641.7 390.8 642.6 391.5 643.6 392.4 644.5 393.3 645.4 394.5 646.3 395.9 646.9 397 647.3 398 647.8 399.8 648.2 401.6 648.2 402.6 648.3 404.4 648.2 405.5 648 407.2 647.6 409 647.3 410.2 646.7 411.8 646.2 412.7 645.4 414.1 644.5 415.3 643.6 416.4 642.6 417.2 641.7 417.9 640.8 418.5 639.2 419.2 638 419.7 636.6 420.1 635.2 420.5 633.4 421 632.5 421.2 630.6 421.5 628.8 421.8 626.9 422 626 422 624.1 422.2 622.3 422.3 620.4 422.4 618.6 422.4 616.7 422.5 614.9 422.6 613 422.7 611.2 422.9 610.3 423 608.4 423.3 606.6 423.8 605.6 424 603.8 424.7 602.9 425.1 601.7 425.7 600.1 426.6 599.2 427.1 598.2 427.8 597.3 428.5 596.1 429.4 595 430.3 593.9 431.2 593 432.2 592 433.1 591.2 434 590.4 434.9 589.7 435.9 589 437.1 588.4 438.6 588.7 440.5 589.5 441.4 590.5 442.3 591.8 443.3 592.7 443.8 593.6 444.3 595.2 445.1 596.4 445.6 597.3 446 599.2 446.7 600.1 447 601.9 447.7 602.9 448.1 604.6 448.8 605.6 449.3 606.6 449.8 608.1 450.7 609.3 451.4 610.3 452 611.2 452.7 612.1 453.5 613.2 454.4 614.2 455.3 615.1 456.2 615.9 457.1 616.7 458.1M594.5 325.8 594.6 326.7 594.8 328.5 595 330.4 595 332.2 594.9 334.1 594.8 335.9 594.7 337.8 594.6 339.6 594.6 341.5 594.5 342.6 594.5 344.3 594.5 346.1 594.4 348 594.4 349.8 594.3 351.7 594.2 353.5 594.1 355.4 593.7 357.2 593.5 358.1 592.9 360 592.5 360.9 591.8 362.3 590.8 363.6 589.9 364.6 589 365.4 588.1 366 587.1 366.6 585.8 367.4 584.4 368.1 583.4 368.6 582.2 369.2 580.7 370.1 579.7 370.5 578.6 371.1 576.9 371.9 576 372.4 574.8 372.9 573.2 373.6 572.3 374 570.5 374.6 569.5 374.8 567.7 375.1 565.8 375.3 564 375.3 562.2 375.7 561.2 376.2 560.3 376.8 559.2 377.6 558.2 378.5 557.5 379.4 556.6 380.9 556.1 382.2 555.7 384 555.6 385 555.5 386.8 555.5 388.7 555.6 390.5 555.6 392.4 555.7 394.2 555.8 395.1 556.3 397 556.6 398 557 399.8 557.4 401.6 557.5 402.6 557.9 404.4 558.3 406.3 558.6 407.2 559.4 409 559.8 410 560.3 410.9 561.2 412.6 561.8 413.7 562.4 414.6 563.1 415.5 564 416.6 564.9 417.4 566.3 418.3 567.7 419.2 568.6 419.7 569.5 420.2 571.4 421 572.3 421.5 573.4 422 574.9 422.9 576 423.8 576.8 424.8 577.3 425.7 577.9 427 578.3 428.5 578.7 430.3 578.8 431.2 578.8 432.2 578.2 434 577.4 434.9 576.2 435.9 575.1 436.5 574.2 436.9 572.3 437.4 570.7 437.7 569.5 437.9 567.7 438.2 565.8 438.4 564.3 438.6 563.1 438.8 561.2 439 559.4 439.2 557.5 439.3 555.7 439.4 553.8 439.5 552.9 439.6 551 439.9 549.8 440.5 548.7 441.4 548 442.3 547.3 443.4 546.5 445.1 546 446 545.5 447.2 544.8 448.8 544.4 449.7 543.6 451.5 543.3 452.5 542.7 454.1 542.4 455.3 542.1 457.1 542.3 459M512.2 426.3 513.1 427 514.1 427.5 515.9 428.4 516.8 428.8 518.5 429.4 519.6 429.8 520.8 430.3 522.4 430.9 523.4 431.2 525.1 431.8 526.6 432.2 527.9 432.5 529.8 433 530.7 433.2 532.5 433.6 534 434 535.3 434.4 537.2 434.8 538.1 435.1 539.9 435.5 541.8 435.8 542.7 436 544.6 436 545.6 435.9 547.3 434.9 548.1 434 548.6 433.1 549.2 431.8 549.7 430.3 550.1 428.7 550.4 427.5 550.8 425.7 551 423.8 551.2 422.9 551.3 421.1 551.5 419.2 551.4 417.4 551.1 415.5 550.8 414.6 550.1 413.1 549.5 411.8 549.2 410.7 548.9 409 548.5 407.2 548.2 406.3 547.3 404.7 546.4 403.7 545.5 402.9 544.6 402.4 543 401.6 541.8 401.2 540 400.7 539 400.5 537.2 400 536.2 399.8 534.4 398.9 533.5 398.3 532.5 397.8 531 397 529.8 396.5 528.5 396.1 527 395.7 525.1 395.5 523.3 395.2 522.4 394.8 520.5 394.2 519.6 394.1 517.7 394.2 516.8 394.5 515.6 395.1 514.5 396.1 513.6 397 512.8 397.9 512.1 398.9 511.3 400.3 510.5 401.6 510 402.6 509.4 403.8 508.6 405.3 508.2 406.3 507.6 408 507.2 409M562.1 467.7 563.1 467.2 564.5 466.4 565.8 465.5 566.8 464.6 567.7 463.7 568.5 462.7 569.3 461.8 570.2 460.8 571 459.9 571.9 459 572.9 458.1 574 457.1 575.1 456.3 576 455.6 576.9 455 578.1 454.4 579.7 453.7 580.7 453.4 582.5 453.2 584.4 453.2 585.7 453.4 587.1 453.8 589 454.3 589.9 454.6 591.7 455.3 592.7 455.6 594.5 456.1 595.5 456.3 597.3 456.5 599.2 456.7 601 457.1 601.9 457.4 603.7 458.1 604.7 458.6 605.6 459.1 606.8 459.9 608 460.8 609 461.8 609.9 462.7M547.8 331.3 547.3 332.5 546.8 334.1 546.4 335.3 546 336.9 545.6 338.7 545.4 339.6 545 341.5 544.9 343.3 545 345.2 545.2 347 545.2 348.9 544.9 350.7 544.6 351.9 543.8 353.5 543.1 354.4 542.3 355.4 541.3 356.3 540.3 357.2 539.2 358.1 538.2 359.1 537.5 360 537 360.9 536.3 362.8 536 363.7 535.3 365.1 534.6 366.5 533.9 367.4 533.2 368.3 532.4 369.2 531.6 370.2 530.7 371.4 529.8 372.9 529.3 373.9 528.7 374.8 527.9 375.8 527 376.9 526.1 377.7 525.1 378.5 523.5 379.4 522.4 379.9 521.2 380.3 519.6 380.9 518.1 381.3 516.8 381.8 515.9 382.4 515 383.2 513.8 384 512.2 384.9 511.3 385.3 509.8 385.9 508.5 386.7 507.6 387.5 506.6 388.3M577 470.1 577.9 468.8 578.8 467.6 579.7 466.4 580.6 465.5 581.6 464.6 582.5 463.9 583.4 463.3 584.8 462.7 586.2 462.4 588.1 462.5 589.6 462.7 590.8 462.9 592.7 463.3 594.1 463.6 595.5 463.9 597.3 464.4 598.2 464.8 599.6 465.5 600.9 466.4" fill="none" stroke="rgba(50,40,40,0.6)" stroke-width="0.9" clip-path="url(#cp2)"/>
<circle cx="578.8" cy="397" r="70.5" fill="none" stroke="#111" stroke-width="1.5"/>
<path d="M568.2 327.2 L576.7 317.7 Q578.8 315.2 580.9 317.7 L589.4 327.2" fill="none" stroke="#222" stroke-width="1.4" stroke-linejoin="round"/>
<path d="M509.4 380.4C508.7 380.4 506.5 380 505.5 380.4C504.5 380.8 503.8 381.3 503.4 382.9C503 384.5 503 387.2 503 389.9C503.1 392.7 503.7 396.2 503.7 399.1C503.7 402.1 503.1 405.1 503 407.6C503 410 502.8 412.5 503.4 413.9C503.9 415.3 505.1 415.7 506.2 416C507.2 416.4 509.1 416 509.7 416" fill="none" stroke="#222" stroke-width="1.3"/>
<path d="M648.2 380.4C648.9 380.4 651.1 380 652.1 380.4C653.1 380.8 653.8 381.3 654.2 382.9C654.6 384.5 654.6 387.2 654.6 389.9C654.5 392.7 653.9 396.2 653.9 399.1C653.9 402.1 654.5 405.1 654.6 407.6C654.6 410 654.8 412.5 654.2 413.9C653.7 415.3 652.5 415.7 651.4 416C650.4 416.4 648.5 416 647.9 416" fill="none" stroke="#222" stroke-width="1.3"/>
<circle cx="557" cy="330" r="1.35" fill="#222"/>
<circle cx="600.6" cy="330" r="1.35" fill="#222"/>
<circle cx="521.8" cy="355.6" r="1.35" fill="#222"/>
<circle cx="635.8" cy="355.6" r="1.35" fill="#222"/>
<circle cx="508.3" cy="397" r="1.35" fill="#222"/>
<circle cx="649.3" cy="397" r="1.35" fill="#222"/>
<circle cx="521.8" cy="438.4" r="1.35" fill="#222"/>
<circle cx="635.8" cy="438.4" r="1.35" fill="#222"/>
<circle cx="557" cy="464" r="1.35" fill="#222"/>
<circle cx="600.6" cy="464" r="1.35" fill="#222"/>
<circle cx="609.9" cy="360.6" r="1.35" fill="#222"/>
<circle cx="547.7" cy="360.6" r="1.35" fill="#222"/>
<circle cx="631.8" cy="377.2" r="1.35" fill="#222"/>
<circle cx="525.8" cy="377.2" r="1.35" fill="#222"/>
<circle cx="596.7" cy="378.9" r="1.35" fill="#222"/>
<circle cx="560.9" cy="378.9" r="1.35" fill="#222"/>
<circle cx="616.8" cy="397" r="1.35" fill="#222"/>
<circle cx="540.8" cy="397" r="1.35" fill="#222"/>
<circle cx="632.5" cy="417.2" r="1.35" fill="#222"/>
<circle cx="525.1" cy="417.2" r="1.35" fill="#222"/>
<circle cx="596.4" cy="415.7" r="1.35" fill="#222"/>
<circle cx="561.2" cy="415.7" r="1.35" fill="#222"/>
<circle cx="610.3" cy="433.8" r="1.35" fill="#222"/>
<circle cx="547.3" cy="433.8" r="1.35" fill="#222"/>
<circle cx="601.9" cy="452" r="1.35" fill="#222"/>
<circle cx="555.7" cy="452" r="1.35" fill="#222"/>
<circle cx="578.8" cy="361.5" r="1.35" fill="#222"/>
<circle cx="578.8" cy="397" r="1.35" fill="#222"/>
<circle cx="578.8" cy="432.9" r="1.35" fill="#222"/>
<circle cx="1256.7" cy="381" r="82.2" fill="url(#halo)"/>
<g clip-path="url(#cp3)"><g filter="url(#bl)" class="c">
<path fill="#b0ff58" d="M1236.7 301h4.6v4.6h-4.6z"/>
<path fill="#b1ff58" d="M1240.7 301h4.6v4.6h-4.6z"/>
<path fill="#aaff5e" d="M1244.7 301h4.6v4.6h-4.6z"/>
<path fill="#a1ff68" d="M1248.7 301h4.6v4.6h-4.6z"/>
<path fill="#97ff72" d="M1252.7 301h4.6v4.6h-4.6z"/>
<path fill="#8eff7a" d="M1256.7 301h4.6v4.6h-4.6z"/>
<path fill="#88ff80" d="M1260.7 301h4.6v4.6h-4.6z"/>
<path fill="#83ff85" d="M1264.7 301h4.6v4.6h-4.6z"/>
<path fill="#7eff8a" d="M1268.7 301h4.6v4.6h-4.6z"/>
<path fill="#79ff8f" d="M1272.7 301h4.6v4.6h-4.6z"/>
<path fill="#76ff92" d="M1224.7 305h4.6v4.6h-4.6z"/>
<path fill="#94ff74" d="M1228.7 305h4.6v4.6h-4.6z"/>
<path fill="#aaff5e" d="M1232.7 305h4.6v4.6h-4.6z"/>
<path fill="#b5ff53" d="M1236.7 305h4.6v4.6h-4.6z"/>
<path fill="#b4ff54" d="M1240.7 305h4.6v4.6h-4.6z"/>
<path fill="#aaff5e" d="M1244.7 305h4.6v4.6h-4.6z"/>
<path fill="#9dff6b" d="M1248.7 305h4.6v4.6h-4.6z"/>
<path fill="#91ff77" d="M1252.7 305h4.6v4.6h-4.6z"/>
<path fill="#8aff7f" d="M1256.7 305h4.6v4.6h-4.6z"/>
<path fill="#86ff82" d="M1260.7 305h4.6v4.6h-4.6z"/>
<path fill="#84ff85" d="M1264.7 305h4.6v4.6h-4.6z"/>
<path fill="#81ff87" d="M1268.7 305h4.6v4.6h-4.6z"/>
<path fill="#7eff8b" d="M1272.7 305h4.6v4.6h-4.6z"/>
<path fill="#7aff8e" d="M1276.7 305h4.6v4.6h-4.6z"/>
<path fill="#78ff91" d="M1280.7 305h4.6v4.6h-4.6z"/>
<path fill="#76ff92" d="M1284.7 305h4.6v4.6h-4.6z"/>
<path fill="#21ffe7" d="M1216.7 309h4.6v4.6h-4.6z"/>
<path fill="#49ffbf" d="M1220.7 309h4.6v4.6h-4.6z"/>
<path fill="#6fff99" d="M1224.7 309h4.6v4.6h-4.6z"/>
<path fill="#91ff78" d="M1228.7 309h4.6v4.6h-4.6z"/>
<path fill="#aaff5f" d="M1232.7 309h4.6v4.6h-4.6z"/>
<path fill="#b6ff52" d="M1236.7 309h4.6v4.6h-4.6z"/>
<path fill="#b3ff56" d="M1240.7 309h4.6v4.6h-4.6z"/>
<path fill="#a5ff63" d="M1244.7 309h4.6v4.6h-4.6z"/>
<path fill="#94ff74" d="M1248.7 309h4.6v4.6h-4.6z"/>
<path fill="#87ff81" d="M1252.7 309h4.6v4.6h-4.6z"/>
<path fill="#81ff87" d="M1256.7 309h4.6v4.6h-4.6z"/>
<path fill="#81ff87" d="M1260.7 309h4.6v4.6h-4.6z"/>
<path fill="#84ff84" d="M1264.7 309h4.6v4.6h-4.6z"/>
<path fill="#84ff84" d="M1268.7 309h4.6v4.6h-4.6z"/>
<path fill="#84ff84" d="M1272.7 309h4.6v4.6h-4.6z"/>
<path fill="#84ff85" d="M1276.7 309h4.6v4.6h-4.6z"/>
<path fill="#83ff85" d="M1280.7 309h4.6v4.6h-4.6z"/>
<path fill="#82ff86" d="M1284.7 309h4.6v4.6h-4.6z"/>
<path fill="#84ff85" d="M1288.7 309h4.6v4.6h-4.6z"/>
<path fill="#89ff7f" d="M1292.7 309h4.6v4.6h-4.6z"/>
<path fill="#0aafff" d="M1208.7 313h4.6v4.6h-4.6z"/>
<path fill="#0ad9ff" d="M1212.7 313h4.6v4.6h-4.6z"/>
<path fill="#0ffff9" d="M1216.7 313h4.6v4.6h-4.6z"/>
<path fill="#3affcf" d="M1220.7 313h4.6v4.6h-4.6z"/>
<path fill="#62ffa6" d="M1224.7 313h4.6v4.6h-4.6z"/>
<path fill="#86ff82" d="M1228.7 313h4.6v4.6h-4.6z"/>
<path fill="#a1ff67" d="M1232.7 313h4.6v4.6h-4.6z"/>
<path fill="#afff5a" d="M1236.7 313h4.6v4.6h-4.6z"/>
<path fill="#aaff5e" d="M1240.7 313h4.6v4.6h-4.6z"/>
<path fill="#9bff6d" d="M1244.7 313h4.6v4.6h-4.6z"/>
<path fill="#88ff80" d="M1248.7 313h4.6v4.6h-4.6z"/>
<path fill="#79ff8f" d="M1252.7 313h4.6v4.6h-4.6z"/>
<path fill="#77ff91" d="M1256.7 313h4.6v4.6h-4.6z"/>
<path fill="#7bff8e" d="M1260.7 313h4.6v4.6h-4.6z"/>
<path fill="#81ff87" d="M1264.7 313h4.6v4.6h-4.6z"/>
<path fill="#87ff81" d="M1268.7 313h4.6v4.6h-4.6z"/>
<path fill="#8cff7c" d="M1272.7 313h4.6v4.6h-4.6z"/>
<path fill="#91ff77" d="M1276.7 313h4.6v4.6h-4.6z"/>
<path fill="#95ff74" d="M1280.7 313h4.6v4.6h-4.6z"/>
<path fill="#95ff73" d="M1284.7 313h4.6v4.6h-4.6z"/>
<path fill="#96ff72" d="M1288.7 313h4.6v4.6h-4.6z"/>
<path fill="#9cff6c" d="M1292.7 313h4.6v4.6h-4.6z"/>
<path fill="#a8ff60" d="M1296.7 313h4.6v4.6h-4.6z"/>
<path fill="#b6ff52" d="M1300.7 313h4.6v4.6h-4.6z"/>
<path fill="#0a70ff" d="M1204.7 317h4.6v4.6h-4.6z"/>
<path fill="#0a97ff" d="M1208.7 317h4.6v4.6h-4.6z"/>
<path fill="#0ac1ff" d="M1212.7 317h4.6v4.6h-4.6z"/>
<path fill="#0aecff" d="M1216.7 317h4.6v4.6h-4.6z"/>
<path fill="#23ffe5" d="M1220.7 317h4.6v4.6h-4.6z"/>
<path fill="#4dffbb" d="M1224.7 317h4.6v4.6h-4.6z"/>
<path fill="#73ff95" d="M1228.7 317h4.6v4.6h-4.6z"/>
<path fill="#91ff77" d="M1232.7 317h4.6v4.6h-4.6z"/>
<path fill="#9eff6b" d="M1236.7 317h4.6v4.6h-4.6z"/>
<path fill="#9aff6f" d="M1240.7 317h4.6v4.6h-4.6z"/>
<path fill="#8cff7d" d="M1244.7 317h4.6v4.6h-4.6z"/>
<path fill="#7cff8d" d="M1248.7 317h4.6v4.6h-4.6z"/>
<path fill="#6fff99" d="M1252.7 317h4.6v4.6h-4.6z"/>
<path fill="#6dff9b" d="M1256.7 317h4.6v4.6h-4.6z"/>
<path fill="#72ff97" d="M1260.7 317h4.6v4.6h-4.6z"/>
<path fill="#7bff8d" d="M1264.7 317h4.6v4.6h-4.6z"/>
<path fill="#89ff80" d="M1268.7 317h4.6v4.6h-4.6z"/>
<path fill="#98ff70" d="M1272.7 317h4.6v4.6h-4.6z"/>
<path fill="#a7ff61" d="M1276.7 317h4.6v4.6h-4.6z"/>
<path fill="#b0ff58" d="M1280.7 317h4.6v4.6h-4.6z"/>
<path fill="#b3ff55" d="M1284.7 317h4.6v4.6h-4.6z"/>
<path fill="#b2ff56" d="M1288.7 317h4.6v4.6h-4.6z"/>
<path fill="#b8ff50" d="M1292.7 317h4.6v4.6h-4.6z"/>
<path fill="#c6ff42" d="M1296.7 317h4.6v4.6h-4.6z"/>
<path fill="#d6ff32" d="M1300.7 317h4.6v4.6h-4.6z"/>
<path fill="#e3ff25" d="M1304.7 317h4.6v4.6h-4.6z"/>
<path fill="#0a36ff" d="M1200.7 321h4.6v4.6h-4.6z"/>
<path fill="#0a59ff" d="M1204.7 321h4.6v4.6h-4.6z"/>
<path fill="#0a7dff" d="M1208.7 321h4.6v4.6h-4.6z"/>
<path fill="#0aa5ff" d="M1212.7 321h4.6v4.6h-4.6z"/>
<path fill="#0acfff" d="M1216.7 321h4.6v4.6h-4.6z"/>
<path fill="#0af9ff" d="M1220.7 321h4.6v4.6h-4.6z"/>
<path fill="#30ffd9" d="M1224.7 321h4.6v4.6h-4.6z"/>
<path fill="#5affae" d="M1228.7 321h4.6v4.6h-4.6z"/>
<path fill="#7cff8c" d="M1232.7 321h4.6v4.6h-4.6z"/>
<path fill="#89ff80" d="M1236.7 321h4.6v4.6h-4.6z"/>
<path fill="#83ff85" d="M1240.7 321h4.6v4.6h-4.6z"/>
<path fill="#75ff93" d="M1244.7 321h4.6v4.6h-4.6z"/>
<path fill="#6bff9d" d="M1248.7 321h4.6v4.6h-4.6z"/>
<path fill="#67ffa1" d="M1252.7 321h4.6v4.6h-4.6z"/>
<path fill="#62ffa7" d="M1256.7 321h4.6v4.6h-4.6z"/>
<path fill="#65ffa4" d="M1260.7 321h4.6v4.6h-4.6z"/>
<path fill="#72ff96" d="M1264.7 321h4.6v4.6h-4.6z"/>
<path fill="#8aff7e" d="M1268.7 321h4.6v4.6h-4.6z"/>
<path fill="#a8ff60" d="M1272.7 321h4.6v4.6h-4.6z"/>
<path fill="#c6ff42" d="M1276.7 321h4.6v4.6h-4.6z"/>
<path fill="#daff2e" d="M1280.7 321h4.6v4.6h-4.6z"/>
<path fill="#e1ff27" d="M1284.7 321h4.6v4.6h-4.6z"/>
<path fill="#ddff2b" d="M1288.7 321h4.6v4.6h-4.6z"/>
<path fill="#e3ff26" d="M1292.7 321h4.6v4.6h-4.6z"/>
<path fill="#f2ff16" d="M1296.7 321h4.6v4.6h-4.6z"/>
<path fill="#fffe0a" d="M1300.7 321h4.6v4.6h-4.6z"/>
<path fill="#fff40a" d="M1304.7 321h4.6v4.6h-4.6z"/>
<path fill="#ffee0a" d="M1308.7 321h4.6v4.6h-4.6z"/>
<path fill="#0a0af7" d="M1196.7 325h4.6v4.6h-4.6z"/>
<path fill="#0a21ff" d="M1200.7 325h4.6v4.6h-4.6z"/>
<path fill="#0a41ff" d="M1204.7 325h4.6v4.6h-4.6z"/>
<path fill="#0a63ff" d="M1208.7 325h4.6v4.6h-4.6z"/>
<path fill="#0a88ff" d="M1212.7 325h4.6v4.6h-4.6z"/>
<path fill="#0aaeff" d="M1216.7 325h4.6v4.6h-4.6z"/>
<path fill="#0ad7ff" d="M1220.7 325h4.6v4.6h-4.6z"/>
<path fill="#0dfffc" d="M1224.7 325h4.6v4.6h-4.6z"/>
<path fill="#3bffce" d="M1228.7 325h4.6v4.6h-4.6z"/>
<path fill="#64ffa4" d="M1232.7 325h4.6v4.6h-4.6z"/>
<path fill="#70ff98" d="M1236.7 325h4.6v4.6h-4.6z"/>
<path fill="#66ffa2" d="M1240.7 325h4.6v4.6h-4.6z"/>
<path fill="#55ffb4" d="M1244.7 325h4.6v4.6h-4.6z"/>
<path fill="#47ffc1" d="M1248.7 325h4.6v4.6h-4.6z"/>
<path fill="#45ffc3" d="M1252.7 325h4.6v4.6h-4.6z"/>
<path fill="#45ffc3" d="M1256.7 325h4.6v4.6h-4.6z"/>
<path fill="#4fffb9" d="M1260.7 325h4.6v4.6h-4.6z"/>
<path fill="#65ffa3" d="M1264.7 325h4.6v4.6h-4.6z"/>
<path fill="#88ff80" d="M1268.7 325h4.6v4.6h-4.6z"/>
<path fill="#b9ff4f" d="M1272.7 325h4.6v4.6h-4.6z"/>
<path fill="#edff1b" d="M1276.7 325h4.6v4.6h-4.6z"/>
<path fill="#ffeb0a" d="M1280.7 325h4.6v4.6h-4.6z"/>
<path fill="#ffdb0a" d="M1284.7 325h4.6v4.6h-4.6z"/>
<path fill="#ffd90a" d="M1288.7 325h4.6v4.6h-4.6z"/>
<path fill="#ffd70a" d="M1292.7 325h4.6v4.6h-4.6z"/>
<path fill="#ffd10a" d="M1296.7 325h4.6v4.6h-4.6z"/>
<path fill="#ffcc0a" d="M1300.7 325h4.6v4.6h-4.6z"/>
<path fill="#ffca0a" d="M1304.7 325h4.6v4.6h-4.6z"/>
<path fill="#ffca0a" d="M1308.7 325h4.6v4.6h-4.6z"/>
<path fill="#ffcd0a" d="M1312.7 325h4.6v4.6h-4.6z"/>
<path fill="#0a0aca" d="M1192.7 329h4.6v4.6h-4.6z"/>
<path fill="#0a0ae5" d="M1196.7 329h4.6v4.6h-4.6z"/>
<path fill="#0a0eff" d="M1200.7 329h4.6v4.6h-4.6z"/>
<path fill="#0a2eff" d="M1204.7 329h4.6v4.6h-4.6z"/>
<path fill="#0a4dff" d="M1208.7 329h4.6v4.6h-4.6z"/>
<path fill="#0a6eff" d="M1212.7 329h4.6v4.6h-4.6z"/>
<path fill="#0a92ff" d="M1216.7 329h4.6v4.6h-4.6z"/>
<path fill="#0ab8ff" d="M1220.7 329h4.6v4.6h-4.6z"/>
<path fill="#0ae0ff" d="M1224.7 329h4.6v4.6h-4.6z"/>
<path fill="#18fff1" d="M1228.7 329h4.6v4.6h-4.6z"/>
<path fill="#43ffc5" d="M1232.7 329h4.6v4.6h-4.6z"/>
<path fill="#54ffb4" d="M1236.7 329h4.6v4.6h-4.6z"/>
<path fill="#4affbe" d="M1240.7 329h4.6v4.6h-4.6z"/>
<path fill="#31ffd7" d="M1244.7 329h4.6v4.6h-4.6z"/>
<path fill="#16fff2" d="M1248.7 329h4.6v4.6h-4.6z"/>
<path fill="#0ffff9" d="M1252.7 329h4.6v4.6h-4.6z"/>
<path fill="#1fffea" d="M1256.7 329h4.6v4.6h-4.6z"/>
<path fill="#36ffd3" d="M1260.7 329h4.6v4.6h-4.6z"/>
<path fill="#55ffb3" d="M1264.7 329h4.6v4.6h-4.6z"/>
<path fill="#82ff86" d="M1268.7 329h4.6v4.6h-4.6z"/>
<path fill="#c7ff41" d="M1272.7 329h4.6v4.6h-4.6z"/>
<path fill="#ffe60a" d="M1276.7 329h4.6v4.6h-4.6z"/>
<path fill="#ffac0a" d="M1280.7 329h4.6v4.6h-4.6z"/>
<path fill="#ff910a" d="M1284.7 329h4.6v4.6h-4.6z"/>
<path fill="#ff890a" d="M1288.7 329h4.6v4.6h-4.6z"/>
<path fill="#ff8a0a" d="M1292.7 329h4.6v4.6h-4.6z"/>
<path fill="#ff900a" d="M1296.7 329h4.6v4.6h-4.6z"/>
<path fill="#ff980a" d="M1300.7 329h4.6v4.6h-4.6z"/>
<path fill="#ffa10a" d="M1304.7 329h4.6v4.6h-4.6z"/>
<path fill="#ffa90a" d="M1308.7 329h4.6v4.6h-4.6z"/>
<path fill="#ffb10a" d="M1312.7 329h4.6v4.6h-4.6z"/>
<path fill="#ffbb0a" d="M1316.7 329h4.6v4.6h-4.6z"/>
<path fill="#0a0aaa" d="M1188.7 333h4.6v4.6h-4.6z"/>
<path fill="#0a0abc" d="M1192.7 333h4.6v4.6h-4.6z"/>
<path fill="#0a0ad7" d="M1196.7 333h4.6v4.6h-4.6z"/>
<path fill="#0a0af6" d="M1200.7 333h4.6v4.6h-4.6z"/>
<path fill="#0a21ff" d="M1204.7 333h4.6v4.6h-4.6z"/>
<path fill="#0a3fff" d="M1208.7 333h4.6v4.6h-4.6z"/>
<path fill="#0a5fff" d="M1212.7 333h4.6v4.6h-4.6z"/>
<path fill="#0a81ff" d="M1216.7 333h4.6v4.6h-4.6z"/>
<path fill="#0aa8ff" d="M1220.7 333h4.6v4.6h-4.6z"/>
<path fill="#0ad1ff" d="M1224.7 333h4.6v4.6h-4.6z"/>
<path fill="#0afffe" d="M1228.7 333h4.6v4.6h-4.6z"/>
<path fill="#35ffd3" d="M1232.7 333h4.6v4.6h-4.6z"/>
<path fill="#47ffc1" d="M1236.7 333h4.6v4.6h-4.6z"/>
<path fill="#3bffce" d="M1240.7 333h4.6v4.6h-4.6z"/>
<path fill="#1cffed" d="M1244.7 333h4.6v4.6h-4.6z"/>
<path fill="#0af1ff" d="M1248.7 333h4.6v4.6h-4.6z"/>
<path fill="#0ae9ff" d="M1252.7 333h4.6v4.6h-4.6z"/>
<path fill="#0afaff" d="M1256.7 333h4.6v4.6h-4.6z"/>
<path fill="#23ffe5" d="M1260.7 333h4.6v4.6h-4.6z"/>
<path fill="#4affbe" d="M1264.7 333h4.6v4.6h-4.6z"/>
<path fill="#7dff8b" d="M1268.7 333h4.6v4.6h-4.6z"/>
<path fill="#d0ff38" d="M1272.7 333h4.6v4.6h-4.6z"/>
<path fill="#ffc60a" d="M1276.7 333h4.6v4.6h-4.6z"/>
<path fill="#ff7c0a" d="M1280.7 333h4.6v4.6h-4.6z"/>
<path fill="#ff540a" d="M1284.7 333h4.6v4.6h-4.6z"/>
<path fill="#ff430a" d="M1288.7 333h4.6v4.6h-4.6z"/>
<path fill="#ff480a" d="M1292.7 333h4.6v4.6h-4.6z"/>
<path fill="#ff590a" d="M1296.7 333h4.6v4.6h-4.6z"/>
<path fill="#ff6e0a" d="M1300.7 333h4.6v4.6h-4.6z"/>
<path fill="#ff800a" d="M1304.7 333h4.6v4.6h-4.6z"/>
<path fill="#ff8f0a" d="M1308.7 333h4.6v4.6h-4.6z"/>
<path fill="#ff9d0a" d="M1312.7 333h4.6v4.6h-4.6z"/>
<path fill="#ffab0a" d="M1316.7 333h4.6v4.6h-4.6z"/>
<path fill="#ffbc0a" d="M1320.7 333h4.6v4.6h-4.6z"/>
<path fill="#0a0aa3" d="M1188.7 337h4.6v4.6h-4.6z"/>
<path fill="#0a0ab4" d="M1192.7 337h4.6v4.6h-4.6z"/>
<path fill="#0a0ad0" d="M1196.7 337h4.6v4.6h-4.6z"/>
<path fill="#0a0af2" d="M1200.7 337h4.6v4.6h-4.6z"/>
<path fill="#0a1eff" d="M1204.7 337h4.6v4.6h-4.6z"/>
<path fill="#0a3cff" d="M1208.7 337h4.6v4.6h-4.6z"/>
<path fill="#0a5bff" d="M1212.7 337h4.6v4.6h-4.6z"/>
<path fill="#0a7fff" d="M1216.7 337h4.6v4.6h-4.6z"/>
<path fill="#0aabff" d="M1220.7 337h4.6v4.6h-4.6z"/>
<path fill="#0adeff" d="M1224.7 337h4.6v4.6h-4.6z"/>
<path fill="#1effea" d="M1228.7 337h4.6v4.6h-4.6z"/>
<path fill="#47ffc1" d="M1232.7 337h4.6v4.6h-4.6z"/>
<path fill="#54ffb4" d="M1236.7 337h4.6v4.6h-4.6z"/>
<path fill="#40ffc8" d="M1240.7 337h4.6v4.6h-4.6z"/>
<path fill="#19ffef" d="M1244.7 337h4.6v4.6h-4.6z"/>
<path fill="#0aedff" d="M1248.7 337h4.6v4.6h-4.6z"/>
<path fill="#0ae4ff" d="M1252.7 337h4.6v4.6h-4.6z"/>
<path fill="#0aefff" d="M1256.7 337h4.6v4.6h-4.6z"/>
<path fill="#19fff0" d="M1260.7 337h4.6v4.6h-4.6z"/>
<path fill="#46ffc2" d="M1264.7 337h4.6v4.6h-4.6z"/>
<path fill="#81ff87" d="M1268.7 337h4.6v4.6h-4.6z"/>
<path fill="#d5ff33" d="M1272.7 337h4.6v4.6h-4.6z"/>
<path fill="#ffc60a" d="M1276.7 337h4.6v4.6h-4.6z"/>
<path fill="#ff730a" d="M1280.7 337h4.6v4.6h-4.6z"/>
<path fill="#ff380a" d="M1284.7 337h4.6v4.6h-4.6z"/>
<path fill="#ff180a" d="M1288.7 337h4.6v4.6h-4.6z"/>
<path fill="#ff200a" d="M1292.7 337h4.6v4.6h-4.6z"/>
<path fill="#ff3a0a" d="M1296.7 337h4.6v4.6h-4.6z"/>
<path fill="#ff560a" d="M1300.7 337h4.6v4.6h-4.6z"/>
<path fill="#ff6f0a" d="M1304.7 337h4.6v4.6h-4.6z"/>
<path fill="#ff830a" d="M1308.7 337h4.6v4.6h-4.6z"/>
<path fill="#ff940a" d="M1312.7 337h4.6v4.6h-4.6z"/>
<path fill="#ffa50a" d="M1316.7 337h4.6v4.6h-4.6z"/>
<path fill="#ffb80a" d="M1320.7 337h4.6v4.6h-4.6z"/>
<path fill="#0a0aa7" d="M1184.7 341h4.6v4.6h-4.6z"/>
<path fill="#0a0aa5" d="M1188.7 341h4.6v4.6h-4.6z"/>
<path fill="#0a0ab3" d="M1192.7 341h4.6v4.6h-4.6z"/>
<path fill="#0a0ad0" d="M1196.7 341h4.6v4.6h-4.6z"/>
<path fill="#0a0af5" d="M1200.7 341h4.6v4.6h-4.6z"/>
<path fill="#0a24ff" d="M1204.7 341h4.6v4.6h-4.6z"/>
<path fill="#0a45ff" d="M1208.7 341h4.6v4.6h-4.6z"/>
<path fill="#0a65ff" d="M1212.7 341h4.6v4.6h-4.6z"/>
<path fill="#0a8aff" d="M1216.7 341h4.6v4.6h-4.6z"/>
<path fill="#0abeff" d="M1220.7 341h4.6v4.6h-4.6z"/>
<path fill="#0afffe" d="M1224.7 341h4.6v4.6h-4.6z"/>
<path fill="#49ffbf" d="M1228.7 341h4.6v4.6h-4.6z"/>
<path fill="#75ff93" d="M1232.7 341h4.6v4.6h-4.6z"/>
<path fill="#7dff8c" d="M1236.7 341h4.6v4.6h-4.6z"/>
<path fill="#59ffaf" d="M1240.7 341h4.6v4.6h-4.6z"/>
<path fill="#23ffe5" d="M1244.7 341h4.6v4.6h-4.6z"/>
<path fill="#0af0ff" d="M1248.7 341h4.6v4.6h-4.6z"/>
<path fill="#0ae3ff" d="M1252.7 341h4.6v4.6h-4.6z"/>
<path fill="#0aedff" d="M1256.7 341h4.6v4.6h-4.6z"/>
<path fill="#15fff4" d="M1260.7 341h4.6v4.6h-4.6z"/>
<path fill="#41ffc7" d="M1264.7 341h4.6v4.6h-4.6z"/>
<path fill="#80ff89" d="M1268.7 341h4.6v4.6h-4.6z"/>
<path fill="#cfff39" d="M1272.7 341h4.6v4.6h-4.6z"/>
<path fill="#ffd70a" d="M1276.7 341h4.6v4.6h-4.6z"/>
<path fill="#ff870a" d="M1280.7 341h4.6v4.6h-4.6z"/>
<path fill="#ff470a" d="M1284.7 341h4.6v4.6h-4.6z"/>
<path fill="#ff200a" d="M1288.7 341h4.6v4.6h-4.6z"/>
<path fill="#ff230a" d="M1292.7 341h4.6v4.6h-4.6z"/>
<path fill="#ff3c0a" d="M1296.7 341h4.6v4.6h-4.6z"/>
<path fill="#ff580a" d="M1300.7 341h4.6v4.6h-4.6z"/>
<path fill="#ff720a" d="M1304.7 341h4.6v4.6h-4.6z"/>
<path fill="#ff870a" d="M1308.7 341h4.6v4.6h-4.6z"/>
<path fill="#ff990a" d="M1312.7 341h4.6v4.6h-4.6z"/>
<path fill="#ffab0a" d="M1316.7 341h4.6v4.6h-4.6z"/>
<path fill="#ffbe0a" d="M1320.7 341h4.6v4.6h-4.6z"/>
<path fill="#ffd10a" d="M1324.7 341h4.6v4.6h-4.6z"/>
<path fill="#0a0abe" d="M1184.7 345h4.6v4.6h-4.6z"/>
<path fill="#0a0ab3" d="M1188.7 345h4.6v4.6h-4.6z"/>
<path fill="#0a0abf" d="M1192.7 345h4.6v4.6h-4.6z"/>
<path fill="#0a0ade" d="M1196.7 345h4.6v4.6h-4.6z"/>
<path fill="#0a0fff" d="M1200.7 345h4.6v4.6h-4.6z"/>
<path fill="#0a36ff" d="M1204.7 345h4.6v4.6h-4.6z"/>
<path fill="#0a5cff" d="M1208.7 345h4.6v4.6h-4.6z"/>
<path fill="#0a7fff" d="M1212.7 345h4.6v4.6h-4.6z"/>
<path fill="#0aa8ff" d="M1216.7 345h4.6v4.6h-4.6z"/>
<path fill="#0ae4ff" d="M1220.7 345h4.6v4.6h-4.6z"/>
<path fill="#3dffcb" d="M1224.7 345h4.6v4.6h-4.6z"/>
<path fill="#83ff85" d="M1228.7 345h4.6v4.6h-4.6z"/>
<path fill="#b5ff53" d="M1232.7 345h4.6v4.6h-4.6z"/>
<path fill="#beff4b" d="M1236.7 345h4.6v4.6h-4.6z"/>
<path fill="#83ff85" d="M1240.7 345h4.6v4.6h-4.6z"/>
<path fill="#37ffd1" d="M1244.7 345h4.6v4.6h-4.6z"/>
<path fill="#0cfffc" d="M1248.7 345h4.6v4.6h-4.6z"/>
<path fill="#0af6ff" d="M1252.7 345h4.6v4.6h-4.6z"/>
<path fill="#0cfffc" d="M1256.7 345h4.6v4.6h-4.6z"/>
<path fill="#1effea" d="M1260.7 345h4.6v4.6h-4.6z"/>
<path fill="#42ffc6" d="M1264.7 345h4.6v4.6h-4.6z"/>
<path fill="#7cff8c" d="M1268.7 345h4.6v4.6h-4.6z"/>
<path fill="#c2ff46" d="M1272.7 345h4.6v4.6h-4.6z"/>
<path fill="#fff20a" d="M1276.7 345h4.6v4.6h-4.6z"/>
<path fill="#ffb00a" d="M1280.7 345h4.6v4.6h-4.6z"/>
<path fill="#ff780a" d="M1284.7 345h4.6v4.6h-4.6z"/>
<path fill="#ff540a" d="M1288.7 345h4.6v4.6h-4.6z"/>
<path fill="#ff4d0a" d="M1292.7 345h4.6v4.6h-4.6z"/>
<path fill="#ff5b0a" d="M1296.7 345h4.6v4.6h-4.6z"/>
<path fill="#ff710a" d="M1300.7 345h4.6v4.6h-4.6z"/>
<path fill="#ff860a" d="M1304.7 345h4.6v4.6h-4.6z"/>
<path fill="#ff980a" d="M1308.7 345h4.6v4.6h-4.6z"/>
<path fill="#ffa90a" d="M1312.7 345h4.6v4.6h-4.6z"/>
<path fill="#ffba0a" d="M1316.7 345h4.6v4.6h-4.6z"/>
<path fill="#ffcb0a" d="M1320.7 345h4.6v4.6h-4.6z"/>
<path fill="#ffdd0a" d="M1324.7 345h4.6v4.6h-4.6z"/>
<path fill="#0a0bff" d="M1180.7 349h4.6v4.6h-4.6z"/>
<path fill="#0a0aeb" d="M1184.7 349h4.6v4.6h-4.6z"/>
<path fill="#0a0adc" d="M1188.7 349h4.6v4.6h-4.6z"/>
<path fill="#0a0ae2" d="M1192.7 349h4.6v4.6h-4.6z"/>
<path fill="#0a0afc" d="M1196.7 349h4.6v4.6h-4.6z"/>
<path fill="#0a2cff" d="M1200.7 349h4.6v4.6h-4.6z"/>
<path fill="#0a55ff" d="M1204.7 349h4.6v4.6h-4.6z"/>
<path fill="#0a80ff" d="M1208.7 349h4.6v4.6h-4.6z"/>
<path fill="#0aadff" d="M1212.7 349h4.6v4.6h-4.6z"/>
<path fill="#0ae2ff" d="M1216.7 349h4.6v4.6h-4.6z"/>
<path fill="#36ffd2" d="M1220.7 349h4.6v4.6h-4.6z"/>
<path fill="#87ff81" d="M1224.7 349h4.6v4.6h-4.6z"/>
<path fill="#c0ff48" d="M1228.7 349h4.6v4.6h-4.6z"/>
<path fill="#e8ff20" d="M1232.7 349h4.6v4.6h-4.6z"/>
<path fill="#fff80a" d="M1236.7 349h4.6v4.6h-4.6z"/>
<path fill="#b5ff53" d="M1240.7 349h4.6v4.6h-4.6z"/>
<path fill="#5affae" d="M1244.7 349h4.6v4.6h-4.6z"/>
<path fill="#45ffc3" d="M1248.7 349h4.6v4.6h-4.6z"/>
<path fill="#45ffc3" d="M1252.7 349h4.6v4.6h-4.6z"/>
<path fill="#4dffbb" d="M1256.7 349h4.6v4.6h-4.6z"/>
<path fill="#40ffc9" d="M1260.7 349h4.6v4.6h-4.6z"/>
<path fill="#4effba" d="M1264.7 349h4.6v4.6h-4.6z"/>
<path fill="#81ff88" d="M1268.7 349h4.6v4.6h-4.6z"/>
<path fill="#baff4e" d="M1272.7 349h4.6v4.6h-4.6z"/>
<path fill="#f0ff19" d="M1276.7 349h4.6v4.6h-4.6z"/>
<path fill="#ffde0a" d="M1280.7 349h4.6v4.6h-4.6z"/>
<path fill="#ffb30a" d="M1284.7 349h4.6v4.6h-4.6z"/>
<path fill="#ff920a" d="M1288.7 349h4.6v4.6h-4.6z"/>
<path fill="#ff840a" d="M1292.7 349h4.6v4.6h-4.6z"/>
<path fill="#ff880a" d="M1296.7 349h4.6v4.6h-4.6z"/>
<path fill="#ff960a" d="M1300.7 349h4.6v4.6h-4.6z"/>
<path fill="#ffa40a" d="M1304.7 349h4.6v4.6h-4.6z"/>
<path fill="#ffb20a" d="M1308.7 349h4.6v4.6h-4.6z"/>
<path fill="#ffc10a" d="M1312.7 349h4.6v4.6h-4.6z"/>
<path fill="#ffcf0a" d="M1316.7 349h4.6v4.6h-4.6z"/>
<path fill="#ffdf0a" d="M1320.7 349h4.6v4.6h-4.6z"/>
<path fill="#ffef0a" d="M1324.7 349h4.6v4.6h-4.6z"/>
<path fill="#feff0a" d="M1328.7 349h4.6v4.6h-4.6z"/>
<path fill="#0a4bff" d="M1180.7 353h4.6v4.6h-4.6z"/>
<path fill="#0a39ff" d="M1184.7 353h4.6v4.6h-4.6z"/>
<path fill="#0a28ff" d="M1188.7 353h4.6v4.6h-4.6z"/>
<path fill="#0a25ff" d="M1192.7 353h4.6v4.6h-4.6z"/>
<path fill="#0a36ff" d="M1196.7 353h4.6v4.6h-4.6z"/>
<path fill="#0a56ff" d="M1200.7 353h4.6v4.6h-4.6z"/>
<path fill="#0a7eff" d="M1204.7 353h4.6v4.6h-4.6z"/>
<path fill="#0aadff" d="M1208.7 353h4.6v4.6h-4.6z"/>
<path fill="#0ae6ff" d="M1212.7 353h4.6v4.6h-4.6z"/>
<path fill="#38ffd0" d="M1216.7 353h4.6v4.6h-4.6z"/>
<path fill="#8fff79" d="M1220.7 353h4.6v4.6h-4.6z"/>
<path fill="#e3ff26" d="M1224.7 353h4.6v4.6h-4.6z"/>
<path fill="#fbff0d" d="M1228.7 353h4.6v4.6h-4.6z"/>
<path fill="#dbff2e" d="M1232.7 353h4.6v4.6h-4.6z"/>
<path fill="#f3ff15" d="M1236.7 353h4.6v4.6h-4.6z"/>
<path fill="#e6ff22" d="M1240.7 353h4.6v4.6h-4.6z"/>
<path fill="#bcff4c" d="M1244.7 353h4.6v4.6h-4.6z"/>
<path fill="#bfff4a" d="M1248.7 353h4.6v4.6h-4.6z"/>
<path fill="#d6ff32" d="M1252.7 353h4.6v4.6h-4.6z"/>
<path fill="#ccff3c" d="M1256.7 353h4.6v4.6h-4.6z"/>
<path fill="#7aff8e" d="M1260.7 353h4.6v4.6h-4.6z"/>
<path fill="#6dff9b" d="M1264.7 353h4.6v4.6h-4.6z"/>
<path fill="#98ff70" d="M1268.7 353h4.6v4.6h-4.6z"/>
<path fill="#beff4a" d="M1272.7 353h4.6v4.6h-4.6z"/>
<path fill="#dfff29" d="M1276.7 353h4.6v4.6h-4.6z"/>
<path fill="#fcff0c" d="M1280.7 353h4.6v4.6h-4.6z"/>
<path fill="#ffe50a" d="M1284.7 353h4.6v4.6h-4.6z"/>
<path fill="#ffc90a" d="M1288.7 353h4.6v4.6h-4.6z"/>
<path fill="#ffba0a" d="M1292.7 353h4.6v4.6h-4.6z"/>
<path fill="#ffb80a" d="M1296.7 353h4.6v4.6h-4.6z"/>
<path fill="#ffbe0a" d="M1300.7 353h4.6v4.6h-4.6z"/>
<path fill="#ffc80a" d="M1304.7 353h4.6v4.6h-4.6z"/>
<path fill="#ffd20a" d="M1308.7 353h4.6v4.6h-4.6z"/>
<path fill="#ffdd0a" d="M1312.7 353h4.6v4.6h-4.6z"/>
<path fill="#ffea0a" d="M1316.7 353h4.6v4.6h-4.6z"/>
<path fill="#fff70a" d="M1320.7 353h4.6v4.6h-4.6z"/>
<path fill="#f8ff10" d="M1324.7 353h4.6v4.6h-4.6z"/>
<path fill="#eaff1e" d="M1328.7 353h4.6v4.6h-4.6z"/>
<path fill="#0a93ff" d="M1180.7 357h4.6v4.6h-4.6z"/>
<path fill="#0a86ff" d="M1184.7 357h4.6v4.6h-4.6z"/>
<path fill="#0a72ff" d="M1188.7 357h4.6v4.6h-4.6z"/>
<path fill="#0a66ff" d="M1192.7 357h4.6v4.6h-4.6z"/>
<path fill="#0a70ff" d="M1196.7 357h4.6v4.6h-4.6z"/>
<path fill="#0a89ff" d="M1200.7 357h4.6v4.6h-4.6z"/>
<path fill="#0aadff" d="M1204.7 357h4.6v4.6h-4.6z"/>
<path fill="#0adcff" d="M1208.7 357h4.6v4.6h-4.6z"/>
<path fill="#25ffe3" d="M1212.7 357h4.6v4.6h-4.6z"/>
<path fill="#75ff93" d="M1216.7 357h4.6v4.6h-4.6z"/>
<path fill="#d8ff31" d="M1220.7 357h4.6v4.6h-4.6z"/>
<path fill="#ffc50a" d="M1224.7 357h4.6v4.6h-4.6z"/>
<path fill="#ff9f0a" d="M1228.7 357h4.6v4.6h-4.6z"/>
<path fill="#deff2b" d="M1232.7 357h4.6v4.6h-4.6z"/>
<path fill="#fff80a" d="M1236.7 357h4.6v4.6h-4.6z"/>
<path fill="#ffb80a" d="M1240.7 357h4.6v4.6h-4.6z"/>
<path fill="#ffb90a" d="M1244.7 357h4.6v4.6h-4.6z"/>
<path fill="#ffb30a" d="M1248.7 357h4.6v4.6h-4.6z"/>
<path fill="#ffa50a" d="M1252.7 357h4.6v4.6h-4.6z"/>
<path fill="#ffc30a" d="M1256.7 357h4.6v4.6h-4.6z"/>
<path fill="#deff2a" d="M1260.7 357h4.6v4.6h-4.6z"/>
<path fill="#b4ff54" d="M1264.7 357h4.6v4.6h-4.6z"/>
<path fill="#beff4a" d="M1268.7 357h4.6v4.6h-4.6z"/>
<path fill="#cfff39" d="M1272.7 357h4.6v4.6h-4.6z"/>
<path fill="#deff2a" d="M1276.7 357h4.6v4.6h-4.6z"/>
<path fill="#ecff1c" d="M1280.7 357h4.6v4.6h-4.6z"/>
<path fill="#fcff0c" d="M1284.7 357h4.6v4.6h-4.6z"/>
<path fill="#fff10a" d="M1288.7 357h4.6v4.6h-4.6z"/>
<path fill="#ffe70a" d="M1292.7 357h4.6v4.6h-4.6z"/>
<path fill="#ffe40a" d="M1296.7 357h4.6v4.6h-4.6z"/>
<path fill="#ffe70a" d="M1300.7 357h4.6v4.6h-4.6z"/>
<path fill="#ffed0a" d="M1304.7 357h4.6v4.6h-4.6z"/>
<path fill="#fff50a" d="M1308.7 357h4.6v4.6h-4.6z"/>
<path fill="#fffd0a" d="M1312.7 357h4.6v4.6h-4.6z"/>
<path fill="#f6ff12" d="M1316.7 357h4.6v4.6h-4.6z"/>
<path fill="#ebff1d" d="M1320.7 357h4.6v4.6h-4.6z"/>
<path fill="#e0ff29" d="M1324.7 357h4.6v4.6h-4.6z"/>
<path fill="#d4ff35" d="M1328.7 357h4.6v4.6h-4.6z"/>
<path fill="#0acfff" d="M1176.7 361h4.6v4.6h-4.6z"/>
<path fill="#0ad6ff" d="M1180.7 361h4.6v4.6h-4.6z"/>
<path fill="#0ad0ff" d="M1184.7 361h4.6v4.6h-4.6z"/>
<path fill="#0abaff" d="M1188.7 361h4.6v4.6h-4.6z"/>
<path fill="#0aacff" d="M1192.7 361h4.6v4.6h-4.6z"/>
<path fill="#0ab0ff" d="M1196.7 361h4.6v4.6h-4.6z"/>
<path fill="#0ac1ff" d="M1200.7 361h4.6v4.6h-4.6z"/>
<path fill="#0addff" d="M1204.7 361h4.6v4.6h-4.6z"/>
<path fill="#11fff7" d="M1208.7 361h4.6v4.6h-4.6z"/>
<path fill="#4affbe" d="M1212.7 361h4.6v4.6h-4.6z"/>
<path fill="#98ff71" d="M1216.7 361h4.6v4.6h-4.6z"/>
<path fill="#faff0e" d="M1220.7 361h4.6v4.6h-4.6z"/>
<path fill="#ff960a" d="M1224.7 361h4.6v4.6h-4.6z"/>
<path fill="#ff450a" d="M1228.7 361h4.6v4.6h-4.6z"/>
<path fill="#ff440a" d="M1232.7 361h4.6v4.6h-4.6z"/>
<path fill="#ff210a" d="M1236.7 361h4.6v4.6h-4.6z"/>
<path fill="#ff2f0a" d="M1240.7 361h4.6v4.6h-4.6z"/>
<path fill="#ff440a" d="M1244.7 361h4.6v4.6h-4.6z"/>
<path fill="#ff4c0a" d="M1248.7 361h4.6v4.6h-4.6z"/>
<path fill="#ff570a" d="M1252.7 361h4.6v4.6h-4.6z"/>
<path fill="#ff7f0a" d="M1256.7 361h4.6v4.6h-4.6z"/>
<path fill="#ffc10a" d="M1260.7 361h4.6v4.6h-4.6z"/>
<path fill="#fff40a" d="M1264.7 361h4.6v4.6h-4.6z"/>
<path fill="#f3ff15" d="M1268.7 361h4.6v4.6h-4.6z"/>
<path fill="#ecff1d" d="M1272.7 361h4.6v4.6h-4.6z"/>
<path fill="#e9ff1f" d="M1276.7 361h4.6v4.6h-4.6z"/>
<path fill="#e8ff20" d="M1280.7 361h4.6v4.6h-4.6z"/>
<path fill="#ebff1e" d="M1284.7 361h4.6v4.6h-4.6z"/>
<path fill="#efff19" d="M1288.7 361h4.6v4.6h-4.6z"/>
<path fill="#f3ff16" d="M1292.7 361h4.6v4.6h-4.6z"/>
<path fill="#f2ff16" d="M1296.7 361h4.6v4.6h-4.6z"/>
<path fill="#efff19" d="M1300.7 361h4.6v4.6h-4.6z"/>
<path fill="#eaff1e" d="M1304.7 361h4.6v4.6h-4.6z"/>
<path fill="#e5ff23" d="M1308.7 361h4.6v4.6h-4.6z"/>
<path fill="#dfff29" d="M1312.7 361h4.6v4.6h-4.6z"/>
<path fill="#d8ff30" d="M1316.7 361h4.6v4.6h-4.6z"/>
<path fill="#cfff39" d="M1320.7 361h4.6v4.6h-4.6z"/>
<path fill="#c6ff43" d="M1324.7 361h4.6v4.6h-4.6z"/>
<path fill="#bbff4d" d="M1328.7 361h4.6v4.6h-4.6z"/>
<path fill="#b1ff57" d="M1332.7 361h4.6v4.6h-4.6z"/>
<path fill="#0afaff" d="M1176.7 365h4.6v4.6h-4.6z"/>
<path fill="#0cfffd" d="M1180.7 365h4.6v4.6h-4.6z"/>
<path fill="#0afeff" d="M1184.7 365h4.6v4.6h-4.6z"/>
<path fill="#0af4ff" d="M1188.7 365h4.6v4.6h-4.6z"/>
<path fill="#0aedff" d="M1192.7 365h4.6v4.6h-4.6z"/>
<path fill="#0af0ff" d="M1196.7 365h4.6v4.6h-4.6z"/>
<path fill="#0af9ff" d="M1200.7 365h4.6v4.6h-4.6z"/>
<path fill="#14fff4" d="M1204.7 365h4.6v4.6h-4.6z"/>
<path fill="#31ffd7" d="M1208.7 365h4.6v4.6h-4.6z"/>
<path fill="#5fffa9" d="M1212.7 365h4.6v4.6h-4.6z"/>
<path fill="#a0ff68" d="M1216.7 365h4.6v4.6h-4.6z"/>
<path fill="#f7ff11" d="M1220.7 365h4.6v4.6h-4.6z"/>
<path fill="#ff9a0a" d="M1224.7 365h4.6v4.6h-4.6z"/>
<path fill="#ff3b0a" d="M1228.7 365h4.6v4.6h-4.6z"/>
<path fill="#f70a0a" d="M1232.7 365h4.6v4.6h-4.6z"/>
<path fill="#dd0a0a" d="M1236.7 365h4.6v4.6h-4.6z"/>
<path fill="#ef0a0a" d="M1240.7 365h4.6v4.6h-4.6z"/>
<path fill="#fe0a0a" d="M1244.7 365h4.6v4.6h-4.6z"/>
<path fill="#ff140a" d="M1248.7 365h4.6v4.6h-4.6z"/>
<path fill="#ff260a" d="M1252.7 365h4.6v4.6h-4.6z"/>
<path fill="#ff4a0a" d="M1256.7 365h4.6v4.6h-4.6z"/>
<path fill="#ff7c0a" d="M1260.7 365h4.6v4.6h-4.6z"/>
<path fill="#ffad0a" d="M1264.7 365h4.6v4.6h-4.6z"/>
<path fill="#ffd40a" d="M1268.7 365h4.6v4.6h-4.6z"/>
<path fill="#fff10a" d="M1272.7 365h4.6v4.6h-4.6z"/>
<path fill="#f8ff11" d="M1276.7 365h4.6v4.6h-4.6z"/>
<path fill="#e9ff1f" d="M1280.7 365h4.6v4.6h-4.6z"/>
<path fill="#e1ff27" d="M1284.7 365h4.6v4.6h-4.6z"/>
<path fill="#dcff2c" d="M1288.7 365h4.6v4.6h-4.6z"/>
<path fill="#d8ff30" d="M1292.7 365h4.6v4.6h-4.6z"/>
<path fill="#d2ff36" d="M1296.7 365h4.6v4.6h-4.6z"/>
<path fill="#ccff3c" d="M1300.7 365h4.6v4.6h-4.6z"/>
<path fill="#c6ff42" d="M1304.7 365h4.6v4.6h-4.6z"/>
<path fill="#c2ff47" d="M1308.7 365h4.6v4.6h-4.6z"/>
<path fill="#beff4a" d="M1312.7 365h4.6v4.6h-4.6z"/>
<path fill="#b9ff4f" d="M1316.7 365h4.6v4.6h-4.6z"/>
<path fill="#b2ff56" d="M1320.7 365h4.6v4.6h-4.6z"/>
<path fill="#abff5d" d="M1324.7 365h4.6v4.6h-4.6z"/>
<path fill="#a3ff66" d="M1328.7 365h4.6v4.6h-4.6z"/>
<path fill="#9aff6f" d="M1332.7 365h4.6v4.6h-4.6z"/>
<path fill="#27ffe1" d="M1176.7 369h4.6v4.6h-4.6z"/>
<path fill="#26ffe2" d="M1180.7 369h4.6v4.6h-4.6z"/>
<path fill="#26ffe2" d="M1184.7 369h4.6v4.6h-4.6z"/>
<path fill="#2cffdc" d="M1188.7 369h4.6v4.6h-4.6z"/>
<path fill="#30ffd8" d="M1192.7 369h4.6v4.6h-4.6z"/>
<path fill="#34ffd4" d="M1196.7 369h4.6v4.6h-4.6z"/>
<path fill="#35ffd3" d="M1200.7 369h4.6v4.6h-4.6z"/>
<path fill="#39ffcf" d="M1204.7 369h4.6v4.6h-4.6z"/>
<path fill="#49ffbf" d="M1208.7 369h4.6v4.6h-4.6z"/>
<path fill="#69ffa0" d="M1212.7 369h4.6v4.6h-4.6z"/>
<path fill="#9dff6c" d="M1216.7 369h4.6v4.6h-4.6z"/>
<path fill="#e7ff21" d="M1220.7 369h4.6v4.6h-4.6z"/>
<path fill="#ffb70a" d="M1224.7 369h4.6v4.6h-4.6z"/>
<path fill="#ff5d0a" d="M1228.7 369h4.6v4.6h-4.6z"/>
<path fill="#ff1e0a" d="M1232.7 369h4.6v4.6h-4.6z"/>
<path fill="#f60a0a" d="M1236.7 369h4.6v4.6h-4.6z"/>
<path fill="#f30a0a" d="M1240.7 369h4.6v4.6h-4.6z"/>
<path fill="#f20a0a" d="M1244.7 369h4.6v4.6h-4.6z"/>
<path fill="#f50a0a" d="M1248.7 369h4.6v4.6h-4.6z"/>
<path fill="#ff0c0a" d="M1252.7 369h4.6v4.6h-4.6z"/>
<path fill="#ff260a" d="M1256.7 369h4.6v4.6h-4.6z"/>
<path fill="#ff4b0a" d="M1260.7 369h4.6v4.6h-4.6z"/>
<path fill="#ff750a" d="M1264.7 369h4.6v4.6h-4.6z"/>
<path fill="#ffa40a" d="M1268.7 369h4.6v4.6h-4.6z"/>
<path fill="#ffd50a" d="M1272.7 369h4.6v4.6h-4.6z"/>
<path fill="#fffa0a" d="M1276.7 369h4.6v4.6h-4.6z"/>
<path fill="#edff1b" d="M1280.7 369h4.6v4.6h-4.6z"/>
<path fill="#deff2a" d="M1284.7 369h4.6v4.6h-4.6z"/>
<path fill="#d2ff37" d="M1288.7 369h4.6v4.6h-4.6z"/>
<path fill="#c6ff43" d="M1292.7 369h4.6v4.6h-4.6z"/>
<path fill="#b9ff4f" d="M1296.7 369h4.6v4.6h-4.6z"/>
<path fill="#aeff5a" d="M1300.7 369h4.6v4.6h-4.6z"/>
<path fill="#a4ff64" d="M1304.7 369h4.6v4.6h-4.6z"/>
<path fill="#9fff69" d="M1308.7 369h4.6v4.6h-4.6z"/>
<path fill="#9dff6b" d="M1312.7 369h4.6v4.6h-4.6z"/>
<path fill="#9aff6e" d="M1316.7 369h4.6v4.6h-4.6z"/>
<path fill="#96ff72" d="M1320.7 369h4.6v4.6h-4.6z"/>
<path fill="#90ff78" d="M1324.7 369h4.6v4.6h-4.6z"/>
<path fill="#8aff7e" d="M1328.7 369h4.6v4.6h-4.6z"/>
<path fill="#82ff86" d="M1332.7 369h4.6v4.6h-4.6z"/>
<path fill="#4cffbc" d="M1176.7 373h4.6v4.6h-4.6z"/>
<path fill="#4dffbb" d="M1180.7 373h4.6v4.6h-4.6z"/>
<path fill="#52ffb6" d="M1184.7 373h4.6v4.6h-4.6z"/>
<path fill="#5bffad" d="M1188.7 373h4.6v4.6h-4.6z"/>
<path fill="#61ffa7" d="M1192.7 373h4.6v4.6h-4.6z"/>
<path fill="#62ffa6" d="M1196.7 373h4.6v4.6h-4.6z"/>
<path fill="#5effab" d="M1200.7 373h4.6v4.6h-4.6z"/>
<path fill="#59ffb0" d="M1204.7 373h4.6v4.6h-4.6z"/>
<path fill="#5cffad" d="M1208.7 373h4.6v4.6h-4.6z"/>
<path fill="#6dff9b" d="M1212.7 373h4.6v4.6h-4.6z"/>
<path fill="#94ff74" d="M1216.7 373h4.6v4.6h-4.6z"/>
<path fill="#d3ff35" d="M1220.7 373h4.6v4.6h-4.6z"/>
<path fill="#ffdb0a" d="M1224.7 373h4.6v4.6h-4.6z"/>
<path fill="#ff8e0a" d="M1228.7 373h4.6v4.6h-4.6z"/>
<path fill="#ff510a" d="M1232.7 373h4.6v4.6h-4.6z"/>
<path fill="#ff2b0a" d="M1236.7 373h4.6v4.6h-4.6z"/>
<path fill="#ff160a" d="M1240.7 373h4.6v4.6h-4.6z"/>
<path fill="#fe0a0a" d="M1244.7 373h4.6v4.6h-4.6z"/>
<path fill="#f70a0a" d="M1248.7 373h4.6v4.6h-4.6z"/>
<path fill="#f90a0a" d="M1252.7 373h4.6v4.6h-4.6z"/>
<path fill="#ff120a" d="M1256.7 373h4.6v4.6h-4.6z"/>
<path fill="#ff2a0a" d="M1260.7 373h4.6v4.6h-4.6z"/>
<path fill="#ff4b0a" d="M1264.7 373h4.6v4.6h-4.6z"/>
<path fill="#ff780a" d="M1268.7 373h4.6v4.6h-4.6z"/>
<path fill="#ffb60a" d="M1272.7 373h4.6v4.6h-4.6z"/>
<path fill="#ffe70a" d="M1276.7 373h4.6v4.6h-4.6z"/>
<path fill="#fbff0e" d="M1280.7 373h4.6v4.6h-4.6z"/>
<path fill="#e4ff24" d="M1284.7 373h4.6v4.6h-4.6z"/>
<path fill="#d0ff38" d="M1288.7 373h4.6v4.6h-4.6z"/>
<path fill="#bcff4c" d="M1292.7 373h4.6v4.6h-4.6z"/>
<path fill="#a8ff60" d="M1296.7 373h4.6v4.6h-4.6z"/>
<path fill="#96ff72" d="M1300.7 373h4.6v4.6h-4.6z"/>
<path fill="#87ff81" d="M1304.7 373h4.6v4.6h-4.6z"/>
<path fill="#7fff89" d="M1308.7 373h4.6v4.6h-4.6z"/>
<path fill="#7eff8a" d="M1312.7 373h4.6v4.6h-4.6z"/>
<path fill="#7eff8a" d="M1316.7 373h4.6v4.6h-4.6z"/>
<path fill="#7bff8d" d="M1320.7 373h4.6v4.6h-4.6z"/>
<path fill="#77ff91" d="M1324.7 373h4.6v4.6h-4.6z"/>
<path fill="#72ff97" d="M1328.7 373h4.6v4.6h-4.6z"/>
<path fill="#6bff9d" d="M1332.7 373h4.6v4.6h-4.6z"/>
<path fill="#76ff92" d="M1176.7 377h4.6v4.6h-4.6z"/>
<path fill="#7dff8c" d="M1180.7 377h4.6v4.6h-4.6z"/>
<path fill="#86ff83" d="M1184.7 377h4.6v4.6h-4.6z"/>
<path fill="#8fff79" d="M1188.7 377h4.6v4.6h-4.6z"/>
<path fill="#93ff75" d="M1192.7 377h4.6v4.6h-4.6z"/>
<path fill="#8fff79" d="M1196.7 377h4.6v4.6h-4.6z"/>
<path fill="#85ff84" d="M1200.7 377h4.6v4.6h-4.6z"/>
<path fill="#78ff90" d="M1204.7 377h4.6v4.6h-4.6z"/>
<path fill="#70ff98" d="M1208.7 377h4.6v4.6h-4.6z"/>
<path fill="#73ff95" d="M1212.7 377h4.6v4.6h-4.6z"/>
<path fill="#8bff7e" d="M1216.7 377h4.6v4.6h-4.6z"/>
<path fill="#beff4a" d="M1220.7 377h4.6v4.6h-4.6z"/>
<path fill="#fffe0a" d="M1224.7 377h4.6v4.6h-4.6z"/>
<path fill="#ffbe0a" d="M1228.7 377h4.6v4.6h-4.6z"/>
<path fill="#ff870a" d="M1232.7 377h4.6v4.6h-4.6z"/>
<path fill="#ff5c0a" d="M1236.7 377h4.6v4.6h-4.6z"/>
<path fill="#ff3d0a" d="M1240.7 377h4.6v4.6h-4.6z"/>
<path fill="#ff260a" d="M1244.7 377h4.6v4.6h-4.6z"/>
<path fill="#ff140a" d="M1248.7 377h4.6v4.6h-4.6z"/>
<path fill="#ff0b0a" d="M1252.7 377h4.6v4.6h-4.6z"/>
<path fill="#ff0d0a" d="M1256.7 377h4.6v4.6h-4.6z"/>
<path fill="#ff1a0a" d="M1260.7 377h4.6v4.6h-4.6z"/>
<path fill="#ff330a" d="M1264.7 377h4.6v4.6h-4.6z"/>
<path fill="#ff5b0a" d="M1268.7 377h4.6v4.6h-4.6z"/>
<path fill="#ff910a" d="M1272.7 377h4.6v4.6h-4.6z"/>
<path fill="#ffc30a" d="M1276.7 377h4.6v4.6h-4.6z"/>
<path fill="#ffe90a" d="M1280.7 377h4.6v4.6h-4.6z"/>
<path fill="#f5ff14" d="M1284.7 377h4.6v4.6h-4.6z"/>
<path fill="#d7ff31" d="M1288.7 377h4.6v4.6h-4.6z"/>
<path fill="#bbff4d" d="M1292.7 377h4.6v4.6h-4.6z"/>
<path fill="#9fff69" d="M1296.7 377h4.6v4.6h-4.6z"/>
<path fill="#86ff82" d="M1300.7 377h4.6v4.6h-4.6z"/>
<path fill="#71ff97" d="M1304.7 377h4.6v4.6h-4.6z"/>
<path fill="#65ffa3" d="M1308.7 377h4.6v4.6h-4.6z"/>
<path fill="#65ffa3" d="M1312.7 377h4.6v4.6h-4.6z"/>
<path fill="#66ffa2" d="M1316.7 377h4.6v4.6h-4.6z"/>
<path fill="#64ffa5" d="M1320.7 377h4.6v4.6h-4.6z"/>
<path fill="#5fffa9" d="M1324.7 377h4.6v4.6h-4.6z"/>
<path fill="#5affae" d="M1328.7 377h4.6v4.6h-4.6z"/>
<path fill="#55ffb3" d="M1332.7 377h4.6v4.6h-4.6z"/>
<path fill="#a2ff66" d="M1176.7 381h4.6v4.6h-4.6z"/>
<path fill="#adff5c" d="M1180.7 381h4.6v4.6h-4.6z"/>
<path fill="#b9ff4f" d="M1184.7 381h4.6v4.6h-4.6z"/>
<path fill="#c4ff44" d="M1188.7 381h4.6v4.6h-4.6z"/>
<path fill="#c7ff41" d="M1192.7 381h4.6v4.6h-4.6z"/>
<path fill="#c0ff48" d="M1196.7 381h4.6v4.6h-4.6z"/>
<path fill="#b1ff57" d="M1200.7 381h4.6v4.6h-4.6z"/>
<path fill="#9eff6a" d="M1204.7 381h4.6v4.6h-4.6z"/>
<path fill="#8eff7b" d="M1208.7 381h4.6v4.6h-4.6z"/>
<path fill="#87ff82" d="M1212.7 381h4.6v4.6h-4.6z"/>
<path fill="#91ff77" d="M1216.7 381h4.6v4.6h-4.6z"/>
<path fill="#b5ff53" d="M1220.7 381h4.6v4.6h-4.6z"/>
<path fill="#e4ff24" d="M1224.7 381h4.6v4.6h-4.6z"/>
<path fill="#ffe70a" d="M1228.7 381h4.6v4.6h-4.6z"/>
<path fill="#ffb90a" d="M1232.7 381h4.6v4.6h-4.6z"/>
<path fill="#ff900a" d="M1236.7 381h4.6v4.6h-4.6z"/>
<path fill="#ff6b0a" d="M1240.7 381h4.6v4.6h-4.6z"/>
<path fill="#ff4c0a" d="M1244.7 381h4.6v4.6h-4.6z"/>
<path fill="#ff310a" d="M1248.7 381h4.6v4.6h-4.6z"/>
<path fill="#ff1e0a" d="M1252.7 381h4.6v4.6h-4.6z"/>
<path fill="#ff150a" d="M1256.7 381h4.6v4.6h-4.6z"/>
<path fill="#ff190a" d="M1260.7 381h4.6v4.6h-4.6z"/>
<path fill="#ff290a" d="M1264.7 381h4.6v4.6h-4.6z"/>
<path fill="#ff480a" d="M1268.7 381h4.6v4.6h-4.6z"/>
<path fill="#ff720a" d="M1272.7 381h4.6v4.6h-4.6z"/>
<path fill="#ff9f0a" d="M1276.7 381h4.6v4.6h-4.6z"/>
<path fill="#ffc90a" d="M1280.7 381h4.6v4.6h-4.6z"/>
<path fill="#fff10a" d="M1284.7 381h4.6v4.6h-4.6z"/>
<path fill="#e6ff22" d="M1288.7 381h4.6v4.6h-4.6z"/>
<path fill="#c2ff47" d="M1292.7 381h4.6v4.6h-4.6z"/>
<path fill="#9eff6a" d="M1296.7 381h4.6v4.6h-4.6z"/>
<path fill="#7fff89" d="M1300.7 381h4.6v4.6h-4.6z"/>
<path fill="#66ffa2" d="M1304.7 381h4.6v4.6h-4.6z"/>
<path fill="#57ffb1" d="M1308.7 381h4.6v4.6h-4.6z"/>
<path fill="#53ffb5" d="M1312.7 381h4.6v4.6h-4.6z"/>
<path fill="#52ffb6" d="M1316.7 381h4.6v4.6h-4.6z"/>
<path fill="#4effba" d="M1320.7 381h4.6v4.6h-4.6z"/>
<path fill="#49ffbf" d="M1324.7 381h4.6v4.6h-4.6z"/>
<path fill="#45ffc3" d="M1328.7 381h4.6v4.6h-4.6z"/>
<path fill="#41ffc8" d="M1332.7 381h4.6v4.6h-4.6z"/>
<path fill="#cdff3b" d="M1176.7 385h4.6v4.6h-4.6z"/>
<path fill="#dbff2e" d="M1180.7 385h4.6v4.6h-4.6z"/>
<path fill="#e9ff1f" d="M1184.7 385h4.6v4.6h-4.6z"/>
<path fill="#f7ff12" d="M1188.7 385h4.6v4.6h-4.6z"/>
<path fill="#fdff0b" d="M1192.7 385h4.6v4.6h-4.6z"/>
<path fill="#f8ff10" d="M1196.7 385h4.6v4.6h-4.6z"/>
<path fill="#e8ff21" d="M1200.7 385h4.6v4.6h-4.6z"/>
<path fill="#cfff39" d="M1204.7 385h4.6v4.6h-4.6z"/>
<path fill="#baff4e" d="M1208.7 385h4.6v4.6h-4.6z"/>
<path fill="#adff5c" d="M1212.7 385h4.6v4.6h-4.6z"/>
<path fill="#acff5c" d="M1216.7 385h4.6v4.6h-4.6z"/>
<path fill="#bbff4d" d="M1220.7 385h4.6v4.6h-4.6z"/>
<path fill="#d6ff32" d="M1224.7 385h4.6v4.6h-4.6z"/>
<path fill="#f7ff12" d="M1228.7 385h4.6v4.6h-4.6z"/>
<path fill="#ffe40a" d="M1232.7 385h4.6v4.6h-4.6z"/>
<path fill="#ffc00a" d="M1236.7 385h4.6v4.6h-4.6z"/>
<path fill="#ff9a0a" d="M1240.7 385h4.6v4.6h-4.6z"/>
<path fill="#ff750a" d="M1244.7 385h4.6v4.6h-4.6z"/>
<path fill="#ff520a" d="M1248.7 385h4.6v4.6h-4.6z"/>
<path fill="#ff370a" d="M1252.7 385h4.6v4.6h-4.6z"/>
<path fill="#ff250a" d="M1256.7 385h4.6v4.6h-4.6z"/>
<path fill="#ff1f0a" d="M1260.7 385h4.6v4.6h-4.6z"/>
<path fill="#ff250a" d="M1264.7 385h4.6v4.6h-4.6z"/>
<path fill="#ff380a" d="M1268.7 385h4.6v4.6h-4.6z"/>
<path fill="#ff560a" d="M1272.7 385h4.6v4.6h-4.6z"/>
<path fill="#ff7d0a" d="M1276.7 385h4.6v4.6h-4.6z"/>
<path fill="#ffa90a" d="M1280.7 385h4.6v4.6h-4.6z"/>
<path fill="#ffd50a" d="M1284.7 385h4.6v4.6h-4.6z"/>
<path fill="#faff0e" d="M1288.7 385h4.6v4.6h-4.6z"/>
<path fill="#ceff3a" d="M1292.7 385h4.6v4.6h-4.6z"/>
<path fill="#a4ff64" d="M1296.7 385h4.6v4.6h-4.6z"/>
<path fill="#7eff8a" d="M1300.7 385h4.6v4.6h-4.6z"/>
<path fill="#60ffa8" d="M1304.7 385h4.6v4.6h-4.6z"/>
<path fill="#4cffbc" d="M1308.7 385h4.6v4.6h-4.6z"/>
<path fill="#42ffc6" d="M1312.7 385h4.6v4.6h-4.6z"/>
<path fill="#3dffcb" d="M1316.7 385h4.6v4.6h-4.6z"/>
<path fill="#39ffd0" d="M1320.7 385h4.6v4.6h-4.6z"/>
<path fill="#34ffd4" d="M1324.7 385h4.6v4.6h-4.6z"/>
<path fill="#31ffd7" d="M1328.7 385h4.6v4.6h-4.6z"/>
<path fill="#2effdb" d="M1332.7 385h4.6v4.6h-4.6z"/>
<path fill="#f5ff13" d="M1176.7 389h4.6v4.6h-4.6z"/>
<path fill="#fff80a" d="M1180.7 389h4.6v4.6h-4.6z"/>
<path fill="#ffe60a" d="M1184.7 389h4.6v4.6h-4.6z"/>
<path fill="#ffd50a" d="M1188.7 389h4.6v4.6h-4.6z"/>
<path fill="#ffc80a" d="M1192.7 389h4.6v4.6h-4.6z"/>
<path fill="#ffc50a" d="M1196.7 389h4.6v4.6h-4.6z"/>
<path fill="#ffd20a" d="M1200.7 389h4.6v4.6h-4.6z"/>
<path fill="#ffec0a" d="M1204.7 389h4.6v4.6h-4.6z"/>
<path fill="#f6ff12" d="M1208.7 389h4.6v4.6h-4.6z"/>
<path fill="#dfff29" d="M1212.7 389h4.6v4.6h-4.6z"/>
<path fill="#d1ff37" d="M1216.7 389h4.6v4.6h-4.6z"/>
<path fill="#cfff3a" d="M1220.7 389h4.6v4.6h-4.6z"/>
<path fill="#d5ff33" d="M1224.7 389h4.6v4.6h-4.6z"/>
<path fill="#e3ff25" d="M1228.7 389h4.6v4.6h-4.6z"/>
<path fill="#f7ff11" d="M1232.7 389h4.6v4.6h-4.6z"/>
<path fill="#ffe90a" d="M1236.7 389h4.6v4.6h-4.6z"/>
<path fill="#ffc50a" d="M1240.7 389h4.6v4.6h-4.6z"/>
<path fill="#ff9b0a" d="M1244.7 389h4.6v4.6h-4.6z"/>
<path fill="#ff720a" d="M1248.7 389h4.6v4.6h-4.6z"/>
<path fill="#ff4f0a" d="M1252.7 389h4.6v4.6h-4.6z"/>
<path fill="#ff360a" d="M1256.7 389h4.6v4.6h-4.6z"/>
<path fill="#ff270a" d="M1260.7 389h4.6v4.6h-4.6z"/>
<path fill="#ff230a" d="M1264.7 389h4.6v4.6h-4.6z"/>
<path fill="#ff2a0a" d="M1268.7 389h4.6v4.6h-4.6z"/>
<path fill="#ff3e0a" d="M1272.7 389h4.6v4.6h-4.6z"/>
<path fill="#ff5e0a" d="M1276.7 389h4.6v4.6h-4.6z"/>
<path fill="#ff890a" d="M1280.7 389h4.6v4.6h-4.6z"/>
<path fill="#ffba0a" d="M1284.7 389h4.6v4.6h-4.6z"/>
<path fill="#ffed0a" d="M1288.7 389h4.6v4.6h-4.6z"/>
<path fill="#deff2a" d="M1292.7 389h4.6v4.6h-4.6z"/>
<path fill="#adff5b" d="M1296.7 389h4.6v4.6h-4.6z"/>
<path fill="#81ff87" d="M1300.7 389h4.6v4.6h-4.6z"/>
<path fill="#5dffab" d="M1304.7 389h4.6v4.6h-4.6z"/>
<path fill="#43ffc6" d="M1308.7 389h4.6v4.6h-4.6z"/>
<path fill="#33ffd5" d="M1312.7 389h4.6v4.6h-4.6z"/>
<path fill="#2affde" d="M1316.7 389h4.6v4.6h-4.6z"/>
<path fill="#25ffe3" d="M1320.7 389h4.6v4.6h-4.6z"/>
<path fill="#22ffe6" d="M1324.7 389h4.6v4.6h-4.6z"/>
<path fill="#1fffe9" d="M1328.7 389h4.6v4.6h-4.6z"/>
<path fill="#1dffeb" d="M1332.7 389h4.6v4.6h-4.6z"/>
<path fill="#ffe10a" d="M1176.7 393h4.6v4.6h-4.6z"/>
<path fill="#ffd00a" d="M1180.7 393h4.6v4.6h-4.6z"/>
<path fill="#ffbc0a" d="M1184.7 393h4.6v4.6h-4.6z"/>
<path fill="#ffa60a" d="M1188.7 393h4.6v4.6h-4.6z"/>
<path fill="#ff8e0a" d="M1192.7 393h4.6v4.6h-4.6z"/>
<path fill="#ff7e0a" d="M1196.7 393h4.6v4.6h-4.6z"/>
<path fill="#ff840a" d="M1200.7 393h4.6v4.6h-4.6z"/>
<path fill="#ff9f0a" d="M1204.7 393h4.6v4.6h-4.6z"/>
<path fill="#ffc20a" d="M1208.7 393h4.6v4.6h-4.6z"/>
<path fill="#ffe40a" d="M1212.7 393h4.6v4.6h-4.6z"/>
<path fill="#feff0b" d="M1216.7 393h4.6v4.6h-4.6z"/>
<path fill="#ebff1d" d="M1220.7 393h4.6v4.6h-4.6z"/>
<path fill="#e1ff28" d="M1224.7 393h4.6v4.6h-4.6z"/>
<path fill="#ddff2b" d="M1228.7 393h4.6v4.6h-4.6z"/>
<path fill="#e2ff26" d="M1232.7 393h4.6v4.6h-4.6z"/>
<path fill="#f4ff14" d="M1236.7 393h4.6v4.6h-4.6z"/>
<path fill="#ffe50a" d="M1240.7 393h4.6v4.6h-4.6z"/>
<path fill="#ffb70a" d="M1244.7 393h4.6v4.6h-4.6z"/>
<path fill="#ff890a" d="M1248.7 393h4.6v4.6h-4.6z"/>
<path fill="#ff620a" d="M1252.7 393h4.6v4.6h-4.6z"/>
<path fill="#ff440a" d="M1256.7 393h4.6v4.6h-4.6z"/>
<path fill="#ff2f0a" d="M1260.7 393h4.6v4.6h-4.6z"/>
<path fill="#ff230a" d="M1264.7 393h4.6v4.6h-4.6z"/>
<path fill="#ff1e0a" d="M1268.7 393h4.6v4.6h-4.6z"/>
<path fill="#ff260a" d="M1272.7 393h4.6v4.6h-4.6z"/>
<path fill="#ff420a" d="M1276.7 393h4.6v4.6h-4.6z"/>
<path fill="#ff6d0a" d="M1280.7 393h4.6v4.6h-4.6z"/>
<path fill="#ffa00a" d="M1284.7 393h4.6v4.6h-4.6z"/>
<path fill="#ffd70a" d="M1288.7 393h4.6v4.6h-4.6z"/>
<path fill="#efff19" d="M1292.7 393h4.6v4.6h-4.6z"/>
<path fill="#b9ff4f" d="M1296.7 393h4.6v4.6h-4.6z"/>
<path fill="#87ff81" d="M1300.7 393h4.6v4.6h-4.6z"/>
<path fill="#5cffad" d="M1304.7 393h4.6v4.6h-4.6z"/>
<path fill="#3bffcd" d="M1308.7 393h4.6v4.6h-4.6z"/>
<path fill="#27ffe2" d="M1312.7 393h4.6v4.6h-4.6z"/>
<path fill="#1cffec" d="M1316.7 393h4.6v4.6h-4.6z"/>
<path fill="#17fff2" d="M1320.7 393h4.6v4.6h-4.6z"/>
<path fill="#14fff5" d="M1324.7 393h4.6v4.6h-4.6z"/>
<path fill="#12fff6" d="M1328.7 393h4.6v4.6h-4.6z"/>
<path fill="#10fff8" d="M1332.7 393h4.6v4.6h-4.6z"/>
<path fill="#ffbe0a" d="M1176.7 397h4.6v4.6h-4.6z"/>
<path fill="#ffac0a" d="M1180.7 397h4.6v4.6h-4.6z"/>
<path fill="#ff970a" d="M1184.7 397h4.6v4.6h-4.6z"/>
<path fill="#ff7d0a" d="M1188.7 397h4.6v4.6h-4.6z"/>
<path fill="#ff5b0a" d="M1192.7 397h4.6v4.6h-4.6z"/>
<path fill="#ff3a0a" d="M1196.7 397h4.6v4.6h-4.6z"/>
<path fill="#ff370a" d="M1200.7 397h4.6v4.6h-4.6z"/>
<path fill="#ff560a" d="M1204.7 397h4.6v4.6h-4.6z"/>
<path fill="#ff810a" d="M1208.7 397h4.6v4.6h-4.6z"/>
<path fill="#ffab0a" d="M1212.7 397h4.6v4.6h-4.6z"/>
<path fill="#ffd10a" d="M1216.7 397h4.6v4.6h-4.6z"/>
<path fill="#ffef0a" d="M1220.7 397h4.6v4.6h-4.6z"/>
<path fill="#f7ff11" d="M1224.7 397h4.6v4.6h-4.6z"/>
<path fill="#e7ff21" d="M1228.7 397h4.6v4.6h-4.6z"/>
<path fill="#dfff29" d="M1232.7 397h4.6v4.6h-4.6z"/>
<path fill="#e6ff22" d="M1236.7 397h4.6v4.6h-4.6z"/>
<path fill="#fff20a" d="M1240.7 397h4.6v4.6h-4.6z"/>
<path fill="#ffc20a" d="M1244.7 397h4.6v4.6h-4.6z"/>
<path fill="#ff930a" d="M1248.7 397h4.6v4.6h-4.6z"/>
<path fill="#ff6a0a" d="M1252.7 397h4.6v4.6h-4.6z"/>
<path fill="#ff4a0a" d="M1256.7 397h4.6v4.6h-4.6z"/>
<path fill="#ff340a" d="M1260.7 397h4.6v4.6h-4.6z"/>
<path fill="#ff240a" d="M1264.7 397h4.6v4.6h-4.6z"/>
<path fill="#ff160a" d="M1268.7 397h4.6v4.6h-4.6z"/>
<path fill="#ff130a" d="M1272.7 397h4.6v4.6h-4.6z"/>
<path fill="#ff2c0a" d="M1276.7 397h4.6v4.6h-4.6z"/>
<path fill="#ff580a" d="M1280.7 397h4.6v4.6h-4.6z"/>
<path fill="#ff8c0a" d="M1284.7 397h4.6v4.6h-4.6z"/>
<path fill="#ffc30a" d="M1288.7 397h4.6v4.6h-4.6z"/>
<path fill="#fffc0a" d="M1292.7 397h4.6v4.6h-4.6z"/>
<path fill="#c8ff41" d="M1296.7 397h4.6v4.6h-4.6z"/>
<path fill="#91ff78" d="M1300.7 397h4.6v4.6h-4.6z"/>
<path fill="#5fffaa" d="M1304.7 397h4.6v4.6h-4.6z"/>
<path fill="#37ffd1" d="M1308.7 397h4.6v4.6h-4.6z"/>
<path fill="#20ffe8" d="M1312.7 397h4.6v4.6h-4.6z"/>
<path fill="#15fff4" d="M1316.7 397h4.6v4.6h-4.6z"/>
<path fill="#0ffffa" d="M1320.7 397h4.6v4.6h-4.6z"/>
<path fill="#0bfffd" d="M1324.7 397h4.6v4.6h-4.6z"/>
<path fill="#0afeff" d="M1328.7 397h4.6v4.6h-4.6z"/>
<path fill="#0afdff" d="M1332.7 397h4.6v4.6h-4.6z"/>
<path fill="#ff890a" d="M1180.7 401h4.6v4.6h-4.6z"/>
<path fill="#ff740a" d="M1184.7 401h4.6v4.6h-4.6z"/>
<path fill="#ff5a0a" d="M1188.7 401h4.6v4.6h-4.6z"/>
<path fill="#ff320a" d="M1192.7 401h4.6v4.6h-4.6z"/>
<path fill="#fd0a0a" d="M1196.7 401h4.6v4.6h-4.6z"/>
<path fill="#f50a0a" d="M1200.7 401h4.6v4.6h-4.6z"/>
<path fill="#ff200a" d="M1204.7 401h4.6v4.6h-4.6z"/>
<path fill="#ff4c0a" d="M1208.7 401h4.6v4.6h-4.6z"/>
<path fill="#ff790a" d="M1212.7 401h4.6v4.6h-4.6z"/>
<path fill="#ffa30a" d="M1216.7 401h4.6v4.6h-4.6z"/>
<path fill="#ffc70a" d="M1220.7 401h4.6v4.6h-4.6z"/>
<path fill="#ffe40a" d="M1224.7 401h4.6v4.6h-4.6z"/>
<path fill="#fffa0a" d="M1228.7 401h4.6v4.6h-4.6z"/>
<path fill="#f6ff12" d="M1232.7 401h4.6v4.6h-4.6z"/>
<path fill="#fbff0d" d="M1236.7 401h4.6v4.6h-4.6z"/>
<path fill="#ffe30a" d="M1240.7 401h4.6v4.6h-4.6z"/>
<path fill="#ffb70a" d="M1244.7 401h4.6v4.6h-4.6z"/>
<path fill="#ff8b0a" d="M1248.7 401h4.6v4.6h-4.6z"/>
<path fill="#ff650a" d="M1252.7 401h4.6v4.6h-4.6z"/>
<path fill="#ff470a" d="M1256.7 401h4.6v4.6h-4.6z"/>
<path fill="#ff320a" d="M1260.7 401h4.6v4.6h-4.6z"/>
<path fill="#ff230a" d="M1264.7 401h4.6v4.6h-4.6z"/>
<path fill="#ff130a" d="M1268.7 401h4.6v4.6h-4.6z"/>
<path fill="#ff0e0a" d="M1272.7 401h4.6v4.6h-4.6z"/>
<path fill="#ff230a" d="M1276.7 401h4.6v4.6h-4.6z"/>
<path fill="#ff4c0a" d="M1280.7 401h4.6v4.6h-4.6z"/>
<path fill="#ff7e0a" d="M1284.7 401h4.6v4.6h-4.6z"/>
<path fill="#ffb40a" d="M1288.7 401h4.6v4.6h-4.6z"/>
<path fill="#ffec0a" d="M1292.7 401h4.6v4.6h-4.6z"/>
<path fill="#d8ff30" d="M1296.7 401h4.6v4.6h-4.6z"/>
<path fill="#9fff69" d="M1300.7 401h4.6v4.6h-4.6z"/>
<path fill="#6aff9f" d="M1304.7 401h4.6v4.6h-4.6z"/>
<path fill="#3effca" d="M1308.7 401h4.6v4.6h-4.6z"/>
<path fill="#24ffe4" d="M1312.7 401h4.6v4.6h-4.6z"/>
<path fill="#17fff2" d="M1316.7 401h4.6v4.6h-4.6z"/>
<path fill="#0efffa" d="M1320.7 401h4.6v4.6h-4.6z"/>
<path fill="#0afeff" d="M1324.7 401h4.6v4.6h-4.6z"/>
<path fill="#0afbff" d="M1328.7 401h4.6v4.6h-4.6z"/>
<path fill="#ff680a" d="M1180.7 405h4.6v4.6h-4.6z"/>
<path fill="#ff520a" d="M1184.7 405h4.6v4.6h-4.6z"/>
<path fill="#ff360a" d="M1188.7 405h4.6v4.6h-4.6z"/>
<path fill="#ff130a" d="M1192.7 405h4.6v4.6h-4.6z"/>
<path fill="#e80a0a" d="M1196.7 405h4.6v4.6h-4.6z"/>
<path fill="#e10a0a" d="M1200.7 405h4.6v4.6h-4.6z"/>
<path fill="#f60a0a" d="M1204.7 405h4.6v4.6h-4.6z"/>
<path fill="#ff270a" d="M1208.7 405h4.6v4.6h-4.6z"/>
<path fill="#ff510a" d="M1212.7 405h4.6v4.6h-4.6z"/>
<path fill="#ff7a0a" d="M1216.7 405h4.6v4.6h-4.6z"/>
<path fill="#ff9e0a" d="M1220.7 405h4.6v4.6h-4.6z"/>
<path fill="#ffbb0a" d="M1224.7 405h4.6v4.6h-4.6z"/>
<path fill="#ffd00a" d="M1228.7 405h4.6v4.6h-4.6z"/>
<path fill="#ffda0a" d="M1232.7 405h4.6v4.6h-4.6z"/>
<path fill="#ffd40a" d="M1236.7 405h4.6v4.6h-4.6z"/>
<path fill="#ffbc0a" d="M1240.7 405h4.6v4.6h-4.6z"/>
<path fill="#ff990a" d="M1244.7 405h4.6v4.6h-4.6z"/>
<path fill="#ff740a" d="M1248.7 405h4.6v4.6h-4.6z"/>
<path fill="#ff530a" d="M1252.7 405h4.6v4.6h-4.6z"/>
<path fill="#ff390a" d="M1256.7 405h4.6v4.6h-4.6z"/>
<path fill="#ff260a" d="M1260.7 405h4.6v4.6h-4.6z"/>
<path fill="#ff190a" d="M1264.7 405h4.6v4.6h-4.6z"/>
<path fill="#ff100a" d="M1268.7 405h4.6v4.6h-4.6z"/>
<path fill="#ff110a" d="M1272.7 405h4.6v4.6h-4.6z"/>
<path fill="#ff240a" d="M1276.7 405h4.6v4.6h-4.6z"/>
<path fill="#ff480a" d="M1280.7 405h4.6v4.6h-4.6z"/>
<path fill="#ff760a" d="M1284.7 405h4.6v4.6h-4.6z"/>
<path fill="#ffa90a" d="M1288.7 405h4.6v4.6h-4.6z"/>
<path fill="#ffde0a" d="M1292.7 405h4.6v4.6h-4.6z"/>
<path fill="#e9ff1f" d="M1296.7 405h4.6v4.6h-4.6z"/>
<path fill="#b1ff57" d="M1300.7 405h4.6v4.6h-4.6z"/>
<path fill="#7dff8b" d="M1304.7 405h4.6v4.6h-4.6z"/>
<path fill="#52ffb6" d="M1308.7 405h4.6v4.6h-4.6z"/>
<path fill="#35ffd3" d="M1312.7 405h4.6v4.6h-4.6z"/>
<path fill="#22ffe6" d="M1316.7 405h4.6v4.6h-4.6z"/>
<path fill="#16fff2" d="M1320.7 405h4.6v4.6h-4.6z"/>
<path fill="#0efffa" d="M1324.7 405h4.6v4.6h-4.6z"/>
<path fill="#0afeff" d="M1328.7 405h4.6v4.6h-4.6z"/>
<path fill="#ff4a0a" d="M1180.7 409h4.6v4.6h-4.6z"/>
<path fill="#ff330a" d="M1184.7 409h4.6v4.6h-4.6z"/>
<path fill="#ff190a" d="M1188.7 409h4.6v4.6h-4.6z"/>
<path fill="#f20a0a" d="M1192.7 409h4.6v4.6h-4.6z"/>
<path fill="#dc0a0a" d="M1196.7 409h4.6v4.6h-4.6z"/>
<path fill="#d80a0a" d="M1200.7 409h4.6v4.6h-4.6z"/>
<path fill="#e70a0a" d="M1204.7 409h4.6v4.6h-4.6z"/>
<path fill="#ff0f0a" d="M1208.7 409h4.6v4.6h-4.6z"/>
<path fill="#ff320a" d="M1212.7 409h4.6v4.6h-4.6z"/>
<path fill="#ff550a" d="M1216.7 409h4.6v4.6h-4.6z"/>
<path fill="#ff750a" d="M1220.7 409h4.6v4.6h-4.6z"/>
<path fill="#ff8e0a" d="M1224.7 409h4.6v4.6h-4.6z"/>
<path fill="#ffa00a" d="M1228.7 409h4.6v4.6h-4.6z"/>
<path fill="#ffa70a" d="M1232.7 409h4.6v4.6h-4.6z"/>
<path fill="#ffa00a" d="M1236.7 409h4.6v4.6h-4.6z"/>
<path fill="#ff8c0a" d="M1240.7 409h4.6v4.6h-4.6z"/>
<path fill="#ff720a" d="M1244.7 409h4.6v4.6h-4.6z"/>
<path fill="#ff550a" d="M1248.7 409h4.6v4.6h-4.6z"/>
<path fill="#ff3a0a" d="M1252.7 409h4.6v4.6h-4.6z"/>
<path fill="#ff240a" d="M1256.7 409h4.6v4.6h-4.6z"/>
<path fill="#ff150a" d="M1260.7 409h4.6v4.6h-4.6z"/>
<path fill="#ff0d0a" d="M1264.7 409h4.6v4.6h-4.6z"/>
<path fill="#ff0a0a" d="M1268.7 409h4.6v4.6h-4.6z"/>
<path fill="#ff120a" d="M1272.7 409h4.6v4.6h-4.6z"/>
<path fill="#ff260a" d="M1276.7 409h4.6v4.6h-4.6z"/>
<path fill="#ff480a" d="M1280.7 409h4.6v4.6h-4.6z"/>
<path fill="#ff730a" d="M1284.7 409h4.6v4.6h-4.6z"/>
<path fill="#ffa20a" d="M1288.7 409h4.6v4.6h-4.6z"/>
<path fill="#ffd30a" d="M1292.7 409h4.6v4.6h-4.6z"/>
<path fill="#f8ff11" d="M1296.7 409h4.6v4.6h-4.6z"/>
<path fill="#c5ff44" d="M1300.7 409h4.6v4.6h-4.6z"/>
<path fill="#94ff74" d="M1304.7 409h4.6v4.6h-4.6z"/>
<path fill="#6bff9d" d="M1308.7 409h4.6v4.6h-4.6z"/>
<path fill="#4bffbd" d="M1312.7 409h4.6v4.6h-4.6z"/>
<path fill="#35ffd4" d="M1316.7 409h4.6v4.6h-4.6z"/>
<path fill="#25ffe4" d="M1320.7 409h4.6v4.6h-4.6z"/>
<path fill="#19ffef" d="M1324.7 409h4.6v4.6h-4.6z"/>
<path fill="#11fff8" d="M1328.7 409h4.6v4.6h-4.6z"/>
<path fill="#ff1a0a" d="M1184.7 413h4.6v4.6h-4.6z"/>
<path fill="#f80a0a" d="M1188.7 413h4.6v4.6h-4.6z"/>
<path fill="#e30a0a" d="M1192.7 413h4.6v4.6h-4.6z"/>
<path fill="#d50a0a" d="M1196.7 413h4.6v4.6h-4.6z"/>
<path fill="#d20a0a" d="M1200.7 413h4.6v4.6h-4.6z"/>
<path fill="#de0a0a" d="M1204.7 413h4.6v4.6h-4.6z"/>
<path fill="#f40a0a" d="M1208.7 413h4.6v4.6h-4.6z"/>
<path fill="#ff1a0a" d="M1212.7 413h4.6v4.6h-4.6z"/>
<path fill="#ff360a" d="M1216.7 413h4.6v4.6h-4.6z"/>
<path fill="#ff4e0a" d="M1220.7 413h4.6v4.6h-4.6z"/>
<path fill="#ff620a" d="M1224.7 413h4.6v4.6h-4.6z"/>
<path fill="#ff6f0a" d="M1228.7 413h4.6v4.6h-4.6z"/>
<path fill="#ff740a" d="M1232.7 413h4.6v4.6h-4.6z"/>
<path fill="#ff6e0a" d="M1236.7 413h4.6v4.6h-4.6z"/>
<path fill="#ff600a" d="M1240.7 413h4.6v4.6h-4.6z"/>
<path fill="#ff4c0a" d="M1244.7 413h4.6v4.6h-4.6z"/>
<path fill="#ff350a" d="M1248.7 413h4.6v4.6h-4.6z"/>
<path fill="#ff1f0a" d="M1252.7 413h4.6v4.6h-4.6z"/>
<path fill="#ff0e0a" d="M1256.7 413h4.6v4.6h-4.6z"/>
<path fill="#fa0a0a" d="M1260.7 413h4.6v4.6h-4.6z"/>
<path fill="#f70a0a" d="M1264.7 413h4.6v4.6h-4.6z"/>
<path fill="#fa0a0a" d="M1268.7 413h4.6v4.6h-4.6z"/>
<path fill="#ff110a" d="M1272.7 413h4.6v4.6h-4.6z"/>
<path fill="#ff270a" d="M1276.7 413h4.6v4.6h-4.6z"/>
<path fill="#ff480a" d="M1280.7 413h4.6v4.6h-4.6z"/>
<path fill="#ff710a" d="M1284.7 413h4.6v4.6h-4.6z"/>
<path fill="#ff9c0a" d="M1288.7 413h4.6v4.6h-4.6z"/>
<path fill="#ffc90a" d="M1292.7 413h4.6v4.6h-4.6z"/>
<path fill="#fff70a" d="M1296.7 413h4.6v4.6h-4.6z"/>
<path fill="#d8ff30" d="M1300.7 413h4.6v4.6h-4.6z"/>
<path fill="#acff5c" d="M1304.7 413h4.6v4.6h-4.6z"/>
<path fill="#85ff84" d="M1308.7 413h4.6v4.6h-4.6z"/>
<path fill="#64ffa4" d="M1312.7 413h4.6v4.6h-4.6z"/>
<path fill="#4affbe" d="M1316.7 413h4.6v4.6h-4.6z"/>
<path fill="#37ffd2" d="M1320.7 413h4.6v4.6h-4.6z"/>
<path fill="#28ffe1" d="M1324.7 413h4.6v4.6h-4.6z"/>
<path fill="#fc0a0a" d="M1184.7 417h4.6v4.6h-4.6z"/>
<path fill="#e90a0a" d="M1188.7 417h4.6v4.6h-4.6z"/>
<path fill="#d90a0a" d="M1192.7 417h4.6v4.6h-4.6z"/>
<path fill="#cf0a0a" d="M1196.7 417h4.6v4.6h-4.6z"/>
<path fill="#ce0a0a" d="M1200.7 417h4.6v4.6h-4.6z"/>
<path fill="#d70a0a" d="M1204.7 417h4.6v4.6h-4.6z"/>
<path fill="#e80a0a" d="M1208.7 417h4.6v4.6h-4.6z"/>
<path fill="#fc0a0a" d="M1212.7 417h4.6v4.6h-4.6z"/>
<path fill="#ff1b0a" d="M1216.7 417h4.6v4.6h-4.6z"/>
<path fill="#ff2c0a" d="M1220.7 417h4.6v4.6h-4.6z"/>
<path fill="#ff390a" d="M1224.7 417h4.6v4.6h-4.6z"/>
<path fill="#ff420a" d="M1228.7 417h4.6v4.6h-4.6z"/>
<path fill="#ff450a" d="M1232.7 417h4.6v4.6h-4.6z"/>
<path fill="#ff420a" d="M1236.7 417h4.6v4.6h-4.6z"/>
<path fill="#ff390a" d="M1240.7 417h4.6v4.6h-4.6z"/>
<path fill="#ff2c0a" d="M1244.7 417h4.6v4.6h-4.6z"/>
<path fill="#ff1c0a" d="M1248.7 417h4.6v4.6h-4.6z"/>
<path fill="#ff0b0a" d="M1252.7 417h4.6v4.6h-4.6z"/>
<path fill="#f30a0a" d="M1256.7 417h4.6v4.6h-4.6z"/>
<path fill="#ef0a0a" d="M1260.7 417h4.6v4.6h-4.6z"/>
<path fill="#ef0a0a" d="M1264.7 417h4.6v4.6h-4.6z"/>
<path fill="#f60a0a" d="M1268.7 417h4.6v4.6h-4.6z"/>
<path fill="#ff0f0a" d="M1272.7 417h4.6v4.6h-4.6z"/>
<path fill="#ff260a" d="M1276.7 417h4.6v4.6h-4.6z"/>
<path fill="#ff460a" d="M1280.7 417h4.6v4.6h-4.6z"/>
<path fill="#ff6d0a" d="M1284.7 417h4.6v4.6h-4.6z"/>
<path fill="#ff960a" d="M1288.7 417h4.6v4.6h-4.6z"/>
<path fill="#ffbe0a" d="M1292.7 417h4.6v4.6h-4.6z"/>
<path fill="#ffe80a" d="M1296.7 417h4.6v4.6h-4.6z"/>
<path fill="#ebff1d" d="M1300.7 417h4.6v4.6h-4.6z"/>
<path fill="#c3ff45" d="M1304.7 417h4.6v4.6h-4.6z"/>
<path fill="#9eff6a" d="M1308.7 417h4.6v4.6h-4.6z"/>
<path fill="#7dff8b" d="M1312.7 417h4.6v4.6h-4.6z"/>
<path fill="#61ffa7" d="M1316.7 417h4.6v4.6h-4.6z"/>
<path fill="#4bffbe" d="M1320.7 417h4.6v4.6h-4.6z"/>
<path fill="#38ffd0" d="M1324.7 417h4.6v4.6h-4.6z"/>
<path fill="#de0a0a" d="M1188.7 421h4.6v4.6h-4.6z"/>
<path fill="#d10a0a" d="M1192.7 421h4.6v4.6h-4.6z"/>
<path fill="#ca0a0a" d="M1196.7 421h4.6v4.6h-4.6z"/>
<path fill="#ca0a0a" d="M1200.7 421h4.6v4.6h-4.6z"/>
<path fill="#d10a0a" d="M1204.7 421h4.6v4.6h-4.6z"/>
<path fill="#de0a0a" d="M1208.7 421h4.6v4.6h-4.6z"/>
<path fill="#ec0a0a" d="M1212.7 421h4.6v4.6h-4.6z"/>
<path fill="#f80a0a" d="M1216.7 421h4.6v4.6h-4.6z"/>
<path fill="#ff0d0a" d="M1220.7 421h4.6v4.6h-4.6z"/>
<path fill="#ff150a" d="M1224.7 421h4.6v4.6h-4.6z"/>
<path fill="#ff1a0a" d="M1228.7 421h4.6v4.6h-4.6z"/>
<path fill="#ff1d0a" d="M1232.7 421h4.6v4.6h-4.6z"/>
<path fill="#ff1d0a" d="M1236.7 421h4.6v4.6h-4.6z"/>
<path fill="#ff1a0a" d="M1240.7 421h4.6v4.6h-4.6z"/>
<path fill="#ff130a" d="M1244.7 421h4.6v4.6h-4.6z"/>
<path fill="#ff0a0a" d="M1248.7 421h4.6v4.6h-4.6z"/>
<path fill="#f60a0a" d="M1252.7 421h4.6v4.6h-4.6z"/>
<path fill="#ee0a0a" d="M1256.7 421h4.6v4.6h-4.6z"/>
<path fill="#eb0a0a" d="M1260.7 421h4.6v4.6h-4.6z"/>
<path fill="#ed0a0a" d="M1264.7 421h4.6v4.6h-4.6z"/>
<path fill="#f40a0a" d="M1268.7 421h4.6v4.6h-4.6z"/>
<path fill="#ff0d0a" d="M1272.7 421h4.6v4.6h-4.6z"/>
<path fill="#ff230a" d="M1276.7 421h4.6v4.6h-4.6z"/>
<path fill="#ff410a" d="M1280.7 421h4.6v4.6h-4.6z"/>
<path fill="#ff650a" d="M1284.7 421h4.6v4.6h-4.6z"/>
<path fill="#ff8b0a" d="M1288.7 421h4.6v4.6h-4.6z"/>
<path fill="#ffb20a" d="M1292.7 421h4.6v4.6h-4.6z"/>
<path fill="#ffd80a" d="M1296.7 421h4.6v4.6h-4.6z"/>
<path fill="#feff0a" d="M1300.7 421h4.6v4.6h-4.6z"/>
<path fill="#d9ff2f" d="M1304.7 421h4.6v4.6h-4.6z"/>
<path fill="#b5ff53" d="M1308.7 421h4.6v4.6h-4.6z"/>
<path fill="#94ff74" d="M1312.7 421h4.6v4.6h-4.6z"/>
<path fill="#77ff91" d="M1316.7 421h4.6v4.6h-4.6z"/>
<path fill="#5effaa" d="M1320.7 421h4.6v4.6h-4.6z"/>
<path fill="#d50a0a" d="M1188.7 425h4.6v4.6h-4.6z"/>
<path fill="#cb0a0a" d="M1192.7 425h4.6v4.6h-4.6z"/>
<path fill="#c50a0a" d="M1196.7 425h4.6v4.6h-4.6z"/>
<path fill="#c50a0a" d="M1200.7 425h4.6v4.6h-4.6z"/>
<path fill="#ca0a0a" d="M1204.7 425h4.6v4.6h-4.6z"/>
<path fill="#d20a0a" d="M1208.7 425h4.6v4.6h-4.6z"/>
<path fill="#dc0a0a" d="M1212.7 425h4.6v4.6h-4.6z"/>
<path fill="#e20a0a" d="M1216.7 425h4.6v4.6h-4.6z"/>
<path fill="#e70a0a" d="M1220.7 425h4.6v4.6h-4.6z"/>
<path fill="#eb0a0a" d="M1224.7 425h4.6v4.6h-4.6z"/>
<path fill="#ee0a0a" d="M1228.7 425h4.6v4.6h-4.6z"/>
<path fill="#f10a0a" d="M1232.7 425h4.6v4.6h-4.6z"/>
<path fill="#f50a0a" d="M1236.7 425h4.6v4.6h-4.6z"/>
<path fill="#f80a0a" d="M1240.7 425h4.6v4.6h-4.6z"/>
<path fill="#f90a0a" d="M1244.7 425h4.6v4.6h-4.6z"/>
<path fill="#f80a0a" d="M1248.7 425h4.6v4.6h-4.6z"/>
<path fill="#f40a0a" d="M1252.7 425h4.6v4.6h-4.6z"/>
<path fill="#f10a0a" d="M1256.7 425h4.6v4.6h-4.6z"/>
<path fill="#ef0a0a" d="M1260.7 425h4.6v4.6h-4.6z"/>
<path fill="#f00a0a" d="M1264.7 425h4.6v4.6h-4.6z"/>
<path fill="#f60a0a" d="M1268.7 425h4.6v4.6h-4.6z"/>
<path fill="#ff0c0a" d="M1272.7 425h4.6v4.6h-4.6z"/>
<path fill="#ff200a" d="M1276.7 425h4.6v4.6h-4.6z"/>
<path fill="#ff3b0a" d="M1280.7 425h4.6v4.6h-4.6z"/>
<path fill="#ff5c0a" d="M1284.7 425h4.6v4.6h-4.6z"/>
<path fill="#ff800a" d="M1288.7 425h4.6v4.6h-4.6z"/>
<path fill="#ffa40a" d="M1292.7 425h4.6v4.6h-4.6z"/>
<path fill="#ffc90a" d="M1296.7 425h4.6v4.6h-4.6z"/>
<path fill="#ffee0a" d="M1300.7 425h4.6v4.6h-4.6z"/>
<path fill="#ecff1c" d="M1304.7 425h4.6v4.6h-4.6z"/>
<path fill="#caff3e" d="M1308.7 425h4.6v4.6h-4.6z"/>
<path fill="#a9ff5f" d="M1312.7 425h4.6v4.6h-4.6z"/>
<path fill="#8bff7d" d="M1316.7 425h4.6v4.6h-4.6z"/>
<path fill="#71ff97" d="M1320.7 425h4.6v4.6h-4.6z"/>
<path fill="#c60a0a" d="M1192.7 429h4.6v4.6h-4.6z"/>
<path fill="#c10a0a" d="M1196.7 429h4.6v4.6h-4.6z"/>
<path fill="#c00a0a" d="M1200.7 429h4.6v4.6h-4.6z"/>
<path fill="#c30a0a" d="M1204.7 429h4.6v4.6h-4.6z"/>
<path fill="#c80a0a" d="M1208.7 429h4.6v4.6h-4.6z"/>
<path fill="#cd0a0a" d="M1212.7 429h4.6v4.6h-4.6z"/>
<path fill="#d10a0a" d="M1216.7 429h4.6v4.6h-4.6z"/>
<path fill="#d30a0a" d="M1220.7 429h4.6v4.6h-4.6z"/>
<path fill="#d40a0a" d="M1224.7 429h4.6v4.6h-4.6z"/>
<path fill="#d50a0a" d="M1228.7 429h4.6v4.6h-4.6z"/>
<path fill="#d90a0a" d="M1232.7 429h4.6v4.6h-4.6z"/>
<path fill="#e10a0a" d="M1236.7 429h4.6v4.6h-4.6z"/>
<path fill="#ec0a0a" d="M1240.7 429h4.6v4.6h-4.6z"/>
<path fill="#f40a0a" d="M1244.7 429h4.6v4.6h-4.6z"/>
<path fill="#f90a0a" d="M1248.7 429h4.6v4.6h-4.6z"/>
<path fill="#fb0a0a" d="M1252.7 429h4.6v4.6h-4.6z"/>
<path fill="#fb0a0a" d="M1256.7 429h4.6v4.6h-4.6z"/>
<path fill="#fa0a0a" d="M1260.7 429h4.6v4.6h-4.6z"/>
<path fill="#f90a0a" d="M1264.7 429h4.6v4.6h-4.6z"/>
<path fill="#fb0a0a" d="M1268.7 429h4.6v4.6h-4.6z"/>
<path fill="#ff0e0a" d="M1272.7 429h4.6v4.6h-4.6z"/>
<path fill="#ff1e0a" d="M1276.7 429h4.6v4.6h-4.6z"/>
<path fill="#ff360a" d="M1280.7 429h4.6v4.6h-4.6z"/>
<path fill="#ff540a" d="M1284.7 429h4.6v4.6h-4.6z"/>
<path fill="#ff760a" d="M1288.7 429h4.6v4.6h-4.6z"/>
<path fill="#ff9a0a" d="M1292.7 429h4.6v4.6h-4.6z"/>
<path fill="#ffbd0a" d="M1296.7 429h4.6v4.6h-4.6z"/>
<path fill="#ffe00a" d="M1300.7 429h4.6v4.6h-4.6z"/>
<path fill="#fbff0d" d="M1304.7 429h4.6v4.6h-4.6z"/>
<path fill="#daff2e" d="M1308.7 429h4.6v4.6h-4.6z"/>
<path fill="#baff4e" d="M1312.7 429h4.6v4.6h-4.6z"/>
<path fill="#9dff6b" d="M1316.7 429h4.6v4.6h-4.6z"/>
<path fill="#be0a0a" d="M1196.7 433h4.6v4.6h-4.6z"/>
<path fill="#bc0a0a" d="M1200.7 433h4.6v4.6h-4.6z"/>
<path fill="#bd0a0a" d="M1204.7 433h4.6v4.6h-4.6z"/>
<path fill="#c00a0a" d="M1208.7 433h4.6v4.6h-4.6z"/>
<path fill="#c30a0a" d="M1212.7 433h4.6v4.6h-4.6z"/>
<path fill="#c40a0a" d="M1216.7 433h4.6v4.6h-4.6z"/>
<path fill="#c50a0a" d="M1220.7 433h4.6v4.6h-4.6z"/>
<path fill="#c50a0a" d="M1224.7 433h4.6v4.6h-4.6z"/>
<path fill="#c60a0a" d="M1228.7 433h4.6v4.6h-4.6z"/>
<path fill="#cb0a0a" d="M1232.7 433h4.6v4.6h-4.6z"/>
<path fill="#da0a0a" d="M1236.7 433h4.6v4.6h-4.6z"/>
<path fill="#eb0a0a" d="M1240.7 433h4.6v4.6h-4.6z"/>
<path fill="#fa0a0a" d="M1244.7 433h4.6v4.6h-4.6z"/>
<path fill="#ff100a" d="M1248.7 433h4.6v4.6h-4.6z"/>
<path fill="#ff160a" d="M1252.7 433h4.6v4.6h-4.6z"/>
<path fill="#ff180a" d="M1256.7 433h4.6v4.6h-4.6z"/>
<path fill="#ff160a" d="M1260.7 433h4.6v4.6h-4.6z"/>
<path fill="#ff130a" d="M1264.7 433h4.6v4.6h-4.6z"/>
<path fill="#ff110a" d="M1268.7 433h4.6v4.6h-4.6z"/>
<path fill="#ff140a" d="M1272.7 433h4.6v4.6h-4.6z"/>
<path fill="#ff1f0a" d="M1276.7 433h4.6v4.6h-4.6z"/>
<path fill="#ff350a" d="M1280.7 433h4.6v4.6h-4.6z"/>
<path fill="#ff510a" d="M1284.7 433h4.6v4.6h-4.6z"/>
<path fill="#ff710a" d="M1288.7 433h4.6v4.6h-4.6z"/>
<path fill="#ff920a" d="M1292.7 433h4.6v4.6h-4.6z"/>
<path fill="#ffb40a" d="M1296.7 433h4.6v4.6h-4.6z"/>
<path fill="#ffd50a" d="M1300.7 433h4.6v4.6h-4.6z"/>
<path fill="#fff60a" d="M1304.7 433h4.6v4.6h-4.6z"/>
<path fill="#e7ff21" d="M1308.7 433h4.6v4.6h-4.6z"/>
<path fill="#c8ff40" d="M1312.7 433h4.6v4.6h-4.6z"/>
<path fill="#ba0a0a" d="M1200.7 437h4.6v4.6h-4.6z"/>
<path fill="#ba0a0a" d="M1204.7 437h4.6v4.6h-4.6z"/>
<path fill="#bb0a0a" d="M1208.7 437h4.6v4.6h-4.6z"/>
<path fill="#bd0a0a" d="M1212.7 437h4.6v4.6h-4.6z"/>
<path fill="#bf0a0a" d="M1216.7 437h4.6v4.6h-4.6z"/>
<path fill="#c00a0a" d="M1220.7 437h4.6v4.6h-4.6z"/>
<path fill="#c20a0a" d="M1224.7 437h4.6v4.6h-4.6z"/>
<path fill="#c50a0a" d="M1228.7 437h4.6v4.6h-4.6z"/>
<path fill="#ce0a0a" d="M1232.7 437h4.6v4.6h-4.6z"/>
<path fill="#e00a0a" d="M1236.7 437h4.6v4.6h-4.6z"/>
<path fill="#f60a0a" d="M1240.7 437h4.6v4.6h-4.6z"/>
<path fill="#ff150a" d="M1244.7 437h4.6v4.6h-4.6z"/>
<path fill="#ff250a" d="M1248.7 437h4.6v4.6h-4.6z"/>
<path fill="#ff2e0a" d="M1252.7 437h4.6v4.6h-4.6z"/>
<path fill="#ff300a" d="M1256.7 437h4.6v4.6h-4.6z"/>
<path fill="#ff2d0a" d="M1260.7 437h4.6v4.6h-4.6z"/>
<path fill="#ff280a" d="M1264.7 437h4.6v4.6h-4.6z"/>
<path fill="#ff230a" d="M1268.7 437h4.6v4.6h-4.6z"/>
<path fill="#ff210a" d="M1272.7 437h4.6v4.6h-4.6z"/>
<path fill="#ff270a" d="M1276.7 437h4.6v4.6h-4.6z"/>
<path fill="#ff3a0a" d="M1280.7 437h4.6v4.6h-4.6z"/>
<path fill="#ff540a" d="M1284.7 437h4.6v4.6h-4.6z"/>
<path fill="#ff710a" d="M1288.7 437h4.6v4.6h-4.6z"/>
<path fill="#ff900a" d="M1292.7 437h4.6v4.6h-4.6z"/>
<path fill="#ffaf0a" d="M1296.7 437h4.6v4.6h-4.6z"/>
<path fill="#ffcf0a" d="M1300.7 437h4.6v4.6h-4.6z"/>
<path fill="#ffee0a" d="M1304.7 437h4.6v4.6h-4.6z"/>
<path fill="#f0ff18" d="M1308.7 437h4.6v4.6h-4.6z"/>
<path fill="#ba0a0a" d="M1204.7 441h4.6v4.6h-4.6z"/>
<path fill="#bb0a0a" d="M1208.7 441h4.6v4.6h-4.6z"/>
<path fill="#bd0a0a" d="M1212.7 441h4.6v4.6h-4.6z"/>
<path fill="#bf0a0a" d="M1216.7 441h4.6v4.6h-4.6z"/>
<path fill="#c30a0a" d="M1220.7 441h4.6v4.6h-4.6z"/>
<path fill="#c80a0a" d="M1224.7 441h4.6v4.6h-4.6z"/>
<path fill="#d00a0a" d="M1228.7 441h4.6v4.6h-4.6z"/>
<path fill="#dd0a0a" d="M1232.7 441h4.6v4.6h-4.6z"/>
<path fill="#f10a0a" d="M1236.7 441h4.6v4.6h-4.6z"/>
<path fill="#ff140a" d="M1240.7 441h4.6v4.6h-4.6z"/>
<path fill="#ff2c0a" d="M1244.7 441h4.6v4.6h-4.6z"/>
<path fill="#ff400a" d="M1248.7 441h4.6v4.6h-4.6z"/>
<path fill="#ff4c0a" d="M1252.7 441h4.6v4.6h-4.6z"/>
<path fill="#ff4e0a" d="M1256.7 441h4.6v4.6h-4.6z"/>
<path fill="#ff490a" d="M1260.7 441h4.6v4.6h-4.6z"/>
<path fill="#ff410a" d="M1264.7 441h4.6v4.6h-4.6z"/>
<path fill="#ff3a0a" d="M1268.7 441h4.6v4.6h-4.6z"/>
<path fill="#ff360a" d="M1272.7 441h4.6v4.6h-4.6z"/>
<path fill="#ff3b0a" d="M1276.7 441h4.6v4.6h-4.6z"/>
<path fill="#ff480a" d="M1280.7 441h4.6v4.6h-4.6z"/>
<path fill="#ff5d0a" d="M1284.7 441h4.6v4.6h-4.6z"/>
<path fill="#ff770a" d="M1288.7 441h4.6v4.6h-4.6z"/>
<path fill="#ff920a" d="M1292.7 441h4.6v4.6h-4.6z"/>
<path fill="#ffaf0a" d="M1296.7 441h4.6v4.6h-4.6z"/>
<path fill="#ffcc0a" d="M1300.7 441h4.6v4.6h-4.6z"/>
<path fill="#ffea0a" d="M1304.7 441h4.6v4.6h-4.6z"/>
<path fill="#be0a0a" d="M1208.7 445h4.6v4.6h-4.6z"/>
<path fill="#c10a0a" d="M1212.7 445h4.6v4.6h-4.6z"/>
<path fill="#c50a0a" d="M1216.7 445h4.6v4.6h-4.6z"/>
<path fill="#cb0a0a" d="M1220.7 445h4.6v4.6h-4.6z"/>
<path fill="#d30a0a" d="M1224.7 445h4.6v4.6h-4.6z"/>
<path fill="#df0a0a" d="M1228.7 445h4.6v4.6h-4.6z"/>
<path fill="#f00a0a" d="M1232.7 445h4.6v4.6h-4.6z"/>
<path fill="#ff120a" d="M1236.7 445h4.6v4.6h-4.6z"/>
<path fill="#ff2c0a" d="M1240.7 445h4.6v4.6h-4.6z"/>
<path fill="#ff460a" d="M1244.7 445h4.6v4.6h-4.6z"/>
<path fill="#ff5d0a" d="M1248.7 445h4.6v4.6h-4.6z"/>
<path fill="#ff6c0a" d="M1252.7 445h4.6v4.6h-4.6z"/>
<path fill="#ff6d0a" d="M1256.7 445h4.6v4.6h-4.6z"/>
<path fill="#ff660a" d="M1260.7 445h4.6v4.6h-4.6z"/>
<path fill="#ff5c0a" d="M1264.7 445h4.6v4.6h-4.6z"/>
<path fill="#ff540a" d="M1268.7 445h4.6v4.6h-4.6z"/>
<path fill="#ff4f0a" d="M1272.7 445h4.6v4.6h-4.6z"/>
<path fill="#ff510a" d="M1276.7 445h4.6v4.6h-4.6z"/>
<path fill="#ff5b0a" d="M1280.7 445h4.6v4.6h-4.6z"/>
<path fill="#ff6b0a" d="M1284.7 445h4.6v4.6h-4.6z"/>
<path fill="#ff800a" d="M1288.7 445h4.6v4.6h-4.6z"/>
<path fill="#ff980a" d="M1292.7 445h4.6v4.6h-4.6z"/>
<path fill="#ffb20a" d="M1296.7 445h4.6v4.6h-4.6z"/>
<path fill="#ffcd0a" d="M1300.7 445h4.6v4.6h-4.6z"/>
<path fill="#ce0a0a" d="M1216.7 449h4.6v4.6h-4.6z"/>
<path fill="#d70a0a" d="M1220.7 449h4.6v4.6h-4.6z"/>
<path fill="#e20a0a" d="M1224.7 449h4.6v4.6h-4.6z"/>
<path fill="#f10a0a" d="M1228.7 449h4.6v4.6h-4.6z"/>
<path fill="#ff100a" d="M1232.7 449h4.6v4.6h-4.6z"/>
<path fill="#ff270a" d="M1236.7 449h4.6v4.6h-4.6z"/>
<path fill="#ff420a" d="M1240.7 449h4.6v4.6h-4.6z"/>
<path fill="#ff5d0a" d="M1244.7 449h4.6v4.6h-4.6z"/>
<path fill="#ff760a" d="M1248.7 449h4.6v4.6h-4.6z"/>
<path fill="#ff870a" d="M1252.7 449h4.6v4.6h-4.6z"/>
<path fill="#ff870a" d="M1256.7 449h4.6v4.6h-4.6z"/>
<path fill="#ff7f0a" d="M1260.7 449h4.6v4.6h-4.6z"/>
<path fill="#ff760a" d="M1264.7 449h4.6v4.6h-4.6z"/>
<path fill="#ff6d0a" d="M1268.7 449h4.6v4.6h-4.6z"/>
<path fill="#ff680a" d="M1272.7 449h4.6v4.6h-4.6z"/>
<path fill="#ff690a" d="M1276.7 449h4.6v4.6h-4.6z"/>
<path fill="#ff6f0a" d="M1280.7 449h4.6v4.6h-4.6z"/>
<path fill="#ff7c0a" d="M1284.7 449h4.6v4.6h-4.6z"/>
<path fill="#ff8d0a" d="M1288.7 449h4.6v4.6h-4.6z"/>
<path fill="#ffa10a" d="M1292.7 449h4.6v4.6h-4.6z"/>
<path fill="#f20a0a" d="M1224.7 453h4.6v4.6h-4.6z"/>
<path fill="#ff0e0a" d="M1228.7 453h4.6v4.6h-4.6z"/>
<path fill="#ff230a" d="M1232.7 453h4.6v4.6h-4.6z"/>
<path fill="#ff3b0a" d="M1236.7 453h4.6v4.6h-4.6z"/>
<path fill="#ff550a" d="M1240.7 453h4.6v4.6h-4.6z"/>
<path fill="#ff6f0a" d="M1244.7 453h4.6v4.6h-4.6z"/>
<path fill="#ff860a" d="M1248.7 453h4.6v4.6h-4.6z"/>
<path fill="#ff940a" d="M1252.7 453h4.6v4.6h-4.6z"/>
<path fill="#ff970a" d="M1256.7 453h4.6v4.6h-4.6z"/>
<path fill="#ff920a" d="M1260.7 453h4.6v4.6h-4.6z"/>
<path fill="#ff8b0a" d="M1264.7 453h4.6v4.6h-4.6z"/>
<path fill="#ff830a" d="M1268.7 453h4.6v4.6h-4.6z"/>
<path fill="#ff7f0a" d="M1272.7 453h4.6v4.6h-4.6z"/>
<path fill="#ff7f0a" d="M1276.7 453h4.6v4.6h-4.6z"/>
<path fill="#ff830a" d="M1280.7 453h4.6v4.6h-4.6z"/>
<path fill="#ff8d0a" d="M1284.7 453h4.6v4.6h-4.6z"/>
<path fill="#ff4b0a" d="M1236.7 457h4.6v4.6h-4.6z"/>
<path fill="#ff630a" d="M1240.7 457h4.6v4.6h-4.6z"/>
<path fill="#ff7b0a" d="M1244.7 457h4.6v4.6h-4.6z"/>
<path fill="#ff8f0a" d="M1248.7 457h4.6v4.6h-4.6z"/>
<path fill="#ff9c0a" d="M1252.7 457h4.6v4.6h-4.6z"/>
<path fill="#ffa10a" d="M1256.7 457h4.6v4.6h-4.6z"/>
<path fill="#ffa00a" d="M1260.7 457h4.6v4.6h-4.6z"/>
<path fill="#ff9b0a" d="M1264.7 457h4.6v4.6h-4.6z"/>
<path fill="#ff960a" d="M1268.7 457h4.6v4.6h-4.6z"/>
<path fill="#ff930a" d="M1272.7 457h4.6v4.6h-4.6z"/>
</g></g>
<path d="M1184.4 368.2 1186.3 368.4 1188.2 368.6 1190.1 368.7 1191 368.8 1192.9 368.9 1194.8 368.9 1196 368.8 1197.6 368.7 1199.5 368.5 1201.3 368.4 1203.2 368.1 1204.3 367.9 1206 367.3 1207 366.8 1208.1 366 1209.2 365 1210 364.1 1210.8 363.2 1211.7 362 1212.6 360.6 1213.4 359.4 1214 358.5 1214.7 357.5 1215.4 356.6 1216.3 355.5 1217.3 354.5 1218.2 353.5 1219.2 352.6 1220.1 351.8 1221 350.9 1222 350 1222.9 349.1 1223.9 348 1224.8 346.7 1225.7 345.3 1226.4 344.4 1227 343.5 1227.6 342.5 1228.5 341.1 1229.4 339.7 1230 338.8 1230.5 337.8 1231.3 336 1231.5 335 1231.4 333.4 1231 332.2 1230.4 331.1 1229.5 329.7 1228.5 328.5 1227.7 327.5 1227 326.6 1226.2 325.6 1225.4 324.7 1224.7 323.8 1223.9 322.7 1222.9 321.4 1222 320.1 1221.3 319.1 1220.8 318.1M1256.9 348.2 1258.6 347.7 1260.2 347.2 1261.4 346.4 1262.1 345.3 1262.4 344.4 1262.6 342.5 1262.4 340.6 1262.3 339.7 1261.9 337.8 1261.4 336.2 1260.8 335 1260.3 334.1 1259.5 333.1 1258.5 332.2 1256.8 331.3 1255.8 330.9 1253.9 330.5 1252 330.7 1250.7 331.3 1249.4 332.2 1248.6 333.1 1248 334.1 1247.4 336 1247.2 336.9 1247.2 338.8 1247.3 339.7 1247.7 341.6 1248.1 343.5 1248.4 344.4 1249.2 346.2 1249.9 347.2 1251.1 348 1252 348.3 1253.9 348.5 1255.8 348.4 1256.9 348.2M1329 394.7 1327.1 395 1326.1 395.2 1324.3 395.6 1323.1 396 1321.5 396.8 1320.5 397.4 1319.6 398.5 1319 399.8 1319.3 401.6 1319.7 402.6 1320.5 403.7 1321.5 404.7 1322.4 405.6 1323.3 406.4 1324.3 407.3M1246.1 307.8 1245.6 309.7 1245.2 310.6 1244.5 312.2 1243.7 313.4 1242.9 314.4 1241.8 315.3 1240.7 315.8 1238.9 315.9 1237.5 315.3 1236.5 314.4 1235.9 313.4 1235.2 311.6 1235 310.6M1182.6 382.9 1183.5 382.7 1185.4 382.2 1186.6 381.9 1188.2 381.6 1190.1 381.2 1191.6 381 1192.9 380.9 1194.8 380.9 1196.5 381 1197.6 381.1 1199.5 381.5 1201 381.9 1202.3 382.4 1203.6 382.9 1205.1 383.5 1206 383.9 1207.9 384.7 1208.8 385.1 1210.4 385.7 1211.7 386.1 1213.5 386.6 1214.5 386.8 1216.3 387.1 1218.2 387 1219.5 386.6 1220.8 385.7 1221.4 384.8 1221.8 382.9 1221.8 381 1221.4 379.1 1221 377.6 1220.7 376.3 1220.2 374.4 1220 373.5 1219.7 371.6 1219.4 369.7 1219.3 367.9 1219.3 366 1219.4 364.1 1219.7 362.2 1220.1 361 1220.8 359.4 1221.2 358.5 1222 357.3 1222.9 356.1 1223.9 355.1 1224.8 354.2 1225.7 353.4 1226.7 352.7 1227.8 351.9 1229.1 351 1230.2 350 1231.3 349.1 1232.3 348.2 1233.2 347.3 1234.2 346.7 1235.1 346.2 1237 345.7 1238.9 346 1239.8 346.5 1240.7 347.3 1241.7 348.4 1242.6 350 1243 351 1243.6 352.1 1244.5 353.4 1245.4 354.1 1247.3 354.6 1249.2 354.6 1251.1 354.4 1252.9 354.1 1254.8 353.9 1256.2 353.8 1256.9 353.8 1258.6 354 1260 354.7 1261.1 355.7 1262.1 356.6 1263.3 357.5 1264.2 358 1265.8 358.5 1267 358.6 1268 358.5 1269.8 357.8 1270.8 357.2 1271.7 356.3 1272.7 355 1273.2 353.8 1273.6 352.1 1273.7 351 1273.6 349.1 1273.6 348.2 1273.3 346.3 1273.1 344.4 1272.9 342.5 1272.8 340.6 1272.9 338.8 1273 336.9 1273.2 335 1273.2 333.1 1273.2 331.3 1273.3 329.4 1273.5 327.5 1273.7 326.6 1274.3 324.7 1274.7 323.8 1275.5 322.5 1276.4 321.4 1277.3 320.5 1278.3 319.9 1280.1 319.1 1281.1 318.7 1283 318.3 1284.9 318.2 1286.7 318.1 1288.6 318.2 1290.5 318.2 1291.4 318.1 1293.3 317.7M1329 366.2 1327.1 366.8 1326.1 367.1 1324.3 367.6 1323.3 367.9 1321.5 368.3 1319.6 368.6 1318.4 368.8 1316.8 369 1314.9 369.2 1313 369.4 1311.1 369.5 1309.3 369.7 1308.3 369.9 1306.4 370.2 1304.7 370.7 1303.6 371 1302.2 371.6 1300.8 372.4 1299.9 373 1298.9 373.9 1298 375.1 1297.4 376.3 1297.1 377.8 1296.9 379.1 1297 381 1297.1 381.9 1297.3 383.8 1297.7 385.7 1298 387.1 1298.3 388.5 1298.7 390.4 1299 391.3 1299.4 393.2 1299.8 395.1 1300 396 1300.5 397.9 1300.8 399.3 1301.2 400.7 1301.7 402.6 1302 403.5 1302.6 405.4 1302.9 406.3 1303.6 408.2 1304 409.2 1304.6 410.6 1305.2 412 1305.6 412.9 1306.4 414.4 1307.2 415.7 1307.7 416.7 1308.3 417.6 1309.3 419.1 1310.1 420.4 1310.8 421.4 1311.4 422.3 1312.1 423.3 1313 424.7 1313.9 426 1314.4 427M1323.3 350 1322.4 350.7 1321.5 351.4 1320.5 352 1319 352.8 1317.7 353.5 1316.8 354 1315 354.7 1313.9 355.1 1312.4 355.7 1311.1 356.1 1309.3 356.6 1308.3 356.8 1306.4 357.3 1305 357.5 1303.6 357.8 1301.7 358 1299.9 358.2 1298 358.3 1296.1 358.2 1294.2 357.9 1292.9 357.5 1291.4 357 1290.5 356.6 1288.8 355.7 1287.7 354.9 1286.7 354.2 1285.8 353.5 1284.9 352.7 1283.8 351.9 1282.8 351 1282 350 1281.1 348.9 1280.2 347.4 1279.6 346.3 1279.2 345.3 1278.6 343.5 1278.3 342.3 1278 340.6 1277.7 338.8 1277.7 336.9 1277.8 335 1278.2 333.1 1278.6 332.2 1279.2 331 1280.2 329.8 1281.1 328.9 1282 328.3 1283.8 327.5 1284.9 327.2 1286.7 326.9 1288.6 326.8 1290.5 326.9 1292.4 326.9 1294.2 326.8 1296.1 326.6 1297.1 326.5 1298.9 326.2 1300.8 326 1302.7 325.7 1303.6 325.6M1183.8 393.2 1185.4 392.5 1186.3 392.1 1188.1 391.3 1189.1 390.9 1190.7 390.4 1191.9 390 1193.8 389.7 1195.7 389.5 1197.6 389.5 1199.5 389.7 1201.3 390.1 1202.6 390.4 1204.1 390.9 1205.4 391.3 1207 391.9 1207.9 392.3 1209.8 393.1 1210.7 393.5 1212 394.1 1213.5 394.9 1214.5 395.4 1215.5 396 1217.1 397 1218.2 397.7 1219.2 398.3 1220.1 399 1221.2 399.8 1222.4 400.7 1223.7 401.6 1224.8 402.5 1225.7 403.2 1226.7 403.8 1227.7 404.5 1229.4 405.4 1230.4 405.8 1231.8 406.3 1233.2 406.7 1235.1 406.9 1237 406.8 1238.8 406.3 1239.8 405.9 1240.8 405.4 1242 404.5 1242.9 403.5 1243.6 402.6 1244.4 400.7 1244.5 399.8 1244.5 398.2 1244.3 397 1243.6 395.2 1243 394.1 1242.3 393.2 1241.5 392.3 1240.6 391.3 1239.5 390.4 1238.5 389.4 1237.3 388.5 1236.2 387.6 1235.1 386.6 1234.2 385.7 1233.2 384.8 1232.3 383.8 1231.5 382.9 1230.8 381.9 1230.1 381 1229.4 380.1 1228.5 378.6 1227.8 377.2 1227.3 376.3 1226.7 375.1 1226 373.5 1225.6 372.6 1225.1 370.7 1224.8 369.5 1224.5 367.9 1224.1 366 1224 364.1 1224.2 362.2 1224.8 360.5 1225.4 359.4 1226 358.5 1227 357.5 1228.5 356.7 1229.5 356.6 1230.4 356.7 1231.8 357.5 1232.9 358.5 1233.9 359.4 1234.9 360.4 1236.1 360.7 1237.5 360.4 1238.9 359.6 1239.8 358.9 1240.7 358.4 1242.6 357.8 1244.5 357.8 1246.4 357.9 1248.3 358 1250.1 357.8 1252 357.5 1252.9 357.4 1254.8 357.1 1256.7 356.9 1258.4 357.5 1259.4 358.5 1260.3 359.4 1261.2 360.4 1262.2 361.3 1263.3 362.1 1264.2 362.8 1265.1 363.4 1266.5 364.1 1268 364.9 1268.9 365.4 1270.1 366 1271.6 366.9 1272.7 367.7 1273.6 368.6 1274.5 369.7 1275.2 370.7 1275.7 371.6 1276.4 373.2 1277.1 374.4 1277.9 375.4 1278.7 376.3 1279.6 377.2 1280.5 378.2 1281.3 379.1 1282.2 380.1 1283 381 1283.9 382.1 1284.9 383.3 1285.8 384.7 1286.5 385.7 1287.1 386.6 1287.7 387.6 1288.6 389.4 1289.1 390.4 1289.6 391.3 1290.4 393.2 1290.8 394.1 1291.4 395.9 1291.8 397 1292.4 398.7 1292.7 399.8 1293.2 401.6 1293.5 402.6 1294 404.5 1294.2 405.6 1294.6 407.3 1295.1 409.2 1295.3 410.1 1295.7 412 1296.1 413.8 1296.3 414.8 1296.8 416.7 1297.1 417.6 1297.7 419.5 1298.1 420.4 1298.8 422.3 1299.2 423.2 1299.9 424.8 1300.4 426 1300.8 427.1 1301.5 428.9 1301.9 429.8 1302.5 431.7 1302.8 432.6 1303.4 434.5 1303.6 435.4 1304.1 437.3M1298 348.4 1296.1 348.8 1294.2 348.9 1292.4 348.7 1290.6 348.2 1289.5 347.7 1288.6 347.2 1287.3 346.3 1286.3 345.3 1285.5 344.4 1284.9 343.5 1284 341.6 1283.7 340.6 1283.4 338.8 1283.6 336.9 1283.9 335.9 1284.9 334.7 1285.8 334 1287.7 333.3 1288.6 333 1290.5 332.8 1292.4 332.8 1294.2 332.9 1295.6 333.1 1297.1 333.4 1298.9 334 1299.9 334.3 1301.3 335 1302.7 335.9 1303.6 336.6 1304.6 337.7 1305.2 338.8 1305.5 340.3 1305.5 340.8 1305.1 342.5 1304.6 343.5 1303.6 344.7 1302.7 345.7 1301.7 346.4 1300.5 347.2 1298.9 348 1298 348.4M1186.8 404.5 1188.1 403.5 1189.1 402.8 1190.1 402.1 1191 401.3 1191.9 400.4 1192.9 399.5 1193.8 398.6 1194.8 397.9 1196.6 397 1197.6 396.6 1199.5 396.2 1201.3 396.2 1203.2 396.6 1204.4 397 1206 397.7 1207 398.2 1208.1 398.8 1209.4 399.8 1210.6 400.7 1211.6 401.6 1212.6 402.5 1213.5 403.5 1214.5 404.5 1215.3 405.4 1216.2 406.3 1217.1 407.3 1217.9 408.2 1218.9 409.2 1219.8 410.1 1220.9 411 1222 411.9 1222.9 412.6 1223.9 413.2 1225.1 413.8 1226.7 414.6 1227.6 414.9 1229.5 415.5 1230.8 415.7 1232.3 415.9 1234.2 416.1 1236.1 416 1237.9 415.8 1238.9 415.6 1240.7 415.1 1241.7 414.8 1243.6 413.9 1244.5 413.4 1245.4 412.9 1246.9 412 1248.2 411 1249.2 410.2 1250.1 409.4 1251.1 408.4 1252 407.3 1252.7 406.3 1253.3 405.4 1253.9 404.4 1254.6 402.6 1254.8 401.6 1255.1 399.8 1255 397.9 1254.8 397 1254.2 395.1 1253.8 394.1 1252.9 392.5 1252.1 391.3 1251.4 390.4 1250.7 389.4 1249.8 388.5 1248.9 387.6 1247.9 386.6 1246.8 385.7 1245.6 384.8 1244.5 383.9 1243.6 383.2 1242.6 382.6 1241.7 381.9 1240.4 381 1239.1 380.1 1237.9 379.2 1237 378.5 1236.1 377.8 1235.1 377 1234.2 376.1 1233.2 375.2 1232.3 374.1 1231.4 372.8 1230.6 371.6 1230.1 370.7 1229.5 369.5 1228.9 367.9 1228.5 366.2 1228.4 365 1228.5 363.7 1229.1 362.2 1230.1 361.3 1231.4 360.9 1233.2 361.3 1234.2 361.9 1235.1 362.3 1237 362.3 1237.9 362 1239.8 361.5 1241.5 361.3 1242.6 361.3 1243.6 361.3 1245.4 361.5 1247.3 361.7 1249.2 361.8 1251.1 361.7 1252.9 361.8 1254.8 362 1255.8 362.4 1257 363.2 1258.1 364.1 1259.1 365 1260 366 1261 366.9 1261.9 367.9 1263 368.8 1264 369.7 1265 370.7 1266.1 371.6 1267 372.5 1268 373.4 1268.9 374.4 1269.7 375.4 1270.3 376.3 1270.8 377.2 1271.7 379.1 1272.1 380.1 1272.7 381.1 1273.6 382.8 1274.2 383.8 1274.8 384.8 1275.5 385.7 1276.4 386.9 1277.3 388.2 1278.3 389.4 1279.1 390.4 1279.8 391.3 1280.5 392.3 1281.1 393.2 1282 394.8 1282.7 396 1283.1 397 1283.9 398.8 1284.2 399.8 1284.7 401.6 1284.9 402.6 1285.2 404.5 1285.4 406.3 1285.5 408.2 1285.6 410.1 1285.7 412 1285.7 413.8 1285.8 415.2 1285.9 416.7 1286 418.5 1286.3 420.4 1286.7 422.3 1287 423.2 1287.4 425.1 1287.7 426 1288.2 427.9 1288.6 429.6 1288.8 430.7 1289.2 432.6 1289.4 434.5 1289.5 436.4 1289.4 438.2 1289.1 440.1 1288.6 442 1288.3 442.9 1287.7 444.2 1286.7 445.7 1286 446.7 1285 447.6 1283.9 448.5 1283 449.1 1282 449.6 1280.2 450.3 1279.2 450.6 1277.3 450.8 1275.5 450.8 1273.6 450.6 1272.7 450.4 1270.8 450 1269.3 449.5 1268 449 1266.7 448.6 1265.1 448 1264.2 447.6 1262.3 447 1261.2 446.7 1259.5 446.3 1257.6 446.1 1255.8 446.2 1253.9 446.6 1252.9 447 1251.8 447.6 1250.5 448.6 1249.5 449.5 1248.6 450.4 1247.8 451.4 1247.1 452.3 1246.4 453.5" fill="none" stroke="rgba(50,40,40,0.6)" stroke-width="0.9" clip-path="url(#cp3)"/>
<circle cx="1256.7" cy="381" r="71.5" fill="none" stroke="#111" stroke-width="1.5"/>
<path d="M1246 310.2 L1254.6 300.6 Q1256.7 298.1 1258.8 300.6 L1267.4 310.2" fill="none" stroke="#222" stroke-width="1.4" stroke-linejoin="round"/>
<path d="M1186.3 364.2C1185.6 364.2 1183.4 363.8 1182.3 364.2C1181.3 364.6 1180.6 365.1 1180.2 366.7C1179.8 368.3 1179.8 371.1 1179.8 373.9C1179.9 376.6 1180.6 380.2 1180.6 383.1C1180.6 386.1 1179.9 389.2 1179.8 391.7C1179.8 394.2 1179.7 396.7 1180.2 398.2C1180.7 399.6 1182 399.9 1183.1 400.3C1184.1 400.7 1186 400.3 1186.6 400.3" fill="none" stroke="#222" stroke-width="1.3"/>
<path d="M1327.1 364.2C1327.8 364.2 1330 363.8 1331.1 364.2C1332.1 364.6 1332.8 365.1 1333.2 366.7C1333.6 368.3 1333.6 371.1 1333.6 373.9C1333.5 376.6 1332.8 380.2 1332.8 383.1C1332.8 386.1 1333.5 389.2 1333.6 391.7C1333.6 394.2 1333.7 396.7 1333.2 398.2C1332.7 399.6 1331.4 399.9 1330.3 400.3C1329.3 400.7 1327.4 400.3 1326.8 400.3" fill="none" stroke="#222" stroke-width="1.3"/>
<circle cx="1234.6" cy="313" r="1.35" fill="#222"/>
<circle cx="1278.8" cy="313" r="1.35" fill="#222"/>
<circle cx="1198.9" cy="339" r="1.35" fill="#222"/>
<circle cx="1314.5" cy="339" r="1.35" fill="#222"/>
<circle cx="1185.2" cy="381" r="1.35" fill="#222"/>
<circle cx="1328.2" cy="381" r="1.35" fill="#222"/>
<circle cx="1198.9" cy="423" r="1.35" fill="#222"/>
<circle cx="1314.5" cy="423" r="1.35" fill="#222"/>
<circle cx="1234.6" cy="449" r="1.35" fill="#222"/>
<circle cx="1278.8" cy="449" r="1.35" fill="#222"/>
<circle cx="1288.2" cy="344" r="1.35" fill="#222"/>
<circle cx="1225.2" cy="344" r="1.35" fill="#222"/>
<circle cx="1310.5" cy="361" r="1.35" fill="#222"/>
<circle cx="1202.9" cy="361" r="1.35" fill="#222"/>
<circle cx="1274.8" cy="362.7" r="1.35" fill="#222"/>
<circle cx="1238.6" cy="362.7" r="1.35" fill="#222"/>
<circle cx="1295.3" cy="381" r="1.35" fill="#222"/>
<circle cx="1218.1" cy="381" r="1.35" fill="#222"/>
<circle cx="1311.2" cy="401.4" r="1.35" fill="#222"/>
<circle cx="1202.2" cy="401.4" r="1.35" fill="#222"/>
<circle cx="1274.5" cy="399.9" r="1.35" fill="#222"/>
<circle cx="1238.9" cy="399.9" r="1.35" fill="#222"/>
<circle cx="1288.6" cy="418.4" r="1.35" fill="#222"/>
<circle cx="1224.8" cy="418.4" r="1.35" fill="#222"/>
<circle cx="1280.2" cy="436.8" r="1.35" fill="#222"/>
<circle cx="1233.2" cy="436.8" r="1.35" fill="#222"/>
<circle cx="1256.7" cy="344.9" r="1.35" fill="#222"/>
<circle cx="1256.7" cy="381" r="1.35" fill="#222"/>
<circle cx="1256.7" cy="417.5" r="1.35" fill="#222"/>
<rect x="1248" y="8" width="99" height="5.5" fill="url(#jet)"/><text x="1244" y="12.6" font-family="Liberation Sans, sans-serif" font-size="5.5" fill="#999" text-anchor="end">-10 µV</text><text x="1350" y="12.6" font-family="Liberation Sans, sans-serif" font-size="5.5" fill="#999">10 µV</text>
</svg></body></html>
